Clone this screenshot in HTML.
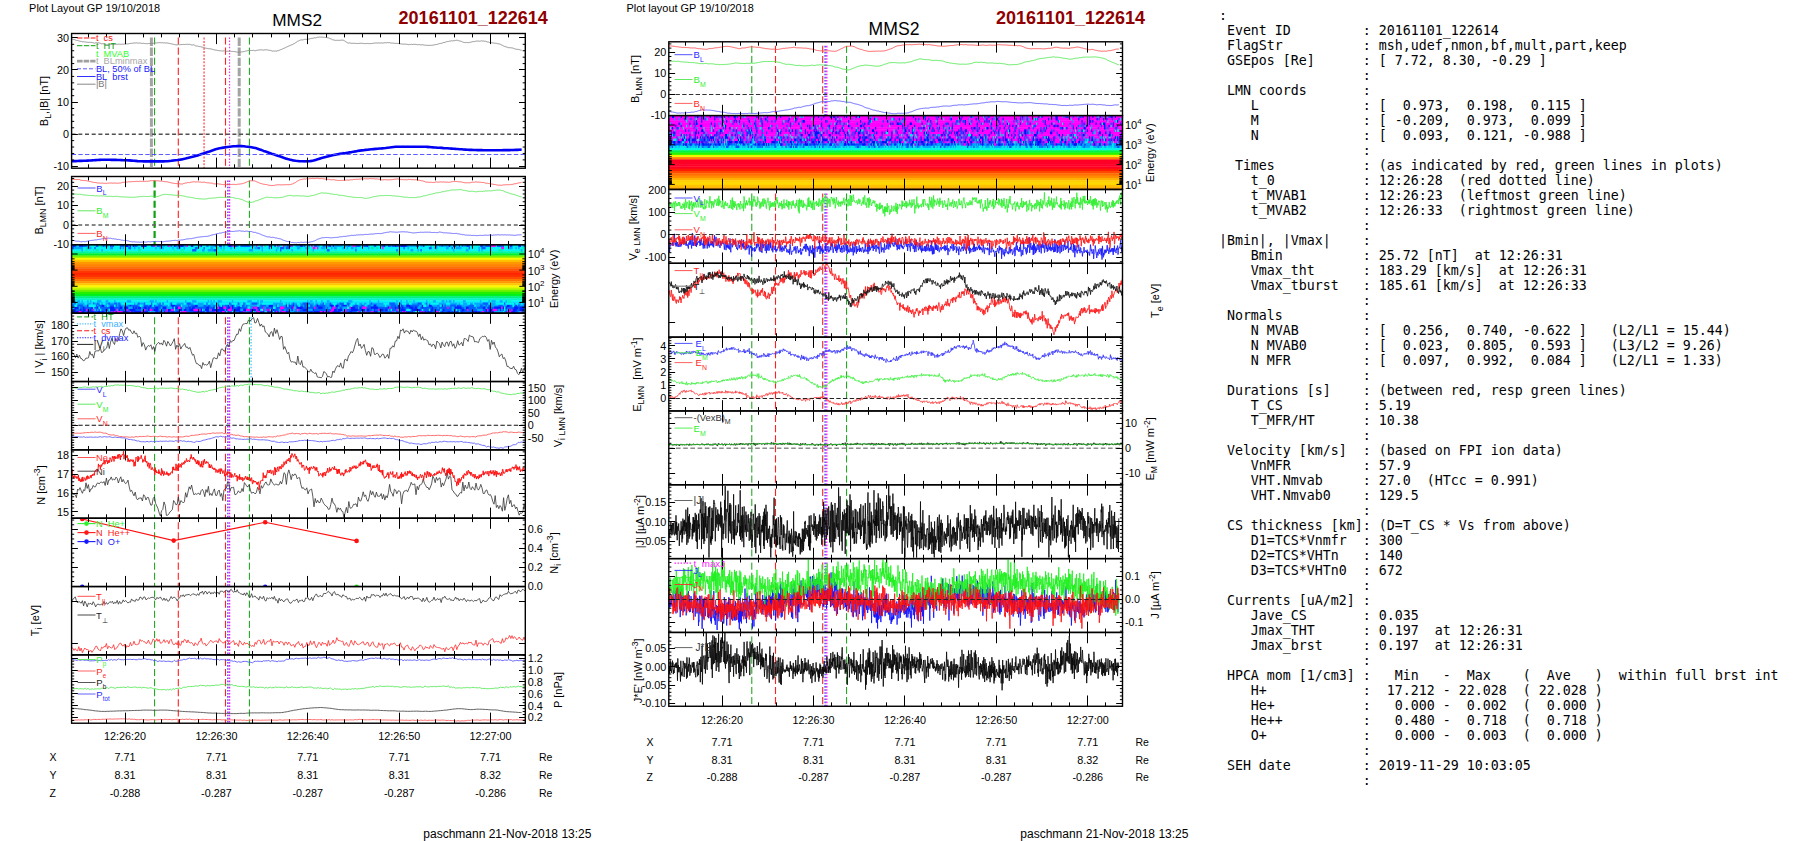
<!DOCTYPE html>
<html><head><meta charset="utf-8"><title>MMS2 20161101_122614</title>
<style>
html,body{margin:0;padding:0;background:#fff}
body{width:1804px;height:841px;position:relative;overflow:hidden}
svg{position:absolute;left:0;top:0;font-family:"Liberation Sans",Arial,sans-serif}
pre{position:absolute;left:1218.9px;top:7.9px;margin:0;font-family:"DejaVu Sans Mono","Liberation Mono",monospace;font-size:13.29px;line-height:15px;color:#000;white-space:pre}
</style></head><body>
<svg width="1804" height="841" viewBox="0 0 1804 841">
<g id="left">
<path d="M151.40 37.50V168.20" stroke="#a4a4a4" stroke-width="3.0" stroke-dasharray="8.4 1.7" fill="none"/>
<path d="M239.20 37.50V168.20" stroke="#a4a4a4" stroke-width="3.0" stroke-dasharray="8.4 1.7" fill="none"/>
<path d="M154.60 37.50V168.20" stroke="#10a010" stroke-width="1.0" stroke-dasharray="7.1 3.0" fill="none"/>
<path d="M249.40 37.50V168.20" stroke="#10a010" stroke-width="1.0" stroke-dasharray="7.1 3.0" fill="none"/>
<path d="M178.30 37.50V168.20" stroke="#ff2020" stroke-width="1.1" stroke-dasharray="7.1 3.0" fill="none"/>
<path d="M225.50 37.50V168.20" stroke="#ff2020" stroke-width="1.1" stroke-dasharray="7.1 3.0" fill="none"/>
<path d="M204.10 37.50V168.20" stroke="#ff7878" stroke-width="1.7" stroke-dasharray="2 1.4" fill="none"/>
<path d="M229.60 37.50V168.20" stroke="#ff20ff" stroke-width="1.1" stroke-dasharray="1.5 1.6" fill="none"/>
<clipPath id="lc1"><rect x="71.60" y="33.50" width="453.70" height="134.70"/></clipPath>
<g clip-path="url(#lc1)">
<path d="M71.6 38.9l1 .4 1 .3 1 0 1 .5 1 .3 1 .1 1 .3 1 .3 1 .2 1 .2 1 .3 1 0 1 .1 1 .1 1 .2 1 .1 1 .1 1-.1 1 .1 1 .1 1 .1 1 .3 1 .3 1-.4 1-.1 1 .1 1 .1 1 .2 1 .2 1 .5 1-.1 1 .1 1 .5 1 .2 1 .2 1 0 1-.2 1 .1 1 .1 1-.2 1-.1 1 0 1-.1 1 0 1 0 1 0 1-.1 1 0 1 .1 1 0 1-.2 1 .1 1-.2 1 .1 1-.2 1 0 1-.1 1-.3 1-.1 1-.1 1 0 1-.2 1-.2 1 .1 1-.1 1 .1 1 .2 1-.2 1 .1 1 .3 1 0 1-.1 1 .2 1 .1 1 .1 1 0 1-.2 1 0 1-.1 1 .1 1 0 1-.3 1-.3 1 0 1 .1 1-.2 1-.1 1 0 1 0 1 .1 1 0 1 0 1 0 1 .3 1-.2 1 .2 1 .2 1 .1 1 .3 1 .1 1 .3 1 .2 1 .2 1 .3 1 .1 1-.1 1-.3 1 .2 1 0 1-.2 1 0 1-.1 1 .1 1-.1 1 0 1-.1 1 .1 1-.1 1 .3 1 .4 1 0 1-.2 1 .4 1 .7 1 .1 1 .1 1 .3 1 .2 1 .1 1 .3 1 .3 1 .3 1 .3 1 .2 1 .2 1 .2 1 .1 1 .2 1 .1 1 .1 1 .4 1 .3 1 .2 1 .2 1 .1 1 .2 1 .2 1 .2 1-.1 1 .3 1 0 1-.1 1 0 1 0 1 .4 1-.1 1 .1 1-.2 1 .1 1 .2 1 .1 1 0 1 .1 1 .2 1 .1 1 .3 1 .1 1-.2 1 0 1-.2 1-.1 1-.2 1-.1 1-.5 1-.1 1-.2 1-.3 1 0 1 .1 1 0 1 0 1-.2 1 .3 1 .1 1-.3 1-.2 1-.1 1-.2 1 0 1-.1 1 .2 1 .2 1-.4 1 .1 1-.2 1 .3 1 .2 1 .2 1 0 1 .4 1 .3 1-.1 1 .1 1-.1 1 .1 1-.4 1 0 1-.6 1-.4 1-.3 1-.5 1-.4 1-.5 1-.4 1-.6 1-.4 1-.5 1-.4 1-.4 1-.5 1-.3 1-.6 1-.5 1-.7 1-.6 1-.8 1-.3 1-.6 1-.4 1-.1 1 0 1-.2 1-.4 1 .1 1-.1 1-.3 1 .1 1-.2 1-.3 1-.2 1-.1 1-.2 1-.4 1 .2 1-.3 1-.4 1 0 1-.1 1 0 1 0 1 .1 1 .1 1 0 1 .2 1 .1 1 .1 1 .2 1 .5 1 .4 1 .3 1 .7 1 .1 1 .3 1 .2 1-.1 1 0 1 0 1 .1 1-.2 1-.1 1 .1 1-.1 1 1 1 .5 1 .6 1 .6 1 .3 1-.2 1 .2 1 .2 1 0 1 0 1 .1 1-.1 1 .2 1 0 1 0 1-.2 1 0 1-.1 1 .2 1 .1 1 .1 1 0 1 0 1-.2 1 .1 1 .2 1-.1 1-.1 1-.1 1-.2 1-.1 1-.1 1-.1 1 .2 1-.1 1 0 1 0 1-.1 1 .2 1-.2 1-.1 1-.1 1 .1 1-.2 1 .1 1-.1 1 .4 1 .1 1 0 1 .1 1 .1 1 .1 1 0 1 0 1 .1 1 0 1 .3 1 .2 1 .1 1 .1 1-.1 1 .1 1 .1 1 .1 1 .3 1-.3 1 .1 1-.2 1 .2 1-.2 1 0 1 .1 1 .2 1 .1 1-.1 1 0 1 .3 1 0 1-.2 1 .3 1 .1 1 .2 1 0 1 .1 1-.1 1 .1 1-.1 1 0 1 0 1-.3 1-.2 1-.2 1-.1 1-.2 1-.5 1-.2 1-.2 1 0 1-.5 1-.4 1 0 1-.4 1-.4 1-.2 1 0 1-.4 1-.1 1-.2 1 .1 1-.2 1 0 1-.3 1-.1 1 0 1 .4 1 .3 1 .1 1 .4 1 .5 1 .3 1 .2 1 .2 1-.2 1 .1 1 0 1-.2 1-.1 1-.3 1-.3 1-.2 1 .1 1-.4 1-.1 1 0 1 0 1 .1 1-.1 1-.3 1 .3 1-.1 1 .2 1 .1 1 .4 1 .3 1 .1 1 .4 1 .1 1 .1 1 .2 1 .1 1 .2 1 .1 1 .1 1 .3 1 .1 1 .3 1 .3 1 .6 1 .3 1 .7 1 .4 1 .3 1 .3 1 .4 1 .3 1 0 1 0 1 .2 1 .1 1 .4 1 .4 1 .3 1 .2 1 0 1 .2 1 .2 1 .4 1 .1" fill="none" stroke="#8a8a8a" stroke-width="0.9"/>
<path d="M71.6 161.2l1-.1 1-.1 1-.5 1 .4 1 .2 1-.1 1 .1 1 0 1-.2 1 .2 1-.1 1-.2 1-.2 1 .1 1-.1 1 .1 1-.2 1 0 1-.2 1 .1 1-.1 1 0 1 0 1-.2 1 .1 1 .3 1-.4 1-.4 1-.3 1 .1 1 .1 1 .2 1 .1 1 .1 1 0 1 0 1 .1 1-.2 1-.1 1 .1 1 .3 1-.1 1-.2 1-.1 1 .2 1 0 1 .3 1-.4 1 .3 1 .2 1-.3 1 .1 1 .2 1 .1 1 .2 1 .5 1 0 1-.1 1-.1 1 .1 1 0 1 0 1 .1 1 .1 1-.1 1-.3 1-.4 1 .4 1 .1 1 .4 1 0 1-.1 1 .1 1 0 1-.2 1-.2 1 .4 1 .1 1 .1 1-.1 1-.1 1 .1 1 0 1-.1 1-.1 1-.1 1 0 1 .3 1-.2 1 .3 1-.1 1 0 1-.2 1-.1 1-.1 1-.1 1-.2 1-.2 1-.2 1-.4 1-.1 1 0 1 .1 1 0 1 .4 1-.1 1-.3 1 .2 1-.4 1 0 1-.4 1-.2 1-.6 1 0 1-.3 1-.4 1 .1 1-.1 1-.3 1-.4 1-.3 1-.3 1-.1 1-.2 1-.4 1-.4 1-.5 1-.5 1-.5 1-.3 1-.2 1-.1 1-.5 1-.2 1-.4 1 .1 1-.4 1-.3 1-.5 1-.5 1-.3 1-.5 1-.2 1-.6 1-.2 1-.4 1 .1 1-.3 1 0 1-.4 1-.1 1-.3 1-.3 1-.1 1-.2 1-.1 1 .1 1 0 1-.2 1-.4 1-.2 1-.1 1-.5 1 .2 1-.1 1 0 1 .2 1 .1 1 .1 1-.1 1 .1 1 .2 1-.1 1 .3 1 .3 1-.3 1 .2 1-.1 1 .5 1 .3 1 0 1 0 1 .2 1 .3 1 .6 1 .4 1 .3 1 .4 1 0 1 .5 1 .5 1 .4 1 .2 1 .5 1 .7 1 .4 1 .1 1 .6 1-.1 1 .4 1 .2 1 .6 1 .1 1 .6 1 .4 1 0 1-.1 1 .3 1 .7 1 .3 1 .4 1 .4 1 .5 1 .4 1 .4 1 .1 1 .5 1 .5 1-.1 1 .7 1 .3 1 0 1-.3 1 .3 1 .3 1 0 1-.3 1 .3 1-.1 1-.1 1 .6 1 .4 1 .1 1-.2 1 .1 1-.5 1 0 1-.2 1-.4 1-.5 1 0 1-.2 1-.2 1-.1 1-.5 1-.5 1-.7 1-.3 1 0 1-.3 1 0 1-.5 1-.3 1-.4 1-.4 1 .2 1-.1 1-.4 1-.3 1-.3 1-.4 1-.1 1-.4 1-.2 1-.3 1-.2 1-.3 1-.4 1-.2 1-.2 1-.1 1 0 1 .3 1 0 1-.1 1 0 1-.3 1 .1 1 0 1-.5 1 0 1 0 1-.7 1-.3 1-.2 1-.5 1-.2 1-.3 1 .1 1 0 1 .4 1-.1 1 .1 1-.1 1-.1 1-.3 1-.5 1-.2 1 .1 1 .2 1 .1 1 0 1-.3 1 .2 1 .1 1-.2 1-.1 1-.4 1 .2 1 0 1-.2 1 0 1-.1 1-.2 1-.4 1-.4 1-.4 1 0 1 .3 1-.4 1-.1 1 0 1-.3 1 0 1-.3 1 .3 1-.2 1 .1 1 .1 1 0 1-.4 1 0 1 .2 1 0 1 0 1-.1 1 0 1 .2 1 0 1 .4 1 0 1-.3 1-.3 1 .3 1 0 1 .2 1 .1 1 .3 1 .2 1-.2 1 0 1 .2 1-.3 1 .3 1 .2 1 .2 1 0 1 0 1-.2 1 0 1 0 1 0 1 0 1 .1 1 .3 1-.2 1 .2 1-.3 1-.4 1 .1 1 .1 1 .2 1-.2 1 .1 1 .2 1 .3 1 .1 1 .2 1-.1 1 0 1 .1 1 .2 1-.1 1-.1 1 .2 1 .5 1 .1 1 .1 1 0 1 .3 1 .2 1 .3 1 .1 1-.2 1-.1 1-.1 1-.2 1 .3 1 .2 1-.2 1 .4 1 0 1-.2 1 .1 1 0 1-.1 1-.4 1 .1 1 .1 1-.5 1 .2 1 .2 1-.1 1 .1 1 0 1-.1 1 0 1 .3 1-.3 1 .1 1 .1 1-.1 1-.1 1-.2 1-.1 1 .1 1 .1 1-.1 1 .6 1-.1 1 .1 1-.1 1-.1 1 .3 1-.1 1 .2 1 .2 1-.2 1 .1 1-.2 1 .5 1-.1 1-.3 1-.4 1-.3 1-.1 1-.2 1-.2 1-.1 1 0" fill="none" stroke="#5a5aff" stroke-width="0.8"/>
<path d="M71.6 161.2l2 0 2-.1 2-.1 2-.1 2 0 2-.1 2-.1 2-.1 2-.1 2-.1 2-.2 2-.1 2-.1 2-.1 2-.1 2 0 2 0 2 0 2 0 2 .1 2 0 2 0 2 .1 2 0 2 .1 2 .1 2 0 2 .1 2 .1 2 .2 2 .2 2 .1 2 .2 2 .1 2 .1 2 .1 2 0 2 0 2 0 2 0 2 0 2 0 2 0 2 0 2 0 2 0 2-.1 2-.1 2-.2 2-.2 2-.3 2-.3 2-.2 2-.3 2-.3 2-.4 2-.4 2-.5 2-.5 2-.5 2-.5 2-.6 2-.6 2-.6 2-.7 2-.7 2-.7 2-.7 2-.6 2-.7 2-.7 2-.7 2-.5 2-.5 2-.4 2-.3 2-.3 2-.3 2-.3 2-.2 2-.2 2-.1 2-.1 2-.1 2 .1 2 .1 2 .3 2 .2 2 .3 2 .3 2 .4 2 .4 2 .6 2 .7 2 .7 2 .8 2 .7 2 .7 2 .7 2 .7 2 .6 2 .7 2 .7 2 .6 2 .7 2 .7 2 .7 2 .7 2 .5 2 .4 2 .4 2 .4 2 .2 2 .2 2 0 2 0 2 0 2 0 2 0 2-.3 2-.4 2-.6 2-.6 2-.6 2-.6 2-.5 2-.5 2-.5 2-.6 2-.5 2-.4 2-.4 2-.4 2-.3 2-.3 2-.3 2-.3 2-.4 2-.3 2-.3 2-.4 2-.3 2-.4 2-.3 2-.3 2-.2 2-.3 2-.2 2-.2 2-.2 2-.2 2-.2 2-.2 2-.2 2-.1 2-.2 2-.2 2-.3 2-.2 2-.3 2-.2 2-.2 2-.1 2 0 2 0 2 0 2 0 2 0 2 0 2 0 2 0 2 0 2 0 2 0 2 0 2 0 2 .1 2 .1 2 .1 2 .2 2 .2 2 .1 2 .2 2 .1 2 .1 2 .2 2 .1 2 .1 2 .2 2 .1 2 .1 2 .2 2 .1 2 .2 2 .1 2 .2 2 .1 2 .1 2 .2 2 0 2 .1 2 0 2 .1 2 0 2 0 2 .1 2 0 2 0 2 0 2 0 2 0 2 0 2 0 2 0 2 0 2-.1 2 0 2 0 2 0 2-.1 2 0 2-.1 2 0 2-.1 2 0" fill="none" stroke="#0000f4" stroke-width="2.6" stroke-linejoin="round"/>
</g>
<path d="M71.60 134.20H525.30" stroke="#505050" stroke-width="1.4" stroke-dasharray="4.0 2.7" fill="none"/>
<path d="M71.60 154.50H525.30" stroke="#4848ff" stroke-width="0.9" stroke-dasharray="4.4 2.3" fill="none"/>
<path d="M88.50 168.20v-3.90M88.50 33.50v3.90M106.50 168.20v-3.90M106.50 33.50v3.90M125.50 168.20v-10.60M125.50 33.50v10.60M143.50 168.20v-3.90M143.50 33.50v3.90M161.50 168.20v-3.90M161.50 33.50v3.90M179.50 168.20v-3.90M179.50 33.50v3.90M198.50 168.20v-3.90M198.50 33.50v3.90M216.50 168.20v-10.60M216.50 33.50v10.60M234.50 168.20v-3.90M234.50 33.50v3.90M252.50 168.20v-3.90M252.50 33.50v3.90M271.50 168.20v-3.90M271.50 33.50v3.90M289.50 168.20v-3.90M289.50 33.50v3.90M307.50 168.20v-10.60M307.50 33.50v10.60M326.50 168.20v-3.90M326.50 33.50v3.90M344.50 168.20v-3.90M344.50 33.50v3.90M362.50 168.20v-3.90M362.50 33.50v3.90M380.50 168.20v-3.90M380.50 33.50v3.90M399.50 168.20v-10.60M399.50 33.50v10.60M417.50 168.20v-3.90M417.50 33.50v3.90M435.50 168.20v-3.90M435.50 33.50v3.90M454.50 168.20v-3.90M454.50 33.50v3.90M472.50 168.20v-3.90M472.50 33.50v3.90M490.50 168.20v-10.60M490.50 33.50v10.60M508.50 168.20v-3.90M508.50 33.50v3.90" stroke="#000" stroke-width="1.0" fill="none"/>
<path d="M71.60 37.50h6.30M525.30 37.50h-6.30M71.60 69.50h6.30M525.30 69.50h-6.30M71.60 102.50h6.30M525.30 102.50h-6.30M71.60 134.50h6.30M525.30 134.50h-6.30M71.60 166.50h6.30M525.30 166.50h-6.30M71.60 159.88h2.60M525.30 159.88h-2.60M71.60 153.46h2.60M525.30 153.46h-2.60M71.60 147.04h2.60M525.30 147.04h-2.60M71.60 140.62h2.60M525.30 140.62h-2.60M71.60 127.78h2.60M525.30 127.78h-2.60M71.60 121.36h2.60M525.30 121.36h-2.60M71.60 114.94h2.60M525.30 114.94h-2.60M71.60 108.52h2.60M525.30 108.52h-2.60M71.60 95.68h2.60M525.30 95.68h-2.60M71.60 89.26h2.60M525.30 89.26h-2.60M71.60 82.84h2.60M525.30 82.84h-2.60M71.60 76.42h2.60M525.30 76.42h-2.60M71.60 63.58h2.60M525.30 63.58h-2.60M71.60 57.16h2.60M525.30 57.16h-2.60M71.60 50.74h2.60M525.30 50.74h-2.60M71.60 44.32h2.60M525.30 44.32h-2.60" stroke="#000" stroke-width="1.0" fill="none"/>
<rect x="71.60" y="33.50" width="453.70" height="134.70" fill="none" stroke="#000" stroke-width="1.4"/>
<text x="69.10" y="41.79" font-size="10.8" text-anchor="end">30</text>
<text x="69.10" y="73.89" font-size="10.8" text-anchor="end">20</text>
<text x="69.10" y="105.99" font-size="10.8" text-anchor="end">10</text>
<text x="69.10" y="138.09" font-size="10.8" text-anchor="end">0</text>
<text x="69.10" y="169.59" font-size="10.8" text-anchor="end">-10</text>
<text transform="translate(47.80 101.00) rotate(-90)" font-size="11" text-anchor="middle">B<tspan font-size="8.8" dy="3.2">L</tspan><tspan dy="-3.2">&#8203;</tspan>,|B| [nT]</text>
<path d="M77.00 38.00h18.50" stroke="#ff1010" stroke-width="1.1" stroke-dasharray="5.4 1.5" fill="none"/>
<text x="95.90" y="41.20" font-size="9.25" fill="#ff1010">t&#160;&#160;cs</text>
<path d="M77.00 45.70h18.50" stroke="#10a010" stroke-width="1.0" stroke-dasharray="5.4 1.5" fill="none"/>
<text x="95.90" y="48.90" font-size="9.25" fill="#10a010">t&#160;&#160;HT</text>
<text x="95.90" y="56.60" font-size="9.25" fill="#30ff30">t&#160;&#160;MVAB</text>
<path d="M77.00 61.10h18.50" stroke="#a0a0a0" stroke-width="2.6" stroke-dasharray="5.6 1.0" fill="none"/>
<text x="95.90" y="64.30" font-size="9.25" fill="#a8a8a8">t&#160;&#160;BLminmax</text>
<path d="M77.00 68.80h18.50" stroke="#4848ff" stroke-width="0.9" stroke-dasharray="4 2" fill="none"/>
<text x="95.90" y="72.00" font-size="9.25" fill="#2020ff">BL, 50% of BL</text>
<path d="M77.00 76.50h18.50" stroke="#3030ff" stroke-width="1.0" fill="none"/>
<text x="95.90" y="79.70" font-size="9.25" fill="#2020ff">BL&#160;&#160;brst</text>
<path d="M77.00 84.20h18.50" stroke="#888" stroke-width="1.0" fill="none"/>
<text x="95.90" y="87.40" font-size="9.25" fill="#777">|B|</text>
<path d="M154.60 180.50V244.84" stroke="#10a010" stroke-width="2.2" stroke-dasharray="7.1 3.0" fill="none"/>
<path d="M249.40 180.50V244.84" stroke="#10a010" stroke-width="1.0" stroke-dasharray="7.1 3.0" fill="none"/>
<path d="M178.30 180.50V244.84" stroke="#ff2020" stroke-width="1.1" stroke-dasharray="7.1 3.0" fill="none"/>
<path d="M225.50 180.50V244.84" stroke="#ff2020" stroke-width="1.1" stroke-dasharray="7.1 3.0" fill="none"/>
<path d="M227.90 180.50V244.84" stroke="#3030ff" stroke-width="1.3" stroke-dasharray="1.6 1.5" fill="none"/>
<path d="M229.60 180.50V244.84" stroke="#ff10ff" stroke-width="1.3" stroke-dasharray="1.6 1.5" fill="none"/>
<clipPath id="lc2"><rect x="71.60" y="176.50" width="453.70" height="68.34"/></clipPath>
<g clip-path="url(#lc2)">
<path d="M71.6 179.6l1-.3 1 .1 1 .1 1 0 1 .1 1-.1 1 .1 1 0 1 .6 1 .2 1 0 1 .1 1 .1 1 0 1 .1 1 .3 1 .2 1 .3 1 .1 1 .2 1 .4 1 .2 1 .1 1 .1 1 .1 1 .3 1 0 1 0 1 .2 1-.1 1 0 1 .1 1 .1 1 0 1 .1 1-.3 1 .1 1-.1 1-.1 1 0 1 .2 1-.1 1-.1 1 .1 1 0 1 .1 1 0 1-.2 1 0 1-.3 1-.3 1-.1 1 0 1-.1 1-.2 1 0 1-.3 1 .1 1 0 1-.2 1 0 1-.1 1 .1 1-.2 1-.1 1 .1 1 .2 1-.3 1 0 1 .1 1-.1 1 .2 1-.1 1 0 1-.2 1 .1 1-.1 1-.2 1-.4 1 .1 1 0 1 0 1 .1 1 .1 1-.1 1 0 1 0 1 .3 1 0 1 0 1 .2 1 .2 1 .2 1 0 1 0 1 .2 1 .3 1 .3 1 .2 1 .2 1 .2 1 .1 1 .3 1 0 1 .1 1 .1 1 .1 1-.1 1 .3 1 0 1 0 1-.5 1-.2 1-.3 1 0 1-.5 1 .1 1 0 1-.3 1-.2 1-.2 1-.1 1 0 1 .2 1-.1 1 0 1 0 1 .2 1 0 1 .2 1-.1 1 0 1 0 1 .3 1 .2 1 .1 1 0 1 .2 1 .1 1 0 1 .2 1 .5 1 .1 1 0 1-.1 1-.1 1 .2 1 .2 1 .1 1 .2 1 .1 1 .1 1-.1 1 0 1 .1 1-.1 1 0 1-.1 1 0 1 .1 1-.1 1 0 1 0 1 .1 1 .1 1-.4 1 0 1-.1 1-.2 1-.1 1-.2 1-.3 1-.5 1-.2 1-.5 1-.5 1-.3 1-.5 1 0 1-.1 1 .1 1 0 1 .1 1 .4 1 .5 1 .3 1 .5 1 .4 1 .5 1 .1 1 .4 1 .2 1 .2 1 .1 1 .1 1 .3 1 .3 1 .1 1 .1 1 .2 1-.1 1 0 1-.2 1-.3 1 0 1-.3 1 .1 1 0 1 .1 1 0 1-.1 1 0 1-.1 1 0 1 0 1 0 1 0 1-.1 1 0 1-.4 1-.3 1-.6 1-.4 1-.4 1-.9 1-.6 1-.5 1-.6 1-.2 1-.2 1-.3 1-.1 1-.1 1 0 1-.2 1 0 1 .1 1-.2 1-.1 1-.1 1-.1 1 .2 1 0 1-.1 1-.2 1 0 1 .3 1 0 1 0 1 0 1 0 1 .3 1 0 1 .2 1 .1 1 .1 1 0 1 .3 1 .1 1 .1 1-.1 1 0 1 .2 1 .2 1 .1 1 .2 1 .1 1-.1 1 0 1 0 1-.1 1 0 1 0 1-.1 1-.1 1-.1 1 .2 1-.2 1-.2 1-.1 1 .1 1-.4 1 0 1 0 1-.2 1 .1 1 0 1-.2 1 0 1-.3 1-.1 1 .2 1-.2 1 .2 1-.1 1 .1 1 0 1-.3 1 0 1 .1 1 0 1 0 1 .2 1 0 1 0 1 .1 1 .2 1 .1 1 .3 1 .3 1 0 1-.1 1-.1 1 0 1 .1 1 0 1 .1 1-.1 1 0 1-.1 1-.1 1-.2 1-.2 1 0 1-.2 1-.1 1 .2 1 0 1 .4 1 .2 1-.1 1 .1 1 0 1 0 1 .1 1-.1 1-.4 1 .2 1 0 1 .2 1 0 1-.1 1 .2 1-.1 1 .1 1 .3 1 .1 1 .1 1 .2 1 .3 1 .1 1 .3 1 .3 1 .5 1 .1 1 0 1 .2 1 0 1 0 1 0 1 .2 1-.1 1 0 1-.4 1-.1 1 .3 1-.1 1-.1 1-.1 1 .1 1 .1 1-.2 1 .2 1 0 1 .1 1-.1 1 .2 1-.1 1-.2 1-.2 1-.2 1 0 1-.2 1 .1 1 0 1 .2 1 .1 1 .1 1-.1 1 .2 1 .3 1 .2 1 .2 1 .1 1 0 1-.1 1 .1 1 0 1-.2 1-.3 1-.1 1 0 1 0 1-.3 1 .1 1 .1 1 0 1 .1 1 .1 1 .1 1 .1 1 0 1 .3 1 .2 1 .4 1-.2 1 .3 1 .2 1 .1 1 .2 1 .2 1 .2 1 .1 1 .1 1 .3 1 .2 1 .1 1 0 1 0 1 .1 1-.2 1-.2 1 0 1-.1 1-.1 1 0 1 .1 1-.2 1 .1 1-.3 1 0 1-.4 1-.2 1-.1 1-.2 1-.3 1-.3 1-.1 1-.2 1-.2" fill="none" stroke="#ff5050" stroke-width="0.85"/>
<path d="M71.6 193.7l1 .1 1 .3 1 .1 1-.1 1 .1 1 0 1 .1 1-.1 1 .1 1 .2 1 .3 1 .1 1 .1 1-.1 1 .4 1-.1 1 .2 1 .1 1-.1 1 .1 1 0 1 .1 1 .1 1 .3 1-.2 1 .1 1 0 1 .2 1-.3 1 .1 1 .1 1-.2 1 .2 1 .1 1 .2 1 .1 1-.1 1 0 1 0 1 .1 1 .2 1-.1 1-.1 1 0 1-.1 1 .1 1 0 1 .4 1 0 1 0 1 .2 1-.1 1 0 1 .1 1 .2 1-.2 1 .2 1 0 1 0 1 .1 1 0 1 0 1 0 1-.2 1 0 1-.3 1 .1 1-.3 1-.2 1 .2 1-.1 1-.2 1 .2 1-.1 1 .1 1 0 1 0 1-.1 1-.2 1 0 1 .1 1 .2 1 .4 1-.2 1 0 1-.2 1-.3 1-.4 1-.4 1-.3 1-.4 1-.2 1-.2 1 .1 1 .1 1 0 1 .2 1 .1 1 0 1 0 1 .1 1 .2 1 .1 1 .1 1 .1 1-.1 1 .1 1-.1 1 .3 1 .1 1 .2 1 .2 1 .2 1 .1 1 .4 1 .2 1 0 1 .3 1-.1 1 .4 1 .1 1 .1 1 .4 1 .3 1 0 1 .1 1 .1 1 .2 1 0 1-.1 1 .2 1 0 1 0 1 0 1-.2 1-.1 1-.4 1-.1 1 .1 1-.2 1 0 1 0 1-.1 1-.2 1-.1 1-.2 1-.2 1 0 1 0 1 .1 1-.1 1 .1 1-.1 1 0 1 0 1 0 1 0 1 0 1 0 1 0 1 .2 1 .3 1 .1 1 .5 1 .2 1-.2 1 .2 1 .4 1 .3 1 .2 1 .3 1 .5 1 .5 1 .4 1 .4 1 .4 1 .3 1 0 1 .1 1-.1 1-.2 1-.2 1-.3 1-.8 1-.1 1-.3 1-.4 1-.4 1-.3 1-.5 1-.2 1-.4 1-.4 1-.4 1-.2 1 0 1 .2 1 0 1 0 1 0 1 .1 1 .3 1-.1 1 .2 1-.3 1 .1 1 .1 1-.2 1-.2 1 0 1-.1 1-.4 1-.2 1-.5 1-.1 1-.3 1-.3 1-.1 1 0 1 .2 1 .3 1 0 1 0 1-.1 1-.1 1 .1 1 0 1 .1 1 0 1 .2 1-.2 1 0 1 .2 1 .2 1-.1 1 .2 1-.1 1-.1 1-.4 1-.1 1-.2 1-.2 1-.2 1-.4 1-.4 1-.2 1-.4 1-.3 1-.3 1-.2 1 0 1 .2 1-.1 1 .2 1-.1 1 .2 1 .1 1 .3 1 .2 1 0 1 .2 1 .2 1 .1 1 .1 1-.1 1 .5 1 .2 1 .2 1 0 1 0 1 .2 1 .1 1 .3 1 0 1 .3 1 .3 1 0 1 .3 1 0 1 .1 1 .2 1 .2 1 0 1 .1 1 .2 1-.1 1 0 1 0 1-.1 1 .2 1 .1 1 .4 1 .2 1 .1 1-.1 1-.1 1-.1 1-.4 1 0 1-.3 1-.4 1-.3 1-.2 1 0 1-.3 1-.2 1-.1 1-.2 1 0 1 0 1-.2 1 .2 1-.2 1 .1 1-.1 1 0 1-.1 1 .2 1-.1 1 .1 1 .3 1 0 1 0 1 .2 1 0 1 .1 1 0 1 .3 1 .1 1 0 1 .3 1 .2 1 .1 1 0 1 0 1 .1 1 .2 1 .2 1-.2 1 0 1 .1 1 0 1-.1 1 .1 1-.2 1-.2 1-.2 1 0 1-.2 1-.3 1-.2 1-.5 1 0 1-.2 1-.2 1-.3 1-.5 1-.1 1-.2 1-.2 1-.2 1-.3 1-.2 1-.3 1-.4 1 .2 1-.2 1-.3 1 0 1-.6 1-.1 1-.1 1-.3 1 0 1-.4 1-.1 1 0 1-.4 1-.3 1-.1 1 0 1-.1 1 0 1 0 1-.1 1 0 1-.1 1-.1 1-.2 1 .4 1 .2 1 .4 1 0 1 .2 1 .2 1 .2 1 .2 1 .2 1 0 1-.2 1 0 1 .3 1 .1 1 .2 1-.1 1-.1 1-.2 1 0 1-.1 1 0 1 .2 1-.3 1 0 1-.3 1 .1 1-.1 1-.1 1 0 1 .1 1-.1 1-.1 1-.3 1 0 1-.1 1-.2 1 0 1 .1 1-.1 1 .1 1 .3 1 0 1 .5 1 .6 1 .3 1 .5 1 .2 1 .4 1 .3 1 .4 1 .2 1 .2 1 .3 1 .3 1 .3 1 .4 1 .3 1 .4 1 .4 1 .2 1 .3" fill="none" stroke="#50e850" stroke-width="0.85"/>
<path d="M71.6 240.3l1 0 1 .2 1 .2 1 .3 1 .2 1 0 1 0 1 .2 1 .3 1 .1 1-.2 1-.1 1 .2 1-.1 1-.3 1-.1 1-.3 1-.2 1-.1 1-.2 1-.1 1-.1 1-.2 1-.1 1 0 1-.3 1-.1 1-.2 1-.1 1-.3 1-.1 1-.1 1-.1 1-.1 1-.1 1-.1 1-.2 1 .2 1-.1 1 .4 1 .2 1-.1 1 .3 1 0 1 .3 1 .2 1-.1 1 .2 1 .2 1 .4 1 0 1 .2 1 0 1 .1 1 0 1 .3 1 .2 1 .4 1 .2 1 .1 1 .2 1-.1 1 0 1 .2 1 0 1 .1 1 0 1 .1 1-.1 1 0 1 0 1 .1 1-.2 1 .1 1-.1 1-.2 1-.1 1 .1 1 0 1-.1 1-.1 1 .1 1-.2 1-.1 1 .2 1-.2 1 .1 1 0 1 0 1 0 1 .3 1-.1 1-.2 1-.2 1-.1 1 0 1-.1 1-.1 1-.1 1-.2 1-.1 1-.1 1-.1 1-.1 1 .2 1-.1 1-.3 1 .1 1-.1 1-.2 1 0 1-.2 1-.2 1-.2 1-.3 1-.1 1 0 1-.2 1-.1 1 .1 1-.4 1-.1 1-.2 1-.3 1-.3 1-.1 1-.1 1-.2 1-.1 1-.1 1-.1 1-.1 1-.1 1-.1 1 0 1-.1 1-.3 1-.1 1-.5 1-.3 1-.2 1-.3 1-.1 1-.3 1-.6 1 0 1-.1 1-.4 1 0 1-.1 1-.5 1-.1 1-.2 1 .1 1-.3 1-.1 1-.2 1-.1 1-.2 1 0 1 0 1 .1 1-.2 1-.2 1 0 1-.1 1-.1 1-.2 1 .3 1 .2 1-.1 1 .1 1 .3 1-.3 1 0 1 0 1 .2 1 .1 1 0 1 .1 1 .4 1 .3 1 .1 1 0 1 .6 1 .2 1 .2 1 .4 1 .5 1 .5 1 .4 1 .3 1 .4 1 .3 1 .5 1 .2 1 0 1 0 1 .4 1 .1 1-.1 1 .1 1 .2 1 .4 1 0 1 .3 1 .3 1 .1 1 .2 1 .5 1 .5 1 .4 1 .3 1 .4 1 .3 1 .2 1 .1 1 .2 1 .2 1 .5 1 0 1 .1 1 .2 1-.1 1 .2 1-.4 1 0 1 .2 1-.4 1-.1 1 .2 1 0 1-.2 1 0 1 0 1 .1 1 .1 1-.2 1-.2 1-.3 1-.1 1-.4 1-.3 1-.5 1-.6 1-.6 1-.2 1-.4 1-.3 1-.4 1-.1 1-.1 1-.1 1-.1 1 0 1 0 1 .1 1 .1 1 .1 1 0 1-.1 1-.1 1 0 1-.2 1 0 1 0 1-.2 1-.4 1 0 1-.1 1 0 1-.4 1 .1 1 0 1-.2 1-.2 1-.1 1-.2 1-.1 1-.3 1 .1 1 0 1-.1 1 0 1-.4 1 .1 1-.1 1-.1 1 0 1-.1 1 .1 1-.1 1-.2 1-.1 1 0 1 .1 1-.1 1-.3 1 .1 1-.2 1 .1 1-.1 1-.2 1-.2 1 0 1 0 1-.1 1 0 1 .2 1-.2 1-.3 1-.2 1-.3 1-.1 1-.2 1-.2 1 0 1-.3 1-.2 1 .2 1 .1 1 0 1 .1 1 .1 1 0 1 0 1-.2 1 0 1-.1 1-.1 1 0 1 0 1 0 1 .2 1-.1 1 .1 1 .3 1 0 1 .2 1 .2 1 .2 1 .1 1-.2 1 0 1-.1 1-.2 1 0 1-.1 1-.2 1 .1 1 0 1 0 1-.1 1 0 1 0 1 0 1 0 1 0 1 .1 1 .2 1 0 1 0 1-.1 1 .2 1 0 1 0 1-.3 1-.3 1 .2 1 .1 1 .3 1 .2 1 0 1 .1 1-.1 1 .2 1 0 1 .1 1 .1 1 .1 1 .2 1 0 1 0 1-.1 1 0 1 .4 1 0 1 .2 1 .3 1 .1 1 .3 1-.1 1 .2 1 .3 1 0 1 .1 1 0 1 .1 1-.1 1 .3 1 0 1-.2 1 .2 1 .1 1 0 1 0 1-.1 1-.1 1 0 1 0 1 0 1 0 1-.2 1-.1 1 .1 1 .1 1-.1 1-.2 1 .2 1 0 1 .1 1-.3 1 0 1-.1 1 0 1-.2 1 .2 1 0 1 .1 1-.2 1 0 1 .2 1-.2 1 .1 1 .1 1-.1 1 .1 1-.1 1 .2 1 0 1 0 1 .2 1 0 1 0 1-.2 1-.2 1 0 1 0 1-.1 1 0" fill="none" stroke="#5858ff" stroke-width="0.85"/>
</g>
<path d="M71.60 225.00H525.30" stroke="#606060" stroke-width="1.5" stroke-dasharray="3.9 2.8" fill="none"/>
<path d="M88.50 244.84v-3.90M88.50 176.50v3.90M106.50 244.84v-3.90M106.50 176.50v3.90M125.50 244.84v-10.60M125.50 176.50v10.60M143.50 244.84v-3.90M143.50 176.50v3.90M161.50 244.84v-3.90M161.50 176.50v3.90M179.50 244.84v-3.90M179.50 176.50v3.90M198.50 244.84v-3.90M198.50 176.50v3.90M216.50 244.84v-10.60M216.50 176.50v10.60M234.50 244.84v-3.90M234.50 176.50v3.90M252.50 244.84v-3.90M252.50 176.50v3.90M271.50 244.84v-3.90M271.50 176.50v3.90M289.50 244.84v-3.90M289.50 176.50v3.90M307.50 244.84v-10.60M307.50 176.50v10.60M326.50 244.84v-3.90M326.50 176.50v3.90M344.50 244.84v-3.90M344.50 176.50v3.90M362.50 244.84v-3.90M362.50 176.50v3.90M380.50 244.84v-3.90M380.50 176.50v3.90M399.50 244.84v-10.60M399.50 176.50v10.60M417.50 244.84v-3.90M417.50 176.50v3.90M435.50 244.84v-3.90M435.50 176.50v3.90M454.50 244.84v-3.90M454.50 176.50v3.90M472.50 244.84v-3.90M472.50 176.50v3.90M490.50 244.84v-10.60M490.50 176.50v10.60M508.50 244.84v-3.90M508.50 176.50v3.90" stroke="#000" stroke-width="1.0" fill="none"/>
<path d="M71.60 186.50h6.30M525.30 186.50h-6.30M71.60 205.50h6.30M525.30 205.50h-6.30M71.60 225.50h6.30M525.30 225.50h-6.30M71.60 240.52h2.60M525.30 240.52h-2.60M71.60 236.64h2.60M525.30 236.64h-2.60M71.60 232.76h2.60M525.30 232.76h-2.60M71.60 228.88h2.60M525.30 228.88h-2.60M71.60 221.12h2.60M525.30 221.12h-2.60M71.60 217.24h2.60M525.30 217.24h-2.60M71.60 213.36h2.60M525.30 213.36h-2.60M71.60 209.48h2.60M525.30 209.48h-2.60M71.60 201.72h2.60M525.30 201.72h-2.60M71.60 197.84h2.60M525.30 197.84h-2.60M71.60 193.96h2.60M525.30 193.96h-2.60M71.60 190.08h2.60M525.30 190.08h-2.60M71.60 182.32h2.60M525.30 182.32h-2.60M71.60 178.44h2.60M525.30 178.44h-2.60" stroke="#000" stroke-width="1.0" fill="none"/>
<rect x="71.60" y="176.50" width="453.70" height="68.34" fill="none" stroke="#000" stroke-width="1.4"/>
<text x="69.10" y="190.09" font-size="10.8" text-anchor="end">20</text>
<text x="69.10" y="209.49" font-size="10.8" text-anchor="end">10</text>
<text x="69.10" y="228.89" font-size="10.8" text-anchor="end">0</text>
<text x="69.10" y="247.99" font-size="10.8" text-anchor="end">-10</text>
<text transform="translate(42.60 210.50) rotate(-90)" font-size="11" text-anchor="middle">B<tspan font-size="8.8" dy="3.2">LMN</tspan><tspan dy="-3.2">&#8203;</tspan> [nT]</text>
<path d="M77.50 188.00h18.00" stroke="#4040ff" stroke-width="0.9" fill="none"/>
<text x="96.30" y="191.60" font-size="9.5" fill="#2828ff">B<tspan font-size="6.9" dy="3.8">L</tspan><tspan dy="-3.8">&#8203;</tspan></text>
<path d="M77.50 210.80h18.00" stroke="#50e850" stroke-width="0.9" fill="none"/>
<text x="96.30" y="214.40" font-size="9.5" fill="#30f030">B<tspan font-size="6.9" dy="3.8">M</tspan><tspan dy="-3.8">&#8203;</tspan></text>
<path d="M77.50 233.40h18.00" stroke="#ff5050" stroke-width="0.9" fill="none"/>
<text x="96.30" y="237.00" font-size="9.5" fill="#ff2828">B<tspan font-size="6.9" dy="3.8">N</tspan><tspan dy="-3.8">&#8203;</tspan></text>
<g><rect x="71.60" y="244.84" width="453.70" height="2.49" fill="#00a8ff"/><rect x="71.60" y="246.98" width="453.70" height="2.49" fill="#00f4f4"/><rect x="71.60" y="249.11" width="453.70" height="2.49" fill="#00f4f4"/><rect x="71.60" y="251.25" width="453.70" height="2.49" fill="#00f4a0"/><rect x="71.60" y="253.38" width="453.70" height="2.49" fill="#00f030"/><rect x="71.60" y="255.52" width="453.70" height="2.49" fill="#78f000"/><rect x="71.60" y="257.65" width="453.70" height="2.49" fill="#f8fc00"/><rect x="71.60" y="259.79" width="453.70" height="2.49" fill="#ffc000"/><rect x="71.60" y="261.93" width="453.70" height="2.49" fill="#ff9800"/><rect x="71.60" y="264.06" width="453.70" height="2.49" fill="#ff8400"/><rect x="71.60" y="266.20" width="453.70" height="2.49" fill="#ff7000"/><rect x="71.60" y="268.33" width="453.70" height="2.49" fill="#ff5400"/><rect x="71.60" y="270.47" width="453.70" height="2.49" fill="#ff3800"/><rect x="71.60" y="272.60" width="453.70" height="2.49" fill="#ff2400"/><rect x="71.60" y="274.74" width="453.70" height="2.49" fill="#ff3000"/><rect x="71.60" y="276.87" width="453.70" height="2.49" fill="#ff4c00"/><rect x="71.60" y="279.01" width="453.70" height="2.49" fill="#ff7400"/><rect x="71.60" y="281.15" width="453.70" height="2.49" fill="#ff9800"/><rect x="71.60" y="283.28" width="453.70" height="2.49" fill="#ffc800"/><rect x="71.60" y="285.42" width="453.70" height="2.49" fill="#f8f800"/><rect x="71.60" y="287.55" width="453.70" height="2.49" fill="#c0f400"/><rect x="71.60" y="289.69" width="453.70" height="2.49" fill="#70f000"/><rect x="71.60" y="291.82" width="453.70" height="2.49" fill="#24f000"/><rect x="71.60" y="293.96" width="453.70" height="2.49" fill="#00f020"/><rect x="71.60" y="296.10" width="453.70" height="2.49" fill="#00f080"/><rect x="71.60" y="298.23" width="453.70" height="2.49" fill="#00f4c8"/><rect x="71.60" y="300.37" width="453.70" height="2.49" fill="#00f4f4"/><rect x="71.60" y="302.50" width="453.70" height="2.49" fill="#00a8ff"/><rect x="71.60" y="304.64" width="453.70" height="2.49" fill="#00a8ff"/><rect x="71.60" y="306.77" width="453.70" height="2.49" fill="#0060ff"/><rect x="71.60" y="308.91" width="453.70" height="2.49" fill="#0060ff"/><rect x="71.60" y="311.04" width="453.70" height="2.49" fill="#0020ff"/><path d="M71.6 245.9h1.4M82.9 245.9h4.3M95.7 245.9h2.8M102.8 245.9h1.4M111.3 245.9h2.8M119.8 245.9h4.3M134.0 245.9h2.8M151.0 245.9h2.8M156.7 245.9h4.3M170.8 245.9h1.4M175.1 245.9h1.4M206.3 245.9h1.4M214.8 245.9h1.4M223.3 245.9h1.4M227.6 245.9h1.4M234.6 245.9h2.8M240.3 245.9h9.9M270.1 245.9h1.4M287.1 245.9h4.3M304.1 245.9h1.4M308.4 245.9h1.4M314.0 245.9h2.8M322.6 245.9h2.8M328.2 245.9h1.4M348.1 245.9h1.4M355.2 245.9h5.7M363.7 245.9h2.8M373.6 245.9h2.8M382.1 245.9h1.4M387.8 245.9h2.8M392.0 245.9h2.8M396.3 245.9h4.3M406.2 245.9h1.4M416.1 245.9h2.8M436.0 245.9h1.4M441.6 245.9h1.4M454.4 245.9h1.4M461.5 245.9h1.4M465.8 245.9h1.4M468.6 245.9h1.4M479.9 245.9h1.4M485.6 245.9h5.7M496.9 245.9h7.1M523.9 245.9h1.4M71.6 248.0h2.8M94.3 248.0h1.4M111.3 248.0h1.4M119.8 248.0h1.4M128.3 248.0h2.8M194.9 248.0h2.8M203.5 248.0h1.4M257.3 248.0h2.8M268.7 248.0h1.4M280.0 248.0h4.3M285.7 248.0h4.3M307.0 248.0h1.4M403.4 248.0h1.4M428.9 248.0h2.8M451.6 248.0h1.4M468.6 248.0h1.4M481.3 248.0h4.3M192.1 250.2h4.3M213.4 250.2h2.8M280.0 250.2h1.4M326.8 250.2h2.8M355.2 250.2h1.4M396.3 250.2h1.4M420.4 250.2h1.4M74.4 303.6h1.4M92.9 303.6h1.4M97.1 303.6h1.4M108.5 303.6h1.4M114.1 303.6h2.8M118.4 303.6h1.4M138.2 303.6h1.4M143.9 303.6h1.4M151.0 303.6h1.4M159.5 303.6h1.4M162.3 303.6h1.4M170.8 303.6h1.4M186.4 303.6h4.3M206.3 303.6h1.4M229.0 303.6h1.4M237.5 303.6h1.4M243.2 303.6h1.4M251.7 303.6h5.7M292.8 303.6h1.4M302.7 303.6h4.3M308.4 303.6h1.4M322.6 303.6h1.4M329.6 303.6h1.4M339.6 303.6h4.3M346.7 303.6h2.8M370.8 303.6h1.4M389.2 303.6h5.7M399.1 303.6h1.4M417.5 303.6h4.3M426.1 303.6h1.4M482.8 303.6h5.7M504.0 303.6h1.4M71.6 305.7h2.8M77.3 305.7h5.7M95.7 305.7h1.4M98.5 305.7h2.8M109.9 305.7h4.3M115.6 305.7h1.4M118.4 305.7h2.8M128.3 305.7h1.4M131.1 305.7h7.1M143.9 305.7h4.3M151.0 305.7h1.4M153.8 305.7h1.4M158.1 305.7h4.3M175.1 305.7h5.7M187.9 305.7h1.4M190.7 305.7h4.3M203.5 305.7h2.8M207.7 305.7h2.8M213.4 305.7h1.4M217.6 305.7h1.4M221.9 305.7h1.4M224.7 305.7h2.8M230.4 305.7h1.4M233.2 305.7h1.4M241.7 305.7h2.8M246.0 305.7h1.4M260.2 305.7h5.7M275.8 305.7h1.4M289.9 305.7h2.8M295.6 305.7h1.4M301.3 305.7h1.4M304.1 305.7h2.8M309.8 305.7h2.8M315.5 305.7h1.4M318.3 305.7h7.1M338.1 305.7h1.4M341.0 305.7h1.4M348.1 305.7h1.4M353.7 305.7h4.3M360.8 305.7h2.8M367.9 305.7h2.8M390.6 305.7h5.7M402.0 305.7h1.4M410.5 305.7h8.5M437.4 305.7h1.4M444.5 305.7h1.4M450.2 305.7h5.7M458.7 305.7h2.8M468.6 305.7h5.7M479.9 305.7h2.8M485.6 305.7h1.4M488.4 305.7h2.8M498.4 305.7h4.3M509.7 305.7h2.8M518.2 305.7h1.4M84.4 312.1h2.8M95.7 312.1h1.4M104.2 312.1h1.4M108.5 312.1h2.8M112.7 312.1h1.4M128.3 312.1h1.4M132.6 312.1h1.4M158.1 312.1h1.4M166.6 312.1h1.4M169.4 312.1h1.4M175.1 312.1h1.4M186.4 312.1h7.1M209.1 312.1h5.7M219.1 312.1h1.4M229.0 312.1h2.8M234.6 312.1h4.3M244.6 312.1h1.4M247.4 312.1h2.8M255.9 312.1h1.4M280.0 312.1h1.4M294.2 312.1h2.8M298.4 312.1h8.5M312.6 312.1h1.4M325.4 312.1h2.8M339.6 312.1h1.4M346.7 312.1h2.8M352.3 312.1h4.3M359.4 312.1h1.4M362.3 312.1h2.8M366.5 312.1h4.3M380.7 312.1h11.3M397.7 312.1h1.4M400.5 312.1h1.4M403.4 312.1h1.4M410.5 312.1h1.4M419.0 312.1h1.4M426.1 312.1h1.4M431.7 312.1h4.3M440.2 312.1h1.4M443.1 312.1h4.3M450.2 312.1h1.4M453.0 312.1h2.8M460.1 312.1h1.4M462.9 312.1h9.9M479.9 312.1h1.4M484.2 312.1h1.4M487.0 312.1h1.4M489.9 312.1h1.4M505.5 312.1h1.4M515.4 312.1h2.8" stroke="#0060ff" stroke-width="2.44" fill="none"/><path d="M73.0 245.9h2.8M78.7 245.9h4.3M109.9 245.9h1.4M125.5 245.9h2.8M129.7 245.9h1.4M132.6 245.9h1.4M141.1 245.9h5.7M173.7 245.9h1.4M177.9 245.9h5.7M190.7 245.9h2.8M200.6 245.9h1.4M219.1 245.9h2.8M229.0 245.9h2.8M268.7 245.9h1.4M274.3 245.9h1.4M299.9 245.9h2.8M329.6 245.9h1.4M332.5 245.9h1.4M366.5 245.9h1.4M383.5 245.9h1.4M394.9 245.9h1.4M400.5 245.9h5.7M423.2 245.9h1.4M448.7 245.9h1.4M453.0 245.9h1.4M458.7 245.9h1.4M467.2 245.9h1.4M481.3 245.9h1.4M509.7 245.9h2.8M518.2 245.9h2.8M87.2 305.7h1.4M101.4 305.7h2.8M129.7 305.7h1.4M149.6 305.7h1.4M170.8 305.7h4.3M194.9 305.7h2.8M227.6 305.7h1.4M231.8 305.7h1.4M268.7 305.7h4.3M285.7 305.7h1.4M288.5 305.7h1.4M292.8 305.7h1.4M307.0 305.7h1.4M316.9 305.7h1.4M329.6 305.7h4.3M335.3 305.7h2.8M342.4 305.7h4.3M373.6 305.7h2.8M397.7 305.7h1.4M400.5 305.7h1.4M406.2 305.7h4.3M421.8 305.7h1.4M428.9 305.7h2.8M441.6 305.7h1.4M457.2 305.7h1.4M506.9 305.7h2.8M515.4 305.7h1.4M523.9 305.7h1.4M74.4 307.8h4.3M82.9 307.8h1.4M91.4 307.8h1.4M97.1 307.8h1.4M109.9 307.8h4.3M119.8 307.8h2.8M124.1 307.8h4.3M132.6 307.8h1.4M135.4 307.8h1.4M138.2 307.8h2.8M143.9 307.8h2.8M148.2 307.8h1.4M155.3 307.8h2.8M162.3 307.8h4.3M172.3 307.8h1.4M175.1 307.8h2.8M189.3 307.8h1.4M192.1 307.8h2.8M206.3 307.8h2.8M213.4 307.8h1.4M219.1 307.8h4.3M227.6 307.8h2.8M231.8 307.8h1.4M237.5 307.8h2.8M257.3 307.8h1.4M271.5 307.8h1.4M291.4 307.8h1.4M297.0 307.8h5.7M318.3 307.8h4.3M350.9 307.8h4.3M359.4 307.8h1.4M370.8 307.8h7.1M387.8 307.8h1.4M394.9 307.8h1.4M397.7 307.8h2.8M402.0 307.8h1.4M409.0 307.8h4.3M414.7 307.8h2.8M421.8 307.8h1.4M431.7 307.8h1.4M454.4 307.8h7.1M465.8 307.8h2.8M482.8 307.8h2.8M488.4 307.8h1.4M494.1 307.8h7.1M502.6 307.8h1.4M505.5 307.8h1.4M514.0 307.8h4.3M519.6 307.8h4.3M74.4 310.0h1.4M80.1 310.0h1.4M82.9 310.0h2.8M90.0 310.0h1.4M105.6 310.0h1.4M109.9 310.0h5.7M118.4 310.0h1.4M129.7 310.0h5.7M148.2 310.0h1.4M153.8 310.0h4.3M168.0 310.0h2.8M179.4 310.0h2.8M183.6 310.0h2.8M189.3 310.0h4.3M200.6 310.0h1.4M204.9 310.0h4.3M212.0 310.0h12.8M226.1 310.0h1.4M234.6 310.0h5.7M243.2 310.0h2.8M250.2 310.0h1.4M253.1 310.0h2.8M258.8 310.0h1.4M272.9 310.0h1.4M291.4 310.0h1.4M302.7 310.0h4.3M312.6 310.0h1.4M333.9 310.0h2.8M338.1 310.0h4.3M350.9 310.0h7.1M360.8 310.0h4.3M366.5 310.0h2.8M373.6 310.0h1.4M380.7 310.0h2.8M384.9 310.0h2.8M400.5 310.0h4.3M411.9 310.0h8.5M430.3 310.0h2.8M443.1 310.0h1.4M461.5 310.0h2.8M485.6 310.0h1.4M488.4 310.0h4.3M499.8 310.0h1.4M512.5 310.0h4.3M519.6 310.0h4.3" stroke="#0020ff" stroke-width="2.44" fill="none"/><path d="M77.3 245.9h1.4M90.0 245.9h5.7M108.5 245.9h1.4M114.1 245.9h5.7M131.1 245.9h1.4M138.2 245.9h2.8M146.7 245.9h4.3M155.3 245.9h1.4M165.2 245.9h1.4M172.3 245.9h1.4M187.9 245.9h2.8M193.5 245.9h4.3M202.0 245.9h4.3M209.1 245.9h1.4M216.2 245.9h2.8M221.9 245.9h1.4M224.7 245.9h2.8M238.9 245.9h1.4M251.7 245.9h1.4M254.5 245.9h1.4M257.3 245.9h2.8M263.0 245.9h1.4M265.8 245.9h2.8M271.5 245.9h2.8M275.8 245.9h1.4M280.0 245.9h2.8M292.8 245.9h2.8M305.5 245.9h2.8M309.8 245.9h1.4M312.6 245.9h1.4M319.7 245.9h2.8M331.1 245.9h1.4M342.4 245.9h1.4M360.8 245.9h1.4M369.3 245.9h4.3M376.4 245.9h4.3M386.4 245.9h1.4M419.0 245.9h1.4M424.6 245.9h5.7M431.7 245.9h4.3M437.4 245.9h1.4M451.6 245.9h1.4M457.2 245.9h1.4M460.1 245.9h1.4M470.0 245.9h1.4M472.8 245.9h7.1M495.5 245.9h1.4M504.0 245.9h5.7M512.5 245.9h5.7M521.0 245.9h1.4M75.9 303.6h1.4M84.4 303.6h2.8M91.4 303.6h1.4M100.0 303.6h1.4M102.8 303.6h2.8M121.2 303.6h12.8M135.4 303.6h1.4M145.3 303.6h5.7M152.4 303.6h4.3M160.9 303.6h1.4M163.8 303.6h5.7M172.3 303.6h4.3M183.6 303.6h2.8M193.5 303.6h4.3M203.5 303.6h2.8M207.7 303.6h2.8M213.4 303.6h2.8M219.1 303.6h9.9M231.8 303.6h5.7M240.3 303.6h2.8M246.0 303.6h4.3M258.8 303.6h1.4M261.6 303.6h11.3M282.9 303.6h2.8M287.1 303.6h1.4M289.9 303.6h1.4M297.0 303.6h2.8M314.0 303.6h1.4M318.3 303.6h1.4M324.0 303.6h1.4M332.5 303.6h4.3M343.8 303.6h2.8M350.9 303.6h4.3M356.6 303.6h2.8M362.3 303.6h1.4M366.5 303.6h2.8M383.5 303.6h5.7M397.7 303.6h1.4M402.0 303.6h4.3M409.0 303.6h2.8M421.8 303.6h2.8M427.5 303.6h1.4M430.3 303.6h8.5M445.9 303.6h4.3M457.2 303.6h1.4M460.1 303.6h2.8M467.2 303.6h2.8M472.8 303.6h1.4M488.4 303.6h1.4M495.5 303.6h8.5M505.5 303.6h8.5M515.4 303.6h2.8M521.0 303.6h1.4M74.4 305.7h2.8M88.6 305.7h7.1M107.0 305.7h1.4M114.1 305.7h1.4M139.7 305.7h2.8M152.4 305.7h1.4M168.0 305.7h1.4M180.8 305.7h1.4M216.2 305.7h1.4M220.5 305.7h1.4M234.6 305.7h1.4M240.3 305.7h1.4M257.3 305.7h1.4M277.2 305.7h1.4M287.1 305.7h1.4M298.4 305.7h1.4M308.4 305.7h1.4M333.9 305.7h1.4M349.5 305.7h2.8M365.1 305.7h1.4M384.9 305.7h1.4M399.1 305.7h1.4M423.2 305.7h2.8M440.2 305.7h1.4M474.3 305.7h1.4M512.5 305.7h1.4M92.9 307.8h1.4M98.5 307.8h1.4M173.7 307.8h1.4M214.8 307.8h1.4M247.4 307.8h2.8M272.9 307.8h2.8M294.2 307.8h1.4M346.7 307.8h2.8M504.0 307.8h1.4M94.3 310.0h1.4M100.0 310.0h1.4M108.5 310.0h1.4M173.7 310.0h1.4M202.0 310.0h1.4M260.2 310.0h2.8M270.1 310.0h1.4M390.6 310.0h1.4M406.2 310.0h4.3M421.8 310.0h1.4M428.9 310.0h1.4M440.2 310.0h1.4M455.8 310.0h1.4M504.0 310.0h1.4M149.6 312.1h1.4M179.4 312.1h1.4M226.1 312.1h1.4M231.8 312.1h1.4M253.1 312.1h1.4M264.4 312.1h2.8M272.9 312.1h1.4M360.8 312.1h1.4M414.7 312.1h4.3M438.8 312.1h1.4M458.7 312.1h1.4M502.6 312.1h1.4" stroke="#00f4f4" stroke-width="2.44" fill="none"/><path d="M98.5 245.9h2.8M264.4 245.9h1.4M85.8 248.0h1.4M216.2 248.0h2.8M275.8 248.0h1.4M299.9 248.0h1.4M308.4 248.0h1.4M370.8 248.0h2.8M376.4 248.0h1.4M465.8 248.0h1.4M522.5 248.0h1.4" stroke="#00f0a0" stroke-width="2.44" fill="none"/><path d="M153.8 245.9h1.4M168.0 245.9h1.4M186.4 245.9h1.4M231.8 245.9h1.4M255.9 245.9h1.4M261.6 245.9h1.4M277.2 245.9h1.4M282.9 245.9h1.4M291.4 245.9h1.4M311.2 245.9h1.4M352.3 245.9h2.8M491.3 245.9h4.3M312.6 248.0h2.8M316.9 248.0h1.4M382.1 248.0h1.4M501.2 248.0h2.8M177.9 307.8h2.8M217.6 307.8h1.4M223.3 307.8h2.8M230.4 307.8h1.4M251.7 307.8h1.4M254.5 307.8h2.8M263.0 307.8h1.4M280.0 307.8h4.3M292.8 307.8h1.4M314.0 307.8h1.4M332.5 307.8h2.8M349.5 307.8h1.4M362.3 307.8h4.3M389.2 307.8h1.4M447.3 307.8h1.4M501.2 307.8h1.4M85.8 310.0h1.4M92.9 310.0h1.4M115.6 310.0h1.4M126.9 310.0h1.4M143.9 310.0h1.4M149.6 310.0h2.8M166.6 310.0h1.4M170.8 310.0h2.8M193.5 310.0h4.3M199.2 310.0h1.4M210.5 310.0h1.4M227.6 310.0h4.3M246.0 310.0h4.3M255.9 310.0h1.4M263.0 310.0h1.4M265.8 310.0h1.4M268.7 310.0h1.4M280.0 310.0h1.4M295.6 310.0h1.4M298.4 310.0h1.4M331.1 310.0h2.8M345.2 310.0h1.4M377.8 310.0h1.4M396.3 310.0h1.4M467.2 310.0h1.4M487.0 310.0h1.4M492.7 310.0h4.3M508.3 310.0h1.4M511.1 310.0h1.4M78.7 312.1h2.8M111.3 312.1h1.4M114.1 312.1h1.4M117.0 312.1h5.7M129.7 312.1h1.4M141.1 312.1h1.4M165.2 312.1h1.4M180.8 312.1h5.7M214.8 312.1h1.4M221.9 312.1h2.8M243.2 312.1h1.4M257.3 312.1h2.8M275.8 312.1h1.4M281.4 312.1h4.3M307.0 312.1h1.4M319.7 312.1h2.8M324.0 312.1h1.4M329.6 312.1h2.8M342.4 312.1h1.4M345.2 312.1h1.4M358.0 312.1h1.4M365.1 312.1h1.4M370.8 312.1h2.8M392.0 312.1h1.4M402.0 312.1h1.4M404.8 312.1h1.4M420.4 312.1h1.4M423.2 312.1h1.4M436.0 312.1h2.8M481.3 312.1h2.8M506.9 312.1h4.3M521.0 312.1h1.4" stroke="#ff00ff" stroke-width="2.44" fill="none"/><path d="M74.4 248.0h8.5M87.2 248.0h4.3M109.9 248.0h1.4M122.6 248.0h1.4M134.0 248.0h1.4M138.2 248.0h1.4M155.3 248.0h1.4M159.5 248.0h1.4M162.3 248.0h1.4M172.3 248.0h1.4M176.5 248.0h4.3M183.6 248.0h1.4M210.5 248.0h2.8M220.5 248.0h1.4M223.3 248.0h1.4M230.4 248.0h1.4M254.5 248.0h2.8M261.6 248.0h1.4M277.2 248.0h1.4M297.0 248.0h2.8M305.5 248.0h1.4M321.1 248.0h4.3M331.1 248.0h1.4M333.9 248.0h2.8M342.4 248.0h1.4M346.7 248.0h1.4M350.9 248.0h2.8M355.2 248.0h1.4M367.9 248.0h1.4M407.6 248.0h1.4M434.6 248.0h2.8M445.9 248.0h2.8M455.8 248.0h5.7M478.5 248.0h1.4M508.3 248.0h4.3M515.4 248.0h1.4M518.2 248.0h1.4M81.5 250.2h1.4M101.4 250.2h1.4M202.0 250.2h2.8M207.7 250.2h5.7M248.8 250.2h4.3M261.6 250.2h1.4M275.8 250.2h1.4M291.4 250.2h1.4M312.6 250.2h1.4M410.5 250.2h2.8M417.5 250.2h1.4M453.0 250.2h1.4M465.8 250.2h2.8M478.5 250.2h1.4M481.3 250.2h1.4M489.9 250.2h1.4M521.0 250.2h1.4M71.6 301.4h1.4M74.4 301.4h1.4M77.3 301.4h2.8M81.5 301.4h1.4M87.2 301.4h1.4M90.0 301.4h1.4M97.1 301.4h4.3M105.6 301.4h2.8M114.1 301.4h1.4M126.9 301.4h4.3M149.6 301.4h4.3M155.3 301.4h1.4M166.6 301.4h1.4M185.0 301.4h1.4M192.1 301.4h4.3M207.7 301.4h1.4M210.5 301.4h1.4M213.4 301.4h1.4M217.6 301.4h4.3M231.8 301.4h1.4M247.4 301.4h4.3M257.3 301.4h1.4M260.2 301.4h2.8M280.0 301.4h1.4M307.0 301.4h1.4M309.8 301.4h2.8M315.5 301.4h1.4M321.1 301.4h1.4M326.8 301.4h2.8M348.1 301.4h4.3M369.3 301.4h1.4M377.8 301.4h1.4M396.3 301.4h1.4M400.5 301.4h1.4M406.2 301.4h1.4M413.3 301.4h1.4M426.1 301.4h1.4M433.1 301.4h2.8M441.6 301.4h2.8M445.9 301.4h1.4M448.7 301.4h2.8M453.0 301.4h1.4M462.9 301.4h2.8M479.9 301.4h1.4M488.4 301.4h1.4M491.3 301.4h4.3M499.8 301.4h2.8M505.5 301.4h1.4M71.6 307.8h2.8M78.7 307.8h1.4M122.6 307.8h1.4M128.3 307.8h4.3M141.1 307.8h1.4M160.9 307.8h1.4M166.6 307.8h5.7M182.2 307.8h2.8M250.2 307.8h1.4M264.4 307.8h1.4M325.4 307.8h1.4M328.2 307.8h2.8M338.1 307.8h1.4M342.4 307.8h4.3M358.0 307.8h1.4M417.5 307.8h2.8M437.4 307.8h1.4M451.6 307.8h2.8M464.3 307.8h1.4M475.7 307.8h1.4M485.6 307.8h1.4M489.9 307.8h1.4M97.1 310.0h1.4M117.0 310.0h1.4M141.1 310.0h1.4M159.5 310.0h2.8M182.2 310.0h1.4M203.5 310.0h1.4M209.1 310.0h1.4M224.7 310.0h1.4M240.3 310.0h2.8M264.4 310.0h1.4M278.6 310.0h1.4M284.3 310.0h1.4M289.9 310.0h1.4M292.8 310.0h2.8M297.0 310.0h1.4M307.0 310.0h5.7M342.4 310.0h2.8M365.1 310.0h1.4M372.2 310.0h1.4M387.8 310.0h1.4M397.7 310.0h1.4M451.6 310.0h2.8M458.7 310.0h1.4M477.1 310.0h5.7M498.4 310.0h1.4M501.2 310.0h1.4M506.9 310.0h1.4M523.9 310.0h1.4M105.6 312.1h2.8M148.2 312.1h1.4M151.0 312.1h4.3M162.3 312.1h1.4M204.9 312.1h1.4M246.0 312.1h1.4M254.5 312.1h1.4M278.6 312.1h1.4M289.9 312.1h4.3M297.0 312.1h1.4M341.0 312.1h1.4M356.6 312.1h1.4M377.8 312.1h2.8M393.4 312.1h2.8M399.1 312.1h1.4M413.3 312.1h1.4M494.1 312.1h8.5M504.0 312.1h1.4M518.2 312.1h2.8M522.5 312.1h2.8" stroke="#00a8ff" stroke-width="2.44" fill="none"/><path d="M85.8 250.2h1.4M92.9 250.2h1.4M95.7 250.2h2.8M138.2 250.2h2.8M173.7 250.2h1.4M180.8 250.2h2.8M221.9 250.2h2.8M287.1 250.2h1.4M311.2 250.2h1.4M324.0 250.2h1.4M335.3 250.2h1.4M436.0 250.2h1.4M498.4 250.2h4.3M519.6 250.2h1.4" stroke="#00f0b0" stroke-width="2.44" fill="none"/><path d="M148.2 301.4h1.4M159.5 301.4h1.4M341.0 301.4h1.4M409.0 301.4h2.8M428.9 301.4h1.4M431.7 301.4h1.4M489.9 301.4h1.4M506.9 301.4h4.3M522.5 301.4h1.4" stroke="#00f4c8" stroke-width="2.44" fill="none"/></g>
<path d="M71.60 254.00h6M525.30 254.00h-6M71.60 270.10h6M525.30 270.10h-6M71.60 286.30h6M525.30 286.30h-6M71.60 302.40h6M525.30 302.40h-6M71.60 258.85h3M525.30 258.85h-3M71.60 261.68h3M525.30 261.68h-3M71.60 263.69h3M525.30 263.69h-3M71.60 265.25h3M525.30 265.25h-3M71.60 266.53h3M525.30 266.53h-3M71.60 267.61h3M525.30 267.61h-3M71.60 268.54h3M525.30 268.54h-3M71.60 269.36h3M525.30 269.36h-3M71.60 274.95h3M525.30 274.95h-3M71.60 277.78h3M525.30 277.78h-3M71.60 279.79h3M525.30 279.79h-3M71.60 281.35h3M525.30 281.35h-3M71.60 282.63h3M525.30 282.63h-3M71.60 283.71h3M525.30 283.71h-3M71.60 284.64h3M525.30 284.64h-3M71.60 285.46h3M525.30 285.46h-3M71.60 291.15h3M525.30 291.15h-3M71.60 293.98h3M525.30 293.98h-3M71.60 295.99h3M525.30 295.99h-3M71.60 297.55h3M525.30 297.55h-3M71.60 298.83h3M525.30 298.83h-3M71.60 299.91h3M525.30 299.91h-3M71.60 300.84h3M525.30 300.84h-3M71.60 301.66h3M525.30 301.66h-3M71.60 307.25h3M525.30 307.25h-3M71.60 310.08h3M525.30 310.08h-3M71.60 312.09h3M525.30 312.09h-3M71.60 291.15h3M525.30 291.15h-3M71.60 293.98h3M525.30 293.98h-3M71.60 295.99h3M525.30 295.99h-3M71.60 297.55h3M525.30 297.55h-3M71.60 298.83h3M525.30 298.83h-3M71.60 299.91h3M525.30 299.91h-3M71.60 300.84h3M525.30 300.84h-3M71.60 301.66h3M525.30 301.66h-3" stroke="#000" stroke-width="1" fill="none"/>
<path d="M88.50 313.18v-3.90M88.50 244.84v3.90M106.50 313.18v-3.90M106.50 244.84v3.90M125.50 313.18v-10.60M125.50 244.84v10.60M143.50 313.18v-3.90M143.50 244.84v3.90M161.50 313.18v-3.90M161.50 244.84v3.90M179.50 313.18v-3.90M179.50 244.84v3.90M198.50 313.18v-3.90M198.50 244.84v3.90M216.50 313.18v-10.60M216.50 244.84v10.60M234.50 313.18v-3.90M234.50 244.84v3.90M252.50 313.18v-3.90M252.50 244.84v3.90M271.50 313.18v-3.90M271.50 244.84v3.90M289.50 313.18v-3.90M289.50 244.84v3.90M307.50 313.18v-10.60M307.50 244.84v10.60M326.50 313.18v-3.90M326.50 244.84v3.90M344.50 313.18v-3.90M344.50 244.84v3.90M362.50 313.18v-3.90M362.50 244.84v3.90M380.50 313.18v-3.90M380.50 244.84v3.90M399.50 313.18v-10.60M399.50 244.84v10.60M417.50 313.18v-3.90M417.50 244.84v3.90M435.50 313.18v-3.90M435.50 244.84v3.90M454.50 313.18v-3.90M454.50 244.84v3.90M472.50 313.18v-3.90M472.50 244.84v3.90M490.50 313.18v-10.60M490.50 244.84v10.60M508.50 313.18v-3.90M508.50 244.84v3.90" stroke="#000" stroke-width="1.0" fill="none"/>
<rect x="71.60" y="244.84" width="453.70" height="68.34" fill="none" stroke="#000" stroke-width="1.5"/>
<text x="527.80" y="258.40" font-size="11" fill="#000">10<tspan font-size="8" dy="-5">4</tspan><tspan dy="5">&#8203;</tspan></text>
<text x="527.80" y="274.50" font-size="11" fill="#000">10<tspan font-size="8" dy="-5">3</tspan><tspan dy="5">&#8203;</tspan></text>
<text x="527.80" y="290.70" font-size="11" fill="#000">10<tspan font-size="8" dy="-5">2</tspan><tspan dy="5">&#8203;</tspan></text>
<text x="527.80" y="306.80" font-size="11" fill="#000">10<tspan font-size="8" dy="-5">1</tspan><tspan dy="5">&#8203;</tspan></text>
<text transform="translate(557.70 279.00) rotate(-90)" font-size="11" text-anchor="middle">Energy (eV)</text>
<path d="M154.60 317.18V381.52" stroke="#10a010" stroke-width="1.0" stroke-dasharray="7.1 3.0" fill="none"/>
<path d="M249.40 317.18V381.52" stroke="#10a010" stroke-width="1.0" stroke-dasharray="7.1 3.0" fill="none"/>
<path d="M178.30 317.18V381.52" stroke="#ff2020" stroke-width="1.1" stroke-dasharray="7.1 3.0" fill="none"/>
<path d="M225.50 317.18V381.52" stroke="#ff2020" stroke-width="1.1" stroke-dasharray="7.1 3.0" fill="none"/>
<path d="M227.90 317.18V381.52" stroke="#3030ff" stroke-width="1.3" stroke-dasharray="1.6 1.5" fill="none"/>
<path d="M229.60 317.18V381.52" stroke="#ff10ff" stroke-width="1.3" stroke-dasharray="1.6 1.5" fill="none"/>
<path d="M251.10 317.18V381.52" stroke="#40c0ff" stroke-width="1.2" stroke-dasharray="1.5 1.6" fill="none"/>
<clipPath id="lc4"><rect x="71.60" y="313.18" width="453.70" height="68.34"/></clipPath>
<g clip-path="url(#lc4)">
<path d="M71.6 352l1.3 1.7 1.3 .8 1.3 3.2 1.3-3.6 1.3 4 1.3-2.9 1.3 3.2 1.3 .4 1.3 2 1.3-.5 1.3-2.2 1.3 .1 1.3-.4 1.3-6.3 1.3 3.6 1.3-.9 1.3 3.9 1.3-6.8 1.3-.4 1.3-.1 1.3 .1 1.3-3.7 1.3 5.3 1.3-.4 1.3-1.7 1.3-1.5 1.3-.9 1.3-6.4 1.3 6.9 1.3-6.4 1.3-3.9 1.3 4.2 1.3 2.1 1.3-6.1 1.3 3.2 1.3-1.6 1.3-6.5 1.3-4.6 1.3 2 1.3 4.7 1.3-5.5 1.3-2.1 1.3-.2 1.3 2.5 1.3-.6 1.3 2.6 1.3 1.6 1.3-3.1 1.3 3 1.3-.7 1.3 4.3 1.3-1.3 1.3 1.4 1.3 9 1.3-3.9 1.3 2.2 1.3 5.3 1.3-3.2 1.3-1.4 1.3 .8 1.3-1.5 1.3 4.6 1.3-2.8 1.3 4.8 1.3-6.3 1.3-1.6 1.3-1.2 1.3 2 1.3-1.4 1.3 2.2 1.3-4.8 1.3 1.9 1.3 4 1.3-4.8 1.3 2 1.3 2.6 1.3-2 1.3-2.4 1.3-2.9 1.3 10.6 1.3-4.2 1.3 2.3 1.3-3.8 1.3 5.5 1.3-2.8 1.3-.9 1.3-2 1.3 4 1.3-.5 1.3 2.2 1.3-1.7 1.3 4.1 1.3 3.7 1.3-.8 1.3 5.4 1.3 3.8 1.3 .1 1.3 1.7 1.3-.1 1.3 3.3 1.3-6.1 1.3 2.6 1.3-.6 1.3 .7 1.3-1.1 1.3-3 1.3 6.6 1.3-5 1.3-4.7 1.3-.2 1.3 .9 1.3-.1 1.3-5.8 1.3 3 1.3-6.5 1.3-.4 1.3 2.1 1.3 .2 1.3-5.4 1.3-1.5 1.3 2.6 1.3-6.4 1.3 1.8 1.3-1.8 1.3 0 1.3-3.3 1.3-3.1 1.3 .3 1.3-5.7 1.3 2.7 1.3-5.1 1.3-2.3 1.3-.2 1.3-.3 1.3 .2 1.3-3.5 1.3 .8 1.3-.7 1.3-1.7 1.3-1 1.3 5.4 1.3-.4 1.3-4.2 1.3 3.9 1.3 3.9 1.3-2.2 1.3 2.9 1.3-1.1 1.3 6.2 1.3 .9 1.3 1.2 1.3 2.9 1.3-4.7 1.3-.6 1.3 4.7 1.3-8.3 1.3 5.4 1.3-3.8 1.3 4.6 1.3 5.2 1.3-3.2 1.3 .4 1.3 12.6 1.3-2.7 1.3 3.4 1.3 3.8 1.3-1.5 1.3 7.2 1.3 2.6 1.3-.4 1.3 .5 1.3-.1 1.3 2.8 1.3-8.9 1.3 7.4 1.3 1.3 1.3-4.2 1.3 6.6 1.3-.3 1.3 1.3 1.3 1.4 1.3 2.1 1.3 .5 1.3-2.9 1.3 2.7 1.3 .5 1.3 1.1 1.3-.8 1.3 4.2 1.3 .4 1.3 .1 1.3 .4 1.3-1.4 1.3-4.8 1.3 .7 1.3 1.6 1.3 3.2 1.3-.8 1.3 1.1 1.3-.1 1.3-6.3 1.3 1.7 1.3-3.8 1.3-2.6 1.3-.7 1.3 1.5 1.3-4.2 1.3 4.8 1.3 .5 1.3-8.5 1.3-.5 1.3 1.9 1.3-5.1 1.3-1.9 1.3-2.6 1.3 1.4 1.3-3 1.3-4.8 1.3-4.6 1.3-2.1 1.3 7.5 1.3-1.8 1.3 4.3 1.3-1.8 1.3-2.2 1.3 6.2 1.3 4.7 1.3-3.8 1.3 .3 1.3 4.5 1.3-8.7 1.3 .9 1.3 5.9 1.3-.1 1.3-1.3 1.3 1.1 1.3 3.3 1.3-.9 1.3-2.4 1.3 .3 1.3 3.8 1.3-1.4 1.3-2.4 1.3 4 1.3-10.1 1.3-.1 1.3-2.5 1.3 1.5 1.3-6.2 1.3-.1 1.3-4.6 1.3 2.4 1.3-8.7 1.3 .8 1.3-2 1.3 4.3 1.3-2.4 1.3 .4 1.3 .4 1.3 2.6 1.3-3.9 1.3 1.8 1.3-2 1.3 1.1 1.3 0 1.3 1.7 1.3 3.8 1.3-2.7 1.3 5.8 1.3-3.1 1.3 3.7 1.3-1.4 1.3 1.3 1.3 .6 1.3 4.2 1.3-1.1 1.3 2.7 1.3-2.5 1.3 .8 1.3 3.9 1.3-7.8 1.3 1.4 1.3 1.3 1.3 4.3 1.3-5.9 1.3 3 1.3 1.6 1.3-4.4 1.3-.1 1.3 4.1 1.3-4.5 1.3-.5 1.3 5 1.3-2.5 1.3 4.6 1.3-2.1 1.3-5.6 1.3 4.4 1.3-.9 1.3-1.9 1.3 3.7 1.3-7.5 1.3 .2 1.3 .8 1.3 2 1.3-6.4 1.3 1.1 1.3 .4 1.3 .4 1.3 4.9 1.3-.4 1.3 .5 1.3 .6 1.3-3.9 1.3-1 1.3-1.4 1.3 .4 1.3-.8 1.3 1.6 1.3 3.8 1.3-1.8 1.3 9.9 1.3-9.1 1.3 4.1 1.3-2.4 1.3 5.1 1.3 1.5 1.3 3.2 1.3 5 1.3-1.9 1.3-.9 1.3 4.6 1.3-1 1.3 3.4 1.3 5.5 1.3-.1 1.3 1.8 1.3 .2 1.3 .2 1.3-2.4 1.3 3.1 1.3 .5 1.3 3.5 1.3 1.4 1.3-2 1.3-4.5 1.3 4.5 1.3-2.5 1.3-4.3" fill="none" stroke="#333" stroke-width="0.8"/>
</g>
<path d="M88.50 381.52v-3.90M88.50 313.18v3.90M106.50 381.52v-3.90M106.50 313.18v3.90M125.50 381.52v-10.60M125.50 313.18v10.60M143.50 381.52v-3.90M143.50 313.18v3.90M161.50 381.52v-3.90M161.50 313.18v3.90M179.50 381.52v-3.90M179.50 313.18v3.90M198.50 381.52v-3.90M198.50 313.18v3.90M216.50 381.52v-10.60M216.50 313.18v10.60M234.50 381.52v-3.90M234.50 313.18v3.90M252.50 381.52v-3.90M252.50 313.18v3.90M271.50 381.52v-3.90M271.50 313.18v3.90M289.50 381.52v-3.90M289.50 313.18v3.90M307.50 381.52v-10.60M307.50 313.18v10.60M326.50 381.52v-3.90M326.50 313.18v3.90M344.50 381.52v-3.90M344.50 313.18v3.90M362.50 381.52v-3.90M362.50 313.18v3.90M380.50 381.52v-3.90M380.50 313.18v3.90M399.50 381.52v-10.60M399.50 313.18v10.60M417.50 381.52v-3.90M417.50 313.18v3.90M435.50 381.52v-3.90M435.50 313.18v3.90M454.50 381.52v-3.90M454.50 313.18v3.90M472.50 381.52v-3.90M472.50 313.18v3.90M490.50 381.52v-10.60M490.50 313.18v10.60M508.50 381.52v-3.90M508.50 313.18v3.90" stroke="#000" stroke-width="1.0" fill="none"/>
<path d="M71.60 325.50h6.30M525.30 325.50h-6.30M71.60 341.50h6.30M525.30 341.50h-6.30M71.60 356.50h6.30M525.30 356.50h-6.30M71.60 372.50h6.30M525.30 372.50h-6.30M71.60 378.44h2.60M525.30 378.44h-2.60M71.60 375.32h2.60M525.30 375.32h-2.60M71.60 369.08h2.60M525.30 369.08h-2.60M71.60 365.96h2.60M525.30 365.96h-2.60M71.60 362.84h2.60M525.30 362.84h-2.60M71.60 359.72h2.60M525.30 359.72h-2.60M71.60 353.48h2.60M525.30 353.48h-2.60M71.60 350.36h2.60M525.30 350.36h-2.60M71.60 347.24h2.60M525.30 347.24h-2.60M71.60 344.12h2.60M525.30 344.12h-2.60M71.60 337.88h2.60M525.30 337.88h-2.60M71.60 334.76h2.60M525.30 334.76h-2.60M71.60 331.64h2.60M525.30 331.64h-2.60M71.60 328.52h2.60M525.30 328.52h-2.60M71.60 322.28h2.60M525.30 322.28h-2.60M71.60 319.16h2.60M525.30 319.16h-2.60M71.60 316.04h2.60M525.30 316.04h-2.60" stroke="#000" stroke-width="1.0" fill="none"/>
<rect x="71.60" y="313.18" width="453.70" height="68.34" fill="none" stroke="#000" stroke-width="1.4"/>
<text x="69.10" y="329.29" font-size="10.8" text-anchor="end">180</text>
<text x="69.10" y="344.89" font-size="10.8" text-anchor="end">170</text>
<text x="69.10" y="360.49" font-size="10.8" text-anchor="end">160</text>
<text x="69.10" y="376.09" font-size="10.8" text-anchor="end">150</text>
<text transform="translate(43.30 347.00) rotate(-90)" font-size="11" text-anchor="middle">| V<tspan font-size="8.8" dy="3.2">i</tspan><tspan dy="-3.2">&#8203;</tspan> | [km/s]</text>
<path d="M77.00 316.90h16.30" stroke="#10a010" stroke-width="1.0" stroke-dasharray="5 2.2" fill="none"/>
<text x="93.60" y="320.10" font-size="9.2" fill="#10a010">t&#160;&#160;HT</text>
<path d="M77.00 323.83h16.30" stroke="#50c0ff" stroke-width="1.1" stroke-dasharray="1.3 1.3" fill="none"/>
<text x="93.60" y="327.03" font-size="9.2" fill="#40b0ff">t&#160;&#160;vmax</text>
<path d="M77.00 330.76h16.30" stroke="#ff1010" stroke-width="1.1" stroke-dasharray="5 2.2" fill="none"/>
<text x="93.60" y="333.96" font-size="9.2" fill="#ff1010">t&#160;&#160;cs</text>
<path d="M77.00 337.69h16.30" stroke="#2020ff" stroke-width="1.1" stroke-dasharray="1.3 1.3" fill="none"/>
<text x="93.60" y="340.89" font-size="9.2" fill="#2020ff">t&#160;&#160;dvmax</text>
<path d="M77.00 344.40h16.30" stroke="#222" stroke-width="1.0" fill="none"/>
<text x="93.80" y="348.00" font-size="10" fill="#222">|V<tspan font-size="6.5" dy="2.5">i</tspan><tspan dy="-2.5">&#8203;</tspan></text>
<path d="M154.60 385.52V449.86" stroke="#10a010" stroke-width="1.0" stroke-dasharray="7.1 3.0" fill="none"/>
<path d="M249.40 385.52V449.86" stroke="#10a010" stroke-width="1.0" stroke-dasharray="7.1 3.0" fill="none"/>
<path d="M178.30 385.52V449.86" stroke="#ff2020" stroke-width="1.1" stroke-dasharray="7.1 3.0" fill="none"/>
<path d="M225.50 385.52V449.86" stroke="#ff2020" stroke-width="1.1" stroke-dasharray="7.1 3.0" fill="none"/>
<path d="M227.90 385.52V449.86" stroke="#3030ff" stroke-width="1.3" stroke-dasharray="1.6 1.5" fill="none"/>
<path d="M229.60 385.52V449.86" stroke="#ff10ff" stroke-width="1.3" stroke-dasharray="1.6 1.5" fill="none"/>
<clipPath id="lc5"><rect x="71.60" y="381.52" width="453.70" height="68.34"/></clipPath>
<g clip-path="url(#lc5)">
<path d="M71.6 388l1.4 .2 1.3-.6 1.4 .5 1.4 0 1.4-.5 1.3 .1 1.4-.1 1.4-.3 1.3-.2 1.4-.3 1.4 .8 1.3-.5 1.4 .6 1.4-.5 1.4-.1 1.3-.3 1.4 .4 1.4-.5 1.3 .5 1.4-.5 1.4 .1 1.3-.5 1.4 .9 1.4-.7 1.4-.2 1.3 .2 1.4-.6 1.4 .3 1.3-.7 1.4 .3 1.4-.5 1.3-.4 1.4 .2 1.4-.3 1.4 .5 1.3-.2 1.4 .1 1.4 0 1.3-.1 1.4 .2 1.4 .4 1.3-.2 1.4 0 1.4 .1 1.4 .3 1.3 0 1.4 .8 1.4-.6 1.3 .3 1.4 .5 1.4 .6 1.3 .1 1.4 .1 1.4 .3 1.4 .3 1.3 .5 1.4-.4 1.4 .2 1.3-.1 1.4 .2 1.4-.1 1.3-.5 1.4 .9 1.4-.6 1.4-.2 1.3-.1 1.4 .1 1.4 0 1.3 .2 1.4-.2 1.4 .2 1.3-.5 1.4 .3 1.4 0 1.4 .4 1.3 .1 1.4-.3 1.4 .4 1.3 .3 1.4 .2 1.4-.4 1.3 .6 1.4 .1 1.4 .1 1.4 .9 1.3-.5 1.4 .6 1.4 .4 1.3 .3 1.4 .1 1.4 .6 1.3 .2 1.4-.1 1.4 0 1.4-.4 1.3-.4 1.4 .6 1.4-1 1.3 .5 1.4-.9 1.4-.2 1.3-.4 1.4 0 1.4-.7 1.4 .2 1.3-.7 1.4-.5 1.4-.6 1.3-.2 1.4-.4 1.4 .2 1.3-.5 1.4-.7 1.4 .6 1.4-1 1.3 .9 1.4-.9 1.4 .4 1.3 .1 1.4-.3 1.4-.3 1.3 .5 1.4-.9 1.4-.1 1.4 .5 1.3-.9 1.4 0 1.4-.1 1.3-.4 1.4 0 1.4-.1 1.3 0 1.4 .4 1.4 0 1.4 0 1.3 .3 1.4-.2 1.4 .1 1.3 .1 1.4 .6 1.4 .4 1.3-.2 1.4-.3 1.4 .6 1.4 .4 1.3 .2 1.4 .1 1.4 .5 1.3 .2 1.4-.3 1.4 .6 1.3 0 1.4 .5 1.4 .5 1.4 .5 1.3 0 1.4 0 1.4 .3 1.3 .5 1.4-.1 1.4 .4 1.3 .4 1.4 .2 1.4-.1 1.4 .3 1.3 .4 1.4-.1 1.4-.4 1.3 .6 1.4 .1 1.4 0 1.3 .2 1.4-.2 1.4 .9 1.4-.1 1.3 0 1.4 .4 1.4 .2 1.3-.1 1.4-.3 1.4 0 1.3 1.3 1.4-.8 1.4 .2 1.4 .1 1.3-.4 1.4 .2 1.4-.7 1.3 .2 1.4-.9 1.4 .5 1.3-.2 1.4-.3 1.4-.3 1.4-.3 1.3-.1 1.4-.3 1.4-.7 1.3 .2 1.4-.7 1.4 0 1.3-.4 1.4 0 1.4-.4 1.4-.1 1.3-.5 1.4-.3 1.4 .3 1.3-.3 1.4-.1 1.4 0 1.3-.4 1.4 .6 1.4-.3 1.4 .6 1.3 .1 1.4 .4 1.4 .3 1.3 0 1.4-.1 1.4 .5 1.3 0 1.4-.1 1.4 .1 1.4-.8 1.3 .4 1.4 0 1.4-.6 1.3 .5 1.4-.1 1.4-.4 1.3 0 1.4 .1 1.4-.2 1.4-.2 1.3-.8 1.4-.2 1.4-.1 1.3 .1 1.4-.2 1.4 .1 1.3 .3 1.4 0 1.4-.1 1.4-.3 1.3 .2 1.4 .3 1.4 .2 1.3 .1 1.4-.5 1.4 .2 1.3-.1 1.4-.4 1.4 .6 1.4 0 1.3 .9 1.4-.1 1.4-.2 1.3 .3 1.4 .2 1.4 .4 1.3-.3 1.4 .3 1.4-.3 1.4 .3 1.3 0 1.4-.1 1.4-.2 1.3 .3 1.4-.4 1.4 .5 1.3-.4 1.4-.1 1.4 .6 1.4-.6 1.3 .1 1.4-.4 1.4 0 1.3 0 1.4-.3 1.4 .5 1.3-.6 1.4-.1 1.4 .6 1.4-.1 1.3-.8 1.4 .5 1.4 .4 1.3-.5 1.4 .2 1.4 0 1.3-.5 1.4 .3 1.4 .5 1.4 .2 1.3-.3 1.4 0 1.4 .3 1.3 0 1.4 .2 1.4-.3 1.3 .4 1.4 .4 1.4 .4 1.4-.2 1.3 1 1.4 .3 1.4 .4 1.3-.1 1.4 .8 1.4-.2 1.3 .1 1.4 1 1.4 .2 1.4 .3 1.3 .3 1.4 .2 1.4 .4 1.3 0 1.4 .2 1.4 .2 1.3-.5 1.4-.1 1.4 .2 1.4-.8 1.3 0 1.4-.1 1.4-.6 1.3 .3 1.4-.1 1.4-.9" fill="none" stroke="#50e850" stroke-width="0.85"/>
<path d="M71.6 433.1l1.4 0 1.3 0 1.4 .2 1.4-.2 1.4 .1 1.3 .1 1.4-.1 1.4-.1 1.3-.3 1.4-.1 1.4-.1 1.3 0 1.4 0 1.4-.3 1.4-.1 1.3 .3 1.4-.6 1.4 .4 1.3 .1 1.4-.3 1.4 .1 1.3 .3 1.4 .6 1.4 .1 1.4-.1 1.3 .7 1.4 .7 1.4 .3 1.3 .2 1.4 0 1.4-.2 1.3 .8 1.4 .1 1.4 .3 1.4 .6 1.3-.1 1.4 .2 1.4 .2 1.3 0 1.4 0 1.4 0 1.3 .4 1.4-.1 1.4-.3 1.4 .4 1.3-.3 1.4-.5 1.4 .4 1.3-.2 1.4-.4 1.4 .4 1.3-.3 1.4 0 1.4 .2 1.4-.7 1.3 .3 1.4 .2 1.4 .2 1.3-.2 1.4-.1 1.4 0 1.3 .3 1.4 .2 1.4-.5 1.4-.2 1.3 .5 1.4 0 1.4-.1 1.3 .4 1.4 .1 1.4-.3 1.3 .1 1.4 .3 1.4-.2 1.4-.2 1.3 .4 1.4-.2 1.4 .3 1.3-.3 1.4 0 1.4 .1 1.3-.3 1.4-.4 1.4-.2 1.4 .4 1.3-.3 1.4-.8 1.4-.1 1.3 .2 1.4-.4 1.4-.1 1.3 0 1.4-.4 1.4-.2 1.4-.3 1.3-.1 1.4 0 1.4 .2 1.3-.3 1.4-.4 1.4 .2 1.3-.3 1.4-.5 1.4 .2 1.4 .2 1.3-.4 1.4 .3 1.4-.3 1.3 .1 1.4-.3 1.4 1 1.3-.2 1.4 .4 1.4-.2 1.4 0 1.3 .8 1.4-.2 1.4 .8 1.3-.2 1.4 .6 1.4-.3 1.3-.1 1.4 .9 1.4 0 1.4 .3 1.3 .5 1.4-.2 1.4 .1 1.3 .2 1.4 0 1.4 0 1.3 .1 1.4 .1 1.4 .1 1.4-.2 1.3 .2 1.4 .2 1.4-.2 1.3 .1 1.4-.4 1.4 .3 1.3 0 1.4-.3 1.4-.3 1.4 .3 1.3-.1 1.4 .3 1.4-.6 1.3 .4 1.4-1.1 1.4 .3 1.3-.2 1.4-.2 1.4-.4 1.4-.3 1.3 0 1.4-.9 1.4 0 1.3-.5 1.4 0 1.4-.6 1.3 .6 1.4 .2 1.4-.4 1.4 .2 1.3 0 1.4 .8 1.4-.8 1.3 .1 1.4-.4 1.4 .2 1.3 .5 1.4-.4 1.4-.4 1.4 .5 1.3 .1 1.4 0 1.4-.1 1.3-.2 1.4 .8 1.4-.9 1.3 .2 1.4-.4 1.4 .2 1.4-.2 1.3 .4 1.4-.1 1.4-.2 1.3-.2 1.4 .7 1.4 .1 1.3 0 1.4-.2 1.4 .3 1.4 .1 1.3 0 1.4 .3 1.4 0 1.3 .6 1.4 0 1.4 1.3 1.3-.5 1.4 .3 1.4 .1 1.4-.4 1.3 .2 1.4 .2 1.4-.2 1.3 0 1.4 0 1.4-.1 1.3 .1 1.4 .1 1.4 0 1.4 .1 1.3-.4 1.4-.2 1.4 .2 1.3-.3 1.4 0 1.4-.3 1.3 0 1.4-.1 1.4 .1 1.4-.4 1.3 .3 1.4 .1 1.4 .5 1.3-.3 1.4 .2 1.4 0 1.3-.3 1.4 .9 1.4 0 1.4 .3 1.3-.5 1.4 .7 1.4 .1 1.3-.2 1.4 .7 1.4-.2 1.3 .3 1.4-.6 1.4 .2 1.4-.1 1.3-.4 1.4 .3 1.4 .1 1.3-.5 1.4 .1 1.4 0 1.3-.3 1.4-.3 1.4-.4 1.4 .4 1.3-.2 1.4-.1 1.4 .2 1.3-.1 1.4-.5 1.4 .4 1.3-.2 1.4 .2 1.4-.2 1.4 .3 1.3-.4 1.4 0 1.4 0 1.3 .1 1.4 .1 1.4 .3 1.3-.5 1.4 .3 1.4-.2 1.4 0 1.3 .3 1.4-.2 1.4 .6 1.3-.1 1.4 .1 1.4 .4 1.3 .3 1.4-.5 1.4-.3 1.4 .4 1.3 .2 1.4 .3 1.4-.3 1.3-.2 1.4 .5 1.4 0 1.3-.3 1.4 .1 1.4-.1 1.4 .5 1.3-1 1.4-.2 1.4-.1 1.3 0 1.4-.5 1.4-.1 1.3-.1 1.4 0 1.4-.8 1.4-.2 1.3-.3 1.4-.7 1.4-.1 1.3 0 1.4-.3 1.4 .3 1.3-.5 1.4-.3 1.4 .1 1.4-.6 1.3 .1 1.4 0 1.4 .2 1.3 .7 1.4-.6 1.4 0 1.3 .2 1.4 .3 1.4-.1 1.4 .1 1.3-.5 1.4 .1 1.4 .2 1.3 .1 1.4 .4 1.4-.7" fill="none" stroke="#ff5050" stroke-width="0.85"/>
<path d="M71.6 436.5l1.4 .4 1.3 0 1.4-.3 1.4 .1 1.4 0 1.3 .4 1.4-.1 1.4 .2 1.3-.6 1.4 .9 1.4-.4 1.3 .2 1.4-.2 1.4-.1 1.4 .2 1.3 .1 1.4-.2 1.4 0 1.3 .2 1.4-.4 1.4-.2 1.3 .5 1.4-.3 1.4-.3 1.4 .3 1.3 .1 1.4-.2 1.4 0 1.3 .4 1.4 .3 1.4-.3 1.3-.1 1.4 .4 1.4 .1 1.4-.2 1.3 .3 1.4 .2 1.4 0 1.3 .1 1.4 .7 1.4 .3 1.3 .6 1.4-.2 1.4 .4 1.4 .2 1.3 0 1.4 .7 1.4 .3 1.3-.1 1.4 .7 1.4 .1 1.3 0 1.4 .1 1.4 .1 1.4-.6 1.3 .5 1.4 0 1.4-.6 1.3 .5 1.4-.2 1.4 .2 1.3-.4 1.4 .1 1.4 0 1.4-.3 1.3 .3 1.4-.2 1.4 .1 1.3-.3 1.4 .4 1.4-.2 1.3-.2 1.4 .1 1.4 .2 1.4 .1 1.3-.9 1.4 .6 1.4-.1 1.3-.2 1.4-.1 1.4 .6 1.3-.5 1.4 .6 1.4 .3 1.4-.5 1.3 .4 1.4-.1 1.4 .4 1.3 .4 1.4 .1 1.4-1.1 1.3 .1 1.4 .1 1.4-.1 1.4-.6 1.3-.6 1.4-.1 1.4-.4 1.3-.4 1.4-.4 1.4-.1 1.3-.4 1.4-.5 1.4-.4 1.4-.6 1.3-.1 1.4 .2 1.4-.5 1.3-.4 1.4 .8 1.4-.2 1.3 .5 1.4-.3 1.4 0 1.4-.1 1.3 .9 1.4 .6 1.4-.4 1.3 .4 1.4 .6 1.4-.1 1.3 .3 1.4 0 1.4 .1 1.4 .3 1.3-.3 1.4 .2 1.4-.3 1.3 .2 1.4-.6 1.4 .1 1.3 .6 1.4-.3 1.4 .3 1.4 .1 1.3 .3 1.4 0 1.4 .1 1.3-.1 1.4 0 1.4 .1 1.3 .2 1.4 0 1.4 .3 1.4 .4 1.3 .4 1.4 .1 1.4-.1 1.3 .7 1.4 .3 1.4 .3 1.3 0 1.4-.4 1.4 0 1.4 .6 1.3-.4 1.4 .2 1.4 0 1.3-.8 1.4 .2 1.4-.1 1.3-.1 1.4-.1 1.4-.2 1.4-.2 1.3-.6 1.4 .1 1.4-.3 1.3 .1 1.4-.3 1.4 .2 1.3 0 1.4 0 1.4 .1 1.4 .1 1.3 0 1.4 .3 1.4 .1 1.3 .4 1.4 .1 1.4 .3 1.3-.5 1.4 .6 1.4-.5 1.4 0 1.3 0 1.4-.2 1.4 0 1.3-.4 1.4-.3 1.4-.2 1.3 .4 1.4-.6 1.4-.5 1.4 .1 1.3-.6 1.4 .6 1.4-1.2 1.3 .3 1.4-.3 1.4-.6 1.3 .3 1.4 .2 1.4-.1 1.4-.1 1.3 .2 1.4-.2 1.4 0 1.3-.1 1.4 .2 1.4-.4 1.3 .4 1.4-.3 1.4-.1 1.4 .4 1.3 .4 1.4-.1 1.4-.3 1.3 .4 1.4-.2 1.4 .2 1.3 .1 1.4-.6 1.4 .6 1.4-.3 1.3-.1 1.4-.3 1.4-.1 1.3 0 1.4 .4 1.4 .2 1.3-.4 1.4 .4 1.4-.1 1.4-.2 1.3 .9 1.4 .4 1.4 .1 1.3 .5 1.4 .4 1.4 0 1.3 .3 1.4 .7 1.4 .4 1.4 .3 1.3 .6 1.4 .4 1.4-.3 1.3 .4 1.4 .3 1.4 .1 1.3 .2 1.4-.2 1.4 .3 1.4 .4 1.3-.3 1.4-.5 1.4 .1 1.3 0 1.4-.5 1.4-.5 1.3 .3 1.4-.9 1.4 .3 1.4-.2 1.3-.4 1.4 .5 1.4-.3 1.3-.5 1.4 .4 1.4-.4 1.3-.4 1.4 .3 1.4 .3 1.4 0 1.3-.1 1.4 0 1.4 .1 1.3-.2 1.4 .4 1.4-.3 1.3 .1 1.4 0 1.4-.3 1.4 .1 1.3 .7 1.4-.1 1.4 0 1.3 .3 1.4 0 1.4 .4 1.3 0 1.4 .4 1.4-.2 1.4 1 1.3-.2 1.4 0 1.4 .7 1.3 .3 1.4 .5 1.4 0 1.3 .6 1.4 1.1 1.4-.9 1.4 .6 1.3 .1 1.4 .4 1.4-.3 1.3 .4 1.4 .5 1.4 0 1.3 .4 1.4-.6 1.4 .1 1.4 .5 1.3-1.2 1.4-.3 1.4 0 1.3-.3 1.4-.1 1.4-.6 1.3-.8 1.4-.3 1.4 0 1.4-.9 1.3-1.5 1.4 .3 1.4-.5 1.3 .1 1.4-.4 1.4 .4" fill="none" stroke="#5858ff" stroke-width="0.85"/>
</g>
<path d="M71.60 425.20H525.30" stroke="#111" stroke-width="1.1" stroke-dasharray="4.4 2.3" fill="none"/>
<path d="M88.50 449.86v-3.90M88.50 381.52v3.90M106.50 449.86v-3.90M106.50 381.52v3.90M125.50 449.86v-10.60M125.50 381.52v10.60M143.50 449.86v-3.90M143.50 381.52v3.90M161.50 449.86v-3.90M161.50 381.52v3.90M179.50 449.86v-3.90M179.50 381.52v3.90M198.50 449.86v-3.90M198.50 381.52v3.90M216.50 449.86v-10.60M216.50 381.52v10.60M234.50 449.86v-3.90M234.50 381.52v3.90M252.50 449.86v-3.90M252.50 381.52v3.90M271.50 449.86v-3.90M271.50 381.52v3.90M289.50 449.86v-3.90M289.50 381.52v3.90M307.50 449.86v-10.60M307.50 381.52v10.60M326.50 449.86v-3.90M326.50 381.52v3.90M344.50 449.86v-3.90M344.50 381.52v3.90M362.50 449.86v-3.90M362.50 381.52v3.90M380.50 449.86v-3.90M380.50 381.52v3.90M399.50 449.86v-10.60M399.50 381.52v10.60M417.50 449.86v-3.90M417.50 381.52v3.90M435.50 449.86v-3.90M435.50 381.52v3.90M454.50 449.86v-3.90M454.50 381.52v3.90M472.50 449.86v-3.90M472.50 381.52v3.90M490.50 449.86v-10.60M490.50 381.52v10.60M508.50 449.86v-3.90M508.50 381.52v3.90" stroke="#000" stroke-width="1.0" fill="none"/>
<path d="M71.60 387.50h6.30M525.30 387.50h-6.30M71.60 400.50h6.30M525.30 400.50h-6.30M71.60 412.50h6.30M525.30 412.50h-6.30M71.60 425.50h6.30M525.30 425.50h-6.30M71.60 437.50h6.30M525.30 437.50h-6.30M71.60 447.56h2.60M525.30 447.56h-2.60M71.60 445.08h2.60M525.30 445.08h-2.60M71.60 442.59h2.60M525.30 442.59h-2.60M71.60 440.11h2.60M525.30 440.11h-2.60M71.60 435.14h2.60M525.30 435.14h-2.60M71.60 432.65h2.60M525.30 432.65h-2.60M71.60 430.17h2.60M525.30 430.17h-2.60M71.60 427.69h2.60M525.30 427.69h-2.60M71.60 422.71h2.60M525.30 422.71h-2.60M71.60 420.23h2.60M525.30 420.23h-2.60M71.60 417.75h2.60M525.30 417.75h-2.60M71.60 415.26h2.60M525.30 415.26h-2.60M71.60 410.29h2.60M525.30 410.29h-2.60M71.60 407.81h2.60M525.30 407.81h-2.60M71.60 405.32h2.60M525.30 405.32h-2.60M71.60 402.83h2.60M525.30 402.83h-2.60M71.60 397.87h2.60M525.30 397.87h-2.60M71.60 395.38h2.60M525.30 395.38h-2.60M71.60 392.89h2.60M525.30 392.89h-2.60M71.60 390.41h2.60M525.30 390.41h-2.60M71.60 385.44h2.60M525.30 385.44h-2.60M71.60 382.95h2.60M525.30 382.95h-2.60" stroke="#000" stroke-width="1.0" fill="none"/>
<rect x="71.60" y="381.52" width="453.70" height="68.34" fill="none" stroke="#000" stroke-width="1.4"/>
<text x="527.80" y="391.81" font-size="10.8">150</text>
<text x="527.80" y="404.24" font-size="10.8">100</text>
<text x="527.80" y="416.66" font-size="10.8">50</text>
<text x="527.80" y="429.09" font-size="10.8">0</text>
<text x="527.80" y="441.51" font-size="10.8">-50</text>
<text transform="translate(561.90 416.00) rotate(-90)" font-size="11" text-anchor="middle">V<tspan font-size="8.8" dy="3.2">i LMN</tspan><tspan dy="-3.2">&#8203;</tspan> [km/s]</text>
<path d="M77.50 389.20h18.00" stroke="#4040ff" stroke-width="0.9" fill="none"/>
<text x="96.30" y="392.80" font-size="9.5" fill="#2828ff">V<tspan font-size="6.9" dy="3.8">L</tspan><tspan dy="-3.8">&#8203;</tspan></text>
<path d="M77.50 404.20h18.00" stroke="#50e850" stroke-width="0.9" fill="none"/>
<text x="96.30" y="407.80" font-size="9.5" fill="#30f030">V<tspan font-size="6.9" dy="3.8">M</tspan><tspan dy="-3.8">&#8203;</tspan></text>
<path d="M77.50 418.80h18.00" stroke="#ff5050" stroke-width="0.9" fill="none"/>
<text x="96.30" y="422.40" font-size="9.5" fill="#ff2828">V<tspan font-size="6.9" dy="3.8">N</tspan><tspan dy="-3.8">&#8203;</tspan></text>
<path d="M154.60 453.86V518.20" stroke="#10a010" stroke-width="1.0" stroke-dasharray="7.1 3.0" fill="none"/>
<path d="M249.40 453.86V518.20" stroke="#10a010" stroke-width="1.0" stroke-dasharray="7.1 3.0" fill="none"/>
<path d="M178.30 453.86V518.20" stroke="#ff2020" stroke-width="1.1" stroke-dasharray="7.1 3.0" fill="none"/>
<path d="M225.50 453.86V518.20" stroke="#ff2020" stroke-width="1.1" stroke-dasharray="7.1 3.0" fill="none"/>
<path d="M227.90 453.86V518.20" stroke="#3030ff" stroke-width="1.3" stroke-dasharray="1.6 1.5" fill="none"/>
<path d="M229.60 453.86V518.20" stroke="#ff10ff" stroke-width="1.3" stroke-dasharray="1.6 1.5" fill="none"/>
<clipPath id="lc6"><rect x="71.60" y="449.86" width="453.70" height="68.34"/></clipPath>
<g clip-path="url(#lc6)">
<path d="M71.6 491l1.2 3.5 1.2-.4 1.2 .4 1.2 3.2 1.2-8.6 1.2 1.2 1.2-2.7 1.2 3 1.2 2.7 1.2-3.6 1.2 .9 1.2-7.8 1.2 5.6 1.2-3.8 1.2 7.5 1.2-3.1 1.2-.2 1.2-3.4 1.2 1.6 1.2-.3 1.2-3.1 1.2-.7 1.2 1 1.2-1.6 1.2-.1 1.2 .8 1.2-1.5 1.2 4 1.2-7.5 1.2 6.8 1.2-4.8 1.2-.2 1.2-2.9 1.2 3.2 1.2-.9 1.2 .7 1.2-2.8 1.2 1.3 1.2 4.6 1.2-3.8 1.2-2.4 1.2 5.2 1.2-2.6 1.2 2.7 1.2 1.6 1.2-1 1.2-2.6 1.2 6.7 1.2 4.7 1.2-1.3 1.2 3.2 1.2 2.5 1.2-3.8 1.2 6.1 1.2 1.7 1.2-1.8 1.2 .1 1.2-.4 1.2 3.2 1.2-6.3 1.2 1.5 1.2 3.8 1.2-2.6 1.2 .1 1.2 4 1.2 3.7 1.2-.2 1.2-6.6 1.2-1.6 1.2 6.6 1.2 2.6 1.2 2.6 1.2 4.4 1.2 3.1 1.2-5.4 1.2-1.3 1.2-7.5 1.2 3.3 1.2 10.2 1.2-.1 1.2-1.4 1.2-2 1.2-1 1.2-1.5 1.2-8.9 1.2 1.9 1.2 2.5 1.2-.7 1.2-7.3 1.2 8.3 1.2-4.6 1.2 .9 1.2 1.5 1.2-1.2 1.2-9.1 1.2 4.6 1.2-5.3 1.2-5.2 1.2 2.5 1.2-4.3 1.2 6 1.2 3.9 1.2-1.3 1.2 .7 1.2-.6 1.2-.6 1.2 1.7 1.2-4.3 1.2-1.2 1.2 2.5 1.2 4.9 1.2-7.1 1.2 2.8 1.2-6.1 1.2 9 1.2-1.9 1.2 2.2 1.2-3.9 1.2-2.8 1.2 6.4 1.2 .2 1.2-4.2 1.2-1.3 1.2 6.4 1.2-2.9 1.2 7.1 1.2-10.9 1.2-1 1.2-.5 1.2-6.5 1.2 .4 1.2 9.1 1.2-3.7 1.2 .1 1.2-.4 1.2 7.2 1.2 .3 1.2-1.6 1.2-2.3 1.2 1.7 1.2-.2 1.2-3.8 1.2 3.1 1.2-9 1.2 1.7 1.2 2.1 1.2 .4 1.2-2.1 1.2 5.5 1.2 3.1 1.2-.8 1.2 .1 1.2 1.4 1.2-1.6 1.2-5.1 1.2 2.4 1.2 4.1 1.2-8.2 1.2 2.6 1.2-2.4 1.2-2.5 1.2-1.4 1.2 2.8 1.2 .3 1.2-.4 1.2-5.7 1.2 3.1 1.2 1.6 1.2 1.6 1.2-1 1.2 .2 1.2 .6 1.2-.3 1.2-3.3 1.2 2.6 1.2-4.3 1.2-7 1.2 1.1 1.2 10.6 1.2-10.4 1.2-4.1 1.2 4.2 1.2 5.6 1.2-5.5 1.2 1.5 1.2-1.8 1.2 .8 1.2 4.2 1.2-1.2 1.2 0 1.2 6.6 1.2 4.1 1.2-1 1.2 2 1.2 .6 1.2-2.2 1.2 6.1 1.2-3.4 1.2-.8 1.2-.7 1.2 7.2 1.2 10.6 1.2-8.3 1.2 4.4 1.2-2.7 1.2 2.4 1.2-.1 1.2-4.4 1.2 2.4 1.2 2.8 1.2 1.6 1.2 1.2 1.2 .7 1.2 2.6 1.2-.3 1.2-4.7 1.2-6.3 1.2 5 1.2 .6 1.2 2.8 1.2 5.8 1.2-4.6 1.2 1.9 1.2-1.5 1.2 3 1.2 .4 1.2 6.3 1.2-5.8 1.2-4.6 1.2 5.6 1.2-11.5 1.2 6.5 1.2 .3 1.2-1.5 1.2-2.6 1.2 .3 1.2-.8 1.2 3.2 1.2-9.9 1.2 3.7 1.2 .4 1.2-3.9 1.2-5.4 1.2 4.7 1.2-1.6 1.2 4.7 1.2 1.8 1.2-4 1.2-6.8 1.2 4.2 1.2-3.3 1.2 3.8 1.2 2 1.2-5.2 1.2 4.1 1.2 .1 1.2-.3 1.2-2.5 1.2 5.4 1.2-4.5 1.2 5.7 1.2-4.4 1.2 2.1 1.2-5 1.2-8.4 1.2 7.2 1.2 1.7 1.2 3 1.2-7.1 1.2 .9 1.2 3.7 1.2-2.7 1.2-.4 1.2 1.4 1.2 11.7 1.2-9.2 1.2-3.3 1.2-.4 1.2-.8 1.2 1.8 1.2-3.2 1.2-2.5 1.2-3.9 1.2 2.4 1.2-.3 1.2-.5 1.2 10.8 1.2-8.4 1.2 3.5 1.2-4.8 1.2-.3 1.2-1.1 1.2-4.5 1.2 4.2 1.2 2.1 1.2 2.2 1.2-.2 1.2 2.4 1.2-2.8 1.2-3 1.2-7.8 1.2 2.3 1.2 4.2 1.2-5.4 1.2 3.1 1.2-2.1 1.2-.4 1.2 9.2 1.2-4.2 1.2 2.8 1.2-3.5 1.2-3.1 1.2-6.4 1.2 6.4 1.2-2.8 1.2 .6 1.2 13 1.2 1 1.2 2.3 1.2 .7 1.2 2.3 1.2 .1 1.2-2.2 1.2-1.6 1.2 .6 1.2-11 1.2 8.8 1.2-5.8 1.2 3.3 1.2-.3 1.2-6.1 1.2 6.3 1.2 1.4 1.2-3 1.2 1.8 1.2 1.7 1.2-7.1 1.2 5.2 1.2 1.8 1.2-2.1 1.2-3.6 1.2 3.5 1.2 5.6 1.2 0 1.2-2.9 1.2-.7 1.2 3.8 1.2 1.5 1.2-.7 1.2 2.6 1.2 4.5 1.2 2.6 1.2-8.6 1.2 11.9 1.2-2.2 1.2 3.4 1.2-3.2 1.2 1.7 1.2 4 1.2-13.5 1.2 12.7 1.2-5.1 1.2-7 1.2-3.5 1.2 8.9 1.2-3.4 1.2 6.7 1.2-1.8 1.2-.4 1.2 4 1.2-1.8 1.2 4.3 1.2 3.9 1.2-2.3 1.2 .4 1.2-1 1.2-7.4 1.2 2.9" fill="none" stroke="#333" stroke-width="0.8"/>
<path d="M71.6 477.4l.4-8.2 .4 7.1 .4-1.2 .4 2.3 .4-1.3 .4 2.7 .4-2.8 .4-.7 .4 2.1 .4 0 .4-1.1 .4 .4 .4 1.9 .4 .1 .4-1.9 .4 .4 .4-2.3 .4 6 .4-3.1 .4 2.8 .4-1.4 .4 2.7 .4-.6 .4-1.9 .4 2.1 .4-4 .4 3.9 .4-4.5 .4 3.2 .4 1.1 .4-1.6 .4-1.1 .4-.9 .4 .7 .4 2.2 .4-.4 .4-2.1 .4-1.8 .4 3.1 .4-3.7 .4 1.4 .4-.4 .4 2.3 .4-1 .4 .2 .4-.7 .4-2 .4 1.6 .4 1.1 .4-2.9 .4 .8 .4-1.7 .4 1.6 .4-1.1 .4 0 .4-1.3 .4 1.8 .4-3.8 .4-.4 .4-.8 .4 1.6 .4-2.5 .4-.4 .4 1.9 .4 .4 .4-1.4 .4-6 .4 2.6 .4-.6 .4-.6 .4 .9 .4 3.4 .4-4 .4-1.1 .4 2 .4-1.5 .4-.3 .4-1.8 .4 .8 .4 .3 .4-4.3 .4 .3 .4 4.3 .4-.6 .4-2.5 .4-1 .4 1.2 .4-1.9 .4 1.2 .4 3.2 .4-2.8 .4 1.6 .4-2.6 .4 .8 .4 1.6 .4-4.9 .4 1.5 .4 .1 .4 .6 .4 1.9 .4-1.6 .4-3.9 .4 1.9 .4-1.2 .4-.2 .4 4.8 .4-5.4 .4 2 .4-1.7 .4 2.5 .4-1 .4-.6 .4-.5 .4 1.9 .4-3.7 .4 .2 .4-.8 .4 4 .4-2.8 .4-1.4 .4 .9 .4 4.9 .4-4.5 .4 1.5 .4-.8 .4-.9 .4-1.3 .4 .5 .4-.1 .4-3.3 .4 8.1 .4-3 .4-1.4 .4-.1 .4-.5 .4 3.4 .4-1.4 .4 1.6 .4-2.6 .4 3.5 .4 3.2 .4-3.4 .4 2.4 .4-1 .4 1.9 .4 .1 .4-1.6 .4-.9 .4 1.6 .4-.3 .4-1 .4 2 .4 .1 .4-2.1 .4 1.4 .4 5.3 .4-3.4 .4-1.1 .4 4.2 .4-5.3 .4-3.8 .4 .7 .4 .4 .4 2.7 .4 .9 .4-5.7 .4 5.3 .4-4.3 .4 2.2 .4 .1 .4-.4 .4-1 .4 0 .4-2.6 .4 2.3 .4 1.5 .4 .1 .4 3.2 .4-2.4 .4-.3 .4 1.8 .4-2.1 .4-2.4 .4-1.3 .4 6.2 .4-.5 .4 1.2 .4-1.4 .4 1.9 .4 3.3 .4-1.9 .4-1.8 .4 1.9 .4 3.8 .4-3.5 .4-2 .4 .8 .4 2 .4 4.1 .4-.9 .4-1 .4-.5 .4 2.3 .4 .3 .4-.3 .4 1 .4-.5 .4 4.5 .4-7.1 .4 4.3 .4-1.9 .4 3 .4-1.6 .4 1.1 .4 .3 .4-.6 .4 1.4 .4-4 .4 4 .4-1.9 .4 1 .4 2 .4-.7 .4 1.5 .4-7.1 .4 2.2 .4 3.3 .4-3.3 .4 1.7 .4 3.4 .4-1.2 .4-3 .4 2.6 .4 .5 .4-.8 .4-.1 .4 .6 .4-2.6 .4 2.9 .4-1.7 .4 2.5 .4 .2 .4-2.4 .4 2.2 .4-.9 .4-1 .4 .9 .4-2.1 .4-.3 .4 .2 .4-.6 .4 1.7 .4-6.4 .4 3.2 .4-3.3 .4 2.1 .4 1 .4-.8 .4 1.4 .4-1.3 .4-5.4 .4 2.5 .4 4.4 .4-.2 .4-2.7 .4-3 .4 6.1 .4-7.5 .4 3.9 .4-.8 .4 .3 .4-2.6 .4 1.1 .4 2.2 .4-3 .4-1.8 .4 2 .4-.2 .4-.7 .4-1.5 .4 2 .4-1.5 .4-2.1 .4 2 .4-.7 .4-.1 .4-3.4 .4 1.2 .4 1.8 .4 .5 .4-1.3 .4-.6 .4 .7 .4 .1 .4 1 .4-2.5 .4-2 .4 1.5 .4-4.5 .4 3.5 .4-.5 .4 1 .4 1.2 .4-.4 .4-2.2 .4 2.2 .4-.4 .4 1.7 .4 .9 .4-1.9 .4 3.2 .4 1.3 .4-2.3 .4 2 .4-3.4 .4 1.9 .4 2.9 .4-4.4 .4 2.5 .4-.4 .4 3.8 .4 .3 .4-2.7 .4 1.6 .4-4.4 .4 5.8 .4-1.2 .4 1.3 .4-6.8 .4 4.3 .4-1.6 .4-4.2 .4 2.8 .4 .7 .4 1.1 .4-1.4 .4-.9 .4 2 .4-.6 .4-.6 .4-.3 .4 2.3 .4 .4 .4 3.2 .4-3.6 .4 3.8 .4-1.8 .4 1.8 .4-3.2 .4 .3 .4 1.3 .4 2.4 .4-1 .4 1.3 .4-.5 .4 1.5 .4-1.2 .4-.9 .4 2 .4-.4 .4 3 .4-2.9 .4 .7 .4-.4 .4 2.7 .4-.2 .4-.1 .4-3.2 .4-.4 .4 3.1 .4 .9 .4 1.3 .4-5.5 .4 2.8 .4-2.5 .4 1.3 .4 1.3 .4 2.1 .4-2.5 .4-.3 .4 .8 .4 2.7 .4 2 .4-6.6 .4 2.2 .4-.1 .4 2.9 .4-1.1 .4 2 .4-4.2 .4 1.9 .4-.6 .4-1 .4 1.8 .4-1.6 .4 5.9 .4-2.9 .4-2.3 .4 .9 .4 4.2 .4-3.6 .4 2.2 .4 .1 .4 1 .4-.6 .4-1.2 .4-.4 .4-1.9 .4 3.2 .4 .5 .4-.6 .4 .5 .4-1.6 .4 6 .4-4.4 .4-.7 .4 .9 .4 1 .4 1.7 .4-5.4 .4 5 .4-2 .4 .7 .4 2 .4-.5 .4-2.5 .4 .9 .4 3.3 .4-.9 .4-.9 .4-1.5 .4 1.6 .4-1 .4-1.7 .4-.8 .4 2.5 .4-.2 .4 1.3 .4-2.9 .4 3.2 .4-2.8 .4 3 .4-.9 .4-1.6 .4-.4 .4 1.7 .4 0 .4 2.3 .4-2.5 .4-1.1 .4 2.8 .4 3.5 .4-.2 .4-3.6 .4 .9 .4 1.3 .4-1.4 .4 1 .4 .3 .4-1 .4 1 .4 .5 .4 1.6 .4-2.2 .4 2.5 .4-1.6 .4-.2 .4-1.1 .4 8.2 .4-5.2 .4-.4 .4-1.4 .4-2.3 .4-.1 .4-.1 .4-.3 .4-.3 .4 1.1 .4-8.2 .4 3.6 .4 1.6 .4-2.2 .4 0 .4 2.4 .4-2.5 .4 2.4 .4-3.5 .4 .2 .4-2.6 .4-1.9 .4 2.3 .4 .5 .4-1 .4-2 .4 3 .4-1.3 .4-.4 .4-1.5 .4 4.1 .4-.4 .4-2.1 .4-.8 .4 .5 .4 2.4 .4 1.8 .4-4.8 .4-.9 .4-2.4 .4 7.7 .4-6.7 .4 3.3 .4-.7 .4 1.3 .4-3.8 .4-1.4 .4 2.9 .4 .4 .4 1.1 .4-4.9 .4 2 .4 .3 .4-2.3 .4 1.5 .4 1.2 .4-1.9 .4-2.9 .4 2.6 .4 .4 .4-1 .4 0 .4-4.6 .4 3.1 .4-.2 .4-2.2 .4 .1 .4-1.7 .4 3 .4-3 .4-1.4 .4 1.5 .4-.5 .4 .6 .4-2.9 .4-.1 .4 1.4 .4 2.8 .4-3.4 .4-3.5 .4 2.3 .4-2 .4-2.2 .4 1.6 .4-.2 .4 1.3 .4 1.2 .4-.7 .4-.9 .4-1.9 .4 1.7 .4 .4 .4 3.1 .4-2.8 .4 .9 .4 4.2 .4-.9 .4-1.1 .4 1.8 .4 .7 .4 .7 .4 1.7 .4 0 .4-.2 .4 .1 .4-1.9 .4 2.5 .4 2.9 .4-1.4 .4-1.3 .4 1 .4-.9 .4 2.2 .4 3.1 .4-.1 .4-.8 .4-.5 .4-1.5 .4-1.5 .4 2.3 .4-.5 .4 2.4 .4-1 .4-1 .4 1.7 .4 4 .4-6.7 .4 3.3 .4-1.1 .4-1.3 .4-1.3 .4 1.1 .4 .2 .4 .8 .4-.3 .4-.8 .4-1.5 .4 2.1 .4-.9 .4-.6 .4 3.7 .4-2.2 .4-.6 .4 2.6 .4-3 .4 3.6 .4 1.2 .4-1 .4 1.5 .4 3.6 .4-.8 .4-.4 .4-.2 .4-1.5 .4 1 .4 .2 .4 .9 .4-.1 .4-1.9 .4 3.9 .4-4.8 .4 2.1 .4 .9 .4-2.1 .4-1.4 .4 .9 .4 3 .4-2.5 .4-1.9 .4 1.2 .4-1.6 .4-3.1 .4 3.3 .4 1.1 .4-.1 .4-2.4 .4-2.5 .4 4.1 .4-2.5 .4 1.2 .4 .4 .4-1.7 .4-.9 .4-.8 .4 .6 .4 1 .4-.6 .4 1.7 .4-3.7 .4 1.8 .4 1.9 .4-.9 .4 .5 .4-.7 .4 3.3 .4 1.9 .4-4.3 .4 3.9 .4-4.2 .4 3 .4-3.4 .4 4.4 .4-.5 .4 .4 .4 2.1 .4-.8 .4-.8 .4-1.2 .4 1.8 .4-1.5 .4 .2 .4 3 .4-1.3 .4-1.3 .4 .4 .4-3.8 .4 2.4 .4-3.3 .4 1.4 .4 1.6 .4-.3 .4 .3 .4-1.2 .4-.4 .4-.3 .4 2.1 .4-.4 .4-5 .4 2.5 .4 1.7 .4-2.7 .4 .7 .4-1.6 .4-1.1 .4 2.1 .4-1 .4 .3 .4-2.3 .4 .4 .4 1.6 .4-.7 .4 1.6 .4-2.9 .4 2.9 .4-.3 .4-1 .4 .8 .4-1.3 .4-.6 .4-.1 .4-2.5 .4 1.6 .4 1.1 .4-4.5 .4 3.5 .4-2.7 .4 .1 .4 .3 .4-.1 .4 1.5 .4-3 .4 2.8 .4-3.2 .4 .6 .4 .6 .4-1.9 .4-.4 .4 2.4 .4 1.4 .4 .6 .4-1.7 .4 3.9 .4-2.8 .4-.6 .4 3.5 .4 .5 .4-3.4 .4 3.4 .4-3.2 .4 2.6 .4 4.1 .4-1.3 .4-1 .4-.1 .4-2.5 .4 2 .4 .2 .4-2.5 .4 2.1 .4 .6 .4-.6 .4 .4 .4-1.1 .4-1.5 .4 2 .4-3.4 .4 2.1 .4 3.4 .4 1.7 .4-1.8 .4-4.3 .4 6.9 .4-.8 .4-.7 .4 2.1 .4 .2 .4-2.4 .4 .4 .4 4.5 .4-5.2 .4 5.5 .4 0 .4 1.7 .4 1.3 .4-.8 .4 .4 .4-1.3 .4-.6 .4 .9 .4-1.9 .4-1.6 .4 1.4 .4-2.6 .4 1.7 .4 4.4 .4-2.7 .4-1.2 .4-.8 .4-2 .4 2 .4-.4 .4 1.2 .4 .1 .4-.3 .4-2.9 .4 5.9 .4-1.6 .4-.5 .4-.4 .4 1.4 .4 1.6 .4-.9 .4-2.9 .4 .1 .4-1.8 .4 4.4 .4 1.2 .4 1 .4-1.6 .4 1.3 .4-2.8 .4 2.5 .4-1.4 .4-1.1 .4-1.9 .4 4.5 .4-6 .4 4.7 .4-2.6 .4 2.1 .4-2.2 .4 2.1 .4-1.9 .4-1.6 .4 .6 .4-2 .4 2.9 .4 1.1 .4-1.2 .4-.8 .4 1.8 .4-4.4 .4 2.7 .4-1.1 .4-1.1 .4 1.8 .4-2.6 .4 1.9 .4 1.1 .4-2.4 .4 1.9 .4 1.5 .4 1 .4-3 .4 3.4 .4-1.8 .4 .9 .4-.9 .4 2.5 .4-2.3 .4 1.9 .4 .5 .4 .8 .4-2.8 .4 3.3 .4-1 .4 2.7 .4-2.8 .4-.2 .4 1.1 .4-.2 .4 .3 .4-2.2 .4-1.6 .4 .7 .4 1.3 .4 1.4 .4-1.5 .4-1.4 .4 1.1 .4 .1 .4 4.4 .4-2.8 .4-2.1 .4-3.1 .4 1.9 .4-.5 .4 1.5 .4 2.7 .4-3.7 .4-3.1 .4 3.2 .4-2.6 .4 4.3 .4 .5 .4-1.3 .4-3 .4 2.3 .4 2.4 .4-3.7 .4 .7 .4 1.5 .4 .5 .4-.7 .4 .5 .4-.2 .4-1.3 .4 .9 .4 .4 .4-2.5 .4 2 .4-.4 .4 .4 .4-.4 .4-2.5 .4-.6 .4 2.4 .4-.9 .4 .2 .4-1.3 .4-1.4 .4 2.4 .4-.9 .4 1.1 .4 .6 .4-.2 .4-.4 .4-3.5 .4-2.1 .4 2.6 .4-1.1 .4-.1 .4 3.3 .4-3.8 .4 4.2 .4 .4 .4 2.6 .4-2.7 .4 1.8 .4-4.7 .4-.1 .4 2.9 .4-3.9 .4 4.1 .4-2.4 .4-2.8 .4 6.4 .4-5 .4 6.1 .4-6.3 .4 1.9 .4 2.6 .4 .4 .4-1.9 .4 3.7 .4 .9 .4 1.3 .4-2.7 .4 2.5 .4 1.6 .4 2.4 .4-.3 .4-.1 .4 .7 .4 4 .4-4.2 .4 1.4 .4-4.6 .4 6.2 .4-2.6 .4-4.2 .4 3.6 .4 .9 .4-1.4 .4-1.8 .4 .9 .4-3.1 .4 .4 .4-.6 .4 .3 .4-2.4 .4 3.7 .4-3 .4-2.1 .4 1.1 .4 .5 .4-1 .4 1.4 .4-2.9 .4-1.2 .4 1.7 .4 1.5 .4-3.6 .4-.9 .4 1.8 .4 1.2 .4-1.4 .4 2.2 .4-1.6 .4 3.2 .4-3.3 .4 .7 .4 1.8 .4 1.3 .4 .6 .4-2.6 .4 1.4 .4 1.1 .4 1.7 .4-3.7 .4-.4 .4 3.1 .4-1 .4 2.9 .4-2.1 .4 .8 .4-1.7 .4 1.6 .4 1.4 .4-2.7 .4-1.8 .4 3.3 .4-2.2 .4 .4 .4-1.5 .4 2.6 .4-3 .4 .2 .4 .6 .4-.5 .4-3.7 .4 4.4 .4-2.9 .4 2.2 .4-1.3 .4 .2 .4-1.2 .4-.8 .4 1.9 .4-.1 .4 1.1 .4-1 .4-2.3 .4 3.3 .4 1.8 .4-2.4 .4-1.5 .4-1.2 .4 1.8 .4-2.5 .4 3.9 .4-1.9 .4-.3 .4 1.5 .4-2.5 .4-.7 .4 2.3 .4 2.9 .4-3.5 .4 3 .4-4.5 .4 3.1 .4 1.1 .4 2.2 .4-5.9 .4 2.9 .4-1.3 .4 2.1 .4-1.4 .4 1 .4-1.6 .4 .2 .4 1.4 .4 1.7 .4-2.3 .4-.3 .4-1.2 .4 3.3 .4-6.1 .4-.3 .4 1.9 .4 2 .4 .7 .4-.8 .4 .1 .4-1.2 .4-1.2 .4-1.1 .4 2.3 .4-2.5 .4 2.2 .4 .4 .4-2.5 .4 .1 .4-.3 .4 1.9 .4-1.1 .4-1.6 .4 1.4 .4 1.9 .4-2.3 .4-.5 .4-1 .4-1.1 .4 1.3 .4-.1 .4-.8 .4 2.3 .4-2.6 .4 0 .4 .5 .4 .8 .4-3.6 .4 3.7 .4 2 .4-3.8 .4 2.8 .4-1.2 .4-.6 .4 2.4 .4-.3 .4-3.1 .4 2.8 .4 2.6 .4-2.1 .4 0 .4 .5 .4-.6 .4 1.6 .4-3 .4-1 .4 2.3 .4 .6 .4-.9 .4 .2 .4-2.5" fill="none" stroke="#ff1010" stroke-width="0.95"/>
</g>
<path d="M88.50 518.20v-3.90M88.50 449.86v3.90M106.50 518.20v-3.90M106.50 449.86v3.90M125.50 518.20v-10.60M125.50 449.86v10.60M143.50 518.20v-3.90M143.50 449.86v3.90M161.50 518.20v-3.90M161.50 449.86v3.90M179.50 518.20v-3.90M179.50 449.86v3.90M198.50 518.20v-3.90M198.50 449.86v3.90M216.50 518.20v-10.60M216.50 449.86v10.60M234.50 518.20v-3.90M234.50 449.86v3.90M252.50 518.20v-3.90M252.50 449.86v3.90M271.50 518.20v-3.90M271.50 449.86v3.90M289.50 518.20v-3.90M289.50 449.86v3.90M307.50 518.20v-10.60M307.50 449.86v10.60M326.50 518.20v-3.90M326.50 449.86v3.90M344.50 518.20v-3.90M344.50 449.86v3.90M362.50 518.20v-3.90M362.50 449.86v3.90M380.50 518.20v-3.90M380.50 449.86v3.90M399.50 518.20v-10.60M399.50 449.86v10.60M417.50 518.20v-3.90M417.50 449.86v3.90M435.50 518.20v-3.90M435.50 449.86v3.90M454.50 518.20v-3.90M454.50 449.86v3.90M472.50 518.20v-3.90M472.50 449.86v3.90M490.50 518.20v-10.60M490.50 449.86v10.60M508.50 518.20v-3.90M508.50 449.86v3.90" stroke="#000" stroke-width="1.0" fill="none"/>
<path d="M71.60 455.50h6.30M525.30 455.50h-6.30M71.60 474.50h6.30M525.30 474.50h-6.30M71.60 493.50h6.30M525.30 493.50h-6.30M71.60 511.50h6.30M525.30 511.50h-6.30M71.60 515.50h2.60M525.30 515.50h-2.60M71.60 508.02h2.60M525.30 508.02h-2.60M71.60 504.27h2.60M525.30 504.27h-2.60M71.60 500.53h2.60M525.30 500.53h-2.60M71.60 496.78h2.60M525.30 496.78h-2.60M71.60 489.30h2.60M525.30 489.30h-2.60M71.60 485.55h2.60M525.30 485.55h-2.60M71.60 481.81h2.60M525.30 481.81h-2.60M71.60 478.06h2.60M525.30 478.06h-2.60M71.60 470.58h2.60M525.30 470.58h-2.60M71.60 466.83h2.60M525.30 466.83h-2.60M71.60 463.09h2.60M525.30 463.09h-2.60M71.60 459.34h2.60M525.30 459.34h-2.60M71.60 451.86h2.60M525.30 451.86h-2.60" stroke="#000" stroke-width="1.0" fill="none"/>
<rect x="71.60" y="449.86" width="453.70" height="68.34" fill="none" stroke="#000" stroke-width="1.4"/>
<text x="69.10" y="459.49" font-size="10.8" text-anchor="end">18</text>
<text x="69.10" y="478.21" font-size="10.8" text-anchor="end">17</text>
<text x="69.10" y="496.93" font-size="10.8" text-anchor="end">16</text>
<text x="69.10" y="515.65" font-size="10.8" text-anchor="end">15</text>
<text transform="translate(44.70 485.00) rotate(-90)" font-size="11" text-anchor="middle">N [cm<tspan font-size="8.6" dy="-4.6">-3</tspan><tspan dy="4.6">&#8203;</tspan>]</text>
<path d="M77.50 457.50h18.00" stroke="#ff4040" stroke-width="0.9" fill="none"/>
<text x="96.00" y="461.10" font-size="9.3" fill="#ff3030">Ne</text>
<path d="M77.50 471.20h18.00" stroke="#333" stroke-width="0.9" fill="none"/>
<text x="96.00" y="474.80" font-size="9.3" fill="#333">Ni</text>
<path d="M154.60 522.20V586.54" stroke="#10a010" stroke-width="1.0" stroke-dasharray="7.1 3.0" fill="none"/>
<path d="M249.40 522.20V586.54" stroke="#10a010" stroke-width="1.0" stroke-dasharray="7.1 3.0" fill="none"/>
<path d="M178.30 522.20V586.54" stroke="#ff2020" stroke-width="1.1" stroke-dasharray="7.1 3.0" fill="none"/>
<path d="M225.50 522.20V586.54" stroke="#ff2020" stroke-width="1.1" stroke-dasharray="7.1 3.0" fill="none"/>
<path d="M227.90 522.20V586.54" stroke="#3030ff" stroke-width="1.3" stroke-dasharray="1.6 1.5" fill="none"/>
<path d="M229.60 522.20V586.54" stroke="#ff10ff" stroke-width="1.3" stroke-dasharray="1.6 1.5" fill="none"/>
<clipPath id="lc7"><rect x="71.60" y="518.20" width="453.70" height="68.34"/></clipPath>
<g clip-path="url(#lc7)">
<path d="M82.2 519.0L173.7 540.6L265.2 522.3L356.6 540.9" stroke="#ff1010" stroke-width="1.1" fill="none"/>
<circle cx="82.2" cy="519.0" r="2.3" fill="#ff1010"/>
<circle cx="173.7" cy="540.6" r="2.3" fill="#ff1010"/>
<circle cx="265.2" cy="522.3" r="2.3" fill="#ff1010"/>
<circle cx="356.6" cy="540.9" r="2.3" fill="#ff1010"/>
<path d="M82.2 586.6H356.6" stroke="#2020ff" stroke-width="1" fill="none"/>
<circle cx="82.2" cy="586.9" r="2.3" fill="#1010ff"/>
<circle cx="265.2" cy="586.9" r="2.3" fill="#1010ff"/>
<circle cx="356.6" cy="586.9" r="2.3" fill="#20f020"/>
</g>
<path d="M88.50 586.54v-3.90M88.50 518.20v3.90M106.50 586.54v-3.90M106.50 518.20v3.90M125.50 586.54v-10.60M125.50 518.20v10.60M143.50 586.54v-3.90M143.50 518.20v3.90M161.50 586.54v-3.90M161.50 518.20v3.90M179.50 586.54v-3.90M179.50 518.20v3.90M198.50 586.54v-3.90M198.50 518.20v3.90M216.50 586.54v-10.60M216.50 518.20v10.60M234.50 586.54v-3.90M234.50 518.20v3.90M252.50 586.54v-3.90M252.50 518.20v3.90M271.50 586.54v-3.90M271.50 518.20v3.90M289.50 586.54v-3.90M289.50 518.20v3.90M307.50 586.54v-10.60M307.50 518.20v10.60M326.50 586.54v-3.90M326.50 518.20v3.90M344.50 586.54v-3.90M344.50 518.20v3.90M362.50 586.54v-3.90M362.50 518.20v3.90M380.50 586.54v-3.90M380.50 518.20v3.90M399.50 586.54v-10.60M399.50 518.20v10.60M417.50 586.54v-3.90M417.50 518.20v3.90M435.50 586.54v-3.90M435.50 518.20v3.90M454.50 586.54v-3.90M454.50 518.20v3.90M472.50 586.54v-3.90M472.50 518.20v3.90M490.50 586.54v-10.60M490.50 518.20v10.60M508.50 586.54v-3.90M508.50 518.20v3.90" stroke="#000" stroke-width="1.0" fill="none"/>
<path d="M71.60 529.50h6.30M525.30 529.50h-6.30M71.60 548.50h6.30M525.30 548.50h-6.30M71.60 567.50h6.30M525.30 567.50h-6.30M71.60 581.48h2.60M525.30 581.48h-2.60M71.60 576.75h2.60M525.30 576.75h-2.60M71.60 572.03h2.60M525.30 572.03h-2.60M71.60 562.58h2.60M525.30 562.58h-2.60M71.60 557.85h2.60M525.30 557.85h-2.60M71.60 553.12h2.60M525.30 553.12h-2.60M71.60 543.68h2.60M525.30 543.68h-2.60M71.60 538.95h2.60M525.30 538.95h-2.60M71.60 534.23h2.60M525.30 534.23h-2.60M71.60 524.78h2.60M525.30 524.78h-2.60M71.60 520.05h2.60M525.30 520.05h-2.60" stroke="#000" stroke-width="1.0" fill="none"/>
<rect x="71.60" y="518.20" width="453.70" height="68.34" fill="none" stroke="#000" stroke-width="1.4"/>
<text x="527.80" y="533.39" font-size="10.8">0.6</text>
<text x="527.80" y="552.29" font-size="10.8">0.4</text>
<text x="527.80" y="571.19" font-size="10.8">0.2</text>
<text x="527.80" y="589.79" font-size="10.8">0.0</text>
<text transform="translate(557.70 553.00) rotate(-90)" font-size="11" text-anchor="middle">N<tspan font-size="8.8" dy="3.2">i</tspan><tspan dy="-3.2">&#8203;</tspan> [cm<tspan font-size="8.6" dy="-4.6">-3</tspan><tspan dy="4.6">&#8203;</tspan>]</text>
<path d="M77.50 523.60h18.00" stroke="#30f030" stroke-width="1.1" fill="none"/>
<circle cx="86.5" cy="523.6" r="2.3" fill="#30f030"/>
<text x="96.00" y="527.00" font-size="9.2" fill="#30f030">N&#160;&#160;He+</text>
<path d="M77.50 532.60h18.00" stroke="#ff1818" stroke-width="1.1" fill="none"/>
<circle cx="86.5" cy="532.6" r="2.3" fill="#ff1818"/>
<text x="96.00" y="536.00" font-size="9.2" fill="#ff1818">N&#160;&#160;He++</text>
<path d="M77.50 541.60h18.00" stroke="#1818ff" stroke-width="1.1" fill="none"/>
<circle cx="86.5" cy="541.6" r="2.3" fill="#1818ff"/>
<text x="96.00" y="545.00" font-size="9.2" fill="#1818ff">N&#160;&#160;O+</text>
<path d="M154.60 590.54V654.88" stroke="#10a010" stroke-width="1.0" stroke-dasharray="7.1 3.0" fill="none"/>
<path d="M249.40 590.54V654.88" stroke="#10a010" stroke-width="1.0" stroke-dasharray="7.1 3.0" fill="none"/>
<path d="M178.30 590.54V654.88" stroke="#ff2020" stroke-width="1.1" stroke-dasharray="7.1 3.0" fill="none"/>
<path d="M225.50 590.54V654.88" stroke="#ff2020" stroke-width="1.1" stroke-dasharray="7.1 3.0" fill="none"/>
<path d="M227.90 590.54V654.88" stroke="#3030ff" stroke-width="1.3" stroke-dasharray="1.6 1.5" fill="none"/>
<path d="M229.60 590.54V654.88" stroke="#ff10ff" stroke-width="1.3" stroke-dasharray="1.6 1.5" fill="none"/>
<clipPath id="lc8"><rect x="71.60" y="586.54" width="453.70" height="68.34"/></clipPath>
<g clip-path="url(#lc8)">
<path d="M71.6 601.4l1.2-2.2 1.2-.7 1.2-1.7 1.2 3.8 1.2 2.4 1.2-1.6 1.2 .9 1.2 .9 1.2-2.5 1.2 5.2 1.2-4.7 1.2 2.1 1.2 3.6 1.2-3.7 1.2 .7 1.2-.6 1.2 1.5 1.2-3.1 1.2 2.1 1.2 3.1 1.2-2.2 1.2-.7 1.2 .7 1.2 0 1.2-.5 1.2 .4 1.2-3.2 1.2 3 1.2-1.9 1.2 1.8 1.2-1.3 1.2-1.5 1.2 1.2 1.2-1.5 1.2 2.7 1.2-1.7 1.2 1.1 1.2-2.9 1.2 3.8 1.2-2.8 1.2 2.2 1.2-.8 1.2-2.9 1.2 1.9 1.2-1.3 1.2 1.3 1.2 1.3 1.2-1.2 1.2 .4 1.2-3.4 1.2 1.8 1.2 0 1.2 .8 1.2-2.6 1.2 1.5 1.2-.4 1.2-3 1.2 .5 1.2 2 1.2-2.4 1.2-.2 1.2 2.9 1.2-.9 1.2-.9 1.2 .4 1.2-.8 1.2-.3 1.2 0 1.2 1.1 1.2 1.5 1.2-2.4 1.2 .8 1.2-.1 1.2-1.3 1.2 2.3 1.2 1.1 1.2-2.3 1.2 2.5 1.2-1.8 1.2 2.4 1.2 0 1.2-2.3 1.2-2.3 1.2 2.2 1.2-1.5 1.2 .1 1.2 1.4 1.2 2.2 1.2-2.2 1.2-.7 1.2-2.8 1.2 1.2 1.2-1.7 1.2 2.1 1.2-2 1.2 .1 1.2-.2 1.2-.4 1.2 1.4 1.2-.8 1.2-1.2 1.2 .5 1.2 .4 1.2 1 1.2-1.9 1.2 1.7 1.2-2.9 1.2 .4 1.2-1.8 1.2 3.2 1.2-2.7 1.2-.1 1.2 2.6 1.2-2 1.2-.3 1.2 2.3 1.2-1.7 1.2 1.4 1.2-2 1.2 1.5 1.2 .3 1.2-1.5 1.2 2.2 1.2-3.2 1.2 .1 1.2 .3 1.2 1.1 1.2-1.9 1.2-.4 1.2 .8 1.2 1.3 1.2-2.1 1.2-1 1.2 1.8 1.2 1.3 1.2-1.4 1.2 1.2 1.2-2.5 1.2 2.8 1.2 .4 1.2 1.1 1.2 0 1.2 1 1.2-2.1 1.2 2.7 1.2-2.9 1.2 1.8 1.2 2.8 1.2-.1 1.2-3.5 1.2 3.8 1.2-1.2 1.2-.2 1.2 1.7 1.2 .2 1.2 2.1 1.2-3.7 1.2 1.7 1.2 .6 1.2-2.5 1.2 4.1 1.2 .8 1.2-3.5 1.2 1.3 1.2-1 1.2 .7 1.2-1.4 1.2 2 1.2-2.9 1.2 4.1 1.2-.8 1.2 3.6 1.2-5 1.2 2.7 1.2-1.6 1.2 1.6 1.2 .9 1.2-1.9 1.2-.7 1.2-.3 1.2 2.7 1.2 1.6 1.2-.1 1.2-1.6 1.2-1.3 1.2 .9 1.2-1.6 1.2-.2 1.2 3.3 1.2-2.2 1.2 .5 1.2-1.2 1.2 1.9 1.2-.1 1.2-3.5 1.2 .3 1.2-.8 1.2 2.5 1.2-.3 1.2-2.4 1.2 3.4 1.2-3.4 1.2-2 1.2-1.4 1.2 2.5 1.2 .4 1.2-1.5 1.2 1.1 1.2 .2 1.2-3.1 1.2 0 1.2 .1 1.2-1.3 1.2-1.1 1.2 1.7 1.2 .5 1.2 2.6 1.2-3.3 1.2-1.2 1.2 2.9 1.2 .4 1.2-.7 1.2 1.7 1.2 0 1.2 1.6 1.2-2.5 1.2 .5 1.2 1.3 1.2-.3 1.2 2.8 1.2-.6 1.2-.5 1.2 2.4 1.2-1.4 1.2 .7 1.2-.2 1.2-1.2 1.2 0 1.2 .3 1.2-1.5 1.2 1.1 1.2 1.8 1.2-.7 1.2-2.3 1.2 4.2 1.2-5.3 1.2 1.9 1.2-.4 1.2 .3 1.2-3.4 1.2 .7 1.2-.6 1.2 1.9 1.2-1.1 1.2 .1 1.2 .1 1.2 2 1.2-1.8 1.2 .3 1.2-2.5 1.2 2.3 1.2-2.7 1.2 3 1.2-1 1.2-1.2 1.2-.2 1.2 1.7 1.2 .5 1.2-.7 1.2 .6 1.2 .2 1.2-.1 1.2 .7 1.2 .8 1.2 1.5 1.2-.9 1.2-1.6 1.2 3.1 1.2-.6 1.2-1.9 1.2 1.8 1.2-2.1 1.2-.2 1.2 .1 1.2 3.3 1.2-1.8 1.2 .4 1.2-.2 1.2-.4 1.2 1.4 1.2 .4 1.2 2 1.2-3.7 1.2 3.5 1.2-1 1.2-3.2 1.2 3.9 1.2 1.1 1.2-.7 1.2-1.2 1.2-.2 1.2-3.1 1.2 3.2 1.2-.3 1.2-1.6 1.2 1.5 1.2-1.3 1.2 4 1.2-4.9 1.2 .3 1.2-1.8 1.2 2.4 1.2 .7 1.2-.1 1.2-.9 1.2 2.2 1.2-.8 1.2 1.3 1.2-1.7 1.2-2.3 1.2 2.3 1.2-1.1 1.2 2.6 1.2-1.8 1.2 .6 1.2 .5 1.2-2 1.2 1.7 1.2 1.9 1.2-1.9 1.2 .7 1.2 .6 1.2-1 1.2 .5 1.2 .9 1.2-1.2 1.2 .5 1.2-.4 1.2-1.4 1.2-.4 1.2 4.5 1.2-.9 1.2-2.2 1.2 1.4 1.2 .1 1.2-.3 1.2-1.9 1.2-1.6 1.2 .1 1.2 1 1.2 1.8 1.2-.1 1.2-3 1.2-.6 1.2 1.7 1.2 .8 1.2-4.7 1.2 1.6 1.2-.8 1.2-1 1.2-.4 1.2-.4 1.2 .1 1.2-2.5 1.2 1.8 1.2 .7 1.2-.4 1.2-.3 1.2-1.1 1.2-.5 1.2 2 1.2-3.3 1.2 .1 1.2 1.7 1.2-1.4 1.2-1.5 1.2 1.3 1.2 .3" fill="none" stroke="#333" stroke-width="0.8"/>
<path d="M71.6 647.3l1.2 .8 1.2 2.3 1.2-1.8 1.2 1.8 1.2 .4 1.2-4.1 1.2 4.3 1.2-3 1.2 4.7 1.2-2.5 1.2-2.2 1.2 1.4 1.2 .1 1.2 .3 1.2 1.9 1.2-1.4 1.2 2.1 1.2-1.8 1.2-1.6 1.2-2.6 1.2-.2 1.2 2.9 1.2 .7 1.2 1.2 1.2-3.9 1.2 1.1 1.2-1.8 1.2 .6 1.2-3.5 1.2 5.3 1.2-2.7 1.2 1.1 1.2 .8 1.2-.3 1.2-3 1.2 5 1.2-1.5 1.2-.6 1.2-2.3 1.2-1.9 1.2-.3 1.2 2.4 1.2 .4 1.2-1.7 1.2 4.4 1.2-3 1.2 1.1 1.2-.4 1.2-3.9 1.2 3.4 1.2-1.2 1.2-3.4 1.2 3.2 1.2 .4 1.2-.5 1.2-.2 1.2-4.7 1.2 1.8 1.2-.6 1.2 1.1 1.2 .1 1.2 1.8 1.2-.7 1.2-2.8 1.2 3.1 1.2 1.3 1.2-2.4 1.2-3.2 1.2 1.5 1.2 .9 1.2-2.6 1.2 2.7 1.2-2 1.2 3.8 1.2-.1 1.2-1.4 1.2-2.1 1.2 2.9 1.2-1.7 1.2-.1 1.2 3.1 1.2-3.4 1.2-1.2 1.2 3.8 1.2 1.7 1.2-.4 1.2-1.6 1.2 2.3 1.2-4.5 1.2 4.7 1.2 0 1.2-4.3 1.2 1.5 1.2-3 1.2 .6 1.2 3 1.2-3.1 1.2 2.6 1.2 .5 1.2-.5 1.2 1.5 1.2 1.9 1.2-3.2 1.2 1.6 1.2 .9 1.2-3.4 1.2-.4 1.2-3.3 1.2 5.1 1.2 1 1.2-1.2 1.2 2.9 1.2-1.1 1.2-1.4 1.2-1.6 1.2-1.6 1.2 1.6 1.2 .7 1.2-1 1.2-.4 1.2-.2 1.2 2 1.2-4.3 1.2 2.5 1.2 .7 1.2 1.1 1.2 0 1.2-1.7 1.2-.5 1.2-.9 1.2 4.3 1.2-.9 1.2-.5 1.2-1.5 1.2-.6 1.2 4.3 1.2-2 1.2 1 1.2 2.5 1.2-5.8 1.2 1.5 1.2 2.3 1.2 .6 1.2-2.8 1.2 1.9 1.2-.8 1.2 .2 1.2 1.9 1.2-.4 1.2 1.5 1.2-1.2 1.2 1.4 1.2-4.4 1.2 2 1.2-3.5 1.2-.6 1.2 .3 1.2 3.6 1.2-1.1 1.2-3.6 1.2 5.1 1.2-.8 1.2-2.3 1.2-.3 1.2 .2 1.2-2.3 1.2 6.8 1.2-4.8 1.2 .8 1.2 .1 1.2-.3 1.2-.1 1.2 2.5 1.2-2.6 1.2 .5 1.2 .5 1.2 2.9 1.2-3.1 1.2 0 1.2 2.5 1.2-2.6 1.2 1.6 1.2 2.2 1.2-.7 1.2-.7 1.2 2.8 1.2-3.4 1.2-.3 1.2-2.1 1.2 3.2 1.2 1.1 1.2-2.3 1.2 4.6 1.2-1.6 1.2-.2 1.2-3.8 1.2 2.7 1.2 .1 1.2-4.5 1.2 3.6 1.2-.5 1.2-2.8 1.2 3.9 1.2 2.7 1.2-2.4 1.2-3 1.2 1 1.2 2.4 1.2-3.6 1.2 2.1 1.2-.7 1.2 .2 1.2 2.6 1.2-5.8 1.2 4.9 1.2-1.7 1.2-.7 1.2-2.9 1.2 3.5 1.2-1.4 1.2-4.6 1.2 2.7 1.2 .3 1.2 .3 1.2 .6 1.2-.4 1.2 4.3 1.2-.9 1.2-2 1.2 2.6 1.2 1.4 1.2-3 1.2-3.3 1.2 3.1 1.2 1.9 1.2-4.4 1.2 1.8 1.2 1.7 1.2 .4 1.2-.6 1.2-.8 1.2-.9 1.2-.8 1.2 3.1 1.2 .1 1.2-2.3 1.2-.1 1.2 3.8 1.2-.2 1.2-3 1.2-1.3 1.2 3.4 1.2 1.5 1.2 .6 1.2 0 1.2-4.5 1.2 2.7 1.2-1.1 1.2-.8 1.2 5.8 1.2-5 1.2 .2 1.2-1.2 1.2 1.6 1.2 1.1 1.2-2.4 1.2 .7 1.2-.5 1.2-.9 1.2 1.8 1.2 1.2 1.2-.4 1.2-.3 1.2-2.5 1.2 4.4 1.2 .1 1.2 2.9 1.2-3.5 1.2-.9 1.2-.6 1.2 2.8 1.2 1.4 1.2 1 1.2-3.6 1.2 1.6 1.2 2.6 1.2-2 1.2-1 1.2-.3 1.2-2.4 1.2 0 1.2 1.4 1.2 2.9 1.2-.4 1.2-2.6 1.2 1.4 1.2-.4 1.2 1.3 1.2-3.3 1.2 1.7 1.2 1.2 1.2-3.9 1.2 2.1 1.2 .6 1.2 .3 1.2 .2 1.2 .1 1.2 .8 1.2 .7 1.2-1.3 1.2 3.8 1.2-4.3 1.2 1 1.2 1.5 1.2-1.5 1.2-1 1.2-.5 1.2 3.7 1.2-4 1.2-2 1.2 5 1.2-3.5 1.2-1 1.2-2.9 1.2 1.8 1.2-1.4 1.2 1.4 1.2-.5 1.2-.4 1.2 .8 1.2-2 1.2 .9 1.2-.7 1.2 2.1 1.2 .6 1.2 .2 1.2-5 1.2 6.5 1.2-3.6 1.2 .1 1.2 .1 1.2-.1 1.2 2.2 1.2-2.1 1.2 .3 1.2 1 1.2 .6 1.2-4.2 1.2-.5 1.2-1.5 1.2-.2 1.2 3.7 1.2-.6 1.2-.5 1.2 .4 1.2-.3 1.2 1.4 1.2 .6 1.2-4.8 1.2 3.9 1.2-1.1 1.2-3.7 1.2 1.5 1.2-1.4 1.2-2.4 1.2 3.1 1.2-2.9 1.2 3 1.2-2 1.2 1.3 1.2 2 1.2-1.2 1.2-1.7 1.2 1.9 1.2 .8 1.2 .5 1.2-3.2 1.2 3.5" fill="none" stroke="#ff2828" stroke-width="0.8"/>
</g>
<path d="M88.50 654.88v-3.90M88.50 586.54v3.90M106.50 654.88v-3.90M106.50 586.54v3.90M125.50 654.88v-10.60M125.50 586.54v10.60M143.50 654.88v-3.90M143.50 586.54v3.90M161.50 654.88v-3.90M161.50 586.54v3.90M179.50 654.88v-3.90M179.50 586.54v3.90M198.50 654.88v-3.90M198.50 586.54v3.90M216.50 654.88v-10.60M216.50 586.54v10.60M234.50 654.88v-3.90M234.50 586.54v3.90M252.50 654.88v-3.90M252.50 586.54v3.90M271.50 654.88v-3.90M271.50 586.54v3.90M289.50 654.88v-3.90M289.50 586.54v3.90M307.50 654.88v-10.60M307.50 586.54v10.60M326.50 654.88v-3.90M326.50 586.54v3.90M344.50 654.88v-3.90M344.50 586.54v3.90M362.50 654.88v-3.90M362.50 586.54v3.90M380.50 654.88v-3.90M380.50 586.54v3.90M399.50 654.88v-10.60M399.50 586.54v10.60M417.50 654.88v-3.90M417.50 586.54v3.90M435.50 654.88v-3.90M435.50 586.54v3.90M454.50 654.88v-3.90M454.50 586.54v3.90M472.50 654.88v-3.90M472.50 586.54v3.90M490.50 654.88v-10.60M490.50 586.54v10.60M508.50 654.88v-3.90M508.50 586.54v3.90" stroke="#000" stroke-width="1.0" fill="none"/>
<path d="M71.60 601.50h6.30M525.30 601.50h-6.30M71.60 643.50h6.30M525.30 643.50h-6.30" stroke="#000" stroke-width="1.0" fill="none"/>
<rect x="71.60" y="586.54" width="453.70" height="68.34" fill="none" stroke="#000" stroke-width="1.4"/>
<text transform="translate(38.50 620.50) rotate(-90)" font-size="11" text-anchor="middle">T<tspan font-size="8.8" dy="3.2">i</tspan><tspan dy="-3.2">&#8203;</tspan> [eV]</text>
<path d="M77.50 596.30h18.00" stroke="#ff4040" stroke-width="0.9" fill="none"/>
<text x="96.00" y="600.30" font-size="9.5" fill="#ff2020">T<tspan font-size="6.9" dy="3.8">||</tspan><tspan dy="-3.8">&#8203;</tspan></text>
<path d="M77.50 615.00h18.00" stroke="#333" stroke-width="0.9" fill="none"/>
<text x="96.00" y="619.00" font-size="9.5" fill="#222">T<tspan font-size="6.9" dy="3.8">&#8869;</tspan><tspan dy="-3.8">&#8203;</tspan></text>
<path d="M154.60 658.88V723.22" stroke="#10a010" stroke-width="1.0" stroke-dasharray="7.1 3.0" fill="none"/>
<path d="M249.40 658.88V723.22" stroke="#10a010" stroke-width="1.0" stroke-dasharray="7.1 3.0" fill="none"/>
<path d="M178.30 658.88V723.22" stroke="#ff2020" stroke-width="1.1" stroke-dasharray="7.1 3.0" fill="none"/>
<path d="M225.50 658.88V723.22" stroke="#ff2020" stroke-width="1.1" stroke-dasharray="7.1 3.0" fill="none"/>
<path d="M227.90 658.88V723.22" stroke="#3030ff" stroke-width="1.3" stroke-dasharray="1.6 1.5" fill="none"/>
<path d="M229.60 658.88V723.22" stroke="#ff10ff" stroke-width="1.3" stroke-dasharray="1.6 1.5" fill="none"/>
<clipPath id="lc9"><rect x="71.60" y="654.88" width="453.70" height="68.34"/></clipPath>
<g clip-path="url(#lc9)">
<path d="M71.6 659l1.4 .6 1.3 .3 1.4 .2 1.4 .4 1.4-.7 1.3 .5 1.4-.2 1.4-.3 1.3 .3 1.4 .3 1.4-.3 1.3 .3 1.4 .5 1.4-.1 1.4 0 1.3 0 1.4-.2 1.4-.5 1.3 1 1.4-.9 1.4 .5 1.3-.1 1.4 0 1.4-.1 1.4-.3 1.3 .3 1.4-.8 1.4 .6 1.3-1 1.4 1 1.4-.7 1.3 .3 1.4 .3 1.4-1.4 1.4 .6 1.3 .3 1.4 0 1.4 .1 1.3-.3 1.4 0 1.4-.2 1.3 .1 1.4-.1 1.4 .3 1.4-.3 1.3 .2 1.4 .3 1.4-.1 1.3-.6 1.4 .1 1.4 .3 1.3-.5 1.4-.4 1.4 .3 1.4 .6 1.3-.2 1.4 .1 1.4 .6 1.3-.4 1.4 1.5 1.4-.6 1.3 .2 1.4 1 1.4-.9 1.4 .3 1.3 .2 1.4-.3 1.4 .2 1.3 .3 1.4-.2 1.4-.1 1.3 .3 1.4 .3 1.4-.2 1.4-1.4 1.3 1.2 1.4-.3 1.4-.3 1.3-.6 1.4-.1 1.4-.2 1.3-.8 1.4 .6 1.4-.5 1.4-.6 1.3-.6 1.4 .7 1.4-.3 1.3 .2 1.4-.4 1.4 1 1.3-.8 1.4 .9 1.4-1.3 1.4 .9 1.3 .1 1.4-.8 1.4 .7 1.3-.1 1.4 0 1.4 .3 1.3-.1 1.4 .5 1.4 .1 1.4 0 1.3-.3 1.4 .1 1.4 .8 1.3-.7 1.4 .2 1.4-.1 1.3 .4 1.4 .3 1.4 .1 1.4 .1 1.3 .4 1.4-.1 1.4 .6 1.3-.3 1.4 .6 1.4 .5 1.3-.6 1.4 .6 1.4-.1 1.4-.6 1.3-.1 1.4 0 1.4 .2 1.3 .5 1.4-.1 1.4 .4 1.3 .4 1.4-1 1.4-.6 1.4 .2 1.3-.3 1.4 .3 1.4-.1 1.3 .5 1.4-1.1 1.4 .3 1.3-.2 1.4 0 1.4-.3 1.4 1 1.3-.8 1.4 .1 1.4 .4 1.3 0 1.4 .6 1.4-.9 1.3 .4 1.4-.2 1.4-.1 1.4 .1 1.3-1 1.4-.9 1.4 .3 1.3-.7 1.4 .2 1.4-.3 1.3 .6 1.4-.6 1.4-.5 1.4 .4 1.3 .2 1.4-.4 1.4-.1 1.3-.1 1.4 0 1.4-.2 1.3 .7 1.4-.3 1.4-.7 1.4 .8 1.3-.4 1.4 0 1.4 0 1.3 .3 1.4-1.3 1.4 .8 1.3 .2 1.4-.3 1.4-.6 1.4 .2 1.3 .5 1.4 .5 1.4-1 1.3 .8 1.4 .6 1.4 .3 1.3 .5 1.4 .6 1.4 .2 1.4-.6 1.3 .7 1.4-.2 1.4 .4 1.3 .6 1.4-.2 1.4 .4 1.3-.3 1.4-.1 1.4 0 1.4-.6 1.3 .2 1.4 .2 1.4 .1 1.3-.1 1.4-.6 1.4-.3 1.3-.2 1.4 .8 1.4-1 1.4 0 1.3-.6 1.4-.3 1.4-.3 1.3-.2 1.4 .1 1.4 .2 1.3-.7 1.4 .5 1.4-.1 1.4 0 1.3 .5 1.4 .4 1.4-1 1.3 .6 1.4 .4 1.4 0 1.3-.7 1.4 .9 1.4-.2 1.4 .1 1.3 .6 1.4-.5 1.4 .6 1.3 .3 1.4-.5 1.4-.1 1.3 1.2 1.4-1.1 1.4 .8 1.4-.6 1.3 .3 1.4-.2 1.4 .2 1.3 .1 1.4-.5 1.4 .4 1.3 .4 1.4-.6 1.4-.5 1.4 .9 1.3-.4 1.4 .4 1.4-.2 1.3-.2 1.4 .2 1.4 .1 1.3-.2 1.4-.7 1.4-.2 1.4-.2 1.3 .7 1.4-.6 1.4-.6 1.3 .1 1.4 .4 1.4-1 1.3 .1 1.4 .4 1.4 0 1.4 0 1.3-.5 1.4 .4 1.4-.8 1.3 .9 1.4 0 1.4 .2 1.3 .7 1.4-.3 1.4 .1 1.4 .4 1.3 .5 1.4-.8 1.4 .6 1.3-.3 1.4-.5 1.4 .4 1.3 .3 1.4-.2 1.4 0 1.4 .2 1.3-.1 1.4 0 1.4-.3 1.3 .6 1.4-1 1.4 .9 1.3-.3 1.4 .5 1.4-.7 1.4-.4 1.3 1 1.4 .3 1.4-1 1.3 .8 1.4 0 1.4-.4 1.3 .6 1.4-.5 1.4 .7 1.4 .1 1.3-.6 1.4 .1 1.4 .2 1.3-.7 1.4 .5 1.4 .3 1.3 .8 1.4-.4 1.4-.2 1.4-.4 1.3 .5 1.4-.1 1.4-.5 1.3 .5 1.4-.4 1.4 .3" fill="none" stroke="#5050ff" stroke-width="0.85"/>
<path d="M71.6 689.2l1.4-.2 1.3-.3 1.4-.2 1.4-.2 1.4 .7 1.3-.3 1.4 0 1.4 .2 1.3 .1 1.4-.8 1.4 1.1 1.3-1 1.4 1.3 1.4-.4 1.4-.4 1.3 .5 1.4-.5 1.4 .2 1.3-.3 1.4 .3 1.4-.1 1.3-.7 1.4 0 1.4 .3 1.4-.3 1.3-.8 1.4 1.4 1.4-1.5 1.3-.1 1.4 .2 1.4 .6 1.3 .3 1.4-.8 1.4-.1 1.4 .1 1.3-.2 1.4 .1 1.4-.4 1.3 .5 1.4 0 1.4-1 1.3 .8 1.4 .1 1.4 .2 1.4-.5 1.3-.1 1.4 .1 1.4 .6 1.3-.5 1.4 .1 1.4 .7 1.3-.6 1.4 0 1.4 .3 1.4 .2 1.3 .4 1.4-.5 1.4-.1 1.3 .7 1.4 .5 1.4-.5 1.3 .6 1.4 .4 1.4 .2 1.4 .1 1.3 0 1.4-.2 1.4 0 1.3 .7 1.4-.9 1.4 .7 1.3-1 1.4 1.3 1.4-1.8 1.4 1 1.3-1.1 1.4 .1 1.4-.2 1.3-.4 1.4 .8 1.4-1 1.3-.7 1.4 .4 1.4-.2 1.4-.9 1.3 .4 1.4-.3 1.4 .1 1.3-.1 1.4-.3 1.4-.3 1.3 .4 1.4-.3 1.4-.7 1.4 .3 1.3 0 1.4 0 1.4 .8 1.3-1 1.4 .3 1.4 .3 1.3-.4 1.4-.1 1.4 .2 1.4-.5 1.3 0 1.4 .1 1.4-.2 1.3-.5 1.4-.2 1.4 .3 1.3 .5 1.4-.5 1.4 .5 1.4-.1 1.3 0 1.4-.6 1.4 1.2 1.3 0 1.4-.2 1.4 .9 1.3 0 1.4 .2 1.4-.3 1.4 .4 1.3-.1 1.4 .6 1.4-.2 1.3-.5 1.4 .6 1.4 .1 1.3-.1 1.4-.3 1.4 .9 1.4-.6 1.3 .8 1.4-.7 1.4 .2 1.3 0 1.4 .1 1.4 .9 1.3-1.1 1.4 .9 1.4-.5 1.4-.5 1.3 .7 1.4-.2 1.4 .1 1.3-.8 1.4 .6 1.4-.3 1.3 .1 1.4 0 1.4 .1 1.4 .5 1.3-.4 1.4-.8 1.4 1.1 1.3-.4 1.4 0 1.4-.7 1.3 .8 1.4-.3 1.4 .5 1.4-.2 1.3 .1 1.4-.4 1.4-.5 1.3 1 1.4-.2 1.4-.2 1.3-.1 1.4 0 1.4-.3 1.4 .2 1.3 .5 1.4 .6 1.4-.3 1.3 .4 1.4-.8 1.4 .8 1.3-.5 1.4 .7 1.4 0 1.4-.3 1.3 .1 1.4 .5 1.4-.5 1.3-.4 1.4 1.2 1.4 .6 1.3-1.3 1.4 .8 1.4-.4 1.4 .4 1.3-.2 1.4 .7 1.4-.5 1.3 .1 1.4-.3 1.4 .6 1.3-.4 1.4 0 1.4 0 1.4-.5 1.3 .4 1.4-.6 1.4 .5 1.3-.1 1.4-.2 1.4-.1 1.3-.3 1.4 .2 1.4-.4 1.4-.4 1.3-.1 1.4-.4 1.4 0 1.3-.2 1.4-.7 1.4 1.2 1.3-.9 1.4-.1 1.4 .2 1.4-.9 1.3 .5 1.4 .2 1.4-.2 1.3 .1 1.4-.2 1.4 0 1.3 .1 1.4 .1 1.4-.3 1.4 .6 1.3 .1 1.4-.2 1.4 .1 1.3 .3 1.4 .3 1.4 0 1.3-.7 1.4 .1 1.4 0 1.4 .4 1.3-.2 1.4 .1 1.4 .4 1.3-.4 1.4 .1 1.4-.1 1.3-.3 1.4 .2 1.4-.1 1.4-.1 1.3 .7 1.4-.3 1.4-1.1 1.3 .6 1.4 .3 1.4 0 1.3-.4 1.4 .2 1.4-.1 1.4-.1 1.3 .3 1.4-.3 1.4-.2 1.3 0 1.4 .1 1.4-.4 1.3 .1 1.4 .4 1.4 .2 1.4-1.1 1.3 1.9 1.4-.7 1.4 .8 1.3-.5 1.4 1 1.4-.1 1.3-.1 1.4 0 1.4 0 1.4 .3 1.3-.6 1.4 .2 1.4-.1 1.3-.5 1.4 .6 1.4 0 1.3-.2 1.4-.3 1.4 .3 1.4 .1 1.3 .1 1.4 .1 1.4-.4 1.3 .9 1.4 0 1.4 .1 1.3-.1 1.4 .4 1.4-.2 1.4 .2 1.3-.3 1.4-.1 1.4 .2 1.3-.6 1.4 .1 1.4 .1 1.3-.4 1.4-.7 1.4 .5 1.4-.2 1.3 .5 1.4-1.1 1.4 .4 1.3 .7 1.4-1.4 1.4 .6 1.3-.2 1.4-.4 1.4 .6 1.4-.4 1.3-.7 1.4 .7 1.4-.3 1.3 .8 1.4-.5 1.4-.4" fill="none" stroke="#50e850" stroke-width="0.85"/>
<path d="M71.6 708.1l1.5 .1 1.5 .2 1.5 .1 1.5 .2 1.5 .2 1.5 .1 1.5 .2 1.5 .2 1.5 .3 1.5 0 1.5 .2 1.5 .2 1.5 .1 1.5 .3 1.5 .2 1.5 .2 1.5 .1 1.5 .2 1.5 .1 1.5 .1 1.5 0 1.5 0 1.5 0 1.5-.1 1.5 0 1.5-.1 1.5 0 1.5-.1 1.5 0 1.5-.1 1.5-.1 1.5 0 1.5 0 1.5-.1 1.5 0 1.5-.1 1.5 .1 1.5-.1 1.5-.1 1.5 0 1.5-.1 1.5 0 1.5-.1 1.5 0 1.5 0 1.5-.1 1.5-.1 1.5-.1 1.5 0 1.5 0 1.5 0 1.5 .1 1.5-.1 1.5 .2 1.5 0 1.5 0 1.5-.1 1.5 0 1.5-.1 1.5 0 1.5 0 1.5 0 1.5 0 1.5 .1 1.5 .1 1.5 .1 1.5 .2 1.5 .1 1.5 .1 1.5 .1 1.5 .2 1.5 .1 1.5 .1 1.5 .1 1.5 .1 1.5 .1 1.5 .1 1.5 0 1.5 .1 1.5 .1 1.5 0 1.5 .1 1.5 .1 1.5 .1 1.5 .1 1.5 .1 1.5 0 1.5 .2 1.5 .1 1.5 .1 1.5 .2 1.5 0 1.5 0 1.5 .2 1.5-.1 1.5 0 1.5 .2 1.5 0 1.5 0 1.5 .1 1.5 0 1.5 0 1.5 0 1.5 .1 1.5 0 1.5 .1 1.5 0 1.5 0 1.5 0 1.5 0 1.5-.1 1.5-.1 1.5-.1 1.5 .1 1.5 0 1.5-.1 1.5-.2 1.5-.1 1.5 0 1.5-.1 1.5 0 1.5 0 1.5 0 1.5 0 1.5 0 1.5-.1 1.5 0 1.5 0 1.5 .1 1.5 0 1.5 0 1.5 0 1.5 0 1.5-.1 1.5 0 1.5-.1 1.5 0 1.5 0 1.5 0 1.5-.1 1.5-.2 1.5-.3 1.5-.2 1.5-.3 1.5-.3 1.5-.4 1.5-.2 1.5-.4 1.5-.2 1.5-.2 1.5-.3 1.5-.2 1.5-.3 1.5-.2 1.5-.2 1.5-.1 1.5-.2 1.5-.1 1.5-.2 1.5-.1 1.5-.1 1.5-.1 1.5-.1 1.5 0 1.5-.1 1.5-.1 1.5 .1 1.5 .1 1.5 .1 1.5 .1 1.5 .2 1.5 .1 1.5 .2 1.5 .2 1.5 .3 1.5 .2 1.5 .2 1.5 .2 1.5 .2 1.5 0 1.5 0 1.5 .2 1.5-.1 1.5 .1 1.5 0 1.5 0 1.5 .1 1.5 0 1.5 0 1.5 0 1.5-.1 1.5 .1 1.5 0 1.5 0 1.5 0 1.5 0 1.5 .1 1.5 0 1.5 .1 1.5 .1 1.5-.1 1.5 0 1.5 0 1.5 0 1.5 .1 1.5 .2 1.5 0 1.5 .1 1.5 0 1.5 .1 1.5 .1 1.5 0 1.5 0 1.5 0 1.5 0 1.5 .1 1.5 .2 1.5 0 1.5 .1 1.5 0 1.5-.1 1.5 .1 1.5 .1 1.5 0 1.5 0 1.5 0 1.5-.1 1.5 0 1.5 0 1.5-.1 1.5 .1 1.5 .1 1.5 0 1.5 .1 1.5-.1 1.5-.1 1.5 .1 1.5 .1 1.5 0 1.5 0 1.5-.2 1.5-.1 1.5-.1 1.5-.1 1.5-.2 1.5-.1 1.5-.1 1.5-.2 1.5-.2 1.5 0 1.5-.3 1.5-.2 1.5-.2 1.5-.2 1.5-.2 1.5-.1 1.5-.2 1.5 0 1.5 0 1.5 0 1.5 .2 1.5 .1 1.5 .2 1.5 .2 1.5 .1 1.5 .1 1.5 0 1.5-.1 1.5-.1 1.5-.2 1.5 0 1.5 0 1.5 0 1.5 .1 1.5 .1 1.5 .1 1.5 0 1.5 .2 1.5 .1 1.5 .1 1.5 0 1.5 0 1.5 .1 1.5 .1 1.5 .3 1.5 .3 1.5 .2 1.5 .3 1.5 .2 1.5 .2 1.5 .1 1.5 .1 1.5 .1 1.5 .1 1.5 .1 1.5 .1 1.5 .1 1.5 .2 1.5 0 1.5 .1" fill="none" stroke="#444" stroke-width="0.85"/>
<path d="M71.6 720.2l1.4 .1 1.3-.1 1.4-.2 1.4 .1 1.4-.3 1.3 .3 1.4-.3 1.4 .2 1.3-.1 1.4-.2 1.4 .1 1.3 0 1.4-.2 1.4 .4 1.4-.3 1.3-.3 1.4 0 1.4 .2 1.3-.1 1.4-.2 1.4 .3 1.3-.2 1.4-.2 1.4 .1 1.4-.1 1.3-.2 1.4 .1 1.4-.2 1.3 .2 1.4 .1 1.4-.3 1.3 .2 1.4-.2 1.4 .1 1.4-.1 1.3-.1 1.4 .1 1.4-.1 1.3 .2 1.4 0 1.4 .2 1.3-.4 1.4 .5 1.4-.1 1.4 .1 1.3 0 1.4 .4 1.4 0 1.3 0 1.4 0 1.4-.3 1.3 .4 1.4 0 1.4 0 1.4 .1 1.3 .1 1.4-.2 1.4-.1 1.3-.1 1.4 .2 1.4 .1 1.3-.1 1.4-.1 1.4-.1 1.4-.2 1.3 .3 1.4 0 1.4-.4 1.3 .1 1.4 .2 1.4 0 1.3-.2 1.4 .4 1.4-.2 1.4-.1 1.3-.1 1.4-.2 1.4 .3 1.3 .1 1.4-.1 1.4-.3 1.3 .4 1.4-.3 1.4-.2 1.4 .4 1.3-.5 1.4 .4 1.4 .2 1.3 0 1.4 .3 1.4-.3 1.3-.3 1.4 .3 1.4 0 1.4-.2 1.3-.1 1.4 .2 1.4 0 1.3 0 1.4 .1 1.4 .1 1.3 0 1.4 .2 1.4-.3 1.4 .2 1.3-.3 1.4 .2 1.4-.2 1.3 .2 1.4 .3 1.4-.3 1.3 .4 1.4 .1 1.4-.2 1.4-.1 1.3-.1 1.4 .1 1.4 .1 1.3-.1 1.4 .2 1.4-.1 1.3 .2 1.4-.3 1.4 .3 1.4 .1 1.3-.3 1.4 .4 1.4 0 1.3-.1 1.4-.3 1.4 .3 1.3-.3 1.4 .1 1.4-.1 1.4 .2 1.3-.1 1.4 .1 1.4 .1 1.3-.2 1.4 .1 1.4-.1 1.3 0 1.4 0 1.4-.1 1.4 0 1.3 .2 1.4 0 1.4-.1 1.3 .1 1.4 0 1.4-.1 1.3-.4 1.4 .3 1.4 .2 1.4-.2 1.3-.1 1.4 0 1.4 0 1.3-.1 1.4 .2 1.4-.2 1.3 0 1.4 0 1.4 .1 1.4-.2 1.3 0 1.4-.1 1.4-.1 1.3 .1 1.4 .1 1.4 0 1.3-.1 1.4 0 1.4-.2 1.4 .2 1.3 .2 1.4-.2 1.4 0 1.3 .3 1.4-.2 1.4 0 1.3-.2 1.4 .4 1.4 .1 1.4-.2 1.3 .2 1.4 0 1.4-.5 1.3 .6 1.4-.4 1.4 .3 1.3 0 1.4-.1 1.4 0 1.4 0 1.3 0 1.4 0 1.4 0 1.3 .1 1.4 0 1.4-.1 1.3 .1 1.4-.2 1.4 .1 1.4 0 1.3 .1 1.4-.5 1.4 .3 1.3-.1 1.4-.4 1.4 .2 1.3-.1 1.4 .3 1.4 .1 1.4 0 1.3-.1 1.4 .1 1.4-.1 1.3 0 1.4-.2 1.4 .1 1.3 .1 1.4 0 1.4 0 1.4 .1 1.3 .2 1.4 0 1.4 0 1.3 0 1.4 0 1.4 .1 1.3-.1 1.4 .2 1.4-.1 1.4 0 1.3 .1 1.4 0 1.4 0 1.3-.1 1.4 0 1.4 0 1.3 0 1.4 .3 1.4-.3 1.4 .2 1.3 0 1.4 .1 1.4-.2 1.3-.1 1.4 .1 1.4 .3 1.3-.3 1.4 .1 1.4 .1 1.4-.4 1.3 .4 1.4-.1 1.4-.3 1.3 .4 1.4 0 1.4-.2 1.3 .1 1.4 0 1.4 0 1.4-.2 1.3-.1 1.4 .1 1.4 0 1.3 .2 1.4-.3 1.4 .1 1.3 0 1.4 .3 1.4 .1 1.4-.2 1.3 .2 1.4 .1 1.4-.1 1.3 .1 1.4 .3 1.4 .1 1.3-.3 1.4 .2 1.4 .1 1.4-.3 1.3 .2 1.4-.1 1.4-.1 1.3-.4 1.4 0 1.4 .1 1.3-.3 1.4 .1 1.4-.1 1.4 0 1.3-.2 1.4 .2 1.4 .2 1.3-.1 1.4-.3 1.4 .1 1.3-.2 1.4 .3 1.4-.1 1.4 .1 1.3-.2 1.4-.1 1.4 .2 1.3-.3 1.4 .2 1.4 .2 1.3-.3 1.4-.3 1.4 .2 1.4 .4 1.3-.3 1.4-.1 1.4 .1 1.3 .2 1.4-.3 1.4-.1 1.3 .5 1.4-.3 1.4 .1 1.4-.3 1.3 .4 1.4-.2 1.4 .2 1.3 0 1.4-.2 1.4 0" fill="none" stroke="#ff5050" stroke-width="0.85"/>
</g>
<path d="M88.50 723.22v-3.90M88.50 654.88v3.90M106.50 723.22v-3.90M106.50 654.88v3.90M125.50 723.22v-10.60M125.50 654.88v10.60M143.50 723.22v-3.90M143.50 654.88v3.90M161.50 723.22v-3.90M161.50 654.88v3.90M179.50 723.22v-3.90M179.50 654.88v3.90M198.50 723.22v-3.90M198.50 654.88v3.90M216.50 723.22v-10.60M216.50 654.88v10.60M234.50 723.22v-3.90M234.50 654.88v3.90M252.50 723.22v-3.90M252.50 654.88v3.90M271.50 723.22v-3.90M271.50 654.88v3.90M289.50 723.22v-3.90M289.50 654.88v3.90M307.50 723.22v-10.60M307.50 654.88v10.60M326.50 723.22v-3.90M326.50 654.88v3.90M344.50 723.22v-3.90M344.50 654.88v3.90M362.50 723.22v-3.90M362.50 654.88v3.90M380.50 723.22v-3.90M380.50 654.88v3.90M399.50 723.22v-10.60M399.50 654.88v10.60M417.50 723.22v-3.90M417.50 654.88v3.90M435.50 723.22v-3.90M435.50 654.88v3.90M454.50 723.22v-3.90M454.50 654.88v3.90M472.50 723.22v-3.90M472.50 654.88v3.90M490.50 723.22v-10.60M490.50 654.88v10.60M508.50 723.22v-3.90M508.50 654.88v3.90" stroke="#000" stroke-width="1.0" fill="none"/>
<path d="M71.60 658.50h6.30M525.30 658.50h-6.30M71.60 670.50h6.30M525.30 670.50h-6.30M71.60 681.50h6.30M525.30 681.50h-6.30M71.60 693.50h6.30M525.30 693.50h-6.30M71.60 705.50h6.30M525.30 705.50h-6.30M71.60 717.50h6.30M525.30 717.50h-6.30M71.60 720.47h2.60M525.30 720.47h-2.60M71.60 714.53h2.60M525.30 714.53h-2.60M71.60 711.57h2.60M525.30 711.57h-2.60M71.60 708.61h2.60M525.30 708.61h-2.60M71.60 702.67h2.60M525.30 702.67h-2.60M71.60 699.71h2.60M525.30 699.71h-2.60M71.60 696.75h2.60M525.30 696.75h-2.60M71.60 690.82h2.60M525.30 690.82h-2.60M71.60 687.85h2.60M525.30 687.85h-2.60M71.60 684.88h2.60M525.30 684.88h-2.60M71.60 678.96h2.60M525.30 678.96h-2.60M71.60 675.99h2.60M525.30 675.99h-2.60M71.60 673.02h2.60M525.30 673.02h-2.60M71.60 667.10h2.60M525.30 667.10h-2.60M71.60 664.13h2.60M525.30 664.13h-2.60M71.60 661.16h2.60M525.30 661.16h-2.60M71.60 655.24h2.60M525.30 655.24h-2.60" stroke="#000" stroke-width="1.0" fill="none"/>
<rect x="71.60" y="654.88" width="453.70" height="68.34" fill="none" stroke="#000" stroke-width="1.4"/>
<text x="527.80" y="662.09" font-size="10.8">1.2</text>
<text x="527.80" y="673.95" font-size="10.8">1.0</text>
<text x="527.80" y="685.81" font-size="10.8">0.8</text>
<text x="527.80" y="697.67" font-size="10.8">0.6</text>
<text x="527.80" y="709.53" font-size="10.8">0.4</text>
<text x="527.80" y="721.39" font-size="10.8">0.2</text>
<text transform="translate(561.90 690.00) rotate(-90)" font-size="11" text-anchor="middle">P [nPa]</text>
<path d="M77.50 659.50h18.00" stroke="#50e850" stroke-width="0.9" fill="none"/>
<text x="96.30" y="663.10" font-size="9.5" fill="#40f040">P<tspan font-size="6.3" dy="3.2">p</tspan><tspan dy="-3.2">&#8203;</tspan></text>
<path d="M77.50 671.00h18.00" stroke="#ff5050" stroke-width="0.9" fill="none"/>
<text x="96.30" y="674.60" font-size="9.5" fill="#ff2828">P<tspan font-size="6.3" dy="3.2">e</tspan><tspan dy="-3.2">&#8203;</tspan></text>
<path d="M77.50 682.50h18.00" stroke="#444" stroke-width="0.9" fill="none"/>
<text x="96.30" y="686.10" font-size="9.5" fill="#222">P<tspan font-size="6.3" dy="3.2">b</tspan><tspan dy="-3.2">&#8203;</tspan></text>
<path d="M77.50 694.00h18.00" stroke="#5050ff" stroke-width="0.9" fill="none"/>
<text x="96.30" y="697.60" font-size="9.5" fill="#2828ff">P<tspan font-size="6.3" dy="3.2">tot</tspan><tspan dy="-3.2">&#8203;</tspan></text>
<text x="125.00" y="740.00" font-size="10.8" fill="#000" text-anchor="middle">12:26:20</text>
<text x="125.00" y="760.80" font-size="10.8" fill="#000" text-anchor="middle">7.71</text>
<text x="125.00" y="778.70" font-size="10.8" fill="#000" text-anchor="middle">8.31</text>
<text x="125.00" y="796.80" font-size="10.8" fill="#000" text-anchor="middle">-0.288</text>
<text x="216.40" y="740.00" font-size="10.8" fill="#000" text-anchor="middle">12:26:30</text>
<text x="216.40" y="760.80" font-size="10.8" fill="#000" text-anchor="middle">7.71</text>
<text x="216.40" y="778.70" font-size="10.8" fill="#000" text-anchor="middle">8.31</text>
<text x="216.40" y="796.80" font-size="10.8" fill="#000" text-anchor="middle">-0.287</text>
<text x="307.80" y="740.00" font-size="10.8" fill="#000" text-anchor="middle">12:26:40</text>
<text x="307.80" y="760.80" font-size="10.8" fill="#000" text-anchor="middle">7.71</text>
<text x="307.80" y="778.70" font-size="10.8" fill="#000" text-anchor="middle">8.31</text>
<text x="307.80" y="796.80" font-size="10.8" fill="#000" text-anchor="middle">-0.287</text>
<text x="399.20" y="740.00" font-size="10.8" fill="#000" text-anchor="middle">12:26:50</text>
<text x="399.20" y="760.80" font-size="10.8" fill="#000" text-anchor="middle">7.71</text>
<text x="399.20" y="778.70" font-size="10.8" fill="#000" text-anchor="middle">8.31</text>
<text x="399.20" y="796.80" font-size="10.8" fill="#000" text-anchor="middle">-0.287</text>
<text x="490.60" y="740.00" font-size="10.8" fill="#000" text-anchor="middle">12:27:00</text>
<text x="490.60" y="760.80" font-size="10.8" fill="#000" text-anchor="middle">7.71</text>
<text x="490.60" y="778.70" font-size="10.8" fill="#000" text-anchor="middle">8.32</text>
<text x="490.60" y="796.80" font-size="10.8" fill="#000" text-anchor="middle">-0.286</text>
<text x="49.50" y="760.80" font-size="10.5" fill="#000">X</text>
<text x="539.00" y="760.80" font-size="10.5" fill="#000">Re</text>
<text x="49.50" y="778.70" font-size="10.5" fill="#000">Y</text>
<text x="539.00" y="778.70" font-size="10.5" fill="#000">Re</text>
<text x="49.50" y="796.80" font-size="10.5" fill="#000">Z</text>
<text x="539.00" y="796.80" font-size="10.5" fill="#000">Re</text>
<text x="423.30" y="838.00" font-size="12" fill="#000">paschmann 21-Nov-2018 13:25</text>
<text x="29.10" y="11.80" font-size="10.93" fill="#000">Plot Layout GP 19/10/2018</text>
<text x="272.30" y="25.50" font-size="17.2" fill="#000">MMS2</text>
<text x="398.60" y="24.40" font-size="18.0" fill="#900000" font-weight="bold">20161101_122614</text>
</g>
<g id="mid">
<path d="M751.80 45.80V115.63" stroke="#10a010" stroke-width="1.0" stroke-dasharray="7.1 3.0" fill="none"/>
<path d="M846.60 45.80V115.63" stroke="#10a010" stroke-width="1.0" stroke-dasharray="7.1 3.0" fill="none"/>
<path d="M775.50 45.80V115.63" stroke="#ff2020" stroke-width="1.1" stroke-dasharray="7.1 3.0" fill="none"/>
<path d="M822.70 45.80V115.63" stroke="#ff2020" stroke-width="1.1" stroke-dasharray="7.1 3.0" fill="none"/>
<path d="M825.10 45.80V115.63" stroke="#3030ff" stroke-width="1.3" stroke-dasharray="1.6 1.5" fill="none"/>
<path d="M826.80 45.80V115.63" stroke="#ff10ff" stroke-width="1.3" stroke-dasharray="1.6 1.5" fill="none"/>
<clipPath id="mc1"><rect x="668.80" y="41.80" width="453.70" height="73.83"/></clipPath>
<g clip-path="url(#mc1)">
<path d="M668.8 45.8l1 .1 1 .1 1 0 1 .2 1 .1 1 .1 1 .2 1 .2 1-.1 1 .3 1 .2 1 0 1 .2 1 .1 1-.2 1 .2 1 0 1 .1 1 0 1 .1 1 .1 1 .2 1-.1 1 .1 1-.1 1 0 1 .2 1 .3 1 .2 1 .1 1 0 1 .1 1 .1 1 .2 1 0 1 .1 1 0 1 .2 1-.4 1-.4 1 0 1 0 1-.2 1 0 1-.2 1-.3 1-.2 1 .1 1-.1 1-.2 1-.2 1-.2 1-.1 1-.3 1-.1 1-.1 1-.1 1 0 1 0 1 .1 1 .1 1 .2 1 .2 1 .3 1 .1 1 .3 1 .3 1 .1 1 .3 1 .3 1 0 1-.3 1-.3 1-.2 1 .1 1-.1 1-.1 1-.3 1-.2 1-.1 1-.3 1-.1 1 .1 1 0 1 .1 1 0 1 .2 1 .2 1-.1 1 0 1 .1 1 .3 1 .2 1 .2 1 .1 1 .2 1 .3 1 0 1 0 1 .2 1 .1 1 .2 1 0 1 0 1-.1 1 .2 1 .2 1 0 1-.1 1-.1 1-.2 1-.2 1-.2 1-.3 1-.1 1 .2 1-.4 1 0 1 0 1-.3 1 0 1-.1 1-.1 1-.1 1-.3 1 .2 1 .3 1 .2 1-.1 1 0 1 .1 1 0 1 0 1 .2 1 .1 1-.1 1 0 1 .2 1 .1 1 .1 1 .4 1 .1 1 .1 1 .1 1 .5 1 0 1 .4 1 .3 1 .1 1 .1 1 .2 1 .1 1-.1 1 .3 1-.1 1 0 1 0 1-.1 1 0 1-.1 1 0 1 .2 1 .1 1 .1 1 .1 1 0 1-.2 1-.1 1-.6 1-.5 1-.3 1-.7 1-.3 1-.5 1-.6 1-.5 1-.3 1-.2 1-.2 1 0 1-.1 1-.1 1-.1 1 .3 1 .3 1 .2 1 .7 1 .5 1 .4 1 .3 1 .5 1 .1 1 .2 1 .4 1 .5 1 .2 1 .2 1 .1 1 .4 1 .1 1 0 1 0 1-.1 1 0 1-.2 1 .2 1-.1 1-.1 1 .1 1-.2 1 .1 1 .1 1-.2 1 0 1-.1 1-.1 1-.2 1-.4 1-.3 1-.4 1-.4 1-.2 1-.4 1-.4 1-.8 1-.4 1-.5 1-.3 1-.4 1 0 1-.1 1-.2 1-.1 1-.3 1 0 1-.1 1-.2 1 0 1 0 1 0 1-.1 1 .1 1 .1 1-.1 1-.1 1-.1 1-.1 1 .1 1-.1 1-.2 1 0 1 .2 1-.1 1 .2 1 .1 1-.1 1 .1 1 0 1 .2 1-.3 1 .2 1 .3 1-.1 1 .3 1 .1 1 .1 1 .2 1 .2 1 .1 1 .1 1 .1 1-.1 1 .2 1 .1 1-.1 1 0 1 0 1-.3 1 0 1-.2 1-.1 1 0 1-.1 1 .1 1-.2 1-.2 1-.2 1-.2 1 0 1 0 1-.2 1 0 1-.1 1 .3 1-.1 1 .1 1-.2 1 .1 1 .3 1-.1 1 .2 1-.2 1 .1 1 0 1 .1 1 0 1 .2 1 0 1 .1 1-.1 1 0 1-.1 1-.1 1-.1 1 .1 1 .2 1 0 1 .2 1-.3 1-.1 1 0 1 0 1 .1 1 .1 1-.1 1 .1 1 0 1-.5 1-.1 1 0 1 0 1 .1 1 0 1 .2 1-.1 1 0 1 .2 1-.1 1 .2 1 .1 1 0 1 .1 1 0 1 0 1 .2 1 .1 1-.1 1-.1 1 .3 1-.2 1 .1 1 .2 1 .3 1 .4 1 .3 1 .7 1 .3 1 .3 1 .2 1 .1 1 .2 1 .1 1 0 1-.1 1-.1 1 .1 1-.1 1 0 1 .1 1 0 1-.1 1 .1 1 0 1 .2 1 0 1-.1 1-.2 1 .1 1-.3 1-.1 1 .1 1-.2 1-.2 1 0 1-.5 1-.1 1-.1 1-.1 1 .2 1 .2 1 .3 1 .1 1 .1 1 0 1 .1 1-.1 1 0 1 .1 1 .1 1 .1 1-.2 1-.2 1-.2 1 0 1-.2 1-.1 1-.3 1-.1 1-.1 1 .1 1 .5 1 .1 1 .2 1 .2 1 .4 1 .2 1 .2 1 .2 1 .4 1 .2 1 .1 1-.2 1-.3 1 .2 1 .2 1 .4 1 .2 1 .1 1 .3 1 .3 1-.1 1 .2 1 .2 1-.2 1 .1 1-.1 1 .1 1 0 1-.4 1-.2 1 .1 1-.1 1-.3 1-.2 1-.3 1-.2 1-.4 1-.1 1-.1 1 .2" fill="none" stroke="#ff5050" stroke-width="0.85"/>
<path d="M668.8 61l1 .1 1 .1 1 .1 1 0 1-.2 1 .3 1 .1 1-.2 1 0 1 0 1 .2 1 .2 1 .2 1 0 1 .1 1 .1 1 .1 1 0 1 0 1 .3 1 0 1 .1 1 0 1 0 1 0 1 .2 1 .2 1 .1 1 0 1 .4 1 .1 1 .1 1-.1 1 0 1 .1 1-.3 1 0 1 .1 1 .3 1 .1 1-.1 1-.1 1 .2 1 0 1 0 1 .4 1 .1 1 0 1-.1 1 .3 1 .2 1-.1 1-.2 1 0 1 .1 1 0 1-.3 1 0 1 0 1-.2 1-.1 1-.1 1-.2 1-.2 1-.2 1-.2 1-.2 1 .1 1 .2 1 0 1 .1 1 .1 1 0 1 0 1 .1 1 0 1-.2 1 0 1 .1 1 0 1 0 1-.2 1 0 1 .2 1-.2 1 0 1-.3 1 0 1-.3 1-.2 1-.1 1-.2 1-.3 1-.1 1-.2 1 0 1 0 1 0 1 .1 1-.1 1 0 1 0 1 0 1 0 1 .1 1-.1 1 .3 1 .1 1 .3 1 0 1 .2 1 .3 1 .4 1 .3 1 .4 1 .1 1 .4 1 .1 1-.1 1-.1 1 .2 1 .1 1 .2 1 .1 1 .2 1 .3 1 .1 1 .1 1 0 1-.2 1 0 1 .3 1-.1 1 .3 1 0 1 0 1 .1 1-.1 1-.1 1 .1 1-.3 1-.1 1-.2 1-.1 1 .4 1 0 1-.2 1-.3 1 0 1 0 1-.2 1 .1 1 0 1 .1 1 .1 1 .1 1 0 1 0 1 .3 1 .1 1-.1 1 .3 1 .1 1 .2 1 .6 1 .3 1 .1 1 .1 1 .2 1 .2 1 .4 1 .4 1 .4 1 .3 1 .1 1 .2 1 .2 1 .2 1 .2 1-.1 1-.2 1-.4 1-.4 1-.4 1-.5 1-.2 1-.7 1-.2 1-.3 1-.4 1-.2 1-.3 1-.1 1 0 1-.3 1-.2 1 0 1 .1 1 0 1 .2 1 .2 1-.1 1 .2 1 .1 1 .1 1 .2 1 .1 1 0 1 0 1-.1 1-.3 1-.2 1-.2 1-.4 1-.4 1-.4 1-.2 1-.4 1-.2 1-.5 1-.2 1 0 1-.1 1-.1 1 .2 1-.1 1 .1 1 .2 1-.2 1 .2 1 .1 1-.1 1 0 1-.1 1 0 1 .2 1-.2 1-.4 1-.2 1 0 1-.3 1 0 1-.4 1-.5 1-.4 1-.4 1-.2 1-.2 1-.4 1-.3 1-.2 1 0 1 .2 1 .2 1 .1 1 .2 1 0 1 .1 1-.1 1 .1 1 .2 1 .3 1 .1 1 .1 1 .1 1-.2 1 .1 1-.1 1 .2 1 .1 1 .1 1 0 1 .2 1 .1 1 .3 1 .4 1 .4 1 .3 1 .1 1 .1 1 .5 1 0 1 0 1 .3 1 .2 1 0 1 .2 1 0 1 .2 1 .1 1 .1 1 .1 1-.2 1 0 1 .1 1 .1 1-.1 1-.1 1 0 1-.1 1-.3 1-.1 1-.2 1-.4 1-.4 1-.1 1-.3 1 0 1 .2 1 0 1-.1 1-.1 1 .1 1 .2 1 0 1 0 1 .3 1 .2 1 0 1 0 1 .1 1-.2 1 .1 1 0 1 .2 1 .1 1-.2 1 .3 1 .1 1-.2 1-.1 1 .3 1 0 1 .3 1 0 1 0 1 .4 1 .3 1 0 1 .3 1 0 1 0 1-.2 1 0 1 0 1 0 1 0 1 0 1-.2 1-.4 1-.1 1-.2 1-.4 1-.4 1-.4 1-.4 1-.3 1-.1 1-.1 1-.2 1-.2 1-.3 1-.2 1-.1 1-.2 1-.4 1-.2 1-.5 1-.2 1-.2 1-.2 1-.2 1 0 1-.3 1 0 1-.1 1-.2 1-.3 1 0 1-.2 1 0 1-.2 1 0 1-.3 1 0 1 .1 1 .4 1-.2 1 0 1 .1 1 .2 1 .1 1 .3 1 .2 1 .2 1 0 1 .2 1 .1 1 .3 1 .1 1 .2 1 0 1-.2 1 0 1-.4 1-.3 1-.1 1 0 1 0 1-.4 1-.1 1 0 1-.2 1-.3 1-.1 1 .2 1-.2 1-.1 1 .2 1 0 1-.2 1 0 1 .1 1-.1 1-.1 1 .1 1 0 1 .1 1 .1 1 .1 1 .3 1 .2 1 .2 1 .1 1 .4 1 .3 1 .3 1 .6 1 .6 1 .4 1 .5 1 .4 1 .5 1 .4 1 .3 1 .4 1 .4 1 .6 1 .5 1 0" fill="none" stroke="#50e850" stroke-width="0.85"/>
<path d="M668.8 111.3l1 .2 1 .3 1 .2 1 0 1 .3 1 .1 1 .3 1 .3 1 .1 1-.1 1 0 1 .1 1-.2 1 0 1 .1 1-.2 1 0 1 0 1-.2 1-.1 1 0 1-.2 1-.2 1 .1 1-.1 1-.3 1-.3 1 0 1-.6 1-.2 1-.3 1-.3 1-.2 1-.2 1 .1 1 .3 1-.1 1 0 1 .1 1 0 1 .1 1 0 1 .2 1 .1 1 .2 1 .2 1 .3 1 0 1 .2 1 .2 1 .1 1 .3 1 .1 1 0 1 .2 1 .1 1 .3 1 .2 1 .3 1 0 1 0 1 .2 1 0 1 .2 1-.1 1 0 1 .2 1-.1 1-.1 1-.1 1 .1 1 0 1 .1 1 0 1 0 1 0 1-.2 1 .1 1 0 1-.3 1 0 1 .2 1 .2 1-.2 1 0 1 .1 1 0 1-.2 1 0 1-.1 1-.1 1-.1 1-.1 1-.1 1-.1 1-.1 1 .1 1 .1 1-.1 1-.2 1-.2 1-.2 1-.3 1-.1 1-.1 1 0 1-.2 1 0 1 0 1-.2 1-.2 1-.2 1-.2 1 0 1-.3 1-.1 1-.3 1 .1 1-.2 1-.2 1-.3 1-.1 1-.2 1-.3 1-.4 1-.3 1-.1 1-.1 1-.3 1-.2 1-.1 1 .2 1-.4 1-.4 1-.3 1-.2 1-.1 1-.3 1 0 1 0 1-.4 1-.2 1-.3 1-.4 1-.4 1-.3 1-.5 1-.2 1-.2 1-.3 1-.3 1-.3 1-.1 1-.1 1 .1 1-.1 1-.3 1 0 1 0 1 .1 1 0 1-.4 1-.3 1 .1 1-.1 1-.2 1 0 1 .2 1 .2 1-.1 1 .1 1 .2 1 .1 1 .3 1-.1 1 .4 1 .2 1 .1 1 0 1 .1 1-.1 1 .3 1 .3 1 .4 1 .3 1 .3 1 .2 1 .2 1 .2 1 .4 1 .2 1 .5 1 .2 1 .5 1 .6 1 .5 1 .4 1 .3 1 .2 1 .2 1 .4 1 .5 1 .1 1 .6 1 .1 1 .1 1 .3 1 .4 1 .1 1 .1 1 .5 1 0 1 .4 1 .2 1 .2 1 .2 1 0 1 .2 1 .2 1 .1 1 0 1 .2 1 .3 1 .1 1 .1 1-.1 1 0 1-.1 1-.4 1 0 1 .1 1 .1 1-.2 1 .2 1-.1 1-.1 1-.1 1 0 1-.2 1-.2 1-.5 1-.3 1-.2 1-.5 1-.4 1-.5 1-.3 1-.5 1-.2 1-.2 1-.3 1-.1 1-.2 1-.1 1-.2 1 0 1-.2 1 .2 1-.1 1 0 1-.3 1-.4 1-.1 1 .1 1-.2 1 0 1 .1 1-.3 1-.1 1 0 1-.2 1-.2 1-.2 1-.1 1-.2 1 .1 1-.1 1 .1 1-.1 1 .2 1-.1 1-.1 1-.2 1-.3 1-.2 1 0 1-.1 1 .1 1-.3 1-.2 1 0 1 .1 1-.2 1 .1 1 .2 1-.1 1-.2 1 0 1-.1 1-.2 1-.1 1-.2 1 .1 1-.3 1 0 1-.1 1 .1 1-.1 1-.1 1-.2 1-.2 1-.2 1 0 1-.3 1 .1 1-.2 1-.3 1-.2 1 .1 1-.2 1 0 1-.3 1 0 1 0 1 0 1 .1 1-.2 1-.3 1-.1 1 .2 1 .1 1 .1 1 0 1 .1 1-.1 1 .1 1-.1 1 .1 1 .1 1 .2 1 .1 1 0 1 .2 1 .2 1-.1 1 .1 1 0 1 .2 1 0 1 .1 1 0 1-.1 1 .2 1 0 1-.3 1 0 1 .1 1-.1 1-.1 1 0 1 .1 1-.1 1 .2 1 .2 1 .1 1 .2 1 0 1 .2 1 0 1 .1 1-.1 1 .2 1 0 1 0 1 .2 1 0 1 0 1 0 1 .2 1 .2 1 .1 1 0 1 0 1 .1 1 .1 1 0 1 0 1 .2 1 .2 1 .1 1 0 1 .3 1 .1 1 .1 1-.2 1 0 1 .1 1 .1 1-.1 1-.1 1-.2 1 .1 1 0 1 .1 1-.3 1-.1 1 0 1 0 1 0 1 0 1-.3 1 0 1-.1 1 0 1-.2 1-.1 1 0 1-.1 1-.1 1 .1 1 .2 1-.1 1 0 1-.1 1 .1 1 .2 1 .1 1 .3 1-.2 1-.1 1 0 1 0 1 .1 1 .3 1-.1 1 .1 1 .2 1 .3 1-.1 1 .1 1 .1 1-.1 1 0 1-.2 1-.2 1-.2 1 0 1 .1 1-.1 1-.2" fill="none" stroke="#5858ff" stroke-width="0.85"/>
</g>
<path d="M668.80 94.50H1122.50" stroke="#333" stroke-width="1.0" stroke-dasharray="4.4 2.3" fill="none"/>
<path d="M685.50 115.63v-3.90M685.50 41.80v3.90M703.50 115.63v-3.90M703.50 41.80v3.90M722.50 115.63v-10.80M722.50 41.80v10.80M740.50 115.63v-3.90M740.50 41.80v3.90M758.50 115.63v-3.90M758.50 41.80v3.90M776.50 115.63v-3.90M776.50 41.80v3.90M795.50 115.63v-3.90M795.50 41.80v3.90M813.50 115.63v-10.80M813.50 41.80v10.80M831.50 115.63v-3.90M831.50 41.80v3.90M850.50 115.63v-3.90M850.50 41.80v3.90M868.50 115.63v-3.90M868.50 41.80v3.90M886.50 115.63v-3.90M886.50 41.80v3.90M904.50 115.63v-10.80M904.50 41.80v10.80M923.50 115.63v-3.90M923.50 41.80v3.90M941.50 115.63v-3.90M941.50 41.80v3.90M959.50 115.63v-3.90M959.50 41.80v3.90M978.50 115.63v-3.90M978.50 41.80v3.90M996.50 115.63v-10.80M996.50 41.80v10.80M1014.50 115.63v-3.90M1014.50 41.80v3.90M1032.50 115.63v-3.90M1032.50 41.80v3.90M1051.50 115.63v-3.90M1051.50 41.80v3.90M1069.50 115.63v-3.90M1069.50 41.80v3.90M1087.50 115.63v-10.80M1087.50 41.80v10.80M1105.50 115.63v-3.90M1105.50 41.80v3.90" stroke="#000" stroke-width="1.0" fill="none"/>
<path d="M668.80 52.50h6.30M1122.50 52.50h-6.30M668.80 73.50h6.30M1122.50 73.50h-6.30M668.80 94.50h6.30M1122.50 94.50h-6.30M668.80 110.96h2.60M1122.50 110.96h-2.60M668.80 106.77h2.60M1122.50 106.77h-2.60M668.80 102.58h2.60M1122.50 102.58h-2.60M668.80 98.39h2.60M1122.50 98.39h-2.60M668.80 90.01h2.60M1122.50 90.01h-2.60M668.80 85.82h2.60M1122.50 85.82h-2.60M668.80 81.63h2.60M1122.50 81.63h-2.60M668.80 77.44h2.60M1122.50 77.44h-2.60M668.80 69.06h2.60M1122.50 69.06h-2.60M668.80 64.87h2.60M1122.50 64.87h-2.60M668.80 60.68h2.60M1122.50 60.68h-2.60M668.80 56.49h2.60M1122.50 56.49h-2.60M668.80 48.11h2.60M1122.50 48.11h-2.60M668.80 43.92h2.60M1122.50 43.92h-2.60" stroke="#000" stroke-width="1.0" fill="none"/>
<rect x="668.80" y="41.80" width="453.70" height="73.83" fill="none" stroke="#000" stroke-width="1.4"/>
<text x="666.30" y="56.19" font-size="10.8" text-anchor="end">20</text>
<text x="666.30" y="77.14" font-size="10.8" text-anchor="end">10</text>
<text x="666.30" y="98.09" font-size="10.8" text-anchor="end">0</text>
<text x="666.30" y="118.74" font-size="10.8" text-anchor="end">-10</text>
<text transform="translate(639.10 79.00) rotate(-90)" font-size="11" text-anchor="middle">B<tspan font-size="8.8" dy="3.2">LMN</tspan><tspan dy="-3.2">&#8203;</tspan> [nT]</text>
<path d="M674.50 54.70h18.00" stroke="#4040ff" stroke-width="0.9" fill="none"/>
<text x="693.60" y="58.30" font-size="9.5" fill="#2828ff">B<tspan font-size="6.9" dy="3.8">L</tspan><tspan dy="-3.8">&#8203;</tspan></text>
<path d="M674.50 79.50h18.00" stroke="#50e850" stroke-width="0.9" fill="none"/>
<text x="693.60" y="83.10" font-size="9.5" fill="#30f030">B<tspan font-size="6.9" dy="3.8">M</tspan><tspan dy="-3.8">&#8203;</tspan></text>
<path d="M674.50 103.40h18.00" stroke="#ff5050" stroke-width="0.9" fill="none"/>
<text x="693.60" y="107.00" font-size="9.5" fill="#ff2828">B<tspan font-size="6.9" dy="3.8">N</tspan><tspan dy="-3.8">&#8203;</tspan></text>
<g><rect x="668.80" y="115.63" width="453.70" height="2.66" fill="#ff00ff"/><rect x="668.80" y="117.94" width="453.70" height="2.66" fill="#ff00ff"/><rect x="668.80" y="120.24" width="453.70" height="2.66" fill="#ff00ff"/><rect x="668.80" y="122.55" width="453.70" height="2.66" fill="#ff00ff"/><rect x="668.80" y="124.86" width="453.70" height="2.66" fill="#ff00ff"/><rect x="668.80" y="127.17" width="453.70" height="2.66" fill="#ff00ff"/><rect x="668.80" y="129.47" width="453.70" height="2.66" fill="#ff00ff"/><rect x="668.80" y="131.78" width="453.70" height="2.66" fill="#ff00ff"/><rect x="668.80" y="134.09" width="453.70" height="2.66" fill="#ff00ff"/><rect x="668.80" y="136.39" width="453.70" height="2.66" fill="#ff00ff"/><rect x="668.80" y="138.70" width="453.70" height="2.66" fill="#ff00ff"/><rect x="668.80" y="141.01" width="453.70" height="2.66" fill="#ff00ff"/><rect x="668.80" y="143.32" width="453.70" height="2.66" fill="#0050ff"/><rect x="668.80" y="145.62" width="453.70" height="2.66" fill="#00a8ff"/><rect x="668.80" y="147.93" width="453.70" height="2.66" fill="#00f4e8"/><rect x="668.80" y="150.24" width="453.70" height="2.66" fill="#00f448"/><rect x="668.80" y="152.54" width="453.70" height="2.66" fill="#28f400"/><rect x="668.80" y="154.85" width="453.70" height="2.66" fill="#f0f400"/><rect x="668.80" y="157.16" width="453.70" height="2.66" fill="#ff8000"/><rect x="668.80" y="159.47" width="453.70" height="2.66" fill="#ff0024"/><rect x="668.80" y="161.77" width="453.70" height="2.66" fill="#ff0028"/><rect x="668.80" y="164.08" width="453.70" height="2.66" fill="#ff0028"/><rect x="668.80" y="166.39" width="453.70" height="2.66" fill="#ff0024"/><rect x="668.80" y="168.70" width="453.70" height="2.66" fill="#ff1c00"/><rect x="668.80" y="171.00" width="453.70" height="2.66" fill="#ff4800"/><rect x="668.80" y="173.31" width="453.70" height="2.66" fill="#ff7000"/><rect x="668.80" y="175.62" width="453.70" height="2.66" fill="#ff8c00"/><rect x="668.80" y="177.92" width="453.70" height="2.66" fill="#ffb000"/><rect x="668.80" y="180.23" width="453.70" height="2.66" fill="#ffd000"/><rect x="668.80" y="182.54" width="453.70" height="2.66" fill="#ffd800"/><rect x="668.80" y="184.85" width="453.70" height="2.66" fill="#ffc000"/><rect x="668.80" y="187.15" width="453.70" height="2.66" fill="#ffa800"/><path d="M668.8 116.8h1.1M685.0 116.8h1.1M744.4 116.8h1.1M761.7 116.8h1.1M789.8 116.8h1.1M799.5 116.8h1.1M802.7 116.8h1.1M857.8 116.8h1.1M950.7 116.8h1.1M983.1 116.8h1.1M1040.4 116.8h1.1M1097.7 116.8h1.1M1107.4 116.8h1.1M695.8 119.1h1.1M706.6 119.1h1.1M719.6 119.1h1.1M723.9 119.1h1.1M794.1 119.1h1.1M811.4 119.1h1.1M837.3 119.1h1.1M840.6 119.1h1.1M876.2 119.1h1.1M891.3 119.1h2.2M943.2 119.1h1.1M958.3 119.1h1.1M1033.9 119.1h1.1M1036.1 119.1h1.1M1070.6 119.1h1.1M1120.3 119.1h1.1M686.1 121.4h1.1M730.4 121.4h1.1M783.3 121.4h1.1M870.8 121.4h1.1M919.4 121.4h1.1M935.6 121.4h1.1M989.6 121.4h1.1M1002.6 121.4h1.1M1022.0 121.4h1.1M1058.8 121.4h1.1M1107.4 121.4h1.1M1116.0 121.4h1.1M722.8 123.7h1.1M759.5 123.7h1.1M799.5 123.7h1.1M834.1 123.7h1.1M847.0 123.7h1.1M928.1 123.7h1.1M958.3 123.7h1.1M970.2 123.7h1.1M982.1 123.7h1.1M989.6 123.7h1.1M1008.0 123.7h1.1M1015.6 123.7h1.1M1026.4 123.7h1.1M1036.1 123.7h1.1M1053.4 123.7h1.1M1062.0 123.7h1.1M1102.0 123.7h1.1M686.1 126.0h1.1M690.4 126.0h1.1M719.6 126.0h1.1M723.9 126.0h1.1M742.3 126.0h1.1M770.3 126.0h1.1M819.0 126.0h1.1M889.2 126.0h1.1M921.6 126.0h1.1M924.8 126.0h1.1M1017.7 126.0h1.1M1031.8 126.0h1.1M1110.6 126.0h1.1M669.9 128.3h1.1M678.5 128.3h1.1M682.8 128.3h1.1M703.4 128.3h1.1M710.9 128.3h1.1M713.1 128.3h1.1M731.5 128.3h1.1M735.8 128.3h1.1M759.5 128.3h2.2M788.7 128.3h1.1M812.5 128.3h1.1M816.8 128.3h1.1M827.6 128.3h1.1M842.7 128.3h1.1M855.7 128.3h1.1M867.6 128.3h1.1M928.1 128.3h1.1M944.3 128.3h1.1M949.7 128.3h1.1M985.3 128.3h1.1M1064.2 128.3h1.1M1090.1 128.3h1.1M674.2 130.6h1.1M703.4 130.6h1.1M710.9 130.6h1.1M722.8 130.6h1.1M746.6 130.6h1.1M749.8 130.6h1.1M779.0 130.6h1.1M799.5 130.6h2.2M830.8 130.6h1.1M848.1 130.6h1.1M861.1 130.6h2.2M893.5 130.6h1.1M912.9 130.6h1.1M920.5 130.6h1.1M925.9 130.6h1.1M946.4 130.6h1.1M1008.0 130.6h1.1M1075.0 130.6h1.1M1082.5 130.6h2.2M1097.7 130.6h1.1M1114.9 130.6h1.1M1117.1 130.6h2.2M668.8 132.9h1.1M691.5 132.9h1.1M776.8 132.9h1.1M821.1 132.9h1.1M849.2 132.9h1.1M867.6 132.9h1.1M885.9 132.9h2.2M893.5 132.9h1.1M908.6 132.9h1.1M924.8 132.9h1.1M947.5 132.9h1.1M969.1 132.9h1.1M999.4 132.9h1.1M1008.0 132.9h1.1M1028.5 132.9h1.1M1094.4 132.9h1.1M672.0 135.2h1.1M681.8 135.2h1.1M704.4 135.2h1.1M710.9 135.2h1.1M729.3 135.2h1.1M740.1 135.2h1.1M747.7 135.2h1.1M784.4 135.2h1.1M786.5 135.2h1.1M789.8 135.2h1.1M813.6 135.2h1.1M865.4 135.2h1.1M901.1 135.2h1.1M909.7 135.2h3.2M915.1 135.2h1.1M925.9 135.2h1.1M935.6 135.2h1.1M946.4 135.2h1.1M961.5 135.2h1.1M968.0 135.2h3.2M996.1 135.2h1.1M1000.4 135.2h1.1M1002.6 135.2h1.1M1019.9 135.2h1.1M1067.4 135.2h1.1M1073.9 135.2h2.2M1110.6 135.2h1.1M678.5 137.5h1.1M680.7 137.5h1.1M685.0 137.5h1.1M691.5 137.5h1.1M701.2 137.5h1.1M705.5 137.5h1.1M714.2 137.5h1.1M733.6 137.5h1.1M747.7 137.5h1.1M762.8 137.5h1.1M774.7 137.5h1.1M777.9 137.5h1.1M790.9 137.5h2.2M795.2 137.5h1.1M808.2 137.5h1.1M821.1 137.5h1.1M825.4 137.5h1.1M835.2 137.5h1.1M885.9 137.5h1.1M916.2 137.5h1.1M942.1 137.5h1.1M946.4 137.5h1.1M956.1 137.5h1.1M973.4 137.5h1.1M984.2 137.5h1.1M986.4 137.5h1.1M992.9 137.5h1.1M995.0 137.5h1.1M1014.5 137.5h1.1M1029.6 137.5h1.1M1033.9 137.5h1.1M1043.6 137.5h1.1M1046.9 137.5h1.1M1063.1 137.5h1.1M1066.3 137.5h1.1M1069.6 137.5h2.2M1076.0 137.5h1.1M1103.1 137.5h1.1M1105.2 137.5h1.1M1108.5 137.5h2.2M673.1 139.9h3.2M683.9 139.9h1.1M696.9 139.9h2.2M705.5 139.9h1.1M714.2 139.9h1.1M719.6 139.9h1.1M726.1 139.9h1.1M732.5 139.9h1.1M739.0 139.9h1.1M753.1 139.9h1.1M801.7 139.9h1.1M804.9 139.9h1.1M821.1 139.9h1.1M827.6 139.9h1.1M844.9 139.9h1.1M878.4 139.9h1.1M880.5 139.9h1.1M903.2 139.9h1.1M907.5 139.9h1.1M961.5 139.9h1.1M974.5 139.9h1.1M976.7 139.9h2.2M984.2 139.9h1.1M986.4 139.9h1.1M997.2 139.9h1.1M1008.0 139.9h1.1M1026.4 139.9h1.1M1059.8 139.9h1.1M1066.3 139.9h1.1M1086.9 139.9h1.1M1093.3 139.9h1.1M1104.1 139.9h1.1M681.8 142.2h2.2M688.2 142.2h1.1M708.8 142.2h1.1M723.9 142.2h1.1M726.1 142.2h1.1M753.1 142.2h2.2M777.9 142.2h1.1M780.1 142.2h1.1M796.3 142.2h1.1M809.2 142.2h1.1M828.7 142.2h1.1M837.3 142.2h1.1M841.6 142.2h1.1M848.1 142.2h1.1M854.6 142.2h1.1M875.1 142.2h1.1M887.0 142.2h1.1M904.3 142.2h2.2M914.0 142.2h1.1M917.3 142.2h1.1M925.9 142.2h1.1M959.4 142.2h1.1M996.1 142.2h1.1M1001.5 142.2h1.1M1013.4 142.2h2.2M1016.6 142.2h1.1M1022.0 142.2h1.1M1024.2 142.2h1.1M1026.4 142.2h1.1M1032.8 142.2h2.2M1049.0 142.2h1.1M1084.7 142.2h3.2M1091.2 142.2h2.2M1112.8 142.2h1.1M687.2 144.5h1.1M692.6 144.5h1.1M720.7 144.5h1.1M723.9 144.5h1.1M736.9 144.5h1.1M739.0 144.5h1.1M741.2 144.5h1.1M745.5 144.5h1.1M749.8 144.5h2.2M767.1 144.5h1.1M769.3 144.5h1.1M775.7 144.5h1.1M779.0 144.5h1.1M801.7 144.5h1.1M827.6 144.5h1.1M831.9 144.5h1.1M839.5 144.5h1.1M875.1 144.5h2.2M879.4 144.5h1.1M884.8 144.5h1.1M892.4 144.5h1.1M897.8 144.5h1.1M901.1 144.5h1.1M908.6 144.5h1.1M912.9 144.5h1.1M956.1 144.5h1.1M959.4 144.5h1.1M974.5 144.5h1.1M976.7 144.5h1.1M989.6 144.5h1.1M991.8 144.5h1.1M1002.6 144.5h1.1M1014.5 144.5h1.1M1017.7 144.5h1.1M1027.4 144.5h1.1M1033.9 144.5h1.1M1046.9 144.5h1.1M1069.6 144.5h1.1M1077.1 144.5h1.1M1082.5 144.5h1.1M1097.7 144.5h1.1M1111.7 144.5h2.2M673.1 146.8h2.2M676.4 146.8h2.2M679.6 146.8h6.5M688.2 146.8h1.1M691.5 146.8h1.1M693.6 146.8h1.1M696.9 146.8h1.1M700.1 146.8h1.1M710.9 146.8h2.2M714.2 146.8h1.1M718.5 146.8h2.2M721.7 146.8h1.1M725.0 146.8h1.1M729.3 146.8h2.2M732.5 146.8h2.2M740.1 146.8h2.2M743.3 146.8h1.1M745.5 146.8h2.2M748.7 146.8h1.1M753.1 146.8h1.1M755.2 146.8h1.1M762.8 146.8h2.2M770.3 146.8h1.1M772.5 146.8h1.1M776.8 146.8h4.3M783.3 146.8h2.2M786.5 146.8h1.1M791.9 146.8h1.1M794.1 146.8h1.1M797.3 146.8h2.2M801.7 146.8h1.1M804.9 146.8h3.2M809.2 146.8h1.1M812.5 146.8h1.1M815.7 146.8h1.1M817.9 146.8h1.1M820.0 146.8h2.2M824.4 146.8h1.1M826.5 146.8h1.1M830.8 146.8h1.1M836.2 146.8h1.1M840.6 146.8h2.2M844.9 146.8h1.1M847.0 146.8h2.2M850.3 146.8h4.3M861.1 146.8h4.3M866.5 146.8h1.1M869.7 146.8h1.1M876.2 146.8h2.2M883.8 146.8h1.1M885.9 146.8h2.2M889.2 146.8h1.1M892.4 146.8h1.1M894.6 146.8h2.2M897.8 146.8h1.1M900.0 146.8h1.1M903.2 146.8h2.2M908.6 146.8h1.1M912.9 146.8h2.2M920.5 146.8h2.2M931.3 146.8h2.2M934.5 146.8h2.2M937.8 146.8h2.2M942.1 146.8h1.1M945.3 146.8h1.1M948.6 146.8h1.1M951.8 146.8h1.1M954.0 146.8h1.1M956.1 146.8h10.8M969.1 146.8h1.1M972.3 146.8h1.1M974.5 146.8h1.1M978.8 146.8h3.2M983.1 146.8h2.2M989.6 146.8h2.2M992.9 146.8h1.1M1001.5 146.8h2.2M1004.8 146.8h2.2M1008.0 146.8h1.1M1012.3 146.8h3.2M1016.6 146.8h2.2M1021.0 146.8h4.3M1027.4 146.8h2.2M1032.8 146.8h4.3M1038.2 146.8h1.1M1045.8 146.8h1.1M1050.1 146.8h2.2M1054.4 146.8h2.2M1057.7 146.8h2.2M1060.9 146.8h2.2M1065.2 146.8h1.1M1071.7 146.8h1.1M1076.0 146.8h1.1M1078.2 146.8h3.2M1090.1 146.8h3.2M1102.0 146.8h2.2M1106.3 146.8h2.2M1109.5 146.8h1.1M1111.7 146.8h2.2" stroke="#00e8e8" stroke-width="2.61" fill="none"/><path d="M672.0 116.8h2.2M680.7 116.8h1.1M696.9 116.8h1.1M701.2 116.8h1.1M709.8 116.8h1.1M714.2 116.8h1.1M716.3 116.8h1.1M720.7 116.8h1.1M723.9 116.8h1.1M733.6 116.8h2.2M756.3 116.8h1.1M767.1 116.8h1.1M775.7 116.8h1.1M780.1 116.8h1.1M813.6 116.8h1.1M817.9 116.8h1.1M823.3 116.8h1.1M829.8 116.8h1.1M833.0 116.8h2.2M837.3 116.8h1.1M843.8 116.8h1.1M846.0 116.8h1.1M855.7 116.8h1.1M858.9 116.8h1.1M912.9 116.8h1.1M937.8 116.8h1.1M961.5 116.8h1.1M971.3 116.8h1.1M1022.0 116.8h1.1M1038.2 116.8h1.1M1041.5 116.8h1.1M1055.5 116.8h2.2M1067.4 116.8h1.1M1082.5 116.8h1.1M1089.0 116.8h1.1M1092.3 116.8h1.1M1099.8 116.8h1.1M1110.6 116.8h2.2M1114.9 116.8h1.1M701.2 119.1h1.1M714.2 119.1h1.1M734.7 119.1h1.1M760.6 119.1h1.1M764.9 119.1h1.1M775.7 119.1h1.1M788.7 119.1h1.1M796.3 119.1h1.1M835.2 119.1h1.1M869.7 119.1h1.1M874.0 119.1h1.1M898.9 119.1h1.1M904.3 119.1h1.1M915.1 119.1h1.1M924.8 119.1h1.1M950.7 119.1h1.1M960.5 119.1h1.1M975.6 119.1h1.1M986.4 119.1h1.1M996.1 119.1h2.2M1002.6 119.1h1.1M1015.6 119.1h1.1M1019.9 119.1h1.1M1026.4 119.1h1.1M1048.0 119.1h1.1M1055.5 119.1h2.2M1078.2 119.1h1.1M1086.9 119.1h1.1M1089.0 119.1h1.1M1096.6 119.1h1.1M1103.1 119.1h1.1M1106.3 119.1h1.1M695.8 121.4h1.1M701.2 121.4h1.1M726.1 121.4h1.1M733.6 121.4h1.1M735.8 121.4h1.1M739.0 121.4h1.1M748.7 121.4h1.1M787.6 121.4h1.1M795.2 121.4h1.1M802.7 121.4h2.2M825.4 121.4h1.1M837.3 121.4h1.1M839.5 121.4h1.1M848.1 121.4h1.1M860.0 121.4h1.1M868.6 121.4h1.1M887.0 121.4h1.1M927.0 121.4h1.1M930.2 121.4h1.1M959.4 121.4h1.1M964.8 121.4h1.1M984.2 121.4h1.1M986.4 121.4h1.1M988.6 121.4h1.1M998.3 121.4h1.1M1044.7 121.4h1.1M1081.5 121.4h1.1M1089.0 121.4h2.2M1092.3 121.4h1.1M1117.1 121.4h1.1M678.5 123.7h1.1M689.3 123.7h1.1M693.6 123.7h1.1M695.8 123.7h1.1M710.9 123.7h1.1M754.1 123.7h1.1M761.7 123.7h1.1M789.8 123.7h1.1M798.4 123.7h1.1M821.1 123.7h1.1M836.2 123.7h1.1M864.3 123.7h1.1M867.6 123.7h1.1M890.2 123.7h1.1M892.4 123.7h1.1M896.7 123.7h2.2M909.7 123.7h2.2M921.6 123.7h1.1M936.7 123.7h1.1M947.5 123.7h1.1M964.8 123.7h1.1M969.1 123.7h1.1M976.7 123.7h1.1M990.7 123.7h1.1M999.4 123.7h1.1M1006.9 123.7h1.1M1019.9 123.7h1.1M1029.6 123.7h1.1M1044.7 123.7h1.1M1051.2 123.7h1.1M1083.6 123.7h1.1M1089.0 123.7h1.1M1095.5 123.7h1.1M1099.8 123.7h1.1M1103.1 123.7h2.2M1112.8 123.7h1.1M1120.3 123.7h1.1M675.3 126.0h1.1M680.7 126.0h1.1M700.1 126.0h2.2M714.2 126.0h1.1M725.0 126.0h1.1M743.3 126.0h1.1M755.2 126.0h1.1M761.7 126.0h1.1M789.8 126.0h1.1M807.1 126.0h1.1M809.2 126.0h1.1M814.6 126.0h1.1M821.1 126.0h1.1M828.7 126.0h1.1M848.1 126.0h1.1M860.0 126.0h2.2M863.2 126.0h1.1M902.1 126.0h1.1M914.0 126.0h1.1M943.2 126.0h1.1M951.8 126.0h1.1M1009.1 126.0h1.1M1012.3 126.0h1.1M1015.6 126.0h1.1M1053.4 126.0h2.2M1056.6 126.0h2.2M1085.8 126.0h1.1M1104.1 126.0h1.1M1108.5 126.0h1.1M1112.8 126.0h1.1M1117.1 126.0h1.1M672.0 128.3h1.1M677.4 128.3h1.1M725.0 128.3h1.1M729.3 128.3h1.1M747.7 128.3h1.1M768.2 128.3h1.1M800.6 128.3h1.1M809.2 128.3h1.1M814.6 128.3h1.1M833.0 128.3h1.1M835.2 128.3h1.1M841.6 128.3h1.1M851.4 128.3h1.1M864.3 128.3h1.1M875.1 128.3h1.1M897.8 128.3h1.1M904.3 128.3h1.1M911.9 128.3h1.1M918.3 128.3h1.1M920.5 128.3h1.1M922.7 128.3h2.2M929.1 128.3h1.1M932.4 128.3h1.1M938.9 128.3h1.1M948.6 128.3h1.1M951.8 128.3h1.1M960.5 128.3h1.1M971.3 128.3h1.1M973.4 128.3h2.2M978.8 128.3h1.1M986.4 128.3h2.2M990.7 128.3h1.1M996.1 128.3h1.1M999.4 128.3h1.1M1003.7 128.3h1.1M1028.5 128.3h1.1M1043.6 128.3h1.1M1045.8 128.3h1.1M1062.0 128.3h1.1M1066.3 128.3h1.1M1072.8 128.3h1.1M1076.0 128.3h1.1M1083.6 128.3h2.2M1104.1 128.3h1.1M685.0 130.6h1.1M695.8 130.6h1.1M701.2 130.6h2.2M713.1 130.6h1.1M719.6 130.6h2.2M732.5 130.6h1.1M735.8 130.6h1.1M741.2 130.6h1.1M748.7 130.6h1.1M750.9 130.6h1.1M756.3 130.6h1.1M771.4 130.6h1.1M776.8 130.6h1.1M785.5 130.6h1.1M788.7 130.6h1.1M791.9 130.6h1.1M795.2 130.6h1.1M804.9 130.6h1.1M813.6 130.6h1.1M815.7 130.6h1.1M833.0 130.6h1.1M839.5 130.6h1.1M842.7 130.6h1.1M855.7 130.6h1.1M860.0 130.6h1.1M871.9 130.6h2.2M887.0 130.6h1.1M904.3 130.6h2.2M908.6 130.6h1.1M933.5 130.6h1.1M945.3 130.6h1.1M958.3 130.6h1.1M960.5 130.6h1.1M964.8 130.6h2.2M976.7 130.6h1.1M982.1 130.6h1.1M998.3 130.6h1.1M1009.1 130.6h1.1M1014.5 130.6h1.1M1024.2 130.6h2.2M1037.2 130.6h1.1M1040.4 130.6h1.1M1044.7 130.6h1.1M1081.5 130.6h1.1M1086.9 130.6h1.1M1091.2 130.6h1.1M671.0 132.9h1.1M673.1 132.9h2.2M694.7 132.9h2.2M698.0 132.9h1.1M703.4 132.9h1.1M716.3 132.9h1.1M719.6 132.9h1.1M746.6 132.9h1.1M749.8 132.9h1.1M777.9 132.9h1.1M780.1 132.9h1.1M789.8 132.9h1.1M795.2 132.9h1.1M804.9 132.9h1.1M807.1 132.9h1.1M810.3 132.9h1.1M814.6 132.9h4.3M823.3 132.9h1.1M831.9 132.9h1.1M835.2 132.9h2.2M838.4 132.9h1.1M843.8 132.9h1.1M847.0 132.9h1.1M854.6 132.9h1.1M857.8 132.9h2.2M866.5 132.9h1.1M876.2 132.9h1.1M881.6 132.9h1.1M891.3 132.9h1.1M896.7 132.9h1.1M904.3 132.9h1.1M911.9 132.9h1.1M916.2 132.9h1.1M923.7 132.9h1.1M925.9 132.9h1.1M943.2 132.9h1.1M948.6 132.9h1.1M950.7 132.9h1.1M954.0 132.9h1.1M956.1 132.9h2.2M962.6 132.9h1.1M990.7 132.9h1.1M994.0 132.9h1.1M998.3 132.9h1.1M1004.8 132.9h1.1M1024.2 132.9h2.2M1037.2 132.9h1.1M1050.1 132.9h2.2M1098.7 132.9h2.2M1105.2 132.9h1.1M1109.5 132.9h1.1M1121.4 132.9h1.1M671.0 135.2h1.1M680.7 135.2h1.1M689.3 135.2h1.1M694.7 135.2h1.1M705.5 135.2h1.1M714.2 135.2h1.1M716.3 135.2h1.1M725.0 135.2h2.2M731.5 135.2h1.1M734.7 135.2h1.1M742.3 135.2h1.1M746.6 135.2h1.1M749.8 135.2h1.1M755.2 135.2h1.1M777.9 135.2h1.1M800.6 135.2h2.2M808.2 135.2h2.2M814.6 135.2h2.2M821.1 135.2h1.1M828.7 135.2h2.2M844.9 135.2h1.1M857.8 135.2h1.1M863.2 135.2h1.1M868.6 135.2h1.1M891.3 135.2h1.1M906.5 135.2h1.1M928.1 135.2h1.1M932.4 135.2h1.1M941.0 135.2h2.2M944.3 135.2h1.1M947.5 135.2h1.1M957.2 135.2h1.1M959.4 135.2h1.1M971.3 135.2h1.1M978.8 135.2h1.1M988.6 135.2h1.1M1004.8 135.2h1.1M1008.0 135.2h1.1M1011.2 135.2h1.1M1014.5 135.2h1.1M1022.0 135.2h1.1M1025.3 135.2h1.1M1033.9 135.2h3.2M1058.8 135.2h1.1M1062.0 135.2h1.1M1070.6 135.2h1.1M1082.5 135.2h2.2M1102.0 135.2h1.1M1108.5 135.2h2.2M1120.3 135.2h1.1M669.9 137.5h1.1M683.9 137.5h1.1M689.3 137.5h1.1M694.7 137.5h1.1M696.9 137.5h1.1M700.1 137.5h1.1M702.3 137.5h1.1M704.4 137.5h1.1M706.6 137.5h2.2M709.8 137.5h4.3M718.5 137.5h1.1M721.7 137.5h1.1M725.0 137.5h3.2M736.9 137.5h1.1M740.1 137.5h1.1M743.3 137.5h1.1M752.0 137.5h1.1M754.1 137.5h1.1M771.4 137.5h1.1M783.3 137.5h1.1M786.5 137.5h1.1M798.4 137.5h1.1M815.7 137.5h2.2M822.2 137.5h1.1M831.9 137.5h1.1M836.2 137.5h1.1M844.9 137.5h1.1M853.5 137.5h1.1M858.9 137.5h2.2M862.2 137.5h1.1M864.3 137.5h3.2M874.0 137.5h1.1M880.5 137.5h1.1M891.3 137.5h1.1M896.7 137.5h1.1M907.5 137.5h2.2M912.9 137.5h1.1M920.5 137.5h1.1M927.0 137.5h1.1M936.7 137.5h1.1M948.6 137.5h2.2M960.5 137.5h1.1M970.2 137.5h2.2M979.9 137.5h3.2M985.3 137.5h1.1M1002.6 137.5h1.1M1004.8 137.5h1.1M1013.4 137.5h1.1M1018.8 137.5h1.1M1032.8 137.5h1.1M1045.8 137.5h1.1M1048.0 137.5h1.1M1053.4 137.5h1.1M1072.8 137.5h1.1M1089.0 137.5h1.1M1092.3 137.5h1.1M1114.9 137.5h1.1M1117.1 137.5h1.1M1119.3 137.5h1.1M669.9 139.9h1.1M677.4 139.9h1.1M681.8 139.9h2.2M686.1 139.9h1.1M688.2 139.9h2.2M691.5 139.9h4.3M703.4 139.9h2.2M708.8 139.9h1.1M710.9 139.9h1.1M713.1 139.9h1.1M717.4 139.9h1.1M720.7 139.9h1.1M722.8 139.9h1.1M729.3 139.9h1.1M737.9 139.9h1.1M740.1 139.9h1.1M764.9 139.9h1.1M774.7 139.9h1.1M781.1 139.9h1.1M794.1 139.9h2.2M799.5 139.9h2.2M807.1 139.9h1.1M809.2 139.9h1.1M811.4 139.9h1.1M814.6 139.9h1.1M817.9 139.9h1.1M822.2 139.9h5.4M830.8 139.9h1.1M834.1 139.9h1.1M839.5 139.9h1.1M847.0 139.9h1.1M857.8 139.9h2.2M863.2 139.9h2.2M869.7 139.9h1.1M885.9 139.9h1.1M889.2 139.9h2.2M894.6 139.9h1.1M898.9 139.9h1.1M905.4 139.9h1.1M912.9 139.9h1.1M916.2 139.9h1.1M920.5 139.9h1.1M923.7 139.9h2.2M927.0 139.9h2.2M933.5 139.9h1.1M937.8 139.9h3.2M942.1 139.9h1.1M944.3 139.9h1.1M946.4 139.9h2.2M950.7 139.9h3.2M957.2 139.9h1.1M964.8 139.9h1.1M969.1 139.9h1.1M973.4 139.9h1.1M978.8 139.9h1.1M982.1 139.9h1.1M987.5 139.9h1.1M990.7 139.9h1.1M995.0 139.9h1.1M998.3 139.9h2.2M1002.6 139.9h1.1M1004.8 139.9h2.2M1011.2 139.9h1.1M1017.7 139.9h1.1M1019.9 139.9h1.1M1032.8 139.9h1.1M1036.1 139.9h2.2M1039.3 139.9h2.2M1046.9 139.9h3.2M1053.4 139.9h1.1M1060.9 139.9h2.2M1065.2 139.9h1.1M1079.3 139.9h1.1M1091.2 139.9h2.2M1099.8 139.9h1.1M1105.2 139.9h1.1M1108.5 139.9h1.1M1110.6 139.9h1.1M1113.9 139.9h1.1M1117.1 139.9h1.1M671.0 142.2h1.1M673.1 142.2h2.2M677.4 142.2h3.2M689.3 142.2h1.1M691.5 142.2h1.1M693.6 142.2h1.1M695.8 142.2h1.1M699.0 142.2h1.1M701.2 142.2h2.2M705.5 142.2h1.1M714.2 142.2h1.1M717.4 142.2h2.2M720.7 142.2h1.1M728.2 142.2h4.3M734.7 142.2h3.2M739.0 142.2h4.3M745.5 142.2h1.1M749.8 142.2h1.1M757.4 142.2h1.1M759.5 142.2h1.1M762.8 142.2h1.1M764.9 142.2h1.1M771.4 142.2h4.3M779.0 142.2h1.1M786.5 142.2h1.1M789.8 142.2h2.2M800.6 142.2h1.1M804.9 142.2h1.1M811.4 142.2h3.2M815.7 142.2h1.1M817.9 142.2h2.2M822.2 142.2h1.1M827.6 142.2h1.1M835.2 142.2h1.1M844.9 142.2h1.1M847.0 142.2h1.1M850.3 142.2h2.2M858.9 142.2h3.2M864.3 142.2h1.1M866.5 142.2h1.1M868.6 142.2h1.1M871.9 142.2h3.2M881.6 142.2h5.4M891.3 142.2h1.1M896.7 142.2h1.1M898.9 142.2h2.2M911.9 142.2h2.2M916.2 142.2h1.1M918.3 142.2h1.1M920.5 142.2h3.2M930.2 142.2h3.2M934.5 142.2h1.1M950.7 142.2h2.2M954.0 142.2h1.1M960.5 142.2h1.1M963.7 142.2h2.2M966.9 142.2h1.1M970.2 142.2h2.2M979.9 142.2h1.1M982.1 142.2h1.1M988.6 142.2h2.2M995.0 142.2h1.1M998.3 142.2h1.1M1006.9 142.2h1.1M1010.2 142.2h1.1M1017.7 142.2h1.1M1023.1 142.2h1.1M1025.3 142.2h1.1M1029.6 142.2h1.1M1031.8 142.2h1.1M1037.2 142.2h4.3M1042.6 142.2h1.1M1048.0 142.2h1.1M1050.1 142.2h1.1M1052.3 142.2h1.1M1064.2 142.2h2.2M1071.7 142.2h2.2M1075.0 142.2h1.1M1078.2 142.2h2.2M1081.5 142.2h1.1M1093.3 142.2h1.1M1109.5 142.2h1.1M669.9 144.5h1.1M674.2 144.5h1.1M682.8 144.5h1.1M685.0 144.5h2.2M690.4 144.5h1.1M699.0 144.5h1.1M702.3 144.5h2.2M705.5 144.5h1.1M707.7 144.5h1.1M709.8 144.5h1.1M715.3 144.5h1.1M718.5 144.5h2.2M728.2 144.5h1.1M743.3 144.5h1.1M755.2 144.5h1.1M757.4 144.5h2.2M762.8 144.5h2.2M766.0 144.5h1.1M768.2 144.5h1.1M780.1 144.5h2.2M790.9 144.5h1.1M797.3 144.5h1.1M804.9 144.5h3.2M809.2 144.5h1.1M813.6 144.5h1.1M829.8 144.5h2.2M843.8 144.5h2.2M848.1 144.5h1.1M851.4 144.5h1.1M853.5 144.5h1.1M862.2 144.5h3.2M870.8 144.5h1.1M873.0 144.5h1.1M877.3 144.5h1.1M880.5 144.5h1.1M887.0 144.5h1.1M894.6 144.5h1.1M902.1 144.5h1.1M907.5 144.5h1.1M910.8 144.5h2.2M918.3 144.5h1.1M922.7 144.5h2.2M927.0 144.5h1.1M931.3 144.5h1.1M942.1 144.5h1.1M945.3 144.5h1.1M947.5 144.5h2.2M968.0 144.5h1.1M982.1 144.5h1.1M990.7 144.5h1.1M998.3 144.5h2.2M1001.5 144.5h1.1M1008.0 144.5h1.1M1012.3 144.5h1.1M1019.9 144.5h1.1M1025.3 144.5h1.1M1029.6 144.5h2.2M1035.0 144.5h1.1M1037.2 144.5h2.2M1045.8 144.5h1.1M1055.5 144.5h1.1M1060.9 144.5h1.1M1068.5 144.5h1.1M1073.9 144.5h3.2M1080.4 144.5h1.1M1093.3 144.5h2.2M1098.7 144.5h2.2M1104.1 144.5h1.1M1116.0 144.5h1.1" stroke="#0010ff" stroke-width="2.61" fill="none"/><path d="M686.1 116.8h1.1M694.7 116.8h1.1M698.0 116.8h1.1M718.5 116.8h1.1M728.2 116.8h1.1M736.9 116.8h1.1M867.6 116.8h1.1M923.7 116.8h2.2M935.6 116.8h1.1M970.2 116.8h1.1M984.2 116.8h1.1M987.5 116.8h2.2M998.3 116.8h1.1M1019.9 116.8h1.1M1026.4 116.8h1.1M1065.2 116.8h2.2M1072.8 116.8h1.1M1079.3 116.8h2.2M1108.5 116.8h1.1M683.9 119.1h1.1M690.4 119.1h1.1M704.4 119.1h1.1M747.7 119.1h1.1M766.0 119.1h1.1M821.1 119.1h1.1M893.5 119.1h1.1M902.1 119.1h1.1M918.3 119.1h1.1M928.1 119.1h1.1M936.7 119.1h1.1M949.7 119.1h1.1M977.7 119.1h1.1M991.8 119.1h1.1M1022.0 119.1h1.1M1035.0 119.1h1.1M1037.2 119.1h1.1M1051.2 119.1h1.1M1098.7 119.1h1.1M1111.7 119.1h1.1M1118.2 119.1h1.1M693.6 121.4h1.1M722.8 121.4h1.1M755.2 121.4h1.1M760.6 121.4h2.2M767.1 121.4h1.1M771.4 121.4h1.1M774.7 121.4h1.1M785.5 121.4h1.1M801.7 121.4h1.1M826.5 121.4h1.1M869.7 121.4h1.1M882.7 121.4h1.1M895.6 121.4h1.1M956.1 121.4h2.2M962.6 121.4h2.2M971.3 121.4h1.1M978.8 121.4h1.1M1013.4 121.4h1.1M1016.6 121.4h1.1M1027.4 121.4h1.1M1042.6 121.4h1.1M1057.7 121.4h1.1M696.9 123.7h1.1M714.2 123.7h1.1M721.7 123.7h1.1M732.5 123.7h1.1M743.3 123.7h1.1M755.2 123.7h1.1M782.2 123.7h1.1M839.5 123.7h1.1M843.8 123.7h1.1M856.8 123.7h1.1M862.2 123.7h1.1M868.6 123.7h1.1M898.9 123.7h3.2M931.3 123.7h1.1M945.3 123.7h2.2M951.8 123.7h1.1M955.1 123.7h1.1M981.0 123.7h1.1M1002.6 123.7h1.1M1027.4 123.7h1.1M1069.6 123.7h1.1M1081.5 123.7h1.1M1110.6 123.7h1.1M694.7 126.0h1.1M746.6 126.0h1.1M771.4 126.0h1.1M786.5 126.0h1.1M827.6 126.0h1.1M835.2 126.0h1.1M842.7 126.0h1.1M849.2 126.0h1.1M881.6 126.0h1.1M907.5 126.0h1.1M929.1 126.0h2.2M976.7 126.0h1.1M990.7 126.0h1.1M997.2 126.0h1.1M1004.8 126.0h1.1M1033.9 126.0h2.2M1045.8 126.0h1.1M1049.0 126.0h1.1M1072.8 126.0h1.1M1078.2 126.0h1.1M1080.4 126.0h1.1M1082.5 126.0h1.1M1100.9 126.0h1.1M1105.2 126.0h1.1M676.4 128.3h1.1M693.6 128.3h1.1M722.8 128.3h1.1M750.9 128.3h1.1M755.2 128.3h2.2M769.3 128.3h1.1M775.7 128.3h1.1M783.3 128.3h1.1M810.3 128.3h1.1M822.2 128.3h1.1M828.7 128.3h1.1M857.8 128.3h1.1M868.6 128.3h1.1M902.1 128.3h1.1M906.5 128.3h1.1M936.7 128.3h1.1M943.2 128.3h1.1M976.7 128.3h1.1M1008.0 128.3h1.1M1014.5 128.3h2.2M1032.8 128.3h1.1M1040.4 128.3h1.1M1059.8 128.3h2.2M1097.7 128.3h1.1M1105.2 128.3h1.1M1107.4 128.3h1.1M1114.9 128.3h2.2M688.2 130.6h1.1M733.6 130.6h1.1M745.5 130.6h1.1M761.7 130.6h1.1M781.1 130.6h1.1M796.3 130.6h1.1M826.5 130.6h1.1M865.4 130.6h1.1M895.6 130.6h1.1M911.9 130.6h1.1M931.3 130.6h2.2M937.8 130.6h1.1M951.8 130.6h1.1M961.5 130.6h1.1M972.3 130.6h1.1M977.7 130.6h1.1M992.9 130.6h1.1M995.0 130.6h1.1M1005.8 130.6h1.1M1018.8 130.6h1.1M1027.4 130.6h1.1M1042.6 130.6h1.1M1051.2 130.6h1.1M1053.4 130.6h1.1M717.4 132.9h1.1M721.7 132.9h1.1M735.8 132.9h1.1M742.3 132.9h1.1M747.7 132.9h2.2M756.3 132.9h1.1M761.7 132.9h1.1M766.0 132.9h1.1M796.3 132.9h1.1M799.5 132.9h1.1M819.0 132.9h1.1M826.5 132.9h1.1M852.4 132.9h1.1M860.0 132.9h1.1M862.2 132.9h2.2M874.0 132.9h1.1M883.8 132.9h1.1M903.2 132.9h1.1M912.9 132.9h1.1M928.1 132.9h1.1M945.3 132.9h1.1M960.5 132.9h2.2M964.8 132.9h1.1M996.1 132.9h1.1M1013.4 132.9h1.1M1018.8 132.9h1.1M1021.0 132.9h1.1M1026.4 132.9h2.2M1036.1 132.9h1.1M1041.5 132.9h1.1M1056.6 132.9h1.1M1071.7 132.9h1.1M1077.1 132.9h1.1M1081.5 132.9h1.1M1084.7 132.9h1.1M1092.3 132.9h1.1M668.8 135.2h1.1M673.1 135.2h2.2M683.9 135.2h1.1M686.1 135.2h1.1M701.2 135.2h1.1M707.7 135.2h1.1M715.3 135.2h1.1M718.5 135.2h1.1M736.9 135.2h1.1M743.3 135.2h1.1M752.0 135.2h1.1M761.7 135.2h1.1M795.2 135.2h1.1M811.4 135.2h1.1M816.8 135.2h1.1M820.0 135.2h1.1M839.5 135.2h1.1M847.0 135.2h2.2M851.4 135.2h1.1M853.5 135.2h1.1M869.7 135.2h1.1M873.0 135.2h1.1M881.6 135.2h1.1M897.8 135.2h1.1M917.3 135.2h1.1M923.7 135.2h1.1M927.0 135.2h1.1M934.5 135.2h1.1M955.1 135.2h1.1M963.7 135.2h1.1M966.9 135.2h1.1M984.2 135.2h2.2M998.3 135.2h1.1M1017.7 135.2h1.1M1057.7 135.2h1.1M1069.6 135.2h1.1M1072.8 135.2h1.1M1079.3 135.2h1.1M1081.5 135.2h1.1M1097.7 135.2h1.1M1111.7 135.2h1.1M676.4 137.5h1.1M690.4 137.5h1.1M719.6 137.5h1.1M731.5 137.5h1.1M757.4 137.5h1.1M759.5 137.5h2.2M763.9 137.5h2.2M776.8 137.5h1.1M780.1 137.5h2.2M787.6 137.5h1.1M797.3 137.5h1.1M800.6 137.5h1.1M806.0 137.5h1.1M809.2 137.5h1.1M814.6 137.5h1.1M819.0 137.5h1.1M849.2 137.5h1.1M863.2 137.5h1.1M867.6 137.5h1.1M879.4 137.5h1.1M881.6 137.5h1.1M888.1 137.5h1.1M895.6 137.5h1.1M897.8 137.5h1.1M903.2 137.5h1.1M925.9 137.5h1.1M928.1 137.5h1.1M930.2 137.5h1.1M935.6 137.5h1.1M938.9 137.5h1.1M958.3 137.5h1.1M962.6 137.5h1.1M964.8 137.5h2.2M972.3 137.5h1.1M974.5 137.5h2.2M996.1 137.5h1.1M1024.2 137.5h1.1M1026.4 137.5h1.1M1037.2 137.5h1.1M1042.6 137.5h1.1M1054.4 137.5h1.1M1060.9 137.5h1.1M1077.1 137.5h1.1M1081.5 137.5h1.1M1091.2 137.5h1.1M700.1 139.9h3.2M706.6 139.9h2.2M715.3 139.9h1.1M730.4 139.9h1.1M741.2 139.9h2.2M746.6 139.9h1.1M750.9 139.9h1.1M754.1 139.9h1.1M756.3 139.9h1.1M763.9 139.9h1.1M773.6 139.9h1.1M779.0 139.9h1.1M784.4 139.9h1.1M787.6 139.9h1.1M790.9 139.9h1.1M796.3 139.9h2.2M803.8 139.9h1.1M812.5 139.9h2.2M831.9 139.9h1.1M842.7 139.9h1.1M849.2 139.9h1.1M862.2 139.9h1.1M868.6 139.9h1.1M870.8 139.9h2.2M875.1 139.9h1.1M887.0 139.9h2.2M900.0 139.9h2.2M906.5 139.9h1.1M908.6 139.9h3.2M919.4 139.9h1.1M925.9 139.9h1.1M932.4 139.9h1.1M949.7 139.9h1.1M959.4 139.9h1.1M971.3 139.9h2.2M975.6 139.9h1.1M983.1 139.9h1.1M985.3 139.9h1.1M1000.4 139.9h1.1M1006.9 139.9h1.1M1021.0 139.9h1.1M1024.2 139.9h1.1M1028.5 139.9h1.1M1031.8 139.9h1.1M1035.0 139.9h1.1M1051.2 139.9h1.1M1070.6 139.9h1.1M1073.9 139.9h2.2M1081.5 139.9h1.1M1083.6 139.9h1.1M1089.0 139.9h1.1M1094.4 139.9h1.1M1102.0 139.9h1.1M1109.5 139.9h1.1M1112.8 139.9h1.1M1118.2 139.9h4.3M672.0 142.2h1.1M675.3 142.2h1.1M680.7 142.2h1.1M685.0 142.2h1.1M704.4 142.2h1.1M706.6 142.2h1.1M722.8 142.2h1.1M727.1 142.2h1.1M733.6 142.2h1.1M747.7 142.2h1.1M750.9 142.2h1.1M758.5 142.2h1.1M760.6 142.2h1.1M775.7 142.2h2.2M783.3 142.2h2.2M787.6 142.2h1.1M793.0 142.2h1.1M797.3 142.2h2.2M801.7 142.2h1.1M806.0 142.2h1.1M823.3 142.2h1.1M830.8 142.2h2.2M840.6 142.2h1.1M863.2 142.2h1.1M865.4 142.2h1.1M876.2 142.2h2.2M879.4 142.2h2.2M893.5 142.2h2.2M908.6 142.2h2.2M919.4 142.2h1.1M923.7 142.2h1.1M928.1 142.2h1.1M938.9 142.2h3.2M943.2 142.2h1.1M958.3 142.2h1.1M962.6 142.2h1.1M976.7 142.2h1.1M978.8 142.2h1.1M983.1 142.2h1.1M990.7 142.2h3.2M999.4 142.2h1.1M1005.8 142.2h1.1M1008.0 142.2h1.1M1011.2 142.2h1.1M1019.9 142.2h1.1M1028.5 142.2h1.1M1030.7 142.2h1.1M1035.0 142.2h2.2M1043.6 142.2h1.1M1051.2 142.2h1.1M1053.4 142.2h1.1M1059.8 142.2h2.2M1068.5 142.2h1.1M1082.5 142.2h1.1M1095.5 142.2h1.1M1099.8 142.2h1.1M1118.2 142.2h1.1M1121.4 142.2h1.1M672.0 146.8h1.1M687.2 146.8h1.1M698.0 146.8h1.1M702.3 146.8h1.1M707.7 146.8h2.2M713.1 146.8h1.1M726.1 146.8h2.2M735.8 146.8h3.2M747.7 146.8h1.1M750.9 146.8h1.1M757.4 146.8h1.1M759.5 146.8h1.1M761.7 146.8h1.1M774.7 146.8h1.1M785.5 146.8h1.1M789.8 146.8h2.2M793.0 146.8h1.1M795.2 146.8h2.2M802.7 146.8h1.1M814.6 146.8h1.1M819.0 146.8h1.1M822.2 146.8h1.1M835.2 146.8h1.1M856.8 146.8h2.2M868.6 146.8h1.1M874.0 146.8h1.1M878.4 146.8h1.1M896.7 146.8h1.1M906.5 146.8h2.2M911.9 146.8h1.1M917.3 146.8h1.1M933.5 146.8h1.1M939.9 146.8h1.1M944.3 146.8h1.1M966.9 146.8h1.1M973.4 146.8h1.1M1009.1 146.8h2.2M1026.4 146.8h1.1M1030.7 146.8h1.1M1039.3 146.8h1.1M1041.5 146.8h1.1M1046.9 146.8h1.1M1052.3 146.8h1.1M1068.5 146.8h1.1M1083.6 146.8h1.1M1097.7 146.8h1.1M1117.1 146.8h2.2" stroke="#0050ff" stroke-width="2.61" fill="none"/><path d="M704.4 116.8h1.1M742.3 116.8h1.1M776.8 116.8h1.1M800.6 116.8h1.1M870.8 116.8h1.1M972.3 116.8h1.1M994.0 116.8h1.1M1025.3 116.8h1.1M1053.4 116.8h1.1M1062.0 116.8h1.1M1077.1 116.8h1.1M1096.6 116.8h1.1M1103.1 116.8h1.1M674.2 119.1h1.1M678.5 119.1h1.1M687.2 119.1h1.1M694.7 119.1h1.1M754.1 119.1h1.1M853.5 119.1h1.1M875.1 119.1h1.1M969.1 119.1h1.1M984.2 119.1h1.1M995.0 119.1h1.1M1025.3 119.1h1.1M1028.5 119.1h1.1M889.2 121.4h1.1M901.1 121.4h2.2M917.3 121.4h1.1M969.1 121.4h1.1M1006.9 121.4h1.1M1017.7 121.4h1.1M1032.8 121.4h1.1M1072.8 121.4h1.1M1114.9 121.4h1.1M669.9 123.7h1.1M680.7 123.7h1.1M718.5 123.7h1.1M737.9 123.7h1.1M750.9 123.7h1.1M791.9 123.7h1.1M830.8 123.7h1.1M841.6 123.7h1.1M927.0 123.7h1.1M957.2 123.7h1.1M710.9 126.0h1.1M754.1 126.0h1.1M776.8 126.0h1.1M800.6 126.0h1.1M812.5 126.0h1.1M815.7 126.0h1.1M937.8 126.0h1.1M947.5 126.0h1.1M1069.6 126.0h1.1M1079.3 126.0h1.1M1084.7 126.0h1.1M1091.2 126.0h1.1M696.9 128.3h1.1M743.3 128.3h1.1M914.0 128.3h1.1M947.5 128.3h1.1M992.9 128.3h1.1M1044.7 128.3h1.1M718.5 130.6h1.1M731.5 130.6h1.1M762.8 130.6h1.1M789.8 130.6h1.1M819.0 130.6h1.1M823.3 130.6h1.1M837.3 130.6h1.1M856.8 130.6h1.1M903.2 130.6h1.1M915.1 130.6h1.1M1028.5 130.6h1.1M1070.6 130.6h1.1M1078.2 130.6h2.2M1094.4 130.6h1.1M1107.4 130.6h1.1M679.6 132.9h1.1M705.5 132.9h1.1M729.3 132.9h1.1M733.6 132.9h1.1M737.9 132.9h2.2M741.2 132.9h1.1M750.9 132.9h1.1M753.1 132.9h1.1M812.5 132.9h1.1M975.6 132.9h1.1M1022.0 132.9h1.1M1029.6 132.9h1.1M1032.8 132.9h1.1M1038.2 132.9h1.1M1093.3 132.9h1.1M1107.4 132.9h1.1M703.4 135.2h1.1M727.1 135.2h1.1M757.4 135.2h1.1M762.8 135.2h1.1M775.7 135.2h1.1M798.4 135.2h1.1M871.9 135.2h1.1M903.2 135.2h1.1M931.3 135.2h1.1M937.8 135.2h2.2M981.0 135.2h1.1M1085.8 135.2h1.1M682.8 137.5h1.1M717.4 137.5h1.1M723.9 137.5h1.1M730.4 137.5h1.1M732.5 137.5h1.1M737.9 137.5h1.1M746.6 137.5h1.1M753.1 137.5h1.1M769.3 137.5h1.1M779.0 137.5h1.1M785.5 137.5h1.1M799.5 137.5h1.1M801.7 137.5h1.1M830.8 137.5h1.1M871.9 137.5h1.1M889.2 137.5h1.1M910.8 137.5h1.1M914.0 137.5h1.1M924.8 137.5h1.1M934.5 137.5h1.1M959.4 137.5h1.1M978.8 137.5h1.1M1044.7 137.5h1.1M1057.7 137.5h1.1M1064.2 137.5h1.1M1083.6 137.5h1.1M1093.3 137.5h1.1M1099.8 137.5h2.2M1116.0 137.5h1.1M676.4 139.9h1.1M685.0 139.9h1.1M690.4 139.9h1.1M721.7 139.9h1.1M723.9 139.9h1.1M747.7 139.9h1.1M752.0 139.9h1.1M758.5 139.9h1.1M762.8 139.9h1.1M780.1 139.9h1.1M802.7 139.9h1.1M850.3 139.9h1.1M856.8 139.9h1.1M879.4 139.9h1.1M883.8 139.9h1.1M929.1 139.9h1.1M931.3 139.9h1.1M992.9 139.9h1.1M1043.6 139.9h1.1M1064.2 139.9h1.1M1072.8 139.9h1.1M1084.7 139.9h2.2M1087.9 139.9h1.1M1096.6 139.9h2.2M668.8 142.2h1.1M690.4 142.2h1.1M709.8 142.2h1.1M713.1 142.2h1.1M715.3 142.2h1.1M719.6 142.2h1.1M737.9 142.2h1.1M744.4 142.2h1.1M752.0 142.2h1.1M785.5 142.2h1.1M791.9 142.2h1.1M808.2 142.2h1.1M816.8 142.2h1.1M820.0 142.2h1.1M839.5 142.2h1.1M842.7 142.2h1.1M849.2 142.2h1.1M852.4 142.2h1.1M869.7 142.2h1.1M890.2 142.2h1.1M897.8 142.2h1.1M915.1 142.2h1.1M947.5 142.2h1.1M955.1 142.2h1.1M974.5 142.2h1.1M984.2 142.2h1.1M986.4 142.2h1.1M997.2 142.2h1.1M1009.1 142.2h1.1M1069.6 142.2h1.1M1080.4 142.2h1.1M1083.6 142.2h1.1M1090.1 142.2h1.1M1107.4 142.2h2.2M1110.6 142.2h1.1M1117.1 142.2h1.1M672.0 144.5h1.1M680.7 144.5h2.2M693.6 144.5h1.1M700.1 144.5h1.1M712.0 144.5h1.1M721.7 144.5h1.1M726.1 144.5h1.1M732.5 144.5h1.1M734.7 144.5h1.1M737.9 144.5h1.1M748.7 144.5h1.1M752.0 144.5h1.1M756.3 144.5h1.1M764.9 144.5h1.1M772.5 144.5h1.1M776.8 144.5h2.2M786.5 144.5h1.1M789.8 144.5h1.1M793.0 144.5h1.1M798.4 144.5h1.1M808.2 144.5h1.1M819.0 144.5h1.1M821.1 144.5h1.1M826.5 144.5h1.1M833.0 144.5h1.1M835.2 144.5h1.1M838.4 144.5h1.1M840.6 144.5h3.2M868.6 144.5h1.1M871.9 144.5h1.1M896.7 144.5h1.1M898.9 144.5h1.1M903.2 144.5h2.2M916.2 144.5h1.1M924.8 144.5h1.1M933.5 144.5h1.1M936.7 144.5h4.3M943.2 144.5h1.1M949.7 144.5h1.1M952.9 144.5h1.1M972.3 144.5h2.2M978.8 144.5h1.1M984.2 144.5h2.2M1006.9 144.5h1.1M1016.6 144.5h1.1M1024.2 144.5h1.1M1048.0 144.5h2.2M1062.0 144.5h2.2M1070.6 144.5h1.1M1079.3 144.5h1.1M1085.8 144.5h4.3M1091.2 144.5h1.1M1096.6 144.5h1.1M1100.9 144.5h1.1M1107.4 144.5h1.1M1113.9 144.5h2.2M1118.2 144.5h1.1" stroke="#00a8ff" stroke-width="2.61" fill="none"/><path d="M783.3 144.5h2.2M837.3 144.5h1.1M866.5 144.5h1.1M883.8 144.5h1.1M888.1 144.5h1.1M914.0 144.5h1.1M919.4 144.5h1.1M961.5 144.5h1.1M963.7 144.5h2.2M969.1 144.5h1.1M994.0 144.5h2.2M1004.8 144.5h1.1M1023.1 144.5h1.1M1042.6 144.5h1.1M1054.4 144.5h1.1M1066.3 144.5h1.1M1092.3 144.5h1.1M1095.5 144.5h1.1M1102.0 144.5h1.1M1106.3 144.5h1.1" stroke="#ff00ff" stroke-width="2.61" fill="none"/></g>
<path d="M668.80 125.00h6M1122.50 125.00h-6M668.80 144.80h6M1122.50 144.80h-6M668.80 164.60h6M1122.50 164.60h-6M668.80 184.40h6M1122.50 184.40h-6M668.80 130.96h3M1122.50 130.96h-3M668.80 134.45h3M1122.50 134.45h-3M668.80 136.92h3M1122.50 136.92h-3M668.80 138.84h3M1122.50 138.84h-3M668.80 140.41h3M1122.50 140.41h-3M668.80 141.73h3M1122.50 141.73h-3M668.80 142.88h3M1122.50 142.88h-3M668.80 143.89h3M1122.50 143.89h-3M668.80 150.76h3M1122.50 150.76h-3M668.80 154.25h3M1122.50 154.25h-3M668.80 156.72h3M1122.50 156.72h-3M668.80 158.64h3M1122.50 158.64h-3M668.80 160.21h3M1122.50 160.21h-3M668.80 161.53h3M1122.50 161.53h-3M668.80 162.68h3M1122.50 162.68h-3M668.80 163.69h3M1122.50 163.69h-3M668.80 170.56h3M1122.50 170.56h-3M668.80 174.05h3M1122.50 174.05h-3M668.80 176.52h3M1122.50 176.52h-3M668.80 178.44h3M1122.50 178.44h-3M668.80 180.01h3M1122.50 180.01h-3M668.80 181.33h3M1122.50 181.33h-3M668.80 182.48h3M1122.50 182.48h-3M668.80 183.49h3M1122.50 183.49h-3M668.80 170.56h3M1122.50 170.56h-3M668.80 174.05h3M1122.50 174.05h-3M668.80 176.52h3M1122.50 176.52h-3M668.80 178.44h3M1122.50 178.44h-3M668.80 180.01h3M1122.50 180.01h-3M668.80 181.33h3M1122.50 181.33h-3M668.80 182.48h3M1122.50 182.48h-3M668.80 183.49h3M1122.50 183.49h-3" stroke="#000" stroke-width="1" fill="none"/>
<path d="M685.50 189.46v-3.90M685.50 115.63v3.90M703.50 189.46v-3.90M703.50 115.63v3.90M722.50 189.46v-10.80M722.50 115.63v10.80M740.50 189.46v-3.90M740.50 115.63v3.90M758.50 189.46v-3.90M758.50 115.63v3.90M776.50 189.46v-3.90M776.50 115.63v3.90M795.50 189.46v-3.90M795.50 115.63v3.90M813.50 189.46v-10.80M813.50 115.63v10.80M831.50 189.46v-3.90M831.50 115.63v3.90M850.50 189.46v-3.90M850.50 115.63v3.90M868.50 189.46v-3.90M868.50 115.63v3.90M886.50 189.46v-3.90M886.50 115.63v3.90M904.50 189.46v-10.80M904.50 115.63v10.80M923.50 189.46v-3.90M923.50 115.63v3.90M941.50 189.46v-3.90M941.50 115.63v3.90M959.50 189.46v-3.90M959.50 115.63v3.90M978.50 189.46v-3.90M978.50 115.63v3.90M996.50 189.46v-10.80M996.50 115.63v10.80M1014.50 189.46v-3.90M1014.50 115.63v3.90M1032.50 189.46v-3.90M1032.50 115.63v3.90M1051.50 189.46v-3.90M1051.50 115.63v3.90M1069.50 189.46v-3.90M1069.50 115.63v3.90M1087.50 189.46v-10.80M1087.50 115.63v10.80M1105.50 189.46v-3.90M1105.50 115.63v3.90" stroke="#000" stroke-width="1.0" fill="none"/>
<rect x="668.80" y="115.63" width="453.70" height="73.83" fill="none" stroke="#000" stroke-width="1.5"/>
<text x="1125.00" y="129.40" font-size="11" fill="#000">10<tspan font-size="8" dy="-5">4</tspan><tspan dy="5">&#8203;</tspan></text>
<text x="1125.00" y="149.20" font-size="11" fill="#000">10<tspan font-size="8" dy="-5">3</tspan><tspan dy="5">&#8203;</tspan></text>
<text x="1125.00" y="169.00" font-size="11" fill="#000">10<tspan font-size="8" dy="-5">2</tspan><tspan dy="5">&#8203;</tspan></text>
<text x="1125.00" y="188.80" font-size="11" fill="#000">10<tspan font-size="8" dy="-5">1</tspan><tspan dy="5">&#8203;</tspan></text>
<text transform="translate(1154.20 152.80) rotate(-90)" font-size="11" text-anchor="middle">Energy (eV)</text>
<path d="M751.80 193.46V263.29" stroke="#10a010" stroke-width="1.0" stroke-dasharray="7.1 3.0" fill="none"/>
<path d="M846.60 193.46V263.29" stroke="#10a010" stroke-width="1.0" stroke-dasharray="7.1 3.0" fill="none"/>
<path d="M775.50 193.46V263.29" stroke="#ff2020" stroke-width="1.1" stroke-dasharray="7.1 3.0" fill="none"/>
<path d="M822.70 193.46V263.29" stroke="#ff2020" stroke-width="1.1" stroke-dasharray="7.1 3.0" fill="none"/>
<path d="M825.10 193.46V263.29" stroke="#3030ff" stroke-width="1.3" stroke-dasharray="1.6 1.5" fill="none"/>
<path d="M826.80 193.46V263.29" stroke="#ff10ff" stroke-width="1.3" stroke-dasharray="1.6 1.5" fill="none"/>
<clipPath id="mc3"><rect x="668.80" y="189.46" width="453.70" height="73.83"/></clipPath>
<g clip-path="url(#mc3)">
<path d="M668.8 244.3l.4-3.7 .4 11.5 .4-6.4 .4 .5 .4-2.6 .4 .8 .4 .8 .4-.4 .4-2.5 .4 3.7 .4-.4 .4-1.9 .4-1.8 .4-8.1 .4 7.2 .4 3.8 .4-1.9 .4 3.6 .4-5.3 .4 4.9 .4-2.2 .4-1.8 .4 4.9 .4-2.8 .4 1.9 .4 .9 .4-1.8 .4-2.9 .4 2 .4 2.4 .4-4.9 .4 3.5 .4-2.3 .4-.8 .4-.3 .4-1.9 .4 2.8 .4 1.9 .4-7.1 .4 4.7 .4 1.8 .4-1.8 .4 3.4 .4-4.7 .4 4.5 .4 .3 .4-1.3 .4 2.4 .4 1.7 .4-6 .4 2.3 .4-4.5 .4 .8 .4 3.3 .4-5.3 .4 5.4 .4 3.9 .4-9.4 .4-6.1 .4 12.8 .4-3.6 .4 3.5 .4-1.9 .4-5.5 .4-2.8 .4 7 .4 3.5 .4-5.3 .4 6.2 .4-8.4 .4 6.6 .4-2.4 .4 .2 .4-.7 .4-1 .4 1.7 .4-3 .4 6.1 .4-6.3 .4 5.3 .4-4.9 .4-.8 .4 5.8 .4-.8 .4-.8 .4 5.1 .4-7.6 .4 5.1 .4-1.8 .4 4.1 .4-8.3 .4 2.1 .4-.5 .4-1 .4-1.9 .4 9.7 .4-6.1 .4-1.9 .4 5.5 .4-7.9 .4 9.4 .4-2.7 .4-.9 .4 1.5 .4-3.2 .4-.9 .4 4 .4-4.3 .4 .9 .4 4.5 .4-4.6 .4 5.6 .4-2.9 .4-9.3 .4 6.5 .4-.5 .4 .2 .4-4.6 .4 8.8 .4-.9 .4-.9 .4-.1 .4 2.6 .4-5.5 .4 3.8 .4 0 .4 1.3 .4 2.1 .4-2.9 .4-3.7 .4 4 .4-2.4 .4 1.1 .4-3.2 .4 2.2 .4 .7 .4-.6 .4 2.4 .4 4 .4-5.5 .4-2.5 .4 1.8 .4 6.7 .4-5.4 .4 2.8 .4-3.2 .4 3.3 .4-4.2 .4 5.2 .4-3.1 .4 1.1 .4 2.9 .4-11.1 .4 10.8 .4 3.1 .4-7.8 .4-1 .4 1.1 .4 2.7 .4-2.3 .4-3.3 .4 .6 .4-2 .4 2.9 .4-.7 .4-2.1 .4 6 .4-1.3 .4 1.9 .4 2 .4-.8 .4 1.9 .4-6 .4-2.9 .4 3.7 .4 3.5 .4-3.1 .4 1.5 .4-1.7 .4-4.5 .4 3.5 .4 1.4 .4-2.3 .4 3.4 .4-3 .4 5 .4-8.7 .4 7.4 .4-1.3 .4 2.8 .4 1.4 .4-2.2 .4-.9 .4-2.5 .4 5 .4-2.9 .4 1.1 .4-1.4 .4 .8 .4-2.4 .4 9.7 .4-7 .4-1.7 .4-.1 .4 2.4 .4-2.3 .4 10.8 .4-9.3 .4 .8 .4 2.5 .4-2.3 .4 .3 .4 .5 .4 2.5 .4-4.4 .4 4 .4-1.4 .4-.8 .4-5.1 .4 4.2 .4-4.6 .4 2.3 .4 1 .4-.6 .4-2.6 .4 6.8 .4-3.4 .4 4.7 .4-4 .4-5.4 .4 9.7 .4-1.4 .4 2.2 .4-6 .4-5.2 .4 6.6 .4-3.6 .4 .5 .4-.6 .4-.3 .4 6.7 .4-6.4 .4-3.5 .4 12.2 .4-7.8 .4-1 .4 6 .4-1.8 .4-5.7 .4 7.9 .4-.4 .4-1.3 .4-6.6 .4 5.4 .4-5.6 .4 6.3 .4 1.2 .4 .8 .4-5.2 .4 6.9 .4-4.7 .4-.4 .4-1.3 .4 3.7 .4 .4 .4-1.9 .4-2 .4 6.2 .4-3.1 .4 1.8 .4-.8 .4-1.3 .4-2.4 .4 .3 .4 .8 .4-6.5 .4 5.6 .4 4.7 .4-2.4 .4-4.5 .4 5.6 .4-2.4 .4 4.4 .4-3.8 .4-1.8 .4 3 .4-1.2 .4 2.8 .4-3.6 .4-2.1 .4 3.2 .4-2.9 .4 2 .4 .6 .4 4 .4-2.1 .4-.6 .4 2.8 .4-1.4 .4 1.8 .4-3.9 .4 5.6 .4-10.2 .4 1.9 .4 4.1 .4 2.4 .4 2 .4-3.6 .4-.4 .4 .9 .4-.4 .4-.7 .4-3.6 .4 1.2 .4 2.4 .4-4.3 .4 4.2 .4 3.1 .4-4 .4-2 .4-1.3 .4 2 .4 2.6 .4 2.3 .4-2.9 .4 1.6 .4 .2 .4-2.3 .4-1.5 .4 6.3 .4-2.3 .4 2.2 .4-5.6 .4 .4 .4 1.6 .4-1.9 .4-2.3 .4 1.3 .4-1.7 .4 2.9 .4-5.2 .4 7.4 .4 .5 .4-7.9 .4 4.4 .4 1.3 .4-3.7 .4 3.5 .4 1.3 .4-3 .4 8.4 .4-6.4 .4-4 .4 .9 .4 6.4 .4 .4 .4-3.4 .4 3.2 .4-7.9 .4 8.9 .4 .1 .4-6.1 .4 1.3 .4-3.6 .4 11.7 .4-8.6 .4-.9 .4-1.5 .4 .6 .4-.1 .4 4.7 .4-1.2 .4-4.2 .4 2.8 .4-2.9 .4 2.8 .4-8.8 .4 13.6 .4-4.3 .4-3.7 .4 5.5 .4-2.6 .4-1.2 .4 6.2 .4-4.3 .4 1.3 .4 1.7 .4-2.6 .4-1.4 .4-.4 .4-2.7 .4 5.5 .4-7.7 .4 7.6 .4 1 .4-1.2 .4-2 .4-2.5 .4 3.7 .4 2.6 .4-2 .4 .8 .4-4.7 .4 .3 .4 3.4 .4-7.7 .4 4 .4-2.5 .4-.5 .4 6.8 .4 2.6 .4-3.8 .4-1.5 .4-2.3 .4 3.2 .4-2.1 .4 4.7 .4-7 .4 2.7 .4 6 .4-7.5 .4 4.9 .4-2.9 .4-8.3 .4 9.8 .4-.2 .4-4.1 .4 4.9 .4 2.7 .4-4.1 .4 1.8 .4-3.9 .4 6.9 .4-4.5 .4 .6 .4-3.9 .4 2 .4 5.1 .4-2.3 .4-3.7 .4-2.8 .4-.7 .4 8 .4-4.8 .4 2.3 .4 5.8 .4-8.9 .4 1.7 .4 5.5 .4-2.8 .4 2.9 .4-.1 .4-5 .4 .6 .4 3.9 .4-2 .4-1.1 .4 3.5 .4-1.5 .4-7.3 .4 12.1 .4-2.1 .4-6.5 .4 5.5 .4-4.7 .4-5.5 .4 3.4 .4 6.5 .4 1.7 .4-7.5 .4 5.8 .4-3.1 .4 1.8 .4-1.6 .4 .7 .4-4.6 .4 6.8 .4-3.9 .4 2.8 .4-3.1 .4 3.7 .4 .4 .4-2.5 .4-2.5 .4 .9 .4 2.3 .4 2.6 .4-2.7 .4-.3 .4 2 .4-8.1 .4 4.6 .4 3.2 .4-1.2 .4-.2 .4 1.7 .4-7.1 .4 9.5 .4-4.6 .4-8.9 .4 10.8 .4-6 .4 3.1 .4 1.7 .4-2.8 .4 .4 .4 .2 .4-2.1 .4 1.6 .4-4.2 .4 7.6 .4-5.4 .4-.1 .4 3.6 .4-1.5 .4-2.9 .4 .7 .4 6.4 .4-4.1 .4-2.7 .4 1.9 .4 1.5 .4-1.6 .4 2.6 .4-2.7 .4 6.3 .4 .8 .4-6.7 .4-5.2 .4-.3 .4 2.8 .4 7.9 .4-4.9 .4 2.2 .4 .6 .4-2.3 .4 .6 .4 4.3 .4-9.1 .4 4.5 .4 1.4 .4 .2 .4-2.5 .4-2.5 .4 4.5 .4-.4 .4-9.8 .4-.6 .4 6.4 .4 4.7 .4-8.3 .4 5.1 .4-.5 .4 1.7 .4-5.5 .4-.8 .4-2.3 .4 4.8 .4 .8 .4-1.8 .4 3.4 .4-1.1 .4 1.7 .4-4.3 .4 1.3 .4 1.2 .4-3.3 .4-3.2 .4 8.1 .4-2.1 .4 5.8 .4-4.9 .4-3.8 .4 7.4 .4-1.4 .4-3.1 .4 5 .4-2.5 .4-.6 .4-2.3 .4-3.5 .4 6.8 .4-1.8 .4 2.7 .4-2.3 .4 3.2 .4-1.6 .4-.2 .4-.8 .4-.2 .4-3.6 .4-3.8 .4 5.4 .4-.5 .4 3.1 .4-2.8 .4 6.9 .4-3.6 .4-3.6 .4 1.2 .4-.9 .4 3.4 .4 1 .4 3 .4-11.7 .4 6.2 .4-.2 .4-3 .4 2.5 .4 1.5 .4 2.2 .4-4.3 .4 2.4 .4 5 .4-6.1 .4 2.5 .4-5.1 .4 8.4 .4-11.8 .4 3.5 .4 2.4 .4 .9 .4 .6 .4 2.9 .4-1.2 .4-6 .4 4.7 .4 1.1 .4-3.5 .4 4.9 .4-1.8 .4 4 .4-7.4 .4 5.8 .4-2.3 .4 2.2 .4-1.5 .4-1.6 .4-1.4 .4 4.8 .4-5 .4 5.5 .4-3.9 .4-3.3 .4 6.7 .4-2.8 .4-.8 .4 2.8 .4-6 .4 3.6 .4 3.4 .4-3.3 .4 3.2 .4-6.2 .4 1 .4 5 .4-10.3 .4 10.4 .4 3.2 .4-8.1 .4 8 .4-6.6 .4 6.2 .4-4.7 .4-.2 .4-6.8 .4 7.5 .4-6 .4 6.4 .4-4.9 .4 2 .4 3.9 .4-5.5 .4 1.7 .4 3.1 .4 1.9 .4-.9 .4-3.7 .4 .8 .4-1.3 .4 3.2 .4-2 .4-.7 .4-.6 .4 2 .4-2.3 .4-.1 .4 3 .4 .2 .4-4.8 .4 6.1 .4-5.1 .4 1 .4 3 .4-2.5 .4-2.7 .4 6.4 .4 3.9 .4-6.8 .4 1.9 .4 .7 .4 .6 .4-1.6 .4-3.7 .4 1.9 .4-.6 .4 1 .4-4.4 .4 3.7 .4 1.2 .4 2.1 .4-7.2 .4 6.1 .4-.3 .4-3.5 .4 .2 .4 .2 .4 .6 .4 5.5 .4-6.2 .4 1.8 .4 .6 .4 2 .4-2.1 .4 6.3 .4-8.6 .4 2.2 .4-.1 .4 .7 .4 2.3 .4-2.4 .4-1.4 .4-1.2 .4 1.9 .4-1.7 .4 4.3 .4-2.2 .4-5.5 .4 3.5 .4 2.4 .4 .3 .4 .6 .4-3.3 .4 6.9 .4-8.6 .4 .6 .4 1.2 .4 .1 .4 1.1 .4 2.5 .4-10.4 .4 13.1 .4-4 .4-1.5 .4 4.4 .4-3 .4-.1 .4 .8 .4-1.2 .4-1 .4 4.2 .4-8.8 .4 5.8 .4-5 .4 7.6 .4-4.5 .4 3.8 .4-1.2 .4-2.7 .4-.2 .4 3.3 .4-1.8 .4-.5 .4-1.9 .4 2.7 .4-4 .4 5.5 .4-3.5 .4 2.6 .4-2.2 .4 3.1 .4-1 .4-.8 .4 4 .4-.4 .4-7 .4 3.4 .4 2.9 .4 2.6 .4-6.3 .4 .3 .4 .2 .4 1.3 .4-1 .4 .3 .4 1.6 .4-2.6 .4 .5 .4 1.3 .4-.5 .4 6.2 .4-12.3 .4 8.5 .4 .9 .4-.6 .4 .9 .4-5.5 .4-.7 .4 2.6 .4-.3 .4 3.2 .4-1.7 .4 1.5 .4 1.8 .4 3.4 .4-5.4 .4-.3 .4 1 .4-.7 .4 .7 .4-2.6 .4-1.5 .4 2.5 .4 .7 .4 2.1 .4-7.6 .4 4.7 .4-2.1 .4-1 .4 2.2 .4-1.6 .4 10.9 .4-10.8 .4 4.1 .4 .5 .4 2.1 .4-2.5 .4-2.9 .4 7 .4-4.2 .4 1.1 .4-4.3 .4-1.4 .4 3.7 .4 0 .4 2.2 .4-.2 .4-1.7 .4 2.7 .4-1.8 .4-5.6 .4 .5 .4 6 .4-5.2 .4 3.4 .4-2.4 .4 1.3 .4-.9 .4 5.2 .4-.8 .4-1.8 .4-.1 .4-3.5 .4-1 .4 8.6 .4-1.3 .4-8 .4-.9 .4-3.8 .4 8 .4-4.5 .4 4.8 .4-1.1 .4 .2 .4 2.4 .4-2 .4-2.7 .4 4.4 .4-8.5 .4 6.8 .4 6.4 .4-1.8 .4-4.6 .4 2.4 .4 2.8 .4-4.6 .4-9.9 .4 8 .4-.5 .4 .3 .4-1.1 .4 3.9 .4 1 .4 2.1 .4-6.5 .4 4.8 .4-7.7 .4 2.7 .4-.7 .4-2.4 .4-7.3 .4 15.7 .4-3.9 .4-.7 .4-5.4 .4 7 .4-1.7 .4-1.6 .4 3.2 .4-4.6 .4 9.8 .4-12.4 .4 11.6 .4-10.4 .4 6.1 .4-3.6 .4 6.8 .4-4.8 .4 3 .4-4.9 .4-2 .4 2.1 .4 3.4 .4-4.2 .4-1 .4 7.4 .4-1.9 .4-6.2 .4 3.4 .4-1.4 .4 7.4 .4-9.1 .4 2.4 .4 1 .4-7.2 .4 4.4 .4 3.3 .4-3.1 .4 7.6 .4-1.5 .4-5.3 .4-2.8 .4 3.2 .4 2.5 .4-4.4 .4 7.4 .4-4 .4 3 .4-6.1 .4-1.3 .4 5.9 .4-2.4 .4 3.3 .4-5.7 .4 6.5 .4 .1 .4-3.8 .4 1.6 .4 .9 .4-6.6 .4 6.8 .4 2.2 .4-5.3 .4 5 .4-12.6 .4 4.1 .4 8.2 .4-4.4 .4-3.1 .4 1.7 .4 7.2 .4-8 .4 6.9 .4-5.1 .4 1.4 .4-3.1 .4 2 .4 6.3 .4-6.6 .4-.9 .4-2.6 .4 8.6 .4-5.3 .4-1.2 .4-.5 .4 5.9 .4-1.7 .4-4.5 .4 2.5 .4-6.5 .4 9.4 .4-.6 .4-3.7 .4 3.1 .4 0 .4-2.7 .4 1.9 .4-7 .4 11.6 .4-4 .4-.3 .4 .7 .4 1 .4-3.2 .4 2.8 .4-6.1 .4 1 .4 6.5 .4-.1 .4-.5 .4 2.2 .4-8.9 .4 6.7 .4-5.1 .4 11.9 .4-8.5 .4 1.9 .4-5.3 .4 6.5 .4-.1 .4 1.7 .4-3.2 .4 .9 .4-5.8 .4-.7 .4 6.3 .4-1.2 .4 3.5 .4-5.7 .4 .5 .4 4.2 .4-.3 .4-.7 .4 5.2 .4-3.9 .4 .3 .4-1 .4-4.7 .4 5.5 .4-1.1 .4-.8 .4-.2 .4 1.5 .4-1.2 .4 2.1 .4-3.2 .4 5.5 .4-2.3 .4-1 .4 0 .4 1 .4 2.7 .4-4.8 .4-6.2 .4 2.5 .4 4 .4-1.6 .4 4 .4-1 .4 .8 .4-4.1 .4 9.7 .4-4.8 .4-.9 .4-.7 .4-7 .4 3.1 .4 3.5 .4 3.2 .4 2.7 .4-6.1 .4 .7 .4 2.9 .4-6 .4 1.9 .4 .9 .4 1.6 .4-5.6 .4 1.7 .4 2.3 .4 3 .4-6.8 .4 11.1 .4-13.7 .4 4.4 .4 7.1 .4-4.5 .4 2.4 .4-2.4 .4-3.2 .4 3.6 .4-3.5 .4 2.3 .4 .3 .4-4.1 .4-3.2 .4 5.5 .4-1 .4 1.9 .4 2.4 .4-6.5 .4 1.7 .4 3.2 .4-2.3 .4 1.7 .4-3.4 .4 2.6 .4 .7 .4-3.5 .4 3.9 .4 3 .4-6.8 .4 3.8 .4-6.4 .4 4.7 .4-.6 .4 1.7 .4 1.7 .4-4.9 .4 2 .4-3.1 .4-1.5 .4 9 .4-4 .4-2.9 .4-.1 .4 .3 .4-2.3 .4-3 .4-2.5 .4 7.7 .4 3.9 .4-6 .4 5.3" fill="none" stroke="#1818ff" stroke-width="0.85"/>
<path d="M668.8 238.3l.4 4.9 .4 .9 .4-1.1 .4 1.8 .4-3.8 .4-3.8 .4 3.5 .4 1.3 .4-.2 .4-2.7 .4-3.8 .4 10.7 .4-5.5 .4 1.2 .4-3 .4-.5 .4 3.8 .4 .7 .4-4.9 .4 .9 .4-.4 .4-1.1 .4 .7 .4 1.8 .4-4.3 .4 10.1 .4-9.4 .4 2.7 .4 5.6 .4-5.7 .4 1.1 .4 1.5 .4 2.8 .4-6.8 .4 6.2 .4-6.8 .4 7.8 .4-2 .4-1.6 .4-2.2 .4 4.9 .4-1.8 .4 .9 .4-6.7 .4 3.4 .4 .8 .4 .7 .4-5.9 .4 .1 .4 5.6 .4-2.4 .4 1.6 .4-3.6 .4 3.3 .4-2.7 .4-.8 .4 .1 .4 3.9 .4-5.2 .4-.4 .4 2.4 .4 3 .4 .9 .4 .1 .4 4.8 .4-8 .4 .3 .4 5.3 .4-4.5 .4 1.2 .4-3.2 .4 3.6 .4-4.4 .4 2 .4 .6 .4 .1 .4 2.1 .4 .5 .4 .3 .4-2.2 .4-1.7 .4 1.4 .4-1 .4-1 .4 1.3 .4-2.2 .4 5 .4-3.1 .4-3.3 .4 10 .4-6.4 .4-1.9 .4 9 .4-6.8 .4 1.1 .4 3.9 .4-6.7 .4 .1 .4 4.4 .4-.7 .4-3.3 .4-1.7 .4 .3 .4 5.1 .4 2.1 .4-.1 .4-2 .4-.1 .4-6.9 .4 5.8 .4-1.2 .4 5 .4-4.2 .4 .9 .4 .2 .4 .7 .4 .4 .4 4.2 .4-1.7 .4-2.8 .4-3 .4 6.6 .4-2.3 .4-2 .4-1.7 .4-1.1 .4 5.4 .4 .1 .4-2.7 .4-.1 .4 4.8 .4-3.3 .4-1.8 .4-1.4 .4 4.4 .4-.3 .4-5 .4-3 .4 7.6 .4 .1 .4 1 .4-.9 .4-6.5 .4 7.6 .4-3.9 .4 5 .4-3.1 .4-1.7 .4-2.1 .4 1.6 .4 2.4 .4-1.4 .4 3.7 .4-3.3 .4 1 .4-2.7 .4 0 .4 .2 .4-1 .4 5.4 .4 1.2 .4-6.2 .4 1.2 .4 4.4 .4-1.8 .4 .5 .4-4.9 .4 8 .4-4.1 .4-.1 .4-1.6 .4 .4 .4 .1 .4-.5 .4 1.5 .4 1.5 .4-3.8 .4 1.1 .4 2.5 .4-.7 .4 7 .4-10.8 .4 4.3 .4-2.6 .4 .4 .4 .1 .4-.1 .4 2.3 .4-1.2 .4 1.8 .4 5 .4-5 .4-2.8 .4 3.7 .4-10.9 .4 11.1 .4 1.3 .4-4.7 .4 .8 .4-1.5 .4-2.1 .4 4.3 .4-.5 .4-2.4 .4 4.5 .4-6 .4 5.3 .4-.6 .4-.5 .4-.2 .4-.3 .4-4.4 .4-5.9 .4 9.3 .4 4 .4-3.5 .4 .7 .4-.1 .4 0 .4-.2 .4 .8 .4-6.9 .4 5.5 .4-4.1 .4 6.6 .4-6.8 .4 2 .4 3.7 .4-2.5 .4 2.1 .4-4 .4 12.1 .4-9.6 .4-2.9 .4 5.7 .4-4 .4 1.9 .4-.5 .4 1.1 .4-.8 .4 4.4 .4-1.5 .4-4.9 .4 4.2 .4-2.7 .4 .2 .4-.7 .4-2 .4 4.9 .4-3.5 .4 2.4 .4 2.8 .4-6.1 .4 2.3 .4 .9 .4-1.4 .4 .3 .4-1.3 .4-2.9 .4 10.3 .4 .2 .4-7.7 .4 3.4 .4-.6 .4-2.1 .4 .9 .4 3 .4-2.3 .4-.2 .4 2.4 .4-3.1 .4-1.8 .4 2.1 .4-.6 .4 1.1 .4 6.5 .4-8.5 .4 0 .4 4.3 .4 .7 .4-4.4 .4 .9 .4-1.8 .4 4.7 .4-2.6 .4 .9 .4-3.2 .4 3 .4-1.1 .4 1 .4 0 .4-5.9 .4 1.7 .4 8.4 .4-4.9 .4 1.9 .4-1.9 .4-.5 .4 2 .4-2.5 .4 .9 .4 1.2 .4-4.1 .4 5.1 .4-4.8 .4-3.1 .4 1.8 .4 2.8 .4 5.2 .4-6 .4 .6 .4-1.5 .4 3.7 .4 0 .4 .2 .4-1.2 .4-4.5 .4 3.5 .4-2.4 .4 2.2 .4-1.8 .4-.3 .4 2.5 .4-1.7 .4 2 .4 .3 .4-4.7 .4 4.7 .4 5 .4-4.4 .4-4.3 .4 4.6 .4 .3 .4-3.3 .4-2.2 .4-.5 .4 2 .4-1 .4-.1 .4 1.8 .4 2 .4-2.7 .4-2.2 .4 2.2 .4-3.9 .4-.5 .4 3.9 .4-.1 .4 .8 .4-4.1 .4 3.9 .4-4.7 .4 2.4 .4-2.7 .4 4.7 .4-.1 .4-1.9 .4 3.4 .4 .7 .4 .7 .4-1.5 .4 1.1 .4-5.6 .4 7.3 .4 6.2 .4-12.6 .4 2.8 .4-2.1 .4 3.5 .4-.2 .4-.4 .4-3.6 .4 2.6 .4 4.5 .4-1.2 .4-3.8 .4-2 .4 2.7 .4 3 .4-1.3 .4 2.3 .4-1.3 .4-4.5 .4 3.7 .4-4.4 .4 3.9 .4 1.3 .4 .6 .4-.1 .4 .2 .4-7.3 .4 7.1 .4-4.7 .4-.6 .4 4.1 .4 0 .4 4.1 .4-2.1 .4-2.8 .4 3.3 .4-5.7 .4 4.7 .4-5 .4 6.5 .4 2.2 .4-4.4 .4-1.8 .4-2.7 .4 6.2 .4-2.3 .4 .4 .4 1.7 .4-3.5 .4 3.5 .4 3.8 .4-6.5 .4 1.3 .4 1.9 .4-.4 .4-3.3 .4 .9 .4-1.8 .4 4.2 .4-7 .4 5.2 .4-2.9 .4 .9 .4-1.7 .4 4.3 .4 3 .4 .1 .4-6.8 .4 6 .4-.7 .4-.5 .4 1.1 .4-.5 .4-9.3 .4 10.5 .4-1.6 .4-3.1 .4-1.9 .4 2.4 .4 2.8 .4 .6 .4-3.2 .4 2.2 .4-1.3 .4 2.4 .4-4.8 .4 5.5 .4 1.2 .4 .9 .4-5 .4 3.8 .4-3.3 .4-1 .4 1.7 .4-.2 .4-.2 .4-.2 .4-1.2 .4 3.2 .4-2.6 .4 3.9 .4-3.7 .4-2.1 .4 3.9 .4 .4 .4-5.6 .4 2.4 .4-1.4 .4 3.8 .4 .9 .4-4.7 .4-.4 .4 .5 .4 2.4 .4 .4 .4-.1 .4-1.4 .4 1 .4 2 .4-5.6 .4 3.6 .4-5 .4 3.1 .4 3 .4-2.9 .4 .5 .4 2.7 .4-.8 .4-.1 .4 .3 .4 1.1 .4 2.6 .4-6.1 .4 6.2 .4-8 .4 2.7 .4 1.6 .4-.8 .4 1.3 .4-5 .4 4.4 .4-2.9 .4 5.6 .4-5.4 .4 2.7 .4-1.6 .4 3.9 .4-5.6 .4 .8 .4 4.3 .4-1.4 .4 .4 .4-5 .4 3.9 .4-3 .4-.9 .4 .8 .4 3 .4 2.3 .4-4 .4 5.6 .4-1.4 .4-3.1 .4-.5 .4 .8 .4-2.6 .4-1.8 .4 .6 .4 3.6 .4-1.2 .4-4.5 .4 .5 .4 5.7 .4-.6 .4-1.3 .4 1 .4-2.7 .4 1.2 .4 .1 .4 3.3 .4-3.8 .4 2.5 .4-1.5 .4-3.2 .4 6.1 .4-3.9 .4-1.7 .4 .9 .4 1.5 .4-2.2 .4 5.8 .4-7.5 .4 6.5 .4-9.5 .4 5 .4 3.2 .4-1.9 .4-3 .4 5.1 .4-1.5 .4 1.3 .4-5.5 .4 4.9 .4 .5 .4 2.7 .4-1.2 .4 1.2 .4-5.4 .4 3.8 .4 1.7 .4-6.3 .4 3.2 .4-3.7 .4 1.7 .4 4.1 .4-2.7 .4 1.4 .4 .9 .4-5.3 .4-.9 .4 1.4 .4 .3 .4 6.5 .4-1.5 .4-1.8 .4 1.6 .4-2.6 .4-4.4 .4 .4 .4 6.9 .4-4.5 .4-.6 .4 4.9 .4-2.4 .4 .5 .4-.1 .4-5.4 .4 7.5 .4-2.7 .4 1.8 .4-3.8 .4 1.3 .4-1.7 .4 .3 .4 1.3 .4-.6 .4 1.9 .4 .7 .4-1.2 .4 4.3 .4-7 .4 6.1 .4-2.5 .4-2.5 .4 5.1 .4 .3 .4-1.5 .4-1 .4 4.4 .4-3 .4-.4 .4-1.3 .4-2.5 .4-1.9 .4 7.8 .4-2.4 .4 .1 .4-1.5 .4 4 .4-2 .4-2.9 .4 3.7 .4-.7 .4 .4 .4-.4 .4-2.9 .4-2 .4 2.3 .4 2.3 .4-1.9 .4-.3 .4 .4 .4 4.7 .4-.1 .4-7 .4 4 .4-1.4 .4-1.6 .4 2.1 .4-1.8 .4 .2 .4 3.9 .4-.6 .4-.7 .4-1.3 .4-1.7 .4 1.8 .4-4 .4 3.9 .4-1.8 .4 4.4 .4-5.4 .4 2.1 .4 1.8 .4-2.7 .4 1.9 .4-5.6 .4 3.1 .4 4.7 .4-4 .4-2.3 .4 6.2 .4-1.8 .4-2.2 .4 1.2 .4 3.6 .4 1.7 .4-2.8 .4-3.1 .4 2.9 .4-1.7 .4-4.2 .4 3.3 .4-.8 .4 3.6 .4-.1 .4-2.8 .4 1.6 .4-2.2 .4-2.2 .4 1.4 .4 4.6 .4-4.5 .4-2.9 .4 3.6 .4 2.4 .4-5.8 .4 1.4 .4 4.9 .4-3.7 .4-2 .4 2.7 .4-1.4 .4 4.9 .4-2.6 .4-.6 .4 2.6 .4-1.8 .4 1.9 .4 .8 .4-1.7 .4 1.5 .4-4.5 .4 3.9 .4 2.1 .4-5.4 .4 .9 .4 3 .4-.5 .4-2 .4 2.4 .4-1.1 .4 1.6 .4-8.5 .4 8.5 .4 .1 .4-2.2 .4 3.7 .4-5.9 .4 3.1 .4-4.4 .4 1.7 .4-1.1 .4 4.2 .4-3.5 .4 2.5 .4-6.5 .4 4.1 .4 10.4 .4-5.3 .4-5.1 .4-2.8 .4 11 .4-13.7 .4 2.2 .4 9 .4-6.1 .4 5.6 .4-5.3 .4 .3 .4-2.6 .4 2.9 .4-1.1 .4 4.7 .4-1.4 .4-4.1 .4 4.5 .4 2.5 .4-4.5 .4-2 .4 1.4 .4-1.5 .4 1.3 .4-1.7 .4 1.4 .4 .6 .4 3.1 .4 1.5 .4-8.8 .4 4.4 .4 2.6 .4-.3 .4-2.3 .4-2 .4-.4 .4 4.1 .4 2.5 .4-5.8 .4 6.6 .4-4.4 .4-1.8 .4 4.8 .4-1.3 .4-3.9 .4 3.1 .4 .9 .4-1.9 .4-2.1 .4-1.4 .4 4.6 .4-.7 .4-1.7 .4 5.5 .4-3.1 .4 .8 .4-3.7 .4 2.5 .4-2.4 .4 .7 .4 1.4 .4-1 .4 7.8 .4-3.3 .4-4.8 .4 4.6 .4 1.2 .4-.6 .4-2.3 .4-2.6 .4 0 .4-.7 .4 .2 .4 7.4 .4-6 .4-2.8 .4 6.1 .4-2.8 .4-1.9 .4-.1 .4 2.2 .4 1.2 .4 .2 .4-2.8 .4-2.3 .4 3.5 .4-3 .4 1.9 .4 .3 .4-.7 .4 1.9 .4 .9 .4-3.7 .4 3.5 .4-.4 .4-1.1 .4-.3 .4-2.9 .4 3.6 .4 .3 .4 5.3 .4 .5 .4-10.7 .4 6.1 .4-1.5 .4-.5 .4 3.9 .4-3.3 .4-1.6 .4 3.4 .4 5.1 .4-3.7 .4-3.4 .4 1.1 .4-.7 .4 1.1 .4-2 .4 3.3 .4-8.8 .4 6.6 .4-5.3 .4 4.1 .4-3.8 .4 1.5 .4 2 .4-2.2 .4 1.5 .4-5.5 .4 8.1 .4-2.7 .4 .6 .4-2.2 .4 .2 .4-2 .4 4.4 .4-2 .4 4.8 .4-2.8 .4 1.9 .4-3.4 .4 4.1 .4-6.4 .4 2.8 .4 3.1 .4-1.4 .4-.5 .4 1.8 .4-2.1 .4-2.2 .4 4.5 .4-3.6 .4-4 .4 7.9 .4-5.7 .4 1.9 .4 2.6 .4-5.4 .4 6.8 .4-2.7 .4-.8 .4 1.7 .4-3.8 .4 .9 .4-1.8 .4 3.2 .4-2.5 .4-3.3 .4 6 .4 1.8 .4-3.9 .4-.3 .4-1 .4 4.6 .4-5.5 .4 7 .4-4.3 .4-1.9 .4 1.3 .4 3.1 .4-2.2 .4 2.3 .4 3 .4-4.1 .4-.2 .4 5.2 .4 .1 .4-3.5 .4-5 .4 .5 .4 .3 .4 4.8 .4-.7 .4 .3 .4-10.5 .4 1.4 .4 2.2 .4 8.6 .4-7.6 .4 3.7 .4 2.7 .4-1.3 .4 3.4 .4-4.7 .4 1.5 .4-2.7 .4-.5 .4 1.3 .4 4 .4-2.9 .4-1 .4 .9 .4 4.3 .4-3.1 .4 .1 .4-4.1 .4 5.3 .4-2.6 .4 .2 .4 .7 .4-1.3 .4 2.3 .4-.4 .4-2.8 .4 1.9 .4 1.9 .4 .3 .4-2.4 .4 1.3 .4-2.4 .4 4.7 .4-3.3 .4-1.9 .4 .9 .4 5.2 .4-6.6 .4 5 .4-5.7 .4 5.5 .4-2.2 .4-.9 .4-.6 .4-2.4 .4 3.7 .4-2.7 .4 1.4 .4 1.5 .4 2.5 .4-2.3 .4-3.2 .4 .1 .4 1.2 .4-3.7 .4 6 .4-1.5 .4-3 .4-.4 .4-2.2 .4 5.2 .4-1.2 .4 1.7 .4-.5 .4 3.7 .4-3.7 .4-4.7 .4 2 .4 6.1 .4-5.8 .4 5 .4-3.9 .4-.6 .4 4.1 .4-4.1 .4-1.3 .4 2.9 .4 2.7 .4-5.6 .4 6.7 .4-6.4 .4 9.4 .4-8.3 .4 1.5 .4-.7 .4 .5 .4-.7 .4-4.2 .4 4.5 .4-2.2 .4 8.4 .4-5.3 .4-2.3 .4 .9 .4-2 .4 2 .4 3.2 .4-3.4 .4 2.3 .4 2.2 .4-5.5 .4-2.4 .4 3.8 .4-1.8 .4 3.9 .4-1.7 .4 2.6 .4-.2 .4-3.7 .4 4.4 .4-2.3 .4-1.2 .4 1 .4-5.1 .4 2.9 .4 1.9 .4-.6 .4-3.4 .4 5.5 .4-2.2 .4 6 .4-7 .4 1.2 .4 3.5 .4-4.1 .4-.3 .4 1.8 .4-.8 .4-1.7 .4 .7 .4 .9 .4-.3 .4 1 .4-4.7 .4 8.1 .4-8.6 .4 4.2 .4 2.4 .4-4.8 .4 1.9 .4 3.1 .4-1.3 .4-4.6 .4 4.3 .4-.6 .4-.4 .4 1.2 .4 .2 .4-3.1 .4 .2 .4 2.1 .4 .7 .4-1.1 .4 3.1 .4-4.6 .4 2.9 .4-4.2 .4-1.5 .4-3.7 .4 12.2 .4-1.4 .4-4.7 .4 9.8 .4-5.4 .4-2.9 .4-2.4 .4-1.4 .4 3.2 .4 1.9 .4-3.1 .4-.3 .4 1.5 .4-6.9 .4 12.3 .4-1.7 .4-5.4 .4-2.8 .4 2.8 .4 1.5 .4-2.3 .4 1.4 .4-.2 .4-1.2 .4 1.3 .4 3 .4-3.6 .4 2 .4-3.7 .4 1.7 .4-2.2 .4-1.2 .4 4.7 .4-1.9 .4-1.9" fill="none" stroke="#ff1818" stroke-width="0.85"/>
<path d="M668.8 202.3l.4 2.6 .4 .1 .4 .1 .4-1.8 .4 2.9 .4 .7 .4-1.2 .4-2.9 .4 3.4 .4 1.8 .4-4.3 .4 .2 .4-2.2 .4 9.1 .4-7.8 .4 0 .4-1.7 .4 5.2 .4-.7 .4-2.8 .4 1.8 .4 1.2 .4-1.9 .4-2.1 .4 2.4 .4 1.6 .4-3.9 .4 1.3 .4 3.7 .4 1.4 .4-.9 .4-1.6 .4 2.8 .4-5.1 .4 1 .4-.4 .4 3.5 .4-5.2 .4 .9 .4 6.5 .4-6.6 .4-4.3 .4 8.1 .4 .7 .4-6 .4 0 .4 .9 .4 2.2 .4 3.5 .4-.7 .4-7.4 .4 8.9 .4-7.1 .4 3.3 .4-1.1 .4-1 .4-2.5 .4 10.3 .4-6.8 .4 4.5 .4-6.6 .4 4 .4-3.4 .4 2.8 .4 1.8 .4-5.7 .4 2.2 .4 1.6 .4 1.1 .4 .8 .4-4.9 .4-1.5 .4 2.4 .4 3.3 .4 .6 .4-7.4 .4-2 .4 4.2 .4 2.7 .4 2.8 .4-6.3 .4 1.8 .4 3.9 .4-5.6 .4 5 .4 2.2 .4-1.5 .4 2.2 .4-6.5 .4-3.7 .4 9.6 .4-2.6 .4 1.9 .4-3.7 .4-4.2 .4 2.1 .4 .4 .4-1.1 .4 2.6 .4 .5 .4 3.1 .4-9.7 .4-1.9 .4 7.1 .4-.2 .4-2.1 .4 7.4 .4-7.1 .4 4 .4-.2 .4-3.8 .4 6.2 .4-2.8 .4-.3 .4-5.1 .4 1.8 .4-1 .4 2.8 .4 .6 .4 2.4 .4-7.4 .4 5.7 .4-.1 .4 2 .4-10.3 .4 9.6 .4-5.9 .4 3.8 .4-1.4 .4-1 .4 6 .4-.7 .4 1.4 .4-2.8 .4-5 .4 6.8 .4-1.1 .4 3.5 .4-3.9 .4-2.7 .4 3.3 .4-4.3 .4 2.3 .4 .6 .4 1.7 .4-1.4 .4-1.7 .4 3.6 .4 1.7 .4-.6 .4 0 .4-2.3 .4 2.9 .4-4.6 .4-3.7 .4 4.2 .4 4.7 .4-8.9 .4-2.3 .4 12.2 .4-9.2 .4 6.3 .4-4.3 .4 5.2 .4-6.6 .4 .7 .4 3.9 .4-1.4 .4 2.6 .4 3.1 .4-6.4 .4 1 .4-.4 .4-1 .4 4 .4-3.6 .4 2.5 .4 3.2 .4-8.4 .4 2.9 .4 .6 .4-.5 .4 4.5 .4-1.7 .4-1 .4-2.3 .4 7.7 .4-14.9 .4 2.7 .4 5 .4 4.4 .4-5.5 .4 2.4 .4-5 .4 4 .4-1.6 .4 2.6 .4-2.8 .4-1.1 .4 1 .4-4.7 .4 5.7 .4 2.2 .4-4.3 .4 2.1 .4 1.5 .4-4.8 .4 5.8 .4-4.8 .4 5.6 .4-7.7 .4 2.2 .4-5.3 .4 5.6 .4-1.9 .4 .1 .4 6.2 .4-.1 .4 1 .4-4.8 .4 3.3 .4-8.6 .4 2 .4 3.7 .4-.6 .4-.7 .4 5.7 .4 2 .4-6.2 .4 5 .4-4.9 .4-1 .4 4.8 .4-2.1 .4-5.6 .4 5 .4 2.7 .4-8.1 .4 2.7 .4 3 .4-4.3 .4 .8 .4 6.4 .4 1.7 .4-6.3 .4-.7 .4 .6 .4-4.5 .4 5.9 .4 1.4 .4 1.2 .4 4 .4-9.2 .4 6.5 .4-3 .4-1.8 .4 3.9 .4-3.1 .4-1 .4 4 .4-4.2 .4 2.8 .4 1.5 .4-1.3 .4-4.4 .4 5.8 .4 .9 .4-6.2 .4-.2 .4-4.2 .4 6.3 .4-3.5 .4 4.8 .4 .8 .4 2.6 .4-4.9 .4-.7 .4 3.5 .4-2.8 .4 1.9 .4 1.3 .4-5.5 .4 8.4 .4-5.2 .4 4.2 .4-.2 .4-5.6 .4-3.1 .4 8.1 .4 .8 .4-5 .4 1 .4-1.1 .4 2.7 .4-6.2 .4 4.1 .4 3.5 .4-.6 .4-5.5 .4 8.4 .4-8 .4 3.6 .4-3.4 .4 3.2 .4-.6 .4 1.4 .4 2.8 .4-7.4 .4 1.7 .4 2.7 .4-5.1 .4 5 .4-.6 .4-.4 .4 2.3 .4 1.4 .4-3.4 .4-2 .4 3.1 .4-6 .4 6 .4 1 .4 .7 .4 3.7 .4-11.4 .4 13.5 .4-14.8 .4 4.2 .4-2.4 .4 6.2 .4 0 .4-6.8 .4 5.4 .4 .4 .4 2.3 .4-7.4 .4 6.7 .4-3.4 .4-.4 .4 2.9 .4-.5 .4-1 .4-.3 .4 4.8 .4 1.1 .4-4.8 .4 .8 .4-8.1 .4 8.5 .4-9.5 .4 7 .4 2.4 .4-5.8 .4 2.9 .4-3.2 .4 7.6 .4-4.9 .4 4.4 .4-5.3 .4 7.6 .4-9.8 .4-1.1 .4 9.6 .4 1.2 .4-7.3 .4-.5 .4 .3 .4 1.7 .4-3.2 .4 5.1 .4-2.2 .4 1.1 .4-2.5 .4 4.5 .4-6.5 .4-1.9 .4 3.9 .4 3.6 .4-1.8 .4-2.7 .4-1.5 .4 .8 .4 10.8 .4-14.4 .4 3.6 .4 1.6 .4-4.3 .4 5.8 .4-.1 .4-1.5 .4-7.7 .4-.3 .4 4.7 .4 2.2 .4 1 .4 5.4 .4-9.9 .4 .8 .4 1 .4 4.1 .4-2.2 .4-2.5 .4 8 .4-6 .4-.4 .4-3.6 .4 .9 .4-.4 .4 3.9 .4-2.2 .4 5.3 .4-2.2 .4-4.6 .4 5.2 .4-3.8 .4 9.4 .4-2.3 .4-4.2 .4-4.9 .4 5.8 .4 .6 .4 1.3 .4-3.8 .4-.2 .4 5.9 .4-3.2 .4-1.3 .4 1.9 .4-2.2 .4 4.7 .4-4.5 .4 1.1 .4-2.2 .4 3.6 .4-2.3 .4 .7 .4-4.3 .4-.9 .4 7.5 .4-.8 .4-3.5 .4-1.7 .4 1 .4 1.1 .4 1 .4-2.2 .4 .1 .4 6.1 .4-6.4 .4-1.1 .4 5.3 .4 1.3 .4-9.9 .4-.5 .4 10.9 .4-.6 .4-9.6 .4 5.9 .4-.1 .4 .3 .4-7.2 .4 1.5 .4 5 .4-.5 .4 1.5 .4-.1 .4 .2 .4 .9 .4-1.6 .4-1.2 .4 1.5 .4 2.6 .4-1.1 .4-4.1 .4-.5 .4 5.1 .4-2.9 .4-1.4 .4 2.3 .4 .6 .4 1.9 .4 1.4 .4-2.2 .4-1.8 .4 1.7 .4-6.1 .4 7.1 .4-.7 .4-7.4 .4-1 .4 9.5 .4 .5 .4-2.9 .4 .9 .4 4.5 .4-9.7 .4 3.4 .4-.4 .4-2.6 .4 9.2 .4-10.3 .4 7.8 .4-6 .4 0 .4 3.3 .4 1.7 .4 1.8 .4-2.1 .4-1.6 .4 .9 .4-2.9 .4 2.1 .4 1 .4-.4 .4-2.3 .4 5.3 .4 .9 .4-1.1 .4-2.1 .4 7.8 .4-7.3 .4 2.7 .4 1.8 .4-1.3 .4 1.1 .4-4.6 .4 6.1 .4-7.3 .4 6.1 .4-2.4 .4 1.9 .4-3.4 .4 1.9 .4-1.4 .4 6 .4 2.2 .4-4.2 .4 3.2 .4-5.7 .4 9.5 .4-10.1 .4 5.6 .4-4.3 .4-.3 .4 4.7 .4-8.8 .4 9 .4-4.4 .4-1 .4-1 .4 3 .4 5.7 .4-.9 .4-1.1 .4-3.1 .4 2.6 .4-6.5 .4 1.1 .4 2.2 .4 .5 .4 2 .4-1.4 .4-4.2 .4 2.8 .4-.1 .4 3 .4-4.3 .4-4.3 .4 9 .4-5.1 .4 7.2 .4-9.9 .4 5.1 .4-.7 .4-.9 .4-.8 .4-2.8 .4 .7 .4 1.3 .4-.6 .4 1.4 .4 2.7 .4-8.8 .4 6.4 .4-5.5 .4 4.5 .4-1.1 .4 .5 .4-2.3 .4 3.5 .4 .2 .4-6 .4 .5 .4 6.9 .4-6.5 .4 4.8 .4-.7 .4-2.6 .4 2.3 .4 .7 .4-.7 .4-5.8 .4 5.2 .4-2.2 .4 2.5 .4 2.6 .4-4.2 .4-4.1 .4 6.8 .4-3 .4 1 .4 .2 .4-5.2 .4 5.9 .4 8.2 .4-8.5 .4 .2 .4 3.4 .4-4.1 .4-7.8 .4 8.7 .4 1.3 .4-3.3 .4 5.1 .4-2.8 .4-.4 .4 1.9 .4-.3 .4-1.9 .4-.3 .4-.8 .4 3.5 .4-2.8 .4 .1 .4-4.4 .4-1 .4 7.5 .4-7 .4-.7 .4 .8 .4 2.5 .4 2.9 .4 0 .4 .3 .4-.1 .4-2.1 .4 2.1 .4 2.3 .4-3.3 .4 5.7 .4-7.3 .4-6 .4 6.8 .4 1.8 .4-4.7 .4 6.7 .4-10 .4 1.1 .4 4.2 .4 5.9 .4-7.3 .4-5.8 .4 10.9 .4-6.8 .4 2.5 .4-1.1 .4-.3 .4 2.4 .4 2.1 .4-3 .4-1.7 .4-1.9 .4 5.5 .4-1.6 .4-1.6 .4 5.9 .4-8.1 .4-.9 .4 3 .4 3.8 .4-2.5 .4-.2 .4-1.3 .4 .2 .4 7.2 .4-3 .4-1.3 .4 1 .4-4.3 .4 .8 .4 2.4 .4 3.2 .4-2 .4 .5 .4 1.4 .4-3.2 .4 6.4 .4-9.3 .4-2.6 .4 1.9 .4 3 .4 3.3 .4-1.2 .4-2.4 .4 1.3 .4 2.7 .4-4.5 .4 .4 .4 1.2 .4-4.2 .4 6.5 .4 1.9 .4-1.1 .4-5.8 .4 3 .4 .8 .4 2.1 .4-5 .4-.6 .4 3.3 .4 4 .4-2.2 .4-.9 .4-4 .4-2.6 .4 0 .4 6.1 .4-1.4 .4 1.5 .4-1.6 .4-2.8 .4 1.9 .4 3.8 .4 2 .4-4.7 .4-2.8 .4-2.7 .4-.7 .4 6.3 .4 .1 .4 .5 .4 3.7 .4-4.3 .4-1.4 .4 .3 .4 1 .4 1.7 .4-3.2 .4 .4 .4 2.8 .4-.6 .4-.1 .4-4.4 .4 4.4 .4-1.8 .4 .2 .4-1.6 .4 3.7 .4-7.4 .4-.5 .4 2.6 .4-1.5 .4-.1 .4 .7 .4-1.5 .4 4.4 .4-1.4 .4-3 .4 .3 .4 4.8 .4-.9 .4 1.4 .4 .6 .4-3.2 .4 1.6 .4 1.1 .4-3.4 .4 1 .4 7.5 .4-6.7 .4-2.4 .4 3.2 .4 1.4 .4 .3 .4 3.7 .4 3.9 .4-3.7 .4-.4 .4-.5 .4 1.6 .4-8.6 .4 6.7 .4 2.1 .4-2.4 .4 4.2 .4-1.8 .4-10.8 .4 3.3 .4 4.6 .4 2 .4-6.2 .4 2.7 .4-4.5 .4 .7 .4 3.6 .4 1.2 .4 .3 .4 .9 .4-5.5 .4 4.5 .4-6.8 .4 10.2 .4-3.2 .4 1.2 .4 .4 .4-7.3 .4 5 .4-3.5 .4 .8 .4 .5 .4-.9 .4 1.5 .4-2.3 .4-3 .4 7 .4-2.1 .4-3.8 .4 4 .4-.4 .4 2.8 .4 .5 .4-7.5 .4 8.9 .4-5.9 .4-1.6 .4 2.9 .4 3 .4-7.9 .4 7.4 .4-.9 .4 4.3 .4-2.9 .4 1.5 .4-7.4 .4-1.3 .4 13.5 .4-3.6 .4-4.6 .4 3.5 .4-7.9 .4-.8 .4 4.4 .4-7.4 .4 7.3 .4 1.2 .4-.7 .4 .3 .4 .8 .4 4.6 .4-2.5 .4-3.7 .4 1.3 .4-.6 .4-.2 .4-2.3 .4 6.2 .4 3.5 .4-4.1 .4-1.8 .4-2.6 .4 3.9 .4-4.8 .4 3.7 .4 .1 .4 3.4 .4 .4 .4-3.4 .4-.4 .4-2.7 .4 4 .4 .2 .4-9.1 .4 7.9 .4 2.2 .4-3 .4-4.2 .4 6 .4-4.7 .4 2.9 .4-.3 .4-2.8 .4 2.6 .4-3.3 .4-.3 .4 10.6 .4-5.8 .4 .7 .4-2.9 .4 6.6 .4-1.1 .4-2.4 .4-6.9 .4 4.5 .4 1.2 .4 .1 .4-2.6 .4 8.3 .4-2.8 .4-3.6 .4 2.7 .4-2 .4 .7 .4-.3 .4-1.8 .4 5.2 .4-6.3 .4 2.8 .4 .6 .4 2.1 .4-8.9 .4 6.5 .4-.3 .4-5.4 .4 4.7 .4-2.1 .4-1.1 .4 9.5 .4-9.6 .4 3.6 .4-6.6 .4 9.2 .4-3.8 .4 .4 .4 3.8 .4-8.1 .4 2.7 .4 1.4 .4-4.2 .4-7.9 .4 8.8 .4 3.5 .4 1.2 .4-.1 .4-3.3 .4 .6 .4 4.4 .4-2.2 .4-5.3 .4 4.2 .4-7.8 .4 3.5 .4 6.3 .4 0 .4-5.6 .4 1.5 .4 3.4 .4-7.7 .4 7.2 .4 4.9 .4-7.3 .4-.1 .4 5.1 .4-9.1 .4 9.2 .4-.6 .4-1.9 .4-3.3 .4-.4 .4-4.9 .4 7.5 .4-1.7 .4 1.9 .4 .6 .4 1.4 .4 .4 .4-1.3 .4 2.1 .4-3.6 .4 4.3 .4-10.2 .4 11.5 .4-8.5 .4 4.2 .4-1.2 .4 1 .4-.6 .4 2 .4-6.1 .4 1.8 .4 7.4 .4-7 .4 5.5 .4-4.1 .4-1.6 .4 1.4 .4-.4 .4 4.3 .4 1 .4-7 .4-1.4 .4 3.9 .4 5.5 .4-2.8 .4-3.7 .4 4 .4-5.7 .4 8 .4-11.6 .4 1.8 .4 7.3 .4-3.5 .4-3.2 .4-3.2 .4 6.8 .4 .5 .4 4.1 .4-9.1 .4 4.6 .4-3.6 .4-7.6 .4 10.6 .4-5.8 .4 3.4 .4 3.7 .4-2 .4 2 .4-2.2 .4 5.8 .4-10.7 .4 7.2 .4-1.1 .4-1.8 .4-3 .4 10.9 .4-9.2 .4-4.6 .4 5.3 .4-1.5 .4 3.4 .4-7.2 .4 7.7 .4-.4 .4-2.7 .4 2.3 .4-1.5 .4 2.1 .4 1.6 .4-3.9 .4 2.2 .4-3.7 .4 4.2 .4-3.8 .4 3 .4-7 .4 3.5 .4 5.7 .4-4.2 .4-.6 .4 5.8 .4-6.7 .4 9.9 .4-10.4 .4 5 .4-4.8 .4 6.4 .4-7.6 .4 7 .4-.4 .4-5.3 .4 8.4 .4-2.5 .4-2.6 .4 2.8 .4-3.3 .4-1.5 .4 .8 .4-.4 .4 3.3 .4 6.4 .4-5.1 .4-5.1 .4 1.3 .4 1.5 .4 3.6 .4-6.1 .4 4.2 .4 .8 .4-1.1 .4-1.6 .4-.9 .4 6 .4 1.3 .4-7.5 .4 6.4 .4-3.6 .4 7.6 .4-5.2 .4 1.8 .4-2.3 .4 .6 .4-5.2 .4 4.7 .4 .1 .4 .9 .4-1.8 .4 .7 .4-3.9 .4-1.1 .4 4.7 .4-6.4 .4 7.6 .4-6.6 .4 4.8 .4-2.7 .4 3.4 .4-1.4 .4-2.9 .4 .5 .4-1.9 .4 3 .4-3.3 .4-.5 .4 2.2 .4 1.9 .4-5.6 .4 1.9 .4-4.7 .4 4.8 .4 4.3 .4-7.9 .4-4 .4 4.7 .4-5.7 .4 7.5" fill="none" stroke="#30f030" stroke-width="0.85"/>
</g>
<path d="M668.80 234.50H1122.50" stroke="#333" stroke-width="1.0" stroke-dasharray="4.4 2.3" fill="none"/>
<path d="M685.50 263.29v-3.90M685.50 189.46v3.90M703.50 263.29v-3.90M703.50 189.46v3.90M722.50 263.29v-10.80M722.50 189.46v10.80M740.50 263.29v-3.90M740.50 189.46v3.90M758.50 263.29v-3.90M758.50 189.46v3.90M776.50 263.29v-3.90M776.50 189.46v3.90M795.50 263.29v-3.90M795.50 189.46v3.90M813.50 263.29v-10.80M813.50 189.46v10.80M831.50 263.29v-3.90M831.50 189.46v3.90M850.50 263.29v-3.90M850.50 189.46v3.90M868.50 263.29v-3.90M868.50 189.46v3.90M886.50 263.29v-3.90M886.50 189.46v3.90M904.50 263.29v-10.80M904.50 189.46v10.80M923.50 263.29v-3.90M923.50 189.46v3.90M941.50 263.29v-3.90M941.50 189.46v3.90M959.50 263.29v-3.90M959.50 189.46v3.90M978.50 263.29v-3.90M978.50 189.46v3.90M996.50 263.29v-10.80M996.50 189.46v10.80M1014.50 263.29v-3.90M1014.50 189.46v3.90M1032.50 263.29v-3.90M1032.50 189.46v3.90M1051.50 263.29v-3.90M1051.50 189.46v3.90M1069.50 263.29v-3.90M1069.50 189.46v3.90M1087.50 263.29v-10.80M1087.50 189.46v10.80M1105.50 263.29v-3.90M1105.50 189.46v3.90" stroke="#000" stroke-width="1.0" fill="none"/>
<path d="M668.80 212.50h6.30M1122.50 212.50h-6.30M668.80 234.50h6.30M1122.50 234.50h-6.30M668.80 257.50h6.30M1122.50 257.50h-6.30M668.80 261.72h2.60M1122.50 261.72h-2.60M668.80 252.68h2.60M1122.50 252.68h-2.60M668.80 248.16h2.60M1122.50 248.16h-2.60M668.80 243.64h2.60M1122.50 243.64h-2.60M668.80 239.12h2.60M1122.50 239.12h-2.60M668.80 230.08h2.60M1122.50 230.08h-2.60M668.80 225.56h2.60M1122.50 225.56h-2.60M668.80 221.04h2.60M1122.50 221.04h-2.60M668.80 216.52h2.60M1122.50 216.52h-2.60M668.80 207.48h2.60M1122.50 207.48h-2.60M668.80 202.96h2.60M1122.50 202.96h-2.60M668.80 198.44h2.60M1122.50 198.44h-2.60M668.80 193.92h2.60M1122.50 193.92h-2.60" stroke="#000" stroke-width="1.0" fill="none"/>
<rect x="668.80" y="189.46" width="453.70" height="73.83" fill="none" stroke="#000" stroke-width="1.4"/>
<text x="666.30" y="193.95" font-size="10.8" text-anchor="end">200</text>
<text x="666.30" y="215.89" font-size="10.8" text-anchor="end">100</text>
<text x="666.30" y="238.49" font-size="10.8" text-anchor="end">0</text>
<text x="666.30" y="261.09" font-size="10.8" text-anchor="end">-100</text>
<text transform="translate(637.00 227.70) rotate(-90)" font-size="11" text-anchor="middle">V<tspan font-size="8.8" dy="3.2">e LMN</tspan><tspan dy="-3.2">&#8203;</tspan> [km/s]</text>
<path d="M674.50 198.00h18.00" stroke="#4040ff" stroke-width="0.9" fill="none"/>
<text x="693.60" y="201.60" font-size="9.5" fill="#2828ff">V<tspan font-size="6.9" dy="3.8">L</tspan><tspan dy="-3.8">&#8203;</tspan></text>
<path d="M674.50 213.60h18.00" stroke="#50e850" stroke-width="0.9" fill="none"/>
<text x="693.60" y="217.20" font-size="9.5" fill="#30f030">V<tspan font-size="6.9" dy="3.8">M</tspan><tspan dy="-3.8">&#8203;</tspan></text>
<path d="M674.50 229.80h18.00" stroke="#ff5050" stroke-width="0.9" fill="none"/>
<text x="693.60" y="233.40" font-size="9.5" fill="#ff2828">V<tspan font-size="6.9" dy="3.8">N</tspan><tspan dy="-3.8">&#8203;</tspan></text>
<path d="M751.80 267.29V337.12" stroke="#10a010" stroke-width="1.0" stroke-dasharray="7.1 3.0" fill="none"/>
<path d="M846.60 267.29V337.12" stroke="#10a010" stroke-width="1.0" stroke-dasharray="7.1 3.0" fill="none"/>
<path d="M775.50 267.29V337.12" stroke="#ff2020" stroke-width="1.1" stroke-dasharray="7.1 3.0" fill="none"/>
<path d="M822.70 267.29V337.12" stroke="#ff2020" stroke-width="1.1" stroke-dasharray="7.1 3.0" fill="none"/>
<path d="M825.10 267.29V337.12" stroke="#3030ff" stroke-width="1.3" stroke-dasharray="1.6 1.5" fill="none"/>
<path d="M826.80 267.29V337.12" stroke="#ff10ff" stroke-width="1.3" stroke-dasharray="1.6 1.5" fill="none"/>
<clipPath id="mc4"><rect x="668.80" y="263.29" width="453.70" height="73.83"/></clipPath>
<g clip-path="url(#mc4)">
<path d="M668.8 294.6l.4-2.5 .4-1.4 .5 4.8 .4 1.2 .4-.5 .4-6.2 .4 2.7 .5 5.2 .4 2.5 .4-6.1 .4 5.9 .4 .8 .5-1.9 .4-2.5 .4 2.1 .4 1.1 .4 2.8 .5 .9 .4-4 .4 1.7 .4-.2 .4-.6 .5 2.2 .4-2.9 .4 .1 .4-3.4 .4 3.4 .5-2.7 .4 5.9 .4-4.1 .4-.2 .4-.5 .5-3 .4 1.2 .4 .8 .4 1.4 .4-2 .5-3.8 .4 2 .4-.2 .4-3.9 .4 4.5 .5 .1 .4-4.1 .4 6.4 .4-4.5 .4-2.5 .5 5.2 .4-6.1 .4 1 .4-4.8 .4 1 .5 5.7 .4-6.6 .4-.2 .4 .7 .4-1.8 .5-1.5 .4-.1 .4 1.3 .4 3.2 .4-2.2 .5 2.7 .4-7.1 .4 2.1 .4-.1 .4 .4 .5 .2 .4-5.6 .4 6.9 .4-3.5 .4-1.3 .5 1.5 .4-2.1 .4-1.7 .4 1.8 .4-3.7 .5 1.6 .4 3.9 .4-.7 .4-3.7 .4-2.6 .5 5.2 .4 .2 .4-1.1 .4-2.2 .4 2.2 .5-1.1 .4 1 .4 .7 .4-1.5 .4-.5 .5 1.5 .4-.8 .4-2.7 .4 1.6 .4 1.5 .5-.4 .4-2.1 .4 .1 .4-2.2 .4 2.6 .5 1.7 .4-1.7 .4-2.1 .4 2.2 .4-1.6 .5 1.2 .4-4.4 .4 1.7 .4 2.3 .4 .6 .5-4.4 .4 .4 .4 5 .4-3.5 .4-1.3 .5 1.4 .4-2.1 .4-2.1 .4 3.9 .4-.5 .5-.3 .4 1.6 .4-1.7 .4 1.1 .4-2.7 .5 6.9 .4 .8 .4-5.4 .4-.7 .4 4.6 .5 1.2 .4-2.5 .4-1.2 .4 6.8 .4-5.3 .5 2.5 .4-.1 .4 .2 .4 2.3 .4 .4 .5-6.2 .4 3.1 .4 2.9 .4-1.9 .4-1.7 .5 3.3 .4-2.7 .4 .8 .4 2.4 .4-.4 .5 2.6 .4-3.1 .4-1.9 .4 1.9 .4-2.8 .5-.2 .4-.3 .4-1.6 .4 1.1 .4-.7 .5-.4 .4-2.9 .4 3 .4-1.5 .4-1 .5 .5 .4-.6 .4 .5 .4 6.2 .4-3.2 .5 1.8 .4 .5 .4-2.6 .4 1.9 .4-.3 .5 2.9 .4 .2 .4-2.4 .4 4.8 .4 .4 .5-4.4 .4 4.4 .4 .3 .4-3.8 .4 1.8 .5 4.3 .4-3.3 .4-1.1 .4 5 .4-3.9 .5 4.5 .4 1.2 .4 .1 .4 2 .4-.9 .5 0 .4-1.6 .4 5.4 .4-4.8 .4 3.7 .5-.6 .4-.4 .4-1.6 .4-.5 .4 3.9 .5 2 .4-1 .4-2.3 .4 5 .4-7.8 .5 4.9 .4 1.6 .4-.3 .4-3.3 .4 2.4 .5 .5 .4-5 .4 2.4 .4-3 .4 2.3 .5-4.1 .4 5.2 .4 2.1 .4 .7 .4-1.4 .5-3.6 .4 5.9 .4-4.7 .4 6.3 .4 .3 .5 .4 .4-3.4 .4 2.2 .4-2.9 .4-2.4 .5 2.3 .4 3.9 .4-4.8 .4-.3 .4 1.9 .5-1.8 .4-.7 .4-6.2 .4 .8 .4 6.2 .5-4.7 .4-2.6 .4 4.3 .4-2.3 .4-5.4 .5 2.5 .4-1.4 .4-.4 .4 .7 .4-1.8 .5 1.5 .4 1 .4-1.5 .4-.5 .4 2.1 .5-3.2 .4 .4 .4-2.7 .4-1.2 .4 3.3 .5-3.8 .4 2 .4 1.2 .4-3.6 .4 5.4 .5-2.4 .4-4.5 .4 6.1 .4-3.8 .4 1 .5-3.7 .4 1.5 .4-1.6 .4 1 .4-2.5 .5 .1 .4-.8 .4-3.5 .4 2.7 .4 2.8 .5-3.1 .4 .8 .4 5.6 .4-6.6 .4 3.7 .5 1.9 .4 .6 .4-.2 .4 .1 .4-1.1 .5-2.5 .4-2.8 .4 8.3 .4-4.9 .4 .9 .5-2.8 .4 2.1 .4-3.5 .4 1.1 .4 1.9 .5 3.2 .4-3.1 .4 3.1 .4-4.1 .4-.2 .5 2.7 .4-3.3 .4-3.3 .4 4.3 .4-.3 .5-.6 .4 .6 .4-1.9 .4 .5 .4-2.7 .5 4.4 .4-3.2 .4 4.1 .4-2.4 .4-2 .5 3.6 .4-.7 .4 .4 .4-.7 .4-1.3 .5 4.7 .4-6.6 .4 1.3 .4 5.2 .4 1.1 .5-7.8 .4 8.2 .4-2.4 .4-5.8 .4 2.7 .5-1.3 .4 2.3 .4-1 .4 3 .4-2.5 .5 1.1 .4 .1 .4-4.9 .4 1.8 .4 1.1 .5-.7 .4-2.4 .4 2.3 .4-4 .4 .8 .5 2.2 .4-.1 .4-4.2 .4 2.5 .4 .4 .5 .5 .4-1 .4-1.5 .4-3 .4-1.6 .5 1.9 .4 .4 .4 .7 .4 1.6 .4 .7 .5 3.3 .4-8 .4 1.8 .4-1.6 .4 1.3 .5-.4 .4 1.7 .4 .6 .4-.2 .4 1.8 .5 3.7 .4 .5 .4-1.1 .4 2.6 .4-5.9 .5 3 .4 4.6 .4-2 .4-.2 .4 .9 .5 .3 .4 2.9 .4 2 .4-5.9 .4 .9 .5 1.5 .4 2.2 .4 1.4 .4-1.4 .4 1.4 .5-1.2 .4 1.9 .4-5.1 .4 6.5 .4-1.2 .5-2.4 .4 2.7 .4-2.4 .4 5.5 .4 .2 .5-1.8 .4-3.8 .4-.4 .4 5 .4-2.4 .5 7.3 .4-7.5 .4 .1 .4 5.8 .4 2.7 .5-7.9 .4 6.7 .4 .5 .4-.3 .4-.7 .5 2.9 .4 2.1 .4 3.7 .4 1.5 .4-.6 .5-2.2 .4 4.4 .4 1.2 .4-1.1 .4 3.6 .5 2.4 .4-1.1 .4-2.1 .4-2.5 .4 4.9 .5 1.7 .4-1.8 .4 .2 .4 .6 .4-.8 .5-2.7 .4 5.7 .4-2.2 .4-.2 .4-3.6 .5 .9 .4-6.7 .4 3.4 .4-.7 .4-2.2 .5-.8 .4-2.5 .4 4 .4-.9 .4 .2 .5-3 .4 2.8 .4 2.5 .4-6.4 .4 2 .5-7.7 .4 9.2 .4-1 .4-3.7 .4 1 .5-5.4 .4 5.3 .4-4.9 .4 1.2 .4-.7 .5 3.1 .4-1.8 .4-.1 .4 1.6 .4-5.3 .5 3.5 .4 .8 .4 2.4 .4-2.1 .4-5.2 .5 4.1 .4-5.7 .4 2.8 .4 .5 .4 2.6 .5-2.2 .4 1.1 .4 1.4 .4-.3 .4 1 .5-1.7 .4 1.8 .4 2.6 .4-.3 .4-.5 .5 .3 .4-4.2 .4 6.1 .4 .8 .4-1.1 .5-5.9 .4 1.2 .4-.3 .4 1.7 .4-1.9 .5 1.3 .4 .9 .4-1.6 .4 3.2 .4-1.3 .5-2.2 .4-2.2 .4 1.3 .4-1.6 .4-1.5 .5 3.3 .4 2.7 .4-3.5 .4-1 .4 2.7 .5-.7 .4 4.3 .4-1.6 .4 1.6 .4 .3 .5 1.6 .4-1.2 .4 3.1 .4-.9 .4 .8 .5 3.2 .4-3.5 .4 3 .4 2 .4 .6 .5 1.8 .4 1.7 .4-2.1 .4 .2 .4 0 .5 .6 .4 0 .4 6.9 .4-7.8 .4 3.9 .5 .3 .4-.4 .4-1.4 .4 1.6 .4 1.6 .5-4 .4 4.7 .4-1.7 .4 3 .4-2.7 .5 .3 .4 .3 .4 2.6 .4-3.2 .4 4.1 .5-2.3 .4-3.9 .4 3.2 .4 4 .4-3 .5-2.6 .4 4.3 .4-1.2 .4 2.1 .4-2.1 .5 3.8 .4-1.1 .4-.7 .4-2.9 .4 2 .5 4.4 .4 1.7 .4-3.7 .4-1.9 .4 1.9 .5-2.4 .4-2.4 .4 2.2 .4-3 .4 3.1 .5 .6 .4 1.4 .4 2.7 .4-5.3 .4 2.8 .5-2.6 .4 2.1 .4-1.7 .4-.3 .4-.5 .5-1.6 .4-.3 .4 6.5 .4-5.8 .4 .6 .5-1.3 .4-1.3 .4 3.9 .4-3.2 .4-1.4 .5 .4 .4 2.1 .4 2.1 .4-3.1 .4 6.5 .5-8.4 .4 4.9 .4-6.1 .4 3.3 .4 .6 .5-2.8 .4 2.3 .4 .1 .4-.9 .4 3.1 .5-3.1 .4 3.4 .4-5.2 .4 2.6 .4-.7 .5-1.2 .4 2 .4-2.3 .4 2.6 .4-3.8 .5 2.6 .4-1 .4 4.3 .4-3.4 .4-2.7 .5-2.2 .4 3.6 .4 .4 .4 4.5 .4 1.3 .5-5.2 .4-.8 .4 3.8 .4-5.7 .4 1.2 .5 4.1 .4-3.5 .4 0 .4-.1 .4-2.3 .5 .2 .4 1.1 .4-3.7 .4 2.5 .4 2.2 .5-2.1 .4-5.1 .4 5.4 .4 1.2 .4-2.5 .5 3.4 .4-2.6 .4-.6 .4-1.3 .4-2.8 .5 .9 .4 .8 .4-3 .4 5 .4-4.1 .5-1.6 .4 3.2 .4-2.2 .4-.5 .4 .3 .5 4.2 .4-5.4 .4 1.9 .4-.8 .4-1.2 .5-.6 .4-1.2 .4 2.6 .4-1.2 .4-4 .5 5.9 .4-1.1 .4-.1 .4 .4 .4-5.6 .5 1.8 .4 .5 .4-2.6 .4 2.1 .4-1.9 .5 4.2 .4-3.5 .4-3.6 .4 .5 .4 1.2 .5 .1 .4 4.2 .4-4.7 .4-1.5 .4 4.3 .5 .2 .4 1.3 .4-4.9 .4 2.4 .4 .3 .5 3 .4 2.8 .4-2.7 .4-1 .4 4.1 .5-2.3 .4-1.6 .4 7.1 .4 2 .4-5.2 .5 4.3 .4-1.7 .4 1.3 .4 2.3 .4-.4 .5-1 .4 7.2 .4-4 .4 3.2 .4-3.2 .5 4 .4-.1 .4-2.6 .4 0 .4 4.4 .5-.8 .4-2.5 .4 .9 .4-.8 .4 4.7 .5-.8 .4-3.1 .4 5.6 .4-4.9 .4 2 .5 1.6 .4-5.6 .4 .3 .4-1.1 .4 1.8 .5-3.9 .4 6.8 .4-1.8 .4-2.6 .4-1.5 .5 1.6 .4-4.5 .4-.2 .4 .7 .4 .8 .5-4.8 .4-2.4 .4 1.7 .4 3.5 .4 .9 .5 1.2 .4 .1 .4-7.5 .4 9.7 .4-6.9 .5 5.9 .4-2.7 .4-.9 .4 2.1 .4-2.6 .5-2.6 .4 3.9 .4-2.1 .4 3.3 .4-1.7 .5-.7 .4-1.8 .4-.9 .4 4.3 .4-2.9 .5 1.6 .4-.5 .4-3.4 .4 .7 .4 2.9 .5-4.9 .4 1.3 .4 2.4 .4 1.4 .4-3.9 .5-.7 .4 3 .4-1.5 .4 3.9 .4 .3 .5-4.9 .4 3.8 .4 0 .4 3 .4 3.8 .5-.3 .4 2.3 .4-.7 .4-4.7 .4 .7 .5 7.1 .4 3.5 .4-2.3 .4 1 .4-3.7 .5 5.3 .4-7.4 .4 2.5 .4-.5 .4 5.8 .5-5.4 .4 5.7 .4-3.1 .4-2.9 .4 1 .5 3.5 .4-3.2 .4 4.2 .4-4.2 .4 4.8 .5-5.3 .4 3.6 .4-2.3 .4-.5 .4 .7 .5 1.1 .4-1.7 .4-2.1 .4 1.2 .4 .3 .5-1.9 .4 3.1 .4-3.4 .4-.3 .4 3.6 .5-1.6 .4 5 .4 1.3 .4-6.3 .4 5 .5-.2 .4 2.9 .4-1.4 .4 2.9 .4-1.3 .5 2.3 .4-3.5 .4 5.1 .4-6.9 .4 .1 .5 3.7 .4 1.2 .4-1.7 .4-6.7 .4 2.6 .5 3.4 .4-.6 .4-.1 .4-1.1 .4-.1 .5 .6 .4 2.4 .4-1.4 .4-2.6 .4 2.3 .5-.8 .4-2.8 .4 4.1 .4-1.8 .4-1.1 .5 1.5 .4-7.4 .4 10 .4-4.3 .4-.4 .5-1.2 .4 3.2 .4 1.5 .4 1.4 .4-3.3 .5 6.3 .4-4.8 .4 1.6 .4 7.1 .4-4.3 .5-5.5 .4 5.3 .4 1.6 .4-1.7 .4 2.1 .5 2.9 .4-3.9 .4 .8 .4 3.2 .4-1.9 .5 .8 .4 2 .4 1.9 .4 .5 .4 2.8 .5-2.2 .4-.5 .4-5.2 .4 4.3 .4-2.6 .5-3.3 .4 2.5 .4-.2 .4-3.6 .4 1.7 .5-5.2 .4-.2 .4 2.8 .4-2.4 .4-1.3 .5-2.9 .4 2.1 .4-4.6 .4 2.3 .4 0 .5-1 .4 3.1 .4-.7 .4-2.3 .4-.6 .5 .2 .4 1.1 .4-1.4 .4-.5 .4 .1 .5 1.4 .4-.9 .4-1.9 .4 2.7 .4-3 .5 5.1 .4 2.8 .4-4.3 .4 2.2 .4 1 .5-3.7 .4 3.5 .4 1.4 .4-3.1 .4 2.9 .5-.4 .4-2.9 .4 4.3 .4 2.6 .4-3.2 .5 .4 .4-3.7 .4-.9 .4 .4 .4 1 .5-.5 .4-.7 .4 .4 .4-1.4 .4-2.3 .5 1.4 .4-4 .4 4.9 .4-6.4 .4 1 .5-2.5 .4 5.3 .4-1.9 .4-2.9 .4 0 .5 3.9 .4-5.1 .4 3.6 .4-2.6 .4 3 .5 1.7 .4-2.4 .4 1.1 .4-.3 .4-2.7 .5 1 .4-.7 .4-.9 .4-3.2 .4 9 .5-4.2 .4 2.1 .4 0 .4-2.4 .4 2.4 .5 .4 .4-2.1 .4-.6 .4 2.4 .4-.6 .5-1.5 .4 3.2 .4-4.9 .4 5.2 .4-2 .5-2.7 .4 3.4 .4-2.5 .4 1.7 .4-.4 .5-1.5 .4 4.3 .4-3.5 .4-.6 .4 2 .5-1.1 .4-1.5 .4 .3 .4-3.6 .4 5.4 .5-6.7 .4 6.4 .4-2.3 .4-2.5 .4-1 .5-2.7 .4 .2 .4 6.2 .4-1.8 .4-.3 .5-1.1 .4-5.4 .4 4.2 .4-4.1 .4-2.9 .5 1.9 .4-.4 .4 3.2 .4-6 .4-.5 .5 1.2 .4 2 .4-7.8 .4 4.1 .4 1.6 .5 1.2 .4-3.4 .4 .3 .4-2.8 .4-.4 .5 0 .4-2.5 .4 1.8 .4-.2 .4 1.1 .5 1.3 .4-3.7 .4-.2 .4-.6 .4-5.4 .5 4.3 .4-1.7 .4-2.7 .4 2.1 .4-4.3 .5 3.8 .4-3.8 .4-1.8" fill="none" stroke="#ff1818" stroke-width="0.85"/>
<path d="M668.8 283.9l.4-2 .4 .7 .5 1.6 .4-.4 .4 2.5 .4-4.7 .4 4.4 .5-1.1 .4 2.8 .4 .4 .4-.3 .4-2.3 .5 .5 .4 1.7 .4-1 .4-2.3 .4 1.1 .5 3.6 .4-2.3 .4 1.6 .4 .9 .4-2.4 .5 2.2 .4 3.5 .4 .4 .4-1.4 .4 .3 .5-1.1 .4 .5 .4 1.2 .4-4.6 .4 1.9 .5-.1 .4 2 .4-3.7 .4 5.4 .4-5.2 .5 5 .4-4.1 .4 .1 .4 2.7 .4-6.7 .5 4.4 .4 1.8 .4-5.2 .4 3 .4-2.8 .5 2.6 .4-2.7 .4 2.4 .4-3.3 .4-.5 .5 0 .4-1.6 .4 4.2 .4-1.8 .4 .7 .5-.7 .4 .2 .4-5 .4 2.3 .4-1.3 .5 0 .4-.4 .4-3.3 .4-.2 .4-1.9 .5 6 .4-2.4 .4-1.7 .4 1.6 .4-1.9 .5-.4 .4 .9 .4 0 .4-1.3 .4-.7 .5 2.2 .4 4.6 .4-5.4 .4 2.7 .4-.4 .5-3.1 .4-2.9 .4 2 .4 1.5 .4 1.4 .5-2 .4-1.3 .4 4.5 .4-3.2 .4-.5 .5 .9 .4-4.5 .4 5.2 .4-5.6 .4 2.5 .5-2.7 .4 1.8 .4 3.4 .4 1.4 .4-1.4 .5-.7 .4-4.8 .4 7.9 .4-4.6 .4 1.8 .5-.1 .4-.1 .4-4 .4 2.2 .4 1.3 .5-3.2 .4 2.3 .4-1.1 .4-2.8 .4 3.8 .5-.4 .4 3.3 .4-3.1 .4 2.4 .4-1.4 .5 1.7 .4-6 .4 4.2 .4-1.7 .4 2.6 .5-1.8 .4 .7 .4 0 .4 1.2 .4-2 .5 2.1 .4-.5 .4-.1 .4-1.1 .4 3.5 .5-1 .4-.1 .4 2 .4-3 .4 1.6 .5-1.3 .4 2.6 .4-.7 .4-1.6 .4 1 .5 .5 .4-2 .4 3.5 .4-1 .4-.5 .5 2.7 .4-5.3 .4 3.3 .4-1.1 .4-.3 .5 .2 .4-1.6 .4 3.4 .4-4.5 .4 .6 .5 1.1 .4 4.1 .4-1.7 .4 .2 .4-3.3 .5 2 .4 .9 .4-2.4 .4-.8 .4 4.7 .5-4.7 .4 .5 .4-.6 .4 1.7 .4-.6 .5 2.9 .4-6.3 .4 2.1 .4 1 .4 .1 .5 .7 .4 1.3 .4-.4 .4 .1 .4-3.7 .5 2.4 .4 1.3 .4-2.7 .4 3.4 .4-2 .5 1.9 .4 1.2 .4-1 .4-1.6 .4 1.3 .5 .3 .4 .8 .4-.8 .4 3.4 .4-2.7 .5-1.8 .4-.5 .4 6.4 .4-2.1 .4-2.7 .5-.8 .4 4.4 .4-1.1 .4-.8 .4-2.8 .5 4.5 .4-2.4 .4-4.7 .4 5.7 .4 .3 .5 .5 .4-1.7 .4-1.2 .4 2.1 .4-.8 .5 .7 .4 3.3 .4-3.6 .4-1.8 .4-1.2 .5 5.1 .4-2.2 .4 1.7 .4-1.8 .4-2.6 .5 .1 .4 1 .4 2.2 .4-2.8 .4 .9 .5 .8 .4-1.1 .4 1.4 .4-.1 .4-.8 .5-2.5 .4 3.3 .4-1.9 .4-.1 .4 1.5 .5-1.3 .4 1.8 .4-5.3 .4 5.8 .4-3.7 .5 1.8 .4 .8 .4-1.8 .4-1.9 .4 1.3 .5 1.5 .4-2.5 .4-.8 .4-.7 .4 2.4 .5-1.1 .4 .1 .4 2.4 .4-2.2 .4-2.2 .5 1.3 .4-1.3 .4 .4 .4-.9 .4 3.6 .5-1.4 .4 1 .4-6 .4 5.4 .4-1.1 .5 1.5 .4-2.4 .4 4.1 .4-.5 .4-.7 .5-1.8 .4-.3 .4 3.2 .4-5 .4 3.9 .5 2 .4-3.8 .4 4.2 .4-1 .4-2.6 .5 2.1 .4-.7 .4-2.4 .4 8.8 .4-4.8 .5 2.4 .4-.5 .4 .5 .4-4.5 .4 4.5 .5-.7 .4-1.5 .4 2.1 .4 3.4 .4-4.9 .5-1.6 .4 2.5 .4 1.8 .4 2 .4-1.9 .5 2.7 .4 3.2 .4-4.6 .4 3.1 .4-3.9 .5 1.6 .4-1.3 .4 2.8 .4-4.4 .4 5.4 .5-3.9 .4 3.3 .4-2 .4 .6 .4 1.1 .5-.3 .4-.5 .4-1.6 .4 5.7 .4-2.2 .5-.4 .4 .6 .4-1.4 .4 .8 .4 .4 .5-.5 .4 2.2 .4 0 .4 .3 .4-2.5 .5 1.5 .4 .1 .4-.7 .4 4.8 .4-2.6 .5 3.6 .4-1 .4-3.5 .4 .9 .4-.1 .5 2.8 .4-2.7 .4 1.3 .4-2 .4 2.8 .5 .7 .4 .9 .4-1.9 .4-.7 .4 1.5 .5 .8 .4 .2 .4 .6 .4-.9 .4 2.8 .5-2.5 .4-.7 .4 2 .4-.1 .4-1.6 .5-.2 .4 5.5 .4-4.2 .4 4.2 .4-1.6 .5-.4 .4 2.7 .4 1 .4-8.4 .4 7.1 .5-.5 .4-.8 .4-2.1 .4 2.3 .4-2.6 .5 2.2 .4 .3 .4-.7 .4 2.9 .4 .7 .5-3.7 .4 .2 .4 2.3 .4-.5 .4-1.9 .5 .7 .4 3.1 .4 .1 .4-4.1 .4 1.6 .5 .4 .4-2.4 .4 .8 .4-2.9 .4 2.8 .5-1.9 .4 4.7 .4-4.1 .4-.1 .4-.4 .5 .7 .4 2.1 .4-1.2 .4-2 .4 2.9 .5-1.5 .4 2.1 .4-5.7 .4 5.8 .4-1.7 .5-1.3 .4 .8 .4 2.5 .4 1.9 .4-1.5 .5 5 .4-3.7 .4 2.3 .4-.5 .4 3.7 .5-3.5 .4 4.1 .4-2.4 .4-3.6 .4-3.1 .5 5.2 .4-3.2 .4 2.4 .4-2.9 .4-1.1 .5 .4 .4-.1 .4 1.9 .4 .4 .4-.8 .5-1.8 .4-.2 .4-1.8 .4 5.9 .4-2.6 .5-1 .4-3.3 .4-1.3 .4 .6 .4-1.2 .5 2.7 .4-2.5 .4 4.6 .4-4.1 .4 2.1 .5-2.5 .4-4 .4 .7 .4 1.8 .4 1 .5-1.1 .4 1.4 .4-2.1 .4 3.8 .4-2.3 .5-3.4 .4 3.6 .4-1.7 .4-1.2 .4 .2 .5 1.7 .4-4.6 .4 .7 .4 1.8 .4-2.7 .5 2.1 .4 2.3 .4-1.5 .4-.8 .4-2.5 .5 4 .4-2.2 .4-2.4 .4 4.2 .4-4.3 .5-.1 .4 .5 .4 5.2 .4-5.8 .4 2.8 .5 1.4 .4-2.7 .4 2.1 .4-.4 .4-1.4 .5 .8 .4-.7 .4 .4 .4 .9 .4 .6 .5-4.8 .4-1.3 .4 1.7 .4 1 .4-.8 .5-.5 .4-.6 .4 .4 .4-4 .4 1.6 .5-.2 .4 1.4 .4 .2 .4-1.1 .4-2.1 .5 .4 .4 4.3 .4-2.6 .4-1.2 .4 2 .5 .8 .4-2.9 .4 6.9 .4-5.2 .4 .6 .5 2.9 .4-.8 .4 .7 .4-3.3 .4 5.9 .5-.7 .4 1.5 .4 2.1 .4-.1 .4-.8 .5-1.5 .4 .3 .4 3.7 .4-1.3 .4 1 .5-2.1 .4 4.4 .4-1.1 .4 .4 .4-.4 .5-.5 .4 2.3 .4-.8 .4-3 .4 1.8 .5 2.3 .4-1.8 .4-.6 .4 4.1 .4-3.7 .5-.6 .4 .1 .4-1.9 .4 5.6 .4-.8 .5-5.1 .4-.7 .4 4.6 .4-3.7 .4-1.4 .5 .6 .4 .7 .4-.2 .4 1.5 .4-3.7 .5 .4 .4 0 .4-.6 .4 .9 .4-.4 .5 .4 .4-2.1 .4 4.8 .4-1.8 .4-.2 .5 3.6 .4-2.3 .4-2.3 .4-1 .4 .2 .5 .7 .4 .6 .4-1.5 .4-.7 .4 3.6 .5-5.1 .4 0 .4-1.6 .4 .8 .4-.4 .5 .8 .4-3.5 .4 .4 .4-1.1 .4-2.4 .5 1.8 .4 .3 .4 1.1 .4-4.2 .4 .1 .5-.4 .4 4.4 .4-4.1 .4 3.9 .4-4.7 .5 2.2 .4-.2 .4 1.2 .4-.1 .4-2.9 .5 1.8 .4 1.2 .4-.1 .4-.8 .4 3.9 .5-1.8 .4-2.5 .4 .9 .4 1 .4 1.5 .5-.9 .4-.6 .4-.4 .4 3.4 .4 .5 .5-.5 .4 .5 .4-2.6 .4 .2 .4 1.5 .5 1 .4 .9 .4 .4 .4-1.7 .4 3.5 .5-4.6 .4 .5 .4-1.2 .4 1.3 .4 1.7 .5-.6 .4-.9 .4 1.1 .4-5.6 .4 .4 .5 3.5 .4-.1 .4-3.4 .4 2.4 .4-3.8 .5 .8 .4 4.1 .4-4.3 .4 2.4 .4-1.4 .5 .2 .4 1.1 .4-2.7 .4-3.4 .4 2.3 .5 2.2 .4-2.5 .4 1.8 .4-2.3 .4 .6 .5 .1 .4 4.3 .4-5.8 .4 4.1 .4-2.5 .5-.6 .4 .7 .4-1 .4 .7 .4-1.8 .5 .6 .4 .1 .4-1.9 .4 2.3 .4-5 .5 4 .4-1.8 .4 .9 .4 3.1 .4-3 .5 3.9 .4 .3 .4-2.7 .4-2 .4 1.3 .5 1.7 .4 4.6 .4-5.9 .4 7.8 .4 1 .5 1.9 .4-2.6 .4-.6 .4 4.1 .4 1.9 .5-3.3 .4 1.1 .4 1.4 .4-.7 .4 2.6 .5-2.7 .4-1.7 .4 1.6 .4 1.8 .4-1.4 .5 4.7 .4-3.1 .4 .8 .4 .9 .4-2.2 .5-.2 .4 4.6 .4-4 .4 3.3 .4-3.9 .5 1.1 .4 3.3 .4-2.8 .4 .6 .4-.3 .5 3.3 .4-2.4 .4 .3 .4-1.9 .4 4.4 .5-.3 .4-5 .4 1.6 .4-.8 .4 .8 .5 1.9 .4 .4 .4 .7 .4-.9 .4 2.1 .5-3.2 .4 1.2 .4 2.1 .4 2.6 .4-3.8 .5 .2 .4-.1 .4-3.6 .4 2.7 .4 1.1 .5-1.6 .4 4.9 .4-5.2 .4 1 .4-.6 .5 4.6 .4-1.4 .4 .8 .4-3.1 .4-1.8 .5 1.7 .4 3 .4 1 .4-2.6 .4-2.5 .5 4.2 .4-2.2 .4 .6 .4 1 .4 .5 .5-1.4 .4-1.7 .4 3.9 .4 2.3 .4-3.7 .5-2.4 .4 2.8 .4-.5 .4 0 .4-.1 .5-4.2 .4 3.1 .4 3.1 .4-2.4 .4-3.4 .5 1.9 .4 .4 .4 1.4 .4 .1 .4 .9 .5-1.7 .4 3.7 .4-6.6 .4 1.2 .4 .1 .5 2.6 .4-.8 .4 1 .4 1.3 .4-4 .5 5.7 .4-4.5 .4 1.7 .4 .7 .4 .9 .5 .2 .4-.5 .4 0 .4 2.2 .4-4.9 .5 3.5 .4 .4 .4-1.2 .4 1.1 .4-1.3 .5 .4 .4 .7 .4-1.4 .4 1.8 .4-1.9 .5 1.1 .4-2.7 .4 2.8 .4-5.8 .4 3.2 .5-1.3 .4 1 .4 .9 .4-2.6 .4 4.4 .5-6.8 .4 2 .4-3.8 .4 3.3 .4-.3 .5 2.2 .4-2.1 .4 .4 .4 .1 .4-1 .5-1.5 .4 1 .4 1.7 .4 .5 .4-2.6 .5-.8 .4-2 .4-.5 .4 3.7 .4-2 .5 .6 .4-1.8 .4 1.5 .4 1 .4 1.8 .5-2.3 .4 .6 .4 1.9 .4-2 .4-4.5 .5 2 .4-2 .4 3.3 .4-.4 .4 .1 .5 1.4 .4-2.4 .4 .1 .4-4.3 .4 5 .5 4.7 .4-3.4 .4-1.3 .4 3.2 .4-2.1 .5-3.1 .4 6.6 .4-3.4 .4-2.1 .4 6.4 .5-2.7 .4 3.8 .4-2.8 .4-5.8 .4 2.3 .5 .1 .4 2.2 .4 .6 .4-.3 .4-.7 .5-3.8 .4 6.3 .4-3.7 .4 3.7 .4-.1 .5 1.6 .4-.3 .4 .1 .4 2.5 .4 1.2 .5-.5 .4-2 .4 .1 .4 2.5 .4 2 .5-2.2 .4 1.4 .4 3.7 .4-3.5 .4 2.5 .5-4 .4 1.6 .4-5 .4 4.6 .4 .3 .5-2 .4-.7 .4-4.2 .4 6.5 .4-2.9 .5-3 .4 .5 .4 3.4 .4-1.3 .4-.2 .5-1.3 .4-1.2 .4-.1 .4 2.3 .4-2.2 .5 .6 .4-.6 .4-4.1 .4 4.7 .4-.5 .5-4 .4 1.1 .4 2.9 .4 .2 .4-3.5 .5 3.5 .4 2.3 .4-2.3 .4-1.3 .4 1.1 .5 1 .4-3.5 .4 2.6 .4 .8 .4-3.3 .5 1.1 .4-.3 .4 1.5 .4 1.2 .4-3.2 .5 2.4 .4 2.1 .4-3 .4 3.8 .4-2.4 .5-3.9 .4 2.3 .4-.6 .4 1.3 .4-.1 .5 1.9 .4-4 .4 3.1 .4 1.5 .4-6.3 .5-.2 .4 1.6 .4-.5 .4 1.3 .4 1.1 .5 .7 .4-1.6 .4-1.7 .4-.9 .4 1 .5 1 .4-1.8 .4 2.5 .4-.1 .4 2.6 .5-3.2 .4-6.1 .4 3.6 .4 .8 .4-3.3 .5 1.9 .4 4.7 .4-3.8 .4-.7 .4 1.1 .5 .5 .4-.2 .4-2.2 .4 .2 .4-3.7 .5 3.5 .4-2.8 .4-3.1 .4 4.8 .4-.6 .5 1.1 .4-4.5 .4 1.2 .4-.8 .4-.8 .5 3.3 .4 .3 .4-1.1 .4-1.6 .4-2.4 .5 2.5 .4-2.3 .4 2.8 .4-.8 .4-3.9 .5 1.8 .4-2.9 .4 .3 .4 2 .4-.6 .5 1.8 .4-1.7 .4 2 .4-1.6 .4-1.1 .5 2.8 .4 .6 .4 2.4 .4-2.8 .4-.1 .5 .5 .4 0 .4-1.5 .4 5.1 .4 .6 .5 .4 .4-4.3 .4 3.9 .4-1.8 .4 1 .5-2.2 .4 4.4 .4-2.3 .4 .9 .4-1.6 .5 2.2 .4 2.1 .4-1.5 .4 0 .4-3.4 .5 4.9 .4 .9 .4-.4 .4 2.2 .4-4.1 .5-2.8 .4 5.1 .4-1.4 .4 2 .4-1.3 .5 4.3 .4-3.6 .4-3" fill="none" stroke="#181818" stroke-width="0.85"/>
</g>
<path d="M685.50 337.12v-3.90M685.50 263.29v3.90M703.50 337.12v-3.90M703.50 263.29v3.90M722.50 337.12v-10.80M722.50 263.29v10.80M740.50 337.12v-3.90M740.50 263.29v3.90M758.50 337.12v-3.90M758.50 263.29v3.90M776.50 337.12v-3.90M776.50 263.29v3.90M795.50 337.12v-3.90M795.50 263.29v3.90M813.50 337.12v-10.80M813.50 263.29v10.80M831.50 337.12v-3.90M831.50 263.29v3.90M850.50 337.12v-3.90M850.50 263.29v3.90M868.50 337.12v-3.90M868.50 263.29v3.90M886.50 337.12v-3.90M886.50 263.29v3.90M904.50 337.12v-10.80M904.50 263.29v10.80M923.50 337.12v-3.90M923.50 263.29v3.90M941.50 337.12v-3.90M941.50 263.29v3.90M959.50 337.12v-3.90M959.50 263.29v3.90M978.50 337.12v-3.90M978.50 263.29v3.90M996.50 337.12v-10.80M996.50 263.29v10.80M1014.50 337.12v-3.90M1014.50 263.29v3.90M1032.50 337.12v-3.90M1032.50 263.29v3.90M1051.50 337.12v-3.90M1051.50 263.29v3.90M1069.50 337.12v-3.90M1069.50 263.29v3.90M1087.50 337.12v-10.80M1087.50 263.29v10.80M1105.50 337.12v-3.90M1105.50 263.29v3.90" stroke="#000" stroke-width="1.0" fill="none"/>
<path d="M668.80 322.50h6.30M1122.50 322.50h-6.30" stroke="#000" stroke-width="1.0" fill="none"/>
<rect x="668.80" y="263.29" width="453.70" height="73.83" fill="none" stroke="#000" stroke-width="1.4"/>
<text transform="translate(1159.40 300.80) rotate(-90)" font-size="11" text-anchor="middle">T<tspan font-size="8.8" dy="3.2">e</tspan><tspan dy="-3.2">&#8203;</tspan> [eV]</text>
<path d="M674.50 270.60h18.00" stroke="#ff4040" stroke-width="0.9" fill="none"/>
<text x="693.60" y="274.40" font-size="9.5" fill="#ff2020">T<tspan font-size="6.9" dy="3.8">||</tspan><tspan dy="-3.8">&#8203;</tspan></text>
<path d="M674.50 286.20h18.00" stroke="#888" stroke-width="1.2" fill="none"/>
<text x="693.60" y="290.00" font-size="9.5" fill="#222">T<tspan font-size="6.9" dy="3.8">&#8869;</tspan><tspan dy="-3.8">&#8203;</tspan></text>
<path d="M751.80 341.12V410.95" stroke="#10a010" stroke-width="1.0" stroke-dasharray="7.1 3.0" fill="none"/>
<path d="M846.60 341.12V410.95" stroke="#10a010" stroke-width="1.0" stroke-dasharray="7.1 3.0" fill="none"/>
<path d="M775.50 341.12V410.95" stroke="#ff2020" stroke-width="1.1" stroke-dasharray="7.1 3.0" fill="none"/>
<path d="M822.70 341.12V410.95" stroke="#ff2020" stroke-width="1.1" stroke-dasharray="7.1 3.0" fill="none"/>
<path d="M825.10 341.12V410.95" stroke="#3030ff" stroke-width="1.3" stroke-dasharray="1.6 1.5" fill="none"/>
<path d="M826.80 341.12V410.95" stroke="#ff10ff" stroke-width="1.3" stroke-dasharray="1.6 1.5" fill="none"/>
<clipPath id="mc5"><rect x="668.80" y="337.12" width="453.70" height="73.83"/></clipPath>
<g clip-path="url(#mc5)">
<path d="M668.8 351.8l.4 .3 .4-.1 .4-1 .4-.2 .4 1.5 .4 .2 .4 1.5 .4-2.5 .4 1.1 .4-.2 .4-.3 .4-1 .4-.2 .4 3.4 .4-2.3 .4 2.6 .4-1.3 .4-1.3 .4 1.1 .4-1.9 .4 1.1 .4 .6 .4 .3 .4-.8 .4-.4 .4 .9 .4 .3 .4-.4 .4 .2 .4 1.2 .4 .3 .4 0 .4-2.1 .4 .4 .4 .9 .4-.2 .4 1.1 .4-1.6 .4 1 .4-1.5 .4-.2 .4 .3 .4 1.5 .4-3.1 .4 1.2 .4-.6 .4 1 .4 1 .4-.3 .4-.1 .4-1.9 .4 1.7 .4 1.1 .4-1.2 .4 1 .4-2.5 .4 1.4 .4 .7 .4-1.1 .4-1.2 .4-.2 .4 1.8 .4-.4 .4-1 .4 .5 .4-.6 .4 1.8 .4-.6 .4-.1 .4 .3 .4 .6 .4 .6 .4-.8 .4-1.8 .4 2.4 .4-1.2 .4 1.2 .4 1.1 .4-.8 .4-.3 .4-1.3 .4 2.2 .4-1.8 .4 .4 .4 1.3 .4-1.7 .4 1 .4 1 .4-.6 .4 0 .4 1.1 .4-.4 .4-1 .4-.4 .4-.1 .4 .2 .4 1.8 .4-2.5 .4 1.4 .4-1.6 .4 2.1 .4-.3 .4 .9 .4-2.8 .4 1.3 .4 .3 .4-2 .4 .9 .4-.4 .4 1.9 .4-2.1 .4 .4 .4 .4 .4 .3 .4-1.1 .4-.4 .4 .6 .4 .9 .4 .1 .4 .4 .4-1.4 .4 1.9 .4-3.6 .4-.5 .4 1.8 .4-.3 .4 .4 .4 0 .4 .2 .4 .6 .4-2 .4 .8 .4-.4 .4-.4 .4-.2 .4 1.1 .4-2.6 .4 1 .4 .9 .4-1.7 .4 .1 .4-.4 .4-.2 .4-1.5 .4 2.7 .4-1.7 .4 1 .4-.2 .4-.7 .4 .1 .4-.4 .4 1.2 .4-1.7 .4 .6 .4 1 .4-2 .4 1.7 .4-2.1 .4 1.6 .4 .7 .4-1.7 .4-.6 .4 .4 .4 1.9 .4 .2 .4-.9 .4 0 .4 .2 .4 .7 .4 .4 .4 .1 .4-.6 .4-.5 .4-.4 .4 4 .4-1.7 .4 .1 .4-.9 .4 1.3 .4 .3 .4 0 .4-.1 .4 .3 .4-.2 .4-.9 .4 1 .4-1.6 .4-1.2 .4 4 .4-2.6 .4 .2 .4 2.3 .4-1.3 .4-.5 .4-.6 .4 1.1 .4-1.8 .4 1.6 .4 .1 .4-1.1 .4-2.2 .4 5.6 .4-2.6 .4 .4 .4 1 .4-.3 .4 2.1 .4-.8 .4-.8 .4 1 .4-.5 .4 1.4 .4-1.8 .4 1.7 .4-.2 .4 1.2 .4-.2 .4-.2 .4-1.8 .4 1.1 .4 3.4 .4-.7 .4-1.2 .4 1.4 .4-.9 .4 .8 .4-1.7 .4 1.5 .4-1.6 .4 .5 .4 1.2 .4-2.2 .4-.2 .4 1.2 .4 .2 .4 .3 .4-3.3 .4 .8 .4-.1 .4 2.1 .4 .8 .4-1.8 .4 .1 .4 1.7 .4-1.3 .4-.9 .4 1.6 .4-3.1 .4 .7 .4 3.1 .4-1.5 .4-1.9 .4 1.2 .4-.9 .4 .8 .4-.4 .4 .1 .4-.6 .4-.6 .4 .2 .4 .7 .4-.2 .4-.5 .4 0 .4 .4 .4 .7 .4 .4 .4-1.6 .4 .1 .4-2 .4 .7 .4 1.2 .4-.2 .4-.8 .4 .4 .4-1.9 .4 2.8 .4-3.8 .4 2.9 .4-1.5 .4-.9 .4 0 .4-.1 .4 1.3 .4-.1 .4-2.7 .4 1.4 .4-.9 .4 .9 .4 1 .4-1.2 .4 .1 .4 .6 .4 .6 .4 .8 .4-.6 .4-.4 .4 .3 .4 1.4 .4 1.4 .4-1.2 .4 .9 .4-2.3 .4 1.7 .4 2.3 .4-1.4 .4 .9 .4-.2 .4-.6 .4 .2 .4 .2 .4-.4 .4 1.4 .4 .8 .4-1.8 .4 .7 .4-.8 .4 1.3 .4 .7 .4 .1 .4-1 .4 1.8 .4-1.9 .4 .3 .4 1.9 .4-1.1 .4-.1 .4 1 .4 .4 .4 2.2 .4-2.1 .4-3.1 .4 3.2 .4-.6 .4 1.5 .4-3.1 .4 3.1 .4-2.6 .4 3.3 .4-1.9 .4 .7 .4-1 .4-.7 .4 1.3 .4 2.8 .4-2.4 .4-.3 .4-.1 .4 2.7 .4-.9 .4-1 .4-.1 .4-1.2 .4 1.3 .4-.4 .4-1.1 .4 0 .4 1.8 .4-.5 .4-1 .4 1.1 .4-1.1 .4-1.3 .4 .2 .4-.2 .4 1.5 .4-.2 .4 0 .4-1.5 .4 .8 .4 1.9 .4-4.1 .4 2.3 .4-1.8 .4 .5 .4 .8 .4-2.4 .4-1 .4 1 .4-.6 .4-.6 .4 2.5 .4-1 .4 .1 .4-1.1 .4 .5 .4-2.6 .4 5 .4-3 .4-1.3 .4-.1 .4-.7 .4-1.7 .4 1.5 .4 .6 .4-.1 .4-1.1 .4 .8 .4-1.1 .4 1.5 .4-2.5 .4 2.1 .4 .2 .4-.4 .4-.8 .4 2.2 .4-1.2 .4 .8 .4 .4 .4-1.6 .4 .8 .4-1 .4 .8 .4-1.4 .4 1.3 .4 2.1 .4-.7 .4-2.3 .4 0 .4 .9 .4 1.9 .4-2.4 .4-.9 .4 1.8 .4 .1 .4-1 .4 1.1 .4 .7 .4-2.6 .4 1.5 .4-1.1 .4-.4 .4-1.2 .4 1.6 .4-1.1 .4-.6 .4 1.9 .4-1.9 .4-1.4 .4 1.1 .4 .1 .4-.7 .4-.3 .4 .6 .4 1.8 .4-4.4 .4-.1 .4 3.3 .4-1.4 .4 1.2 .4-1 .4 .8 .4-2.2 .4 2.4 .4-1.3 .4 1.1 .4 2.7 .4-.4 .4-2.4 .4 .5 .4 .5 .4-.5 .4-.6 .4 2 .4 .2 .4 .3 .4-.7 .4-.7 .4 1.4 .4 0 .4 0 .4 1.6 .4-.2 .4 2.4 .4-3.1 .4 1.9 .4 .9 .4-.5 .4-3 .4 3.7 .4-1.2 .4 1.4 .4 0 .4-.8 .4 1.5 .4 .8 .4-.6 .4-1.3 .4 2.6 .4-.2 .4-2 .4 .8 .4-2.1 .4 1.9 .4-.3 .4 1.1 .4-1.5 .4 .7 .4 1.6 .4-1.6 .4-.2 .4 2.8 .4-1.7 .4 1.9 .4-1.8 .4 1.9 .4-2.5 .4-.6 .4 1.8 .4-.5 .4 .4 .4-.1 .4-.3 .4 2.5 .4-1.7 .4-2.4 .4 2.3 .4 .6 .4 1 .4-1.6 .4-.3 .4 .8 .4-.1 .4 .9 .4-.1 .4 2.1 .4-3.1 .4 1.6 .4-1.7 .4 .5 .4 1.3 .4-1.3 .4 2.3 .4-2.8 .4 1.1 .4 1.4 .4 1.2 .4-1.9 .4 .5 .4-.1 .4 1.3 .4 .7 .4 1.3 .4-4 .4 .9 .4 .1 .4 1.4 .4 0 .4 1.1 .4-.4 .4 .1 .4-.2 .4-.7 .4 1 .4-1.9 .4 1.8 .4-1.1 .4-.8 .4-.2 .4 .4 .4-.5 .4-1.9 .4 1.6 .4 .3 .4-.1 .4-.2 .4 1.7 .4-.9 .4-4 .4 1.8 .4 3 .4-.6 .4-2.3 .4-.8 .4 2.3 .4-3.6 .4 1 .4 .2 .4-1.6 .4 2.5 .4-1.4 .4-1.6 .4 1.2 .4-1.3 .4 .7 .4 .5 .4-.4 .4 .1 .4-.1 .4-1.1 .4 .1 .4 1 .4-1.8 .4 .2 .4-.3 .4 1.4 .4-1.2 .4 1.2 .4-.5 .4-1.2 .4 .7 .4-2.1 .4 2.8 .4 .1 .4 .7 .4-1 .4-.6 .4-2.5 .4 2.7 .4-1 .4 .4 .4 .4 .4-.7 .4-1.4 .4 .9 .4 0 .4 .7 .4-1.4 .4 2.2 .4-3.2 .4 2.8 .4-1.7 .4 .3 .4 .9 .4 .3 .4-.6 .4-.3 .4-.5 .4 .7 .4-.6 .4-1.7 .4 2.5 .4-.3 .4-1.3 .4-.3 .4-.7 .4 2.3 .4-1.9 .4 .2 .4 .9 .4-.4 .4 .3 .4-.9 .4-.1 .4 .6 .4 0 .4 .5 .4 3.6 .4-2.8 .4-1.6 .4 1.3 .4 .7 .4-.9 .4 1.5 .4 .7 .4 1.3 .4-3.6 .4 2.3 .4-2 .4 2.7 .4 .2 .4-1.9 .4 .8 .4 .1 .4 3.1 .4-1.4 .4-.3 .4-.9 .4-.1 .4 2.3 .4-.1 .4-3.3 .4 3.4 .4-1.6 .4 .3 .4-1 .4 1.3 .4-1.1 .4-.4 .4 0 .4-1 .4-.4 .4 1.6 .4 1 .4-3 .4 .6 .4 1.7 .4-2.4 .4 .9 .4 .4 .4-2.5 .4-.5 .4 1.1 .4 .4 .4-.3 .4-1 .4 1.1 .4-1.1 .4-1.6 .4 2.7 .4-.4 .4 .6 .4-1.4 .4 .1 .4-.1 .4-3.5 .4 2.7 .4-.2 .4-2.2 .4 1.7 .4-1.3 .4-.6 .4 .3 .4-2 .4 1.9 .4-.9 .4-.3 .4 1.8 .4-.8 .4-1.9 .4 .4 .4-.1 .4-1.1 .4 .6 .4 1.1 .4-.3 .4-1.3 .4 2.2 .4-.4 .4 .3 .4-.8 .4 0 .4-.4 .4 .4 .4 1.1 .4-2.2 .4 1.4 .4-.8 .4 2.7 .4-2 .4 1.2 .4-1.7 .4 1.2 .4-1.9 .4 1.7 .4 .5 .4-.1 .4-.1 .4 2.4 .4-2.7 .4 .4 .4-.5 .4 2 .4-1.1 .4 .6 .4-.6 .4-3.3 .4-.9 .4-.2 .4 .7 .4-4.3 .4 2.4 .4 1.2 .4 1.2 .4 3.6 .4 1.5 .4 1.3 .4-2 .4-.7 .4 4 .4-3.9 .4 1.6 .4 1.1 .4-1.1 .4 1.8 .4-1.2 .4 .5 .4 .1 .4 .6 .4-1.1 .4 .4 .4 .9 .4-.7 .4 .9 .4 1.4 .4-.2 .4-.6 .4-1.2 .4 .4 .4 2.2 .4-.9 .4 .1 .4-1.8 .4 .7 .4-2.3 .4 1.2 .4-1.9 .4 2.4 .4 .1 .4-1.5 .4 1.7 .4-1.1 .4-1.1 .4 1.3 .4 .1 .4-1.1 .4 .9 .4-2.7 .4 1.2 .4-.3 .4-1.9 .4 1.3 .4-.8 .4-.6 .4-.1 .4 1.2 .4-.5 .4-.1 .4-.7 .4 0 .4-.6 .4 .3 .4 .5 .4-1.2 .4 1.9 .4-1.7 .4 .8 .4-.3 .4-1.8 .4 0 .4 2.9 .4-3.1 .4 1.2 .4-1.7 .4-.8 .4 1.6 .4-1 .4-.9 .4 1.8 .4-3.4 .4 2.1 .4 .7 .4-.2 .4-1.4 .4 2.4 .4-1.2 .4-.2 .4 2.6 .4-.5 .4-.9 .4 1.4 .4-.3 .4-.8 .4 1.5 .4-.3 .4-.3 .4 .5 .4-1.3 .4 .7 .4-.3 .4 2.9 .4-2.7 .4 1.7 .4 1.4 .4 .3 .4-.6 .4 .2 .4-2.9 .4 2.5 .4-2.3 .4 4.2 .4-.7 .4-.2 .4-.9 .4 3.1 .4-1.9 .4 0 .4 1.9 .4-2.2 .4 .8 .4 1.4 .4-.4 .4 .1 .4-.2 .4 1.5 .4-1.9 .4 1.9 .4 .3 .4 .9 .4 0 .4-1.9 .4 1.4 .4-.5 .4-.7 .4 1.5 .4-2.2 .4 2.8 .4 .9 .4 .3 .4-.4 .4-.7 .4-1.6 .4 2.6 .4-.4 .4 .3 .4-.9 .4 1 .4 .4 .4 0 .4-2.2 .4 3.9 .4 .3 .4-.6 .4-.7 .4-.3 .4-.2 .4 1.7 .4 1.3 .4-1.7 .4 2.1 .4-1.7 .4 .2 .4 .9 .4 .2 .4-1.6 .4 2.1 .4-1.3 .4 .5 .4-.5 .4-.7 .4-.4 .4-.2 .4-.7 .4-1.2 .4 1.6 .4-2 .4 1.9 .4 .4 .4 .1 .4-3.9 .4 1.2 .4 1.6 .4 .1 .4-1.1 .4-.3 .4 0 .4-.6 .4-.9 .4 3 .4-2.4 .4-1.6 .4 2.4 .4 .2 .4-.5 .4-.3 .4-1.7 .4 .4 .4-1.9 .4 .3 .4 3.7 .4-2.3 .4-1.4 .4 1.1 .4-.7 .4 1.1 .4-2.6 .4 1.9 .4-2.3 .4 .1 .4 1.3 .4 .5 .4 .9 .4-3.1 .4 1.9 .4-.2 .4-.1 .4 .6 .4 1 .4-.8 .4 .1 .4-1.2 .4-.1 .4 1.7 .4 1.2 .4-2.2 .4 .9 .4 0 .4-.9 .4 2 .4-1 .4-.7 .4 .4 .4 1.2 .4-.2 .4-.8 .4 .3 .4 .5 .4 0 .4-.3 .4 .1 .4-2.6 .4 .7 .4 2.2 .4-.5 .4 .4 .4-1.8 .4 .7 .4-.2 .4 .1 .4-.8 .4 1.5 .4 0 .4-.7 .4 .8 .4-1 .4 .2 .4-1.3 .4 1.8 .4 .2 .4-.4 .4 1 .4 .1 .4-.5 .4-.8 .4 2.5 .4 .4 .4-1.4 .4 1.4 .4-.1 .4 .8 .4-2 .4 1.7 .4 .5 .4 .3 .4-.9 .4-.8 .4-.5 .4 .2 .4-.8 .4 1.2 .4-.8 .4-.1 .4 .6 .4-.7 .4 .7 .4-1.7 .4-1.1 .4 .2 .4 3 .4-3.1 .4 1.8 .4-1.6 .4-.3 .4-.9 .4 3.7 .4 .9 .4-2.4 .4-.8 .4 2.2 .4 .9 .4-.6 .4-.1 .4 1.2 .4-2.2 .4 1.8 .4-.1 .4 .6 .4-1.3 .4 .4 .4-.7 .4 1.5 .4-1.6 .4 2.7 .4 2.7 .4-2.2 .4-.4 .4 1.3 .4-1.8 .4 1.5 .4 .5 .4-.6 .4 1.9 .4-2.8 .4 1.2 .4-.6 .4-2.5 .4 2.3 .4-.7 .4 1.1 .4 .6 .4 .4 .4-.1 .4-1.9 .4 1.1 .4 0 .4 .2 .4 .6 .4-.6 .4 .5 .4-.1 .4 .7 .4 1 .4-2.1 .4-3.2 .4 3 .4-1 .4 3 .4-.6 .4-.4 .4 .6 .4-1.7 .4 .3 .4 1.1 .4-.8 .4 .2 .4-.7 .4 1.5 .4-1.2 .4 1.8 .4-1.7 .4 2.6 .4-3.2 .4 1.6 .4-.8 .4-.4 .4 1.2 .4-.6 .4 1.9 .4-1.8 .4 0 .4 1.9 .4-.5 .4 .5 .4-2.4" fill="none" stroke="#3030ff" stroke-width="0.75"/>
<path d="M668.8 378.4l.4 .2 .4 .4 .4 1.3 .4-1.2 .4 .2 .4 .6 .4 1.5 .4-1.5 .4 .3 .4 .8 .4 .1 .4 .3 .4-.6 .4-.1 .4-.2 .4 1.4 .4-.3 .4 .6 .4-.1 .4 1.1 .4-.5 .4-.2 .4 0 .4-.3 .4 .1 .4 .2 .4 1.4 .4-1.2 .4-.2 .4 .6 .4 .5 .4-1.4 .4-.8 .4 1.6 .4 1 .4-1.3 .4 1.1 .4-.2 .4 .3 .4-.9 .4 .2 .4 1.5 .4-.6 .4-2.4 .4 2.9 .4 .6 .4-1.7 .4 .9 .4-1.2 .4 .7 .4 0 .4-.5 .4 1.2 .4-.3 .4 .1 .4 .2 .4-2.3 .4 1.9 .4-1.4 .4 .9 .4 .3 .4-.8 .4 .9 .4-1.2 .4 .7 .4 .9 .4-1.4 .4 .8 .4-1.4 .4 1.3 .4-1.6 .4 .5 .4-.6 .4 1.4 .4-1 .4 .2 .4 .5 .4 .4 .4-.3 .4-.7 .4 1.2 .4-.6 .4-.8 .4 1.4 .4-2.2 .4 .5 .4 1 .4-.4 .4-.3 .4-.6 .4-.6 .4 .4 .4 .7 .4-.8 .4-.7 .4 .8 .4 1.8 .4-.9 .4 .9 .4-1.6 .4-.1 .4-.3 .4 1.7 .4-2 .4 .6 .4 .5 .4-1.5 .4 .6 .4-.2 .4 .4 .4 .5 .4-1 .4 .9 .4-.8 .4 .4 .4-.1 .4-.5 .4-.6 .4 .9 .4 0 .4 1.8 .4-.6 .4-.1 .4-1.3 .4 1.4 .4-.3 .4-.7 .4 .9 .4-.8 .4 0 .4-.5 .4-.6 .4 1.4 .4-1.9 .4 1.1 .4-1.3 .4 1 .4-.9 .4 1.3 .4-1.2 .4 0 .4-.3 .4 0 .4-.1 .4 1.4 .4-.9 .4-1 .4 1.7 .4-.9 .4 .4 .4 0 .4-1.6 .4 .3 .4 .5 .4 1.1 .4-.5 .4-2.1 .4 0 .4 2.2 .4-1 .4 .6 .4 .1 .4-2.3 .4 2 .4-.8 .4 0 .4 1.6 .4-1.6 .4-.5 .4-.7 .4 2.4 .4-.8 .4-1.5 .4 1 .4 .1 .4-1.7 .4 1.7 .4-1 .4 1.4 .4-1.4 .4 .3 .4-1.7 .4 .9 .4-.1 .4 2.1 .4-1.7 .4 .3 .4-.9 .4 0 .4 .4 .4 1.6 .4-2.5 .4 1.6 .4-.4 .4-1.2 .4 .2 .4 .1 .4-1.7 .4 .3 .4-.6 .4 .3 .4 .5 .4 1.1 .4-1.2 .4-.3 .4-2.1 .4 2.7 .4-1.5 .4 1.1 .4 0 .4 .6 .4-1.3 .4 .7 .4-.1 .4-.2 .4 1 .4-.8 .4 .2 .4 .8 .4 .5 .4-3.1 .4 2.5 .4 0 .4 2.4 .4-5 .4 3.2 .4 .2 .4-.3 .4 1.4 .4-.8 .4 0 .4-1.5 .4 2.2 .4 .2 .4 1 .4-.9 .4 1.5 .4 .4 .4-1.9 .4 1.6 .4-1.6 .4 0 .4 2 .4 0 .4-.4 .4-.4 .4-.1 .4 1.4 .4-.4 .4 1.3 .4 .2 .4-1.5 .4 .9 .4-.2 .4 .6 .4-.2 .4-.4 .4 .1 .4 .3 .4 .5 .4-1.4 .4 1.3 .4 1.3 .4-.5 .4-.9 .4-.8 .4 2.8 .4-.9 .4 .2 .4-.9 .4-.1 .4-1 .4-.3 .4 .9 .4 .3 .4-.5 .4-.7 .4-.3 .4 .8 .4 .1 .4-.8 .4-.8 .4 1.5 .4-.6 .4-1.7 .4 .4 .4 1.5 .4-1.2 .4-1.1 .4 .9 .4 .1 .4 0 .4-.8 .4-.2 .4 .1 .4 .3 .4-.4 .4 .7 .4-2.9 .4 .9 .4 .5 .4 0 .4 .8 .4-1.1 .4-.7 .4-1.5 .4 1.3 .4-.3 .4 .8 .4-1.1 .4-.1 .4-.7 .4 0 .4 .7 .4-.5 .4-.4 .4 .1 .4 .6 .4 0 .4 .7 .4-1.5 .4 1.4 .4 .7 .4-1.3 .4 .1 .4 1.4 .4-2.7 .4 2 .4-.4 .4 2.3 .4-.3 .4-.2 .4 0 .4 .1 .4 .5 .4-.4 .4 .3 .4-.8 .4-.5 .4 .2 .4 1.6 .4 .1 .4 .6 .4-1.5 .4 2.3 .4-1 .4-.4 .4 2.1 .4-.7 .4-.4 .4 1.6 .4 .2 .4-.4 .4 .9 .4 .8 .4-.8 .4 1.2 .4-.8 .4-.4 .4 1.2 .4 .7 .4-.1 .4-.2 .4 1.1 .4-1.5 .4 .8 .4 .6 .4 .1 .4 .3 .4 .3 .4 1.9 .4-3 .4 1.5 .4 1.8 .4-1.6 .4 .2 .4 .8 .4-.6 .4 .8 .4-.9 .4 .6 .4 .6 .4 0 .4-.3 .4-.5 .4 .4 .4-2.2 .4 1.4 .4 0 .4 0 .4 .9 .4-1.6 .4 0 .4 1.5 .4-1.6 .4-1.1 .4-.5 .4-.6 .4-.3 .4 .3 .4 .3 .4-1.9 .4 .3 .4 .8 .4-2.1 .4 .4 .4 .7 .4-1.5 .4-1.2 .4 1.8 .4-.9 .4 1.2 .4-1.5 .4 .5 .4-.8 .4 .8 .4-1.8 .4 1.1 .4-1.3 .4-.1 .4 1.2 .4-1.7 .4 1.3 .4-2 .4 1.6 .4 .2 .4 0 .4-1.7 .4 .4 .4-2.1 .4 2.7 .4-2.6 .4 1.7 .4-.4 .4-.4 .4 .6 .4-1.3 .4 1.9 .4 .5 .4-1.2 .4-.4 .4-.7 .4 .8 .4-.2 .4-1 .4 1.5 .4-1 .4 .4 .4-.6 .4 1.7 .4-1.4 .4 .2 .4 0 .4 2.2 .4-.9 .4 .1 .4 .6 .4-.8 .4 1.8 .4-.6 .4-1.7 .4 1.9 .4 0 .4-.5 .4 2.2 .4-1 .4 1.2 .4 .5 .4-.2 .4-.5 .4 .4 .4-.2 .4 .4 .4-.6 .4 1.4 .4-1.4 .4 .7 .4 1.2 .4-.1 .4-.3 .4 1 .4-.2 .4-1.5 .4 2.3 .4-1.1 .4 1.5 .4-1.7 .4 .3 .4-.9 .4 1.4 .4-.2 .4-1.8 .4 1.1 .4-1.1 .4 1.7 .4-.4 .4 .2 .4 .2 .4 .2 .4-.6 .4-.2 .4-1.1 .4-.2 .4 .7 .4 .2 .4-.9 .4 .9 .4 .4 .4-.8 .4 0 .4-.1 .4 0 .4-.7 .4-.5 .4-.1 .4-.6 .4-.6 .4 1.1 .4-.3 .4 .6 .4-1.9 .4 1.5 .4-.4 .4 2.1 .4-2.5 .4 1.6 .4-2.1 .4 1.1 .4-.8 .4 .4 .4-.8 .4 .1 .4 1 .4 .3 .4-.1 .4-.7 .4 .7 .4-.3 .4-1.3 .4 1.7 .4-1.3 .4 .4 .4 .2 .4-.1 .4 .3 .4-.7 .4-.4 .4 1.5 .4-1.1 .4 1.6 .4-.1 .4 .1 .4-1 .4-1.8 .4 1.9 .4 .2 .4-.7 .4 1.2 .4-.4 .4-1 .4 1.9 .4-2.2 .4 2.1 .4-2.6 .4 1.1 .4-.8 .4 .8 .4-1.2 .4 .7 .4 .1 .4 .1 .4 1.3 .4-2.6 .4 .6 .4-.2 .4 2.3 .4-1.8 .4-.8 .4 .1 .4 1 .4-.9 .4-.3 .4 .8 .4-1.4 .4 1.4 .4-.4 .4 .4 .4-.2 .4-.2 .4-.9 .4 .2 .4 .1 .4-.1 .4-.9 .4 1.3 .4 0 .4-1.9 .4 1.2 .4 .8 .4 0 .4-1.4 .4 1.1 .4-1.2 .4 .3 .4 1.3 .4-1.1 .4-1.5 .4 1.9 .4-.4 .4-1.1 .4 1.2 .4-.7 .4 2.2 .4-3 .4 .7 .4 .6 .4-.4 .4-1.1 .4 2.5 .4-1.9 .4 .6 .4-.8 .4 .3 .4-.3 .4 0 .4 0 .4 .7 .4-.7 .4-.5 .4 .4 .4 1.2 .4-3 .4 1.2 .4 .4 .4 1 .4-1.1 .4-.8 .4 .5 .4 1 .4 .4 .4-1.6 .4 .6 .4 .9 .4-.6 .4-.9 .4 .8 .4-.2 .4 .3 .4-.3 .4 .8 .4-1.6 .4 2.4 .4-.8 .4-.8 .4 .4 .4-.7 .4 1.4 .4-1.1 .4-.2 .4 .3 .4 .5 .4 .7 .4 .3 .4-1.9 .4 1.3 .4-.7 .4 .1 .4 1.4 .4-.9 .4 0 .4-.5 .4 .9 .4 .7 .4-1.6 .4 .8 .4-2.8 .4 2.2 .4 .2 .4 .8 .4 .6 .4 0 .4 .8 .4-1.2 .4 1.5 .4 0 .4-.1 .4 2.8 .4-1.1 .4-.3 .4 2.6 .4-2.2 .4 2.3 .4-2 .4 .9 .4-.6 .4-.9 .4 .2 .4 1 .4 .8 .4-1.6 .4 1 .4-2.2 .4 1.4 .4 .1 .4 .6 .4 .6 .4-.5 .4 0 .4-.6 .4-.5 .4 1.2 .4 .5 .4-1.5 .4 2.3 .4-.7 .4-1.2 .4 1.1 .4-.1 .4-.2 .4-1 .4 .4 .4 .6 .4-.6 .4 1.2 .4-1.7 .4 .7 .4 .5 .4-.6 .4-.2 .4 .1 .4 .6 .4-1.7 .4 1.2 .4-.1 .4-1.9 .4 .1 .4 .5 .4-1.8 .4 1.2 .4-.5 .4-.7 .4 .7 .4 .4 .4-1.1 .4-.1 .4 .7 .4-1 .4 .7 .4-.3 .4-.3 .4-.5 .4 1.3 .4-2.1 .4 .6 .4-2.2 .4 2.4 .4-1 .4-1 .4 .3 .4 .3 .4-.2 .4 .6 .4 .1 .4-1.4 .4 .9 .4-.6 .4 .2 .4 .2 .4 .5 .4-.7 .4 1.5 .4-2.3 .4 .5 .4-.1 .4 .4 .4 1.7 .4-1 .4-1.3 .4 .6 .4 .5 .4-.4 .4-.8 .4 1.2 .4-1.9 .4 .3 .4 2.1 .4-.3 .4 0 .4 .1 .4-2.4 .4 3.8 .4-.6 .4-.5 .4 .4 .4-.5 .4 1.4 .4-.1 .4-1.2 .4 .7 .4 .4 .4-.6 .4 0 .4 .5 .4 1.2 .4 .3 .4-.7 .4-.2 .4 .4 .4 1.3 .4-1.9 .4 2.4 .4-1 .4 .1 .4-.1 .4 .9 .4-.8 .4-.2 .4 1.5 .4-.1 .4-.3 .4-.2 .4 .7 .4-.5 .4-1.8 .4 1.3 .4-.6 .4 0 .4 1.2 .4-1.2 .4-.8 .4 .5 .4 .2 .4 1.4 .4-2.6 .4 0 .4-.3 .4-.2 .4 1.3 .4-.5 .4-1.2 .4 .5 .4-1.1 .4 .7 .4-.5 .4 .8 .4-1.7 .4-.2 .4 .3 .4-1.1 .4 .4 .4 1.3 .4-.9 .4 .5 .4-1.4 .4 .8 .4-1 .4 1.5 .4-.7 .4-1.4 .4 1.2 .4-1.3 .4 1.9 .4 .1 .4-1.4 .4 .8 .4-.5 .4-1.4 .4 2.5 .4-1.9 .4-.8 .4-.3 .4 1.7 .4-1.2 .4 .7 .4 .7 .4 .2 .4-.4 .4-.2 .4-.4 .4-.1 .4 .6 .4-.2 .4 .9 .4-2.6 .4 2 .4 0 .4-.1 .4 .1 .4-.2 .4-.5 .4 1.4 .4-.9 .4 .2 .4 1.6 .4-1 .4 .2 .4 .3 .4 1 .4 .5 .4-2.3 .4 2.4 .4-.8 .4 .8 .4-.4 .4 1.1 .4 .2 .4 .9 .4-.3 .4-1 .4 .1 .4-.6 .4 1.2 .4 .3 .4-.3 .4 1.4 .4-.6 .4-.1 .4 1.4 .4-.1 .4-.3 .4-.2 .4 .6 .4-1.4 .4 1.9 .4 .5 .4-1.3 .4 .6 .4 0 .4-.5 .4-.5 .4 .6 .4 .9 .4-.1 .4-1.1 .4 2 .4-.7 .4-.2 .4 .4 .4-.5 .4 1.3 .4-1.4 .4 .2 .4-.7 .4 1.7 .4-1.6 .4 1.1 .4-.1 .4-.9 .4 .7 .4 .3 .4 .3 .4-.8 .4 .6 .4-.8 .4 .4 .4-1.3 .4 1.6 .4 .6 .4-.1 .4 .4 .4-2.5 .4 1.5 .4 .6 .4-2 .4-.1 .4 2.2 .4-.9 .4-.2 .4-.2 .4 .2 .4-.1 .4-1.1 .4 1.5 .4-1.8 .4 .6 .4-.5 .4-.2 .4 2.4 .4-.5 .4-.6 .4-2.2 .4 1.4 .4-.3 .4 .1 .4 .4 .4-.2 .4-2 .4 1 .4-.4 .4-.3 .4-.9 .4 .3 .4 1.2 .4-2 .4 1.2 .4-.6 .4-.5 .4 .2 .4-.9 .4 .1 .4-.2 .4 .4 .4 .4 .4-.4 .4 .5 .4 0 .4-1 .4 1.2 .4-1.9 .4 .8 .4 .2 .4-1.5 .4 .8 .4 .8 .4-.4 .4 1.4 .4-.9 .4-.2 .4 1.4 .4-2.7 .4 1.9 .4 .2 .4-1.7 .4-1 .4 1.9 .4-.3 .4-.1 .4-.1 .4 .2 .4 .1 .4-.2 .4-.8 .4 .2 .4-.3 .4 .6 .4-.2 .4 1.2 .4 .6 .4-2 .4 .7 .4-1.6 .4-.2 .4 2 .4-.4 .4 .3 .4 .7 .4-.8 .4-.8 .4-1.2 .4-.1 .4 2.2 .4-1.1 .4-.2 .4 1.6 .4-1.1 .4 .9 .4-1.3 .4 .7 .4 .7 .4-.8 .4-.6 .4-.6 .4 1.4 .4-1.3 .4-.9 .4 .8 .4 1.9 .4-.5 .4 .1 .4 0 .4-.6 .4 .4 .4 .3 .4 .6 .4-1.5 .4-.1 .4 1.1 .4-.9 .4 1.5 .4-2.2 .4 2.6 .4-1.9 .4 .5 .4 1.6 .4-2.6 .4 1.1 .4-.2 .4-.3 .4 .8 .4-.7 .4 0 .4 .5 .4-.2 .4 1.7 .4-.5 .4-.7 .4-1.6 .4 .9 .4 .4 .4 2.2 .4-2.1 .4 1.1 .4-2.4 .4 1.4 .4 .1 .4-.6 .4 .1 .4 1.5 .4 .1 .4-.2 .4 .1 .4-.7 .4 2.3 .4-.8 .4-.7 .4-.3 .4 1.1 .4-1 .4 .2 .4 1.1 .4-1.4 .4 2.3 .4 .4 .4-1.5 .4 0 .4 .6 .4 .9 .4 .1 .4 .9 .4 .1 .4 .5 .4 .4 .4-.1 .4 1.1" fill="none" stroke="#40f040" stroke-width="0.75"/>
<path d="M668.8 395.6l.4 1.3 .4 0 .4 .5 .4-1.2 .4 1.9 .4-.7 .4-.9 .4-.1 .4 .1 .4 .4 .4 1.5 .4-.2 .4-1.1 .4 0 .4 1.8 .4-.8 .4-1.5 .4 .3 .4-.5 .4 .1 .4 .1 .4-1.3 .4 .1 .4-.3 .4-.3 .4-1.5 .4-.1 .4 1.2 .4-2 .4-.2 .4 0 .4-1 .4-.1 .4 1.5 .4-.4 .4-1.8 .4 .9 .4-1 .4-.2 .4 1.2 .4 1.1 .4-1.2 .4 1.2 .4-1.9 .4 .9 .4-.1 .4 0 .4 .7 .4-.3 .4-.8 .4-.6 .4 .6 .4 .4 .4-.4 .4-.8 .4-.2 .4 2 .4-.3 .4-.6 .4 1 .4 .2 .4-.3 .4 0 .4 1.4 .4 .1 .4 .6 .4 0 .4-.3 .4-.3 .4 .3 .4 0 .4 .7 .4 .3 .4 .8 .4 .3 .4-1 .4 .3 .4-1.2 .4 .4 .4-.4 .4 .9 .4-.5 .4-.2 .4 .5 .4-1.5 .4 1.3 .4 .4 .4 .5 .4-1.9 .4 .5 .4-1.3 .4 2.4 .4-1.2 .4 .3 .4-1.4 .4 .9 .4-.4 .4-.5 .4-.1 .4 .2 .4 0 .4-.8 .4 2.3 .4-1.1 .4 .1 .4-.1 .4-.3 .4 0 .4 .4 .4-.6 .4 1.1 .4-1.2 .4 1 .4-1.6 .4 .8 .4 .3 .4 .4 .4 0 .4-1.8 .4 .2 .4 1.6 .4-1.5 .4-.8 .4 1.9 .4-.4 .4-1.4 .4 .5 .4 1.4 .4-1.3 .4-.1 .4 .1 .4 1.3 .4-2.2 .4 1.5 .4-.2 .4 .2 .4 .2 .4-.5 .4 .4 .4-.1 .4 .7 .4-2.7 .4 1.6 .4 .2 .4-1.1 .4 2 .4-.6 .4-1.6 .4 1 .4 .8 .4-.5 .4-.6 .4 1 .4-.2 .4-.9 .4 .5 .4 1.1 .4 0 .4-1.6 .4 .3 .4 1.5 .4-.6 .4-.4 .4-.2 .4 .4 .4 .5 .4-2.3 .4 2.3 .4-1.2 .4-.3 .4 .5 .4-.2 .4 .1 .4 .8 .4-.3 .4 1 .4-1.8 .4 1.8 .4-1.4 .4 1 .4-.3 .4 1 .4-1.5 .4 1 .4 1.1 .4-.1 .4-1 .4 .9 .4 .4 .4-.3 .4 .8 .4 .1 .4-2.2 .4 2.4 .4 2.5 .4-2.6 .4 .3 .4 .5 .4-.3 .4 .6 .4 .4 .4 1.7 .4-1.4 .4 .7 .4-.5 .4-.5 .4 .3 .4-.4 .4 1.9 .4-1.3 .4-.9 .4 1.1 .4 1.5 .4-1.4 .4-.2 .4 .2 .4-.5 .4-.6 .4 1.7 .4-3.5 .4 2.1 .4-.3 .4 .4 .4-.4 .4 1.3 .4 .3 .4-1.1 .4-1.2 .4 .4 .4 .2 .4-.5 .4-.3 .4 2.2 .4-.7 .4-1.6 .4 0 .4 .5 .4-.7 .4 .8 .4 0 .4-.8 .4-.9 .4 .3 .4-1.2 .4 .7 .4 1.5 .4-2 .4 .8 .4 .2 .4 .2 .4-2.3 .4 .7 .4-.3 .4 1.3 .4-.2 .4-1.7 .4 .4 .4 .6 .4 1.2 .4-1.8 .4 1.1 .4-1.5 .4-.4 .4 1.5 .4-1.2 .4-.6 .4 2.1 .4-.5 .4-1.5 .4 1.6 .4-.3 .4 .1 .4-1.3 .4 .5 .4-1.3 .4 0 .4 2.3 .4-1 .4 .6 .4-.3 .4-.2 .4 .1 .4 .9 .4-.5 .4-.9 .4 2.1 .4 .3 .4-.4 .4 .7 .4-.9 .4 0 .4 1 .4-.4 .4-1.1 .4 .8 .4 .4 .4 1.8 .4-1.4 .4-.3 .4 .1 .4 1 .4 0 .4 .7 .4-.3 .4-.2 .4 1.4 .4 .7 .4 .1 .4-1 .4 1 .4 1 .4-.3 .4-.6 .4 .2 .4 0 .4 .6 .4-.3 .4 .6 .4-.1 .4 0 .4 .6 .4 .1 .4-.9 .4 .1 .4 .9 .4-.8 .4-.7 .4 .5 .4-.3 .4 .7 .4 .1 .4 1 .4-.7 .4 .1 .4 .6 .4-.5 .4-1.3 .4 .6 .4-.5 .4 .3 .4 1 .4 1.2 .4-1.5 .4-.5 .4-.8 .4 .7 .4 .9 .4-1.8 .4 .9 .4 .2 .4 .1 .4 1 .4-1.8 .4 .1 .4-1 .4 .4 .4-.4 .4 .7 .4 .2 .4 .1 .4 .1 .4-1 .4-.5 .4 0 .4 .5 .4-.2 .4-.6 .4 1.1 .4-1.1 .4 .7 .4-.4 .4 .6 .4 .1 .4-1.1 .4 .9 .4 1.2 .4-1.2 .4-1.2 .4 2.4 .4-2.3 .4 1.2 .4-1.4 .4 1.4 .4-.7 .4 .5 .4-.2 .4-1.2 .4 0 .4 .7 .4 1.5 .4-.2 .4 .9 .4 .2 .4 .7 .4-1.7 .4 .1 .4 .3 .4 2.2 .4-1.1 .4 .8 .4 1.5 .4-1.5 .4 .1 .4-.1 .4 1.6 .4 .2 .4-.5 .4-.2 .4 .4 .4 .5 .4 .7 .4-1.3 .4 .3 .4 1.4 .4 .1 .4-.4 .4 0 .4 .9 .4-.5 .4-1.3 .4 .6 .4 1.4 .4-.6 .4 .5 .4-1.6 .4 2.1 .4-.7 .4-.3 .4 .2 .4-.4 .4 0 .4-1.6 .4 .9 .4 1.5 .4-1 .4-.6 .4 .9 .4 .7 .4-1.3 .4 .6 .4-1.2 .4-1 .4 2.4 .4-1.8 .4 1 .4 .1 .4 .4 .4-1.8 .4 1.1 .4-1.6 .4-.5 .4-.2 .4 1.3 .4-1.4 .4 3 .4-1.2 .4-.2 .4-.6 .4 .4 .4-1.2 .4-.5 .4 0 .4 1 .4-.5 .4 .1 .4-1.4 .4 1.5 .4 .3 .4-.8 .4-2.1 .4 1.2 .4 .3 .4 .7 .4-.8 .4 .3 .4-1.4 .4 .1 .4-.1 .4 1.4 .4-2.5 .4 .9 .4-1.2 .4 2.4 .4-.8 .4-1.3 .4 1 .4-.2 .4-.9 .4 .3 .4-.6 .4-.1 .4-1.3 .4 .5 .4 1.1 .4-.6 .4 1.4 .4-.7 .4-.8 .4-1.9 .4 1 .4 .5 .4 1.3 .4-1.1 .4-1.4 .4 1.7 .4 .2 .4 .2 .4 .1 .4-1.7 .4 .7 .4 .4 .4 .4 .4-1.1 .4 1.2 .4 0 .4-2.3 .4 2.2 .4-.2 .4-.6 .4 .2 .4 .7 .4 1 .4-.9 .4-1.5 .4 .9 .4 .4 .4-1.8 .4 1.9 .4-.5 .4 .2 .4-.5 .4 1.2 .4-1.1 .4 0 .4 1 .4 .6 .4-1 .4 .2 .4 .9 .4-.2 .4-.3 .4 .8 .4-.1 .4-1.4 .4 0 .4 2.1 .4-1.9 .4-.9 .4 1.2 .4 .4 .4 .5 .4 .8 .4-1.5 .4-1.5 .4 1.1 .4 .9 .4 .6 .4-1.3 .4-.6 .4 .3 .4-.8 .4 .1 .4 2.5 .4-.6 .4-1.8 .4-.5 .4 1.4 .4-.2 .4-.2 .4-2 .4 1.3 .4-.7 .4 1.4 .4-3 .4 2.5 .4-1.1 .4 1 .4-1.2 .4 1.2 .4-1.2 .4-.3 .4 0 .4 1.4 .4-1.7 .4 .7 .4 .4 .4-1.5 .4 .9 .4-.3 .4 1.4 .4-1.6 .4 .9 .4-1.2 .4-.1 .4 1.7 .4 .3 .4 .1 .4-2.5 .4 3.5 .4-.7 .4 .2 .4 1.6 .4-.8 .4-.4 .4-.7 .4 .9 .4 1 .4-2.1 .4 1.9 .4-.5 .4 0 .4 1.4 .4-.7 .4-.9 .4 .5 .4 1.2 .4 .3 .4-1.8 .4 .8 .4 1.1 .4 .9 .4-.5 .4-.8 .4 1.1 .4-1.1 .4 1 .4-.2 .4 1.1 .4 .2 .4 .3 .4-.9 .4-.1 .4 .4 .4 1.5 .4-1.5 .4 .2 .4-.1 .4-.8 .4 1.5 .4-.1 .4-.3 .4-.5 .4 .2 .4 0 .4-.8 .4 .9 .4 1.2 .4-.4 .4-.6 .4 .9 .4-.7 .4-.3 .4 .6 .4 .2 .4 1.2 .4-1.2 .4-.1 .4 .5 .4-1.4 .4 2 .4 .4 .4-1.4 .4-.3 .4 .6 .4 .1 .4-.8 .4-.6 .4 1.1 .4-.4 .4 1.6 .4-1.2 .4 .1 .4 .1 .4-.9 .4 0 .4 2.1 .4-.5 .4-2.1 .4 1 .4-.7 .4 .6 .4 0 .4-1.3 .4 .8 .4-1.3 .4 .4 .4 .7 .4-1 .4-.5 .4 .7 .4-1.7 .4 .7 .4-.8 .4-1.2 .4 1 .4 .2 .4-1.9 .4 0 .4 1.3 .4 .1 .4-.1 .4 1.3 .4 1.1 .4-2.6 .4 .4 .4-.7 .4 1.3 .4-2.4 .4 2.4 .4-2.3 .4 1.7 .4 0 .4-1.1 .4 .9 .4 1 .4-1.2 .4 .2 .4-1.1 .4 .6 .4-.9 .4 2.3 .4-1.3 .4 .9 .4 0 .4-1 .4 .7 .4 .4 .4 .2 .4-3.2 .4 3.3 .4-.1 .4-.8 .4-.2 .4 .3 .4 .7 .4-2 .4 3 .4-2.1 .4 2.9 .4-1.3 .4 .8 .4-.4 .4-.4 .4-.4 .4 .7 .4 1.5 .4-.8 .4 .5 .4 .2 .4-.3 .4 .4 .4 1.7 .4 .2 .4 1.2 .4-2.7 .4 0 .4 1.1 .4-1.1 .4 1.5 .4 1.1 .4-.8 .4-.4 .4-1.1 .4 1.6 .4-.7 .4 1.2 .4 0 .4-1.7 .4 .7 .4 .5 .4 1 .4 .5 .4-1.5 .4 .6 .4 .9 .4-1.5 .4 .6 .4 .1 .4 .1 .4 1.6 .4-.8 .4-1.4 .4 2.2 .4-1.2 .4 0 .4 1.1 .4-1.1 .4-.8 .4-.1 .4 .4 .4 .6 .4-.1 .4-1 .4-.8 .4 1.3 .4-1.9 .4 .9 .4 .6 .4-1.5 .4 .5 .4-.6 .4 0 .4 .1 .4 .7 .4-1 .4-.1 .4 1.6 .4-.1 .4-.2 .4-.9 .4 .1 .4 .3 .4-.2 .4 0 .4 .8 .4 .7 .4-1.3 .4-.4 .4 .5 .4-.4 .4-.4 .4 .8 .4-.5 .4 1.2 .4-.6 .4 0 .4-.7 .4 1.3 .4 .2 .4-.6 .4-.8 .4 .6 .4-2.3 .4 2.5 .4 .4 .4-1.6 .4 1.4 .4-1.1 .4 .6 .4 0 .4 1.7 .4-.6 .4-.3 .4 .2 .4 2 .4-1.8 .4 .4 .4-1.9 .4 2.9 .4-.7 .4-.4 .4 .4 .4 .8 .4-.1 .4-.8 .4 1 .4-.1 .4-.2 .4 2 .4-1 .4-1.4 .4 1.2 .4 0 .4 .4 .4-.8 .4-.8 .4 .5 .4 2.3 .4 .5 .4-2.1 .4-1.7 .4 1.2 .4 1 .4 .6 .4-.3 .4 .3 .4-.3 .4-.5 .4-.2 .4-.5 .4-.7 .4 .8 .4 .3 .4 .9 .4-1.9 .4 2.3 .4-2.1 .4 2.3 .4-1.7 .4 .9 .4-.5 .4 .2 .4-.7 .4 .9 .4-.5 .4 .8 .4-.5 .4-.2 .4-.9 .4 1.2 .4-1.8 .4 1.8 .4-.1 .4 .7 .4-1.9 .4 1.9 .4-.8 .4 .6 .4-.7 .4 .2 .4 1 .4-1.4 .4 .6 .4-.8 .4 .2 .4 .7 .4-1.2 .4 0 .4 .8 .4-.7 .4-.9 .4 .2 .4-.9 .4 .2 .4-.7 .4 1 .4 0 .4-1.8 .4 2 .4-.6 .4-.9 .4-.2 .4-.2 .4 .4 .4 .1 .4 .7 .4 1.1 .4-1.6 .4 .3 .4-1.4 .4 .9 .4 .6 .4-.2 .4-1.3 .4 1.9 .4-.5 .4-1.4 .4 1.6 .4-1.2 .4-.3 .4 .2 .4 .7 .4 1.3 .4-.6 .4-.8 .4 1.5 .4-.8 .4 .5 .4-1.8 .4 1.5 .4-.5 .4-.8 .4 1.5 .4-.4 .4 .1 .4-.5 .4-.5 .4 1.7 .4-.9 .4 .6 .4-.5 .4 .1 .4-.7 .4 .7 .4-.3 .4-.4 .4 .2 .4 .3 .4 .1 .4-.4 .4-.8 .4 1.1 .4-.8 .4-1.5 .4 .7 .4 1.2 .4-.7 .4 .6 .4 0 .4 1 .4-.9 .4-3.3 .4 2 .4-1.1 .4 1.6 .4-.1 .4 .7 .4-.1 .4 .2 .4-1.1 .4-.2 .4 .8 .4-.5 .4-.1 .4 1.5 .4-1.2 .4 .1 .4 .6 .4-.4 .4 1 .4 .3 .4-1.3 .4 1.1 .4 .2 .4-.1 .4-.7 .4 2.5 .4-1.6 .4 .3 .4-.8 .4 2.1 .4-1.8 .4-.3 .4 0 .4 .8 .4-.8 .4 1.1 .4 .3 .4 .9 .4 .2 .4 .1 .4 .2 .4 1.1 .4-1.3 .4 .9 .4-.2 .4-.1 .4-1.4 .4 1.3 .4 1.4 .4-1.8 .4 .4 .4 .6 .4 .5 .4-.1 .4-.2 .4-.9 .4 1.8 .4-.9 .4 0 .4 0 .4 .8 .4-2.3 .4 .8 .4 2 .4-.5 .4-1.2 .4 2.2 .4-2 .4 .6 .4 .5 .4-1.2 .4 1.1 .4-.1 .4-1 .4-.4 .4 2 .4-1.1 .4 1.5 .4-.9 .4-.3 .4-.3 .4-.7 .4 .8 .4-.7 .4 1.5 .4-.2 .4-2.1 .4 .5 .4-.1 .4 1.3 .4-.3 .4 0 .4-.6 .4 .7 .4-1.8 .4 1.7 .4-.5 .4-.1 .4-.5 .4-2 .4 2.8 .4-1.7 .4 1 .4-1.1 .4 1 .4-.6 .4 .5 .4-.9 .4 .4 .4-.3 .4-2.1 .4 2.4 .4-.8 .4-.5 .4-.2 .4 .4 .4-1.3 .4 .4 .4-.1 .4 1.5 .4-2.3 .4-.7 .4 .5 .4 0 .4-.1 .4 .1 .4 .4 .4-.3 .4-.4 .4 1.7 .4-1.2 .4-.4 .4-.8 .4-.8 .4 .7 .4-1.9 .4 .8 .4-.1 .4-.7 .4 2.2 .4-.7 .4-1.4 .4-.8" fill="none" stroke="#ff3838" stroke-width="0.75"/>
</g>
<path d="M668.80 398.50H1122.50" stroke="#222" stroke-width="1.0" stroke-dasharray="4.4 2.3" fill="none"/>
<path d="M685.50 410.95v-3.90M685.50 337.12v3.90M703.50 410.95v-3.90M703.50 337.12v3.90M722.50 410.95v-10.80M722.50 337.12v10.80M740.50 410.95v-3.90M740.50 337.12v3.90M758.50 410.95v-3.90M758.50 337.12v3.90M776.50 410.95v-3.90M776.50 337.12v3.90M795.50 410.95v-3.90M795.50 337.12v3.90M813.50 410.95v-10.80M813.50 337.12v10.80M831.50 410.95v-3.90M831.50 337.12v3.90M850.50 410.95v-3.90M850.50 337.12v3.90M868.50 410.95v-3.90M868.50 337.12v3.90M886.50 410.95v-3.90M886.50 337.12v3.90M904.50 410.95v-10.80M904.50 337.12v10.80M923.50 410.95v-3.90M923.50 337.12v3.90M941.50 410.95v-3.90M941.50 337.12v3.90M959.50 410.95v-3.90M959.50 337.12v3.90M978.50 410.95v-3.90M978.50 337.12v3.90M996.50 410.95v-10.80M996.50 337.12v10.80M1014.50 410.95v-3.90M1014.50 337.12v3.90M1032.50 410.95v-3.90M1032.50 337.12v3.90M1051.50 410.95v-3.90M1051.50 337.12v3.90M1069.50 410.95v-3.90M1069.50 337.12v3.90M1087.50 410.95v-10.80M1087.50 337.12v10.80M1105.50 410.95v-3.90M1105.50 337.12v3.90" stroke="#000" stroke-width="1.0" fill="none"/>
<path d="M668.80 345.50h6.30M1122.50 345.50h-6.30M668.80 358.50h6.30M1122.50 358.50h-6.30M668.80 372.50h6.30M1122.50 372.50h-6.30M668.80 385.50h6.30M1122.50 385.50h-6.30M668.80 398.50h6.30M1122.50 398.50h-6.30M668.80 408.54h2.60M1122.50 408.54h-2.60M668.80 405.93h2.60M1122.50 405.93h-2.60M668.80 403.32h2.60M1122.50 403.32h-2.60M668.80 400.71h2.60M1122.50 400.71h-2.60M668.80 395.49h2.60M1122.50 395.49h-2.60M668.80 392.88h2.60M1122.50 392.88h-2.60M668.80 390.27h2.60M1122.50 390.27h-2.60M668.80 387.66h2.60M1122.50 387.66h-2.60M668.80 382.44h2.60M1122.50 382.44h-2.60M668.80 379.83h2.60M1122.50 379.83h-2.60M668.80 377.22h2.60M1122.50 377.22h-2.60M668.80 374.61h2.60M1122.50 374.61h-2.60M668.80 369.39h2.60M1122.50 369.39h-2.60M668.80 366.78h2.60M1122.50 366.78h-2.60M668.80 364.17h2.60M1122.50 364.17h-2.60M668.80 361.56h2.60M1122.50 361.56h-2.60M668.80 356.34h2.60M1122.50 356.34h-2.60M668.80 353.73h2.60M1122.50 353.73h-2.60M668.80 351.12h2.60M1122.50 351.12h-2.60M668.80 348.51h2.60M1122.50 348.51h-2.60M668.80 343.29h2.60M1122.50 343.29h-2.60M668.80 340.68h2.60M1122.50 340.68h-2.60M668.80 338.07h2.60M1122.50 338.07h-2.60" stroke="#000" stroke-width="1.0" fill="none"/>
<rect x="668.80" y="337.12" width="453.70" height="73.83" fill="none" stroke="#000" stroke-width="1.4"/>
<text x="666.30" y="349.79" font-size="10.8" text-anchor="end">4</text>
<text x="666.30" y="362.84" font-size="10.8" text-anchor="end">3</text>
<text x="666.30" y="375.89" font-size="10.8" text-anchor="end">2</text>
<text x="666.30" y="388.94" font-size="10.8" text-anchor="end">1</text>
<text x="666.30" y="401.99" font-size="10.8" text-anchor="end">0</text>
<text transform="translate(641.20 374.60) rotate(-90)" font-size="11" text-anchor="middle">E<tspan font-size="8.8" dy="3.2">LMN</tspan><tspan dy="-3.2">&#8203;</tspan>&#160; [mV m<tspan font-size="8.6" dy="-4.6">-1</tspan><tspan dy="4.6">&#8203;</tspan>]</text>
<path d="M674.50 343.40h18.00" stroke="#4040ff" stroke-width="0.9" fill="none"/>
<text x="695.60" y="347.00" font-size="9.5" fill="#2828ff">E<tspan font-size="6.9" dy="3.8">L</tspan><tspan dy="-3.8">&#8203;</tspan></text>
<path d="M674.50 352.80h18.00" stroke="#50e850" stroke-width="0.9" fill="none"/>
<text x="695.60" y="356.40" font-size="9.5" fill="#30f030">E<tspan font-size="6.9" dy="3.8">M</tspan><tspan dy="-3.8">&#8203;</tspan></text>
<path d="M674.50 362.60h18.00" stroke="#ff5050" stroke-width="0.9" fill="none"/>
<text x="695.60" y="366.20" font-size="9.5" fill="#ff2828">E<tspan font-size="6.9" dy="3.8">N</tspan><tspan dy="-3.8">&#8203;</tspan></text>
<path d="M751.80 414.95V484.78" stroke="#10a010" stroke-width="1.0" stroke-dasharray="7.1 3.0" fill="none"/>
<path d="M846.60 414.95V484.78" stroke="#10a010" stroke-width="1.0" stroke-dasharray="7.1 3.0" fill="none"/>
<path d="M775.50 414.95V484.78" stroke="#ff2020" stroke-width="1.1" stroke-dasharray="7.1 3.0" fill="none"/>
<path d="M822.70 414.95V484.78" stroke="#ff2020" stroke-width="1.1" stroke-dasharray="7.1 3.0" fill="none"/>
<path d="M825.10 414.95V484.78" stroke="#3030ff" stroke-width="1.3" stroke-dasharray="1.6 1.5" fill="none"/>
<path d="M826.80 414.95V484.78" stroke="#ff10ff" stroke-width="1.3" stroke-dasharray="1.6 1.5" fill="none"/>
<clipPath id="mc6"><rect x="668.80" y="410.95" width="453.70" height="73.83"/></clipPath>
<g clip-path="url(#mc6)">
<path d="M668.8 444.9l.4-.7 .3 .9 .3 .1 .4-1.5 .4 .3 .3 .8 .4-.2 .3 .1 .4-.4 .3 .9 .4 0 .3-.4 .4 .5 .3-.3 .4-.8 .3 .7 .4-.7 .3 1 .4-.5 .3-.1 .4-.3 .3 1.1 .4-.8 .3-.1 .4 0 .3 .5 .4-.1 .3 0 .4 0 .3 1 .4-1.4 .3-.1 .4-.1 .3 .7 .4 .3 .3-.7 .4-.4 .3 0 .4 .9 .3 0 .4-.1 .3-.7 .4 .5 .3 0 .4 0 .3 .4 .4-.4 .3 .3 .4-.4 .3 .1 .4 .2 .3-1.1 .4 .6 .3-.1 .4-.1 .3 .2 .4 1 .3-1.3 .4 1 .3-1.5 .4 .8 .3 .2 .4 .3 .3 0 .4 .1 .3-.6 .4-.1 .3 .7 .4-.6 .3-.6 .4 .1 .3 .1 .4 .8 .3-.2 .4 .3 .3-.6 .4 .3 .3 .3 .4-.5 .3 .4 .4-.6 .3 .1 .4 0 .3-.4 .4 .9 .3-.5 .4 .2 .3 .3 .4-.1 .3 .2 .4-.5 .3-.1 .4 .1 .3-.8 .4 .1 .3 .1 .4 .1 .3 .8 .4-.7 .3 .3 .4 .9 .3-.9 .4 .6 .3-.9 .4 .3 .3-.4 .4 .4 .3 .6 .4-1.4 .3 1.2 .4-.1 .3-.5 .4-.5 .3 .9 .4-.4 .3 .5 .4-.2 .3 .9 .4-1 .3-.4 .4 .6 .3 0 .4 .7 .3-.3 .4-.3 .3 .6 .4-1.5 .3 .3 .4-.1 .3 .3 .4-.6 .3 1.1 .4-.4 .3-.7 .4 .2 .3 .7 .4 .3 .3 .7 .4 .5 .3-1.4 .4-.8 .3-.6 .4 1.3 .3-.6 .4 .2 .3-.1 .4 .3 .3 .6 .4-.5 .3-.2 .4-.4 .3-.4 .4 .7 .3 .2 .4 1 .3-.9 .4 .5 .3-.9 .4-.3 .3 .1 .4 .1 .3 1.6 .4-1.7 .3 1 .4-1 .3 1 .4-.3 .3-.3 .4 .1 .3-.4 .4 .6 .3-.5 .4-.4 .3 0 .4 .8 .3 .7 .4-.8 .3-.1 .4 .2 .3 .6 .4-.6 .3-.4 .4 .8 .3-.3 .4 .6 .3-.8 .4-.8 .3 0 .4 1.6 .3 .1 .4-1.1 .3-.1 .4 1 .3-1.4 .4 .1 .3 .8 .4-.5 .3 .2 .4-.1 .3 .3 .4 .5 .3-.7 .4 .3 .3-1.5 .4 1.1 .3-.4 .4-.2 .3 .1 .4 .3 .3 .7 .4-1.2 .3 .7 .4-.3 .3 .1 .4 .7 .3-.2 .4 .4 .3-.8 .4-.3 .3 .2 .4 .3 .3-.1 .4-.7 .3 .7 .4 0 .3 1.3 .4-.4 .3-1.5 .4 .3 .3-.6 .4 .5 .3 .4 .4 .5 .3-1 .4 0 .3-.8 .4 1 .3-.5 .4 .3 .3-.2 .4 .5 .3-1 .4 .2 .3 2 .4-1.9 .3 .1 .4 1.6 .3 .6 .4-2.3 .3 .4 .4 .4 .3 .8 .4-1.5 .3 .4 .4 .5 .3-.2 .4-.4 .3 .1 .4-.7 .3 .6 .4 0 .3 .3 .4-.5 .3 .6 .4 .3 .3-.5 .4 .1 .3-.1 .4-.1 .3-.4 .4 .6 .3-.3 .4 1.2 .3-.2 .4-.7 .3-.6 .4-.2 .3 1.2 .4-.5 .3 .1 .4-1.2 .3 1.5 .4-.3 .3-.9 .4 .4 .3 .4 .4-.1 .3-.2 .4 .1 .3-.1 .4 .2 .3 .7 .4-2.2 .3 1.3 .4 .2 .3 .1 .4-.4 .3-.8 .4 1.2 .3 .7 .4-1.7 .3 1.3 .4-.7 .3 .2 .4-.6 .3 .4 .4 .9 .3-.4 .4 .6 .3-.3 .4-.4 .3 .8 .4-.8 .3 .3 .4-.7 .3 .2 .4-.4 .3 1 .4-1.2 .3 1.1 .4-.6 .3 .8 .4-.2 .3 .5 .4-.5 .3-1.3 .4 .8 .3-.6 .4 .4 .3 1.1 .4-.5 .3-.7 .4-.1 .3 .5 .4-.6 .3 .3 .4 .5 .3 .5 .4-.3 .3-1.6 .4 1.5 .3-.2 .4 .2 .3 .7 .4-2 .3 .8 .4 .7 .3-1.2 .4 1.7 .3-.6 .4 .3 .3-.8 .4 .8 .3 .1 .4-.4 .3 0 .4 0 .3-.6 .4 .4 .3 0 .4 .3 .3 .4 .4-1.1 .3 .5 .4 .9 .3-1.2 .4 0 .3 .5 .4 .4 .3-.4 .4 .7 .3-.3 .4 .1 .3-.2 .4 1 .3-1.4 .4-1 .3 2 .4-1.1 .3 .3 .4 .7 .3-1.6 .4 .2 .3-.2 .4 .5 .3 .7 .4 .1 .3-.2 .4-.9 .3-.5 .4 1.3 .3-.2 .4 .5 .3 .1 .4-.3 .3 .4 .4-.3 .3 .2 .4-.7 .3 .3 .4 .2 .3 .4 .4-.7 .3 .5 .4-.4 .3 .1 .4 .5 .3-1.5 .4 .4 .3-.1 .4-.5 .3 .9 .4 .8 .3-.6 .4 .3 .3 .5 .4 .1 .3-.7 .4 .8 .3-.7 .4-.5 .3 .1 .4-.5 .3 .3 .4 .3 .3 .7 .4 .5 .3-1.7 .4 .9 .3-.7 .4 .8 .3-.3 .4-1 .3 1.5 .4-.8 .3 0 .4-.3 .3 .3 .4 .5 .3-.3 .4 .3 .3 0 .4 .5 .3-.9 .4-.6 .3 1.4 .4-.8 .3 .8 .4-.4 .3-.3 .4 .3 .3 .8 .4 .1 .3-1.1 .4 0 .3 .5 .4-1 .3 .6 .4-.2 .3 .2 .4-.7 .3-.4 .4-.3 .3 .6 .4 .3 .3 .1 .4 1.2 .3-.4 .4-1.2 .3 .7 .4-.4 .3 .1 .4 .2 .3 .3 .4-.6 .3 .8 .4-1.2 .3 .6 .4 1.4 .3-1.3 .4 .6 .3-.7 .4 .3 .3-.4 .4-.1 .3-.3 .4 .6 .3-.7 .4 .9 .3 .2 .4-.4 .3-.4 .4 .4 .3-.4 .4 .7 .3-1.6 .4 .8 .3-.9 .4 .3 .3 1.6 .4-.3 .3-.9 .4-.4 .3-.9 .4 1.4 .3 1.6 .4-1.1 .3-.6 .4 .6 .3-1.1 .4 .7 .3 .2 .4-.1 .3 .4 .4-.2 .3 .2 .4-.8 .3 .9 .4 .4 .3-1.5 .4 .1 .3 1.2 .4-.8 .3 .8 .4-1 .3 1 .4-.7 .3 .1 .4 .7 .3-1.1 .4-.3 .3 .3 .4 .5 .3-1.1 .4 1.2 .3-.7 .4 .9 .3-1.9 .4 .9 .3-.5 .4 .5 .3 .5 .4-.2 .3 0 .4 0 .3 .2 .4-.6 .3 .9 .4 0 .3-.2 .4 .1 .3-.1 .4 .9 .3-1.1 .4-.2 .3-.2 .4-.2 .3-.1 .4 .2 .3 .5 .4 .2 .3-.1 .4-.5 .3 .9 .4-.1 .3-.4 .4-.3 .3 .6 .4-.1 .3-.9 .4 .7 .3 .2 .4-.6 .3 .6 .4-.9 .3 1.5 .4 0 .3-.9 .4 .4 .3-1.5 .4 .7 .3 .4 .4-.4 .3 1 .4 .7 .3-1.7 .4 .2 .3 .5 .4 .8 .3-1.5 .4 .8 .3 .8 .4-1.9 .3 .2 .4 .5 .3 0 .4 .7 .3-.3 .4-1.1 .3 1.2 .4-.6 .3 1.1 .4-1.1 .3 0 .4 .7 .3 .1 .4-.2 .3-1.1 .4 1.2 .3-.9 .4 .7 .3-.9 .4 1 .3-.6 .4-.3 .3 1.1 .4-.3 .3-.4 .4 1.1 .3-1 .4 .2 .3 .2 .4-.5 .3 .6 .4-.6 .3 .1 .4 1 .3-1.4 .4-.7 .3 2.2 .4 .5 .3-1.6 .4-.9 .3 .9 .4 .1 .3 0 .4-.5 .3 .9 .4 0 .3-1.1 .4 1.2 .3 .7 .4-1 .3-.3 .4 .1 .3 .4 .4-1.2 .3 1 .4-.3 .3 1.2 .4-1.1 .3 1 .4-1.5 .3 .9 .4-.1 .3-.7 .4 .6 .3 .6 .4-.9 .3-.7 .4 .9 .3-.5 .4 .3 .3 .1 .4-.9 .3 .1 .4 1.1 .3-.5 .4-1.1 .3 1.8 .4-.3 .3-.5 .4-.4 .3 1.2 .4-.3 .3 1.2 .4-1.1 .3-.1 .4-.3 .3 .6 .4-.1 .3 .3 .4-1 .3 .1 .4-.1 .3 .7 .4 .4 .3-1.1 .4 .1 .3 .4 .4-.3 .3 .6 .4-1.8 .3 .8 .4 0 .3-.8 .4 .7 .3 .1 .4 .3 .3 .8 .4-.8 .3-.4 .4 .5 .3 .6 .4-1.1 .3 0 .4 .8 .3-.4 .4 .5 .3-.4 .4 .4 .3-1 .4 .6 .3-.1 .4-.6 .3-.2 .4 1.3 .3-.6 .4-.4 .3 .5 .4 .7 .3-1.9 .4 .4 .3 .3 .4 1.3 .3-.6 .4 .3 .3-1.1 .4 0 .3 .9 .4-.2 .3 .2 .4-.4 .3 .3 .4-.1 .3 .3 .4 0 .3-1.3 .4-.4 .3 1.8 .4 .1 .3-1.2 .4-.5 .3 1.1 .4 .5 .3 .4 .4-.7 .3-.5 .4-.3 .3 .5 .4-.1 .3-.4 .4 1.6 .3-.1 .4-.4 .3-1.1 .4 1 .3-.2 .4-.1 .3 .5 .4-.4 .3 .1 .4-.1 .3-.1 .4-1.2 .3 1 .4-.4 .3-.4 .4 1.7 .3 0 .4-.2 .3-.6 .4 .6 .3-.8 .4 .1 .3-.7 .4 .8 .3-.2 .4-.7 .3 .7 .4-.1 .3 1.1 .4-.5 .3-.5 .4 .1 .3-.1 .4-.1 .3-.5 .4 .5 .3-.4 .4-.2 .3 .9 .4 0 .3-1.2 .4 .9 .3 .6 .4 0 .3 0 .4-.6 .3-.4 .4-.2 .3 .8 .4 0 .3 .5 .4-.1 .3-.7 .4-.6 .3 .5 .4 .3 .3-.2 .4-.2 .3 .4 .4-.4 .3-.1 .4 .5 .3-.3 .4 .3 .3 0 .4-.8 .3 .4 .4 1 .3-1.4 .4-.5 .3 .1 .4 1.1 .3 0 .4-.1 .3 .7 .4-2.1 .3 1.6 .4 .7 .3-1.5 .4 .4 .3-.2 .4-.1 .3 .3 .4 1 .3 .2 .4-1.2 .3 1.2 .4-1 .3 1 .4-1.1 .3 .2 .4 .1 .3 1.5 .4-1.3 .3-.8 .4 .9 .3-.7 .4-.1 .3 .8 .4-.5 .3 .1 .4-.1 .3 .1 .4 .1 .3-1.3 .4 1.4 .3-.9 .4-.3 .3 .8 .4 .1 .3-.5 .4 .9 .3-1.2 .4 .5 .3-.1 .4 .3 .3 .2 .4-.8 .3 1 .4-.4 .3-1 .4-.1 .3 1.1 .4-.1 .3 0 .4 .1 .3 .1 .4 .4 .3-1.1 .4-.1 .3 .1 .4 .7 .3 .5 .4-.9 .3-1.1 .4 .4 .3 .5 .4 .1 .3 .1 .4 .3 .3-.2 .4 .7 .3-.9 .4-.1 .3 .7 .4-1.1 .3 1 .4-.1 .3-.2 .4 1 .3-1.2 .4 1.4 .3-1.2 .4-.6 .3 .7 .4-.6 .3 .2 .4 .6 .3 .1 .4-.7 .3 .9 .4 .1 .3 .2 .4-.5 .3 .4 .4-1.8 .3 .9 .4-.3 .3 .5 .4-.4 .3 .3 .4 1.1 .3-1.1 .4 .3 .3-.4 .4 .2 .3-.1 .4 .3 .3 .4 .4 .2 .3-.7 .4 .2 .3-1 .4 .6 .3 .5 .4 0 .3-.4 .4 .4 .3-.2 .4 .4 .3-.5 .4-.4 .3 .4 .4-1.8 .3 1.8 .4-2.2 .3 1.1 .4 1.2 .3 0 .4-.9 .3 .2 .4 1.2 .3-1.1 .4 1.5 .3-1.2 .4 .2 .3 .7 .4-.8 .3-.7 .4 .5 .3 .1 .4-.8 .3 .6 .4-.2 .3 .9 .4-.5 .3-.2 .4 .1 .3 .2 .4 .2 .3-.9 .4 0 .3 1.2 .4-.9 .3-.5 .4 1 .3 0 .4-1.1 .3 1 .4 .3 .3-.2 .4 .1 .3-1.1 .4 1 .3-.4 .4-.1 .3 .8 .4 .3 .3 .2 .4-.3 .3-.8 .4 .3 .3 .2 .4-.3 .3 0 .4 .3 .3-.4 .4-.4 .3 .2 .4 .6 .3-.4 .4 .2 .3 .2 .4-.6 .3 .7 .4-.2 .3-.9 .4 1.5 .3-1.1 .4-.6 .3 .3 .4 0 .3 .6 .4-.1 .3-.1 .4 .6 .3-.2 .4 0 .3 .1 .4 .1 .3-1.5 .4 1 .3-1 .4 1.2 .3 0 .4 .6 .3 .1 .4-.5 .3-.4 .4 .6 .3-.6 .4 .3 .3 .6 .4-.9 .3 .8 .4-.1 .3-.8 .4 1 .3-.1 .4-.3 .3-.5 .4 0 .3 .2 .4 .6 .3-.8 .4 .7 .3-.9 .4 .6 .3 .2 .4 1.3 .3-2.1 .4 1.6 .3-.7 .4 .1 .3-.1 .4 .2 .3-.3 .4 .9 .3-1.1 .4 .9 .3-1 .4 .4 .3-.6 .4 .9 .3 .5 .4-.8 .3 0 .4-.5 .3 .5 .4-.8 .3 .4 .4 .6 .3 .7 .4 .8 .3-1.9 .4 1.2 .3-.7 .4-.2 .3 .3 .4-.2 .3 .1 .4-.3 .3-.5 .4-.1 .3 1.2 .4-.5 .3-.2 .4 .4 .3 .4 .4-.3 .3-.5 .4 1.1 .3 .2 .4-.6 .3 .2 .4 .2 .3-.1 .4-.3 .3 0 .4 0 .3-.9 .4 1 .3-1.1 .4 .3 .3 1.1 .4-.2 .3 .3 .4-.9 .3-.5 .4 .5 .3 .2 .4 0 .3 .5 .4-.8 .3 .4 .4-.7 .3 .8 .4-.3 .3-.4 .4 .3 .3 0 .4 0 .3 1.1 .4-1 .3-.1 .4-1 .3 .6 .4 .4 .3-.3 .4 1.2 .3-.9 .4 .8 .3-.7 .4 0 .3 0 .4 0 .3 1 .4-2.3 .3 .2 .4 .8 .3 .3 .4 .4 .3-.1 .4-.5 .3 .8 .4 0 .3-.5 .4 .4 .3-.3 .4-.5 .3 .7 .4-.3 .3-.1 .4 .8 .3-2.1 .4 .5 .3 .2 .4 .4 .3 .1 .4-.7 .3 .3 .4 0 .3 1.9 .4-.4 .3-1.2 .4 0 .3-.4 .4-.4 .3 .9 .4-.4 .3 .5 .4-.9 .3 .5 .4 .5 .3 .1 .4 0 .3-.9 .4 1.2 .3-.9 .4 .7 .3-.3 .4-.8 .3 .6 .4 .4 .3 .1 .4-.4 .3 .9 .4-.3 .3-.6 .4 .5 .3 .7 .4 0 .3-1.8 .4 .2 .3 1.3 .4-1.4 .3-.1 .4 .4 .3 .5 .4-.3 .3-.3 .4 0 .3 0 .4-.1 .3 1.7 .4-1.1 .3 .4 .4-.8 .3 .2 .4-.3 .3-1.1 .4 .7 .3-.2 .4-.3 .3 .6 .4 1.4 .3-.8 .4 .8 .3-.5 .4 .2 .3-.9 .4 .8 .3 .1 .4-.8 .3 .7 .4 0 .3-.6 .4-.4 .3 0 .4 .7 .3 .1 .4-.6 .3 .5 .4 .3 .3 0 .4 .5 .3-.2 .4-1.2 .3 1.5 .4-1.3 .3 .9 .4-.5 .3-.3 .4-.8 .3 .9 .4-.7 .3 1.4 .4 .3 .3-1.3 .4 .6 .3-.6 .4 .1 .3 .7 .4-.4 .3 1 .4-1.3 .3 .9 .4-.5 .3 .3 .4-.6 .3 .2 .4-.1 .3-.4 .4 .9 .3-.1 .4 0 .3 .5 .4 0 .3-1 .4 .4 .3-.6 .4 .4 .3-.4 .4 1.3 .3-.7 .4-.4 .3 .8 .4-1.8 .3 0 .4 1.6 .3-.4 .4 .1 .3-.9 .4 .7 .3 1.1 .4-.6 .3-.4 .4-.3 .3 0 .4-1 .3 1.4 .4 .3 .3-1.4" fill="none" stroke="#181818" stroke-width="0.85"/>
<path d="M668.8 444.8l.8 .1 .8-.3 .8-.1 .8-.3 .8 .8 .8-.3 .8 .1 .8-.3 .8 .5 .8 0 .8-.3 .8-.1 .8 0 .8-.1 .8 .2 .8-.2 .8 .3 .8-.2 .8 0 .8 .5 .8-.6 .8-.2 .8 .5 .8-.6 .8 .5 .8 .2 .8-.2 .8 0 .8-.6 .8 .7 .8-.1 .8-.4 .8 .8 .8-.8 .8-.1 .8 0 .8 .4 .8 .1 .8 0 .8-.2 .8-.1 .8 .4 .8-.4 .8-.1 .8 .6 .8-.3 .8 .1 .8 0 .8-.3 .8 0 .8 .3 .8-.3 .8 .2 .8-.1 .8-.3 .8 .5 .8-.5 .8 .3 .8 0 .8 .3 .8-.6 .8 .1 .8 .1 .8 .1 .8 .2 .8-.2 .8-.1 .8 .3 .8 .2 .8-.8 .8 .3 .8 .2 .8-.2 .8 .3 .8-.4 .8-.2 .8 .5 .8-.9 .8 .5 .8 .7 .8-.6 .8 .1 .8-.3 .8 .2 .8 0 .8 .4 .8-.7 .8-.4 .8 .8 .8 .2 .8-.5 .8-.3 .8 .1 .8 .4 .8-.3 .8 .2 .8-.6 .8 .4 .8 .3 .8-.3 .8-.2 .8 .5 .8 0 .8-.4 .8-.1 .8 .5 .8-.5 .8 .1 .8 .5 .8-.4 .8-.2 .8-.4 .8 .5 .8-.1 .8-.1 .8 .4 .8-.6 .8-.1 .8 .2 .8 .2 .8-.4 .8 .1 .8 0 .8 .2 .8-.2 .8 .5 .8-.9 .8 .7 .8-.3 .8 .3 .8 .4 .8-.5 .8 0 .8 .2 .8-.6 .8 .5 .8 .1 .8-.3 .8 .3 .8-.2 .8-.2 .8-.1 .8 .6 .8 .2 .8-.6 .8 .3 .8-.4 .8 .2 .8 0 .8-.1 .8 .3 .8 .3 .8-.1 .8-.2 .8 .5 .8-.3 .8 .4 .8-.7 .8 1.1 .8-.8 .8-.2 .8 .1 .8 .5 .8 0 .8 0 .8 0 .8-.4 .8 .3 .8-.5 .8 .3 .8 .5 .8-.7 .8 1.1 .8-.2 .8-.6 .8 .5 .8 0 .8-.2 .8 .2 .8-.2 .8 .1 .8 .1 .8 0 .8 0 .8 0 .8 .2 .8-.1 .8-.5 .8 .1 .8 .6 .8 0 .8-.3 .8-.2 .8 .3 .8 0 .8-.6 .8 .4 .8-.4 .8 .2 .8 .1 .8 .4 .8-.9 .8 .4 .8 .2 .8 0 .8 0 .8-.4 .8 .2 .8-.1 .8 .4 .8-.4 .8 0 .8 .1 .8-.4 .8 .4 .8-.4 .8 .3 .8-.3 .8 .5 .8-.3 .8 .5 .8-1.1 .8 .9 .8-.2 .8-.1 .8 .4 .8-.9 .8 .4 .8 .3 .8-.2 .8-.3 .8 .3 .8-.3 .8 0 .8-.1 .8 .5 .8-.2 .8 .5 .8-.4 .8-.6 .8 .6 .8-.5 .8 .2 .8 .2 .8-.3 .8 .1 .8 0 .8 .2 .8-.1 .8 0 .8 .5 .8-.3 .8 0 .8 .2 .8 .2 .8-.1 .8-.6 .8 .4 .8 0 .8 .1 .8-.3 .8 .1 .8-.3 .8 .2 .8-.2 .8 .6 .8-.4 .8-.1 .8 .3 .8-.1 .8-.2 .8 .3 .8-.2 .8 .2 .8-.1 .8 .1 .8-.2 .8-.1 .8 .3 .8-.5 .8 .8 .8-.5 .8 .6 .8-.3 .8-.2 .8-.2 .8 .3 .8 0 .8 0 .8 .1 .8-.2 .8 .3 .8-.5 .8 .1 .8 .2 .8-.4 .8 .2 .8 .4 .8-.4 .8-.1 .8 .4 .8-.6 .8 .2 .8 .3 .8-.4 .8 .2 .8-.1 .8 .4 .8-.7 .8 .2 .8 0 .8 .2 .8 0 .8 0 .8 .2 .8-.2 .8-.5 .8 0 .8 .2 .8 0 .8 0 .8 .4 .8-.5 .8 .5 .8-.1 .8-.2 .8-.2 .8 .5 .8-.6 .8 .3 .8 0 .8 .2 .8-.2 .8-.1 .8 .2 .8-.3 .8 .2 .8-.1 .8-.1 .8-.4 .8 .4 .8-.3 .8 .4 .8 .5 .8-.7 .8 .3 .8 0 .8-.6 .8 .5 .8-.3 .8 0 .8 .3 .8-.3 .8 0 .8 .3 .8 .1 .8-.3 .8 .1 .8-.5 .8 .3 .8 .2 .8-.4 .8 .4 .8-.1 .8 0 .8 .2 .8 0 .8-.6 .8 .1 .8 .3 .8-.2 .8 .6 .8-.3 .8-.5 .8 .1 .8-.2 .8 .4 .8-.2 .8-.1 .8-.1 .8 .5 .8-.4 .8 0 .8-.3 .8 .6 .8-.1 .8 .1 .8 .2 .8-.3 .8-.1 .8-.4 .8 .5 .8 0 .8 0 .8-.6 .8 .8 .8-.1 .8-.3 .8 0 .8-.4 .8 .6 .8-.2 .8-.2 .8 .8 .8-.2 .8-.2 .8-.2 .8-.3 .8 .3 .8 .1 .8-.1 .8 0 .8 .1 .8-.4 .8 .5 .8 .1 .8-.4 .8-.1 .8 .7 .8-.2 .8-.9 .8 .6 .8-.3 .8 .1 .8 0 .8 .2 .8-.1 .8-.2 .8 0 .8-.2 .8 .5 .8 0 .8 .2 .8 0 .8-.2 .8-.1 .8 .6 .8-.7 .8-.1 .8 .2 .8 .2 .8 .3 .8-.4 .8-.3 .8 .6 .8-.3 .8-.1 .8 .1 .8 .3 .8-.5 .8 .8 .8-.3 .8 0 .8 .3 .8-.4 .8 .2 .8 0 .8 .2 .8 .5 .8-.8 .8 .2 .8 .6 .8-.7 .8 .7 .8-.4 .8 .3 .8-.1 .8-.1 .8-.2 .8 .2 .8 .2 .8-.2 .8-.2 .8 .1 .8 .6 .8 0 .8-.5 .8 .2 .8 .3 .8-.2 .8-.1 .8 .2 .8-.5 .8 .1 .8 .4 .8-.1 .8 0 .8-.1 .8-.3 .8 .4 .8 .2 .8-.2 .8 .1 .8-.4 .8 .2 .8-.1 .8 0 .8 0 .8 .3 .8 0 .8 0 .8 .3 .8-.4 .8 0 .8 0 .8-.5 .8 .1 .8 .4 .8-.2 .8 .1 .8-.3 .8 .4 .8-.2 .8 .2 .8 0 .8-.5 .8 .7 .8-.6 .8 .2 .8 0 .8 .4 .8-.3 .8 .2 .8-.2 .8 0 .8-.2 .8 .1 .8 .1 .8 0 .8-.2 .8 .5 .8-.2 .8-.4 .8 .6 .8-.8 .8 .6 .8-.3 .8 .6 .8-.2 .8-.5 .8 .5 .8-.8 .8 .7 .8-.2 .8-.2 .8 .5 .8-.1 .8-.1 .8 0 .8 0 .8-.2 .8 .2 .8-.6 .8-.4 .8 1 .8 0 .8-.3 .8-.1 .8 .6 .8-.5 .8 0 .8-.1 .8 .4 .8-.7 .8 .5 .8-.2 .8 .2" fill="none" stroke="#20d020" stroke-width="0.9"/>
</g>
<path d="M668.80 448.30H1122.50" stroke="#8c8c8c" stroke-width="1.6" stroke-dasharray="4.6 2.6" fill="none"/>
<path d="M685.50 484.78v-3.90M685.50 410.95v3.90M703.50 484.78v-3.90M703.50 410.95v3.90M722.50 484.78v-10.80M722.50 410.95v10.80M740.50 484.78v-3.90M740.50 410.95v3.90M758.50 484.78v-3.90M758.50 410.95v3.90M776.50 484.78v-3.90M776.50 410.95v3.90M795.50 484.78v-3.90M795.50 410.95v3.90M813.50 484.78v-10.80M813.50 410.95v10.80M831.50 484.78v-3.90M831.50 410.95v3.90M850.50 484.78v-3.90M850.50 410.95v3.90M868.50 484.78v-3.90M868.50 410.95v3.90M886.50 484.78v-3.90M886.50 410.95v3.90M904.50 484.78v-10.80M904.50 410.95v10.80M923.50 484.78v-3.90M923.50 410.95v3.90M941.50 484.78v-3.90M941.50 410.95v3.90M959.50 484.78v-3.90M959.50 410.95v3.90M978.50 484.78v-3.90M978.50 410.95v3.90M996.50 484.78v-10.80M996.50 410.95v10.80M1014.50 484.78v-3.90M1014.50 410.95v3.90M1032.50 484.78v-3.90M1032.50 410.95v3.90M1051.50 484.78v-3.90M1051.50 410.95v3.90M1069.50 484.78v-3.90M1069.50 410.95v3.90M1087.50 484.78v-10.80M1087.50 410.95v10.80M1105.50 484.78v-3.90M1105.50 410.95v3.90" stroke="#000" stroke-width="1.0" fill="none"/>
<path d="M668.80 423.50h6.30M1122.50 423.50h-6.30M668.80 448.50h6.30M1122.50 448.50h-6.30M668.80 473.50h6.30M1122.50 473.50h-6.30M668.80 483.30h2.60M1122.50 483.30h-2.60M668.80 478.30h2.60M1122.50 478.30h-2.60M668.80 468.30h2.60M1122.50 468.30h-2.60M668.80 463.30h2.60M1122.50 463.30h-2.60M668.80 458.30h2.60M1122.50 458.30h-2.60M668.80 453.30h2.60M1122.50 453.30h-2.60M668.80 443.30h2.60M1122.50 443.30h-2.60M668.80 438.30h2.60M1122.50 438.30h-2.60M668.80 433.30h2.60M1122.50 433.30h-2.60M668.80 428.30h2.60M1122.50 428.30h-2.60M668.80 418.30h2.60M1122.50 418.30h-2.60M668.80 413.30h2.60M1122.50 413.30h-2.60" stroke="#000" stroke-width="1.0" fill="none"/>
<rect x="668.80" y="410.95" width="453.70" height="73.83" fill="none" stroke="#000" stroke-width="1.4"/>
<text x="1125.00" y="427.19" font-size="10.8">10</text>
<text x="1125.00" y="452.19" font-size="10.8">0</text>
<text x="1125.00" y="477.19" font-size="10.8">-10</text>
<text transform="translate(1154.20 448.90) rotate(-90)" font-size="11" text-anchor="middle">E<tspan font-size="8.8" dy="3.2">M</tspan><tspan dy="-3.2">&#8203;</tspan> [mW m<tspan font-size="8.6" dy="-4.6">-2</tspan><tspan dy="4.6">&#8203;</tspan>]</text>
<path d="M674.50 417.70h18.00" stroke="#555" stroke-width="0.9" fill="none"/>
<text x="693.60" y="421.30" font-size="9.4" fill="#333">-(VexB)<tspan font-size="7" dy="3.0">M</tspan><tspan dy="-3.0">&#8203;</tspan></text>
<path d="M674.50 428.10h18.00" stroke="#40f040" stroke-width="0.9" fill="none"/>
<text x="693.60" y="431.70" font-size="9.5" fill="#30f030">E<tspan font-size="6.9" dy="3.8">M</tspan><tspan dy="-3.8">&#8203;</tspan></text>
<path d="M751.80 488.78V558.61" stroke="#10a010" stroke-width="1.0" stroke-dasharray="7.1 3.0" fill="none"/>
<path d="M846.60 488.78V558.61" stroke="#10a010" stroke-width="1.0" stroke-dasharray="7.1 3.0" fill="none"/>
<path d="M775.50 488.78V558.61" stroke="#ff2020" stroke-width="1.1" stroke-dasharray="7.1 3.0" fill="none"/>
<path d="M822.70 488.78V558.61" stroke="#ff2020" stroke-width="1.1" stroke-dasharray="7.1 3.0" fill="none"/>
<path d="M825.10 488.78V558.61" stroke="#3030ff" stroke-width="1.3" stroke-dasharray="1.6 1.5" fill="none"/>
<path d="M826.80 488.78V558.61" stroke="#ff10ff" stroke-width="1.3" stroke-dasharray="1.6 1.5" fill="none"/>
<clipPath id="mc7"><rect x="668.80" y="484.78" width="453.70" height="73.83"/></clipPath>
<g clip-path="url(#mc7)">
<path d="M668.8 539.9l.3-10.1 .3 1.7 .3 6.1 .3-2.3 .3-1.9 .3-7.3 .3-5 .3 10.8 .3-6.9 .3 10.3 .3-4.7 .3-7.5 .3 7.9 .3 3.4 .3-4.1 .3-7.5 .3 8.1 .3 .8 .3 3.6 .3-.8 .3-12.9 .3 3.3 .3 8.7 .3-18.3 .3 19.6 .3-12.9 .3 3.3 .3 14.9 .3-12.1 .3-1.9 .3 4.7 .3-3.1 .3-4.3 .3 7.1 .3 15.3 .3-9.9 .3-4 .3-1.5 .3 4.4 .3-1.4 .3-12.2 .3 11.2 .3-3.8 .3 13.7 .3-15.9 .3 12.1 .3-20 .3 12.2 .3-8.6 .3-1.4 .3 13.8 .3-14.8 .3 7 .3-4.7 .3 9.2 .3-1.1 .3-20.6 .3 24.2 .3-11.2 .3 22.2 .3-9.7 .3 .7 .3-28.2 .3 35 .3-14.5 .3-11.7 .3 14 .3 8.3 .3-24.6 .3 22.5 .3-11.8 .3-2.1 .3 1.2 .3 5.6 .3-.4 .3 .4 .3 .7 .3 9.1 .3-14.9 .3 12 .3-19.3 .3 15.5 .3-15.3 .3 4.6 .3 10.5 .3-12.4 .3 11.3 .3-18.4 .3 6.9 .3 11.8 .3 9.4 .3-26.3 .3 27.2 .3-13.3 .3 20.4 .3-26.5 .3-2.3 .3 8.7 .3-15.3 .3 12.9 .3-2.2 .3 15.2 .3-11 .3-18.3 .3-.9 .3 3.7 .3-13.2 .3-1.5 .3 50.8 .3-35.7 .3 25.7 .3-25.1 .3 3.9 .3-16.7 .3 37.6 .3-21.4 .3 26.5 .3-30.8 .3 25.6 .3 2.4 .3-38.9 .3 25.2 .3-19.4 .3-1.8 .3 16.4 .3 8.8 .3 6.8 .3-22.1 .3 17.2 .3-5.7 .3-7.6 .3-12.4 .3 12.7 .3 37.2 .3-50.1 .3 9.8 .3-10.8 .3 30.8 .3 5.5 .3-6.2 .3 8.3 .3-26.9 .3 22.8 .3-32.8 .3 31.1 .3-.9 .3-27.7 .3 20.5 .3-26.5 .3-4.3 .3 .1 .3 3.8 .3-.5 .3 13.5 .3 24.3 .3-26.2 .3-7.8 .3 20.1 .3-12.2 .3 4.5 .3 4 .3 .6 .3-14.8 .3 5.8 .3 15.6 .3-17.2 .3 1.8 .3 7.3 .3 1.5 .3-9.7 .3 11.7 .3-7.5 .3-17.1 .3 25.9 .3-20 .3 49.9 .3-34.4 .3-7.5 .3 15 .3 8.2 .3 .8 .3-16 .3 10.3 .3-4.8 .3-8 .3-21.2 .3 20.4 .3-34.2 .3 22.3 .3 29.9 .3-15.6 .3-2.9 .3-10.9 .3 .4 .3 2.3 .3 .6 .3-21.5 .3 43.8 .3 8.3 .3-30.2 .3 18.6 .3-26.3 .3 21 .3-22.9 .3 30.4 .3-11.2 .3-17.5 .3 24.2 .3 14.7 .3-21.7 .3-.6 .3 .8 .3 1.6 .3 14.9 .3 .7 .3-45 .3 44 .3-18.6 .3 24.8 .3-15.9 .3 6.7 .3-19.3 .3-10.6 .3 20.5 .3 9.4 .3-2.9 .3 .6 .3-7 .3 6.2 .3-19.1 .3 8.5 .3-17.1 .3 18.4 .3-3 .3 4.5 .3 11.8 .3-11.5 .3-34.4 .3 49.6 .3-13.9 .3 7.1 .3-17.6 .3 18.3 .3 7.8 .3-34.7 .3 31.3 .3-23.4 .3 2 .3 8.3 .3 22.1 .3-40.8 .3 12.4 .3 7.1 .3 6.3 .3-7.6 .3 5.5 .3-18.5 .3 22.2 .3 3 .3-21.7 .3 3.2 .3 12.1 .3-.5 .3 2.1 .3-17.7 .3 8.5 .3-.9 .3 18.9 .3-14.7 .3-4 .3-4 .3 9.3 .3 12.2 .3-27.8 .3 17 .3 4.1 .3 15.2 .3-13.3 .3 7 .3-13.2 .3-14.5 .3-.3 .3 7.2 .3 8.8 .3-4.2 .3-1.8 .3 23.3 .3-42.7 .3 13.7 .3 35.1 .3-21.1 .3-9.9 .3-4.5 .3 19.6 .3-1 .3 1.2 .3-21.3 .3 14.6 .3-3.6 .3 6.9 .3-20.9 .3 22.5 .3 9.7 .3-29.5 .3 22.9 .3 14.1 .3-13.9 .3-9.4 .3 1.9 .3-6.7 .3 7.8 .3-12.8 .3 11.2 .3-9.1 .3-6.1 .3 30.1 .3-34.1 .3 37.2 .3-40.4 .3 31.8 .3-7.5 .3-18.4 .3 11.4 .3-21.1 .3 16.7 .3 18.7 .3-20.9 .3-7.6 .3 31.1 .3-7.3 .3-4 .3-2.8 .3 10.1 .3-3.3 .3-4.9 .3-4.8 .3 17.1 .3 3.9 .3-10 .3 20.7 .3-23.1 .3-.3 .3 13.7 .3-12.5 .3-6.1 .3-.4 .3 8.6 .3-22.1 .3 9.8 .3-3.5 .3-23.9 .3 46.2 .3-14.5 .3-5.6 .3 13 .3-16.6 .3 22 .3 5.3 .3-29 .3 26.9 .3-10 .3 9.6 .3-9.5 .3-10.7 .3-7.6 .3 5 .3 6.4 .3 16 .3-4.2 .3-3.4 .3 12 .3-33.8 .3 6.9 .3 .4 .3 12.5 .3-17.6 .3 11.1 .3 20.1 .3-3.7 .3 5.7 .3-21.6 .3-4.6 .3 13.4 .3-12.2 .3 8.7 .3-.4 .3 6.9 .3 9.3 .3-.4 .3-4.5 .3-11.6 .3 8.9 .3-10.5 .3-5.4 .3-6.2 .3 9.8 .3 11.1 .3 2 .3-6.5 .3 5.6 .3-11.7 .3 22.9 .3-15.4 .3-4.8 .3 10.2 .3-8.3 .3 5 .3 11.9 .3-23.4 .3 5.5 .3 1.1 .3 2.4 .3 18.9 .3-10 .3 4.2 .3-39.5 .3 31.4 .3-2.2 .3 2.7 .3-5.3 .3-6.9 .3 14.1 .3-9.3 .3 2 .3-6.1 .3 4.1 .3 7.4 .3 3 .3-8.7 .3 1.2 .3-3 .3 11.2 .3-13.6 .3 1.4 .3 4.1 .3-5.5 .3 7.3 .3 13.7 .3-16.9 .3 15 .3-5.5 .3-7.7 .3 5.2 .3 7.6 .3-23.4 .3 15.7 .3 5.4 .3-20.2 .3 21.1 .3-7.1 .3-15 .3 12.8 .3-19.2 .3 1.8 .3-3.1 .3 17.9 .3-6.7 .3-4.1 .3 2.2 .3 4.3 .3-2.6 .3-1.9 .3 6.6 .3-11.5 .3 4 .3 17.2 .3-8.4 .3-22.1 .3 34 .3-24.6 .3 25.3 .3-15.9 .3 8.6 .3-28 .3 9.9 .3 1.2 .3 .6 .3-2.4 .3 1.3 .3 5 .3-5.1 .3 4.5 .3 4.7 .3-21.5 .3 15.3 .3-7.6 .3 8.7 .3 7 .3-20.5 .3 10 .3 13.1 .3 1.1 .3-16.1 .3 14.2 .3-6.2 .3-2.6 .3-5.8 .3 7.7 .3 4.1 .3-14.3 .3 11.9 .3-18 .3-.8 .3 19.3 .3-9.1 .3-7.3 .3 13.5 .3 4.3 .3-8.4 .3 17.8 .3-27.8 .3 0 .3 20.6 .3-26.2 .3 23.2 .3-32.6 .3 8.2 .3 11.3 .3-3.5 .3 27.6 .3-35.9 .3 13.1 .3 2.6 .3-3.9 .3 17.7 .3-24.6 .3 .7 .3-6.8 .3 26.7 .3-9 .3 .2 .3-1 .3-19 .3 22.9 .3-2.6 .3 15.8 .3-14.5 .3-17.2 .3 6.7 .3 29.9 .3-42.7 .3-2.3 .3 22.7 .3 17 .3-19.5 .3-17.7 .3 47.6 .3-41.9 .3 22.4 .3 8.8 .3-19.2 .3 7.2 .3 12.3 .3-39 .3 29.2 .3 5.5 .3 1 .3-23.6 .3 12.2 .3-14.5 .3-.3 .3-4.7 .3 21.9 .3-6.1 .3 13.2 .3-49.4 .3 21 .3 17.1 .3 19.7 .3-34.3 .3-14.7 .3 16.7 .3 7.1 .3 12.6 .3 8.9 .3-10.2 .3-11.2 .3 30.6 .3-38.8 .3 9.7 .3 8.4 .3-15.4 .3 4.1 .3 12.2 .3-21.4 .3 10 .3 .6 .3 33.8 .3-20 .3-20.8 .3 20.1 .3-25 .3 20.7 .3-28.5 .3 32.9 .3-12.2 .3-16 .3 19.5 .3 10.7 .3-6.2 .3-2.8 .3-20.4 .3 29.3 .3-40.8 .3 22 .3 35 .3-46 .3-5.3 .3 11.7 .3 17.9 .3-6.2 .3 14.8 .3-12.9 .3-14.9 .3 27 .3-20.3 .3 16.9 .3 9.9 .3-12 .3 10.9 .3-34 .3 10.7 .3 8.4 .3-18.4 .3 34 .3-1.2 .3-10.2 .3 1.8 .3-9.8 .3-12.6 .3 15.9 .3-4.9 .3 6.6 .3-4.9 .3 5.6 .3-21.6 .3 7.7 .3 12.4 .3 10.7 .3-34.9 .3 26.4 .3 5.3 .3-10.7 .3 1.9 .3-6.5 .3 4.8 .3-4.5 .3-15.3 .3 38.3 .3-13.9 .3-11.4 .3 24.6 .3-21.4 .3 12.1 .3-30.8 .3 14.2 .3 22.2 .3 5.1 .3 5.4 .3-6.1 .3 4.9 .3-33.3 .3-9.6 .3-13.5 .3 33.4 .3-4.7 .3 23.5 .3-23.6 .3 24.7 .3-42.9 .3 44.5 .3-24.6 .3 19.2 .3-5.3 .3-24.9 .3 23.6 .3-20.2 .3 28.5 .3-12.8 .3-2.3 .3-7.9 .3-1.2 .3 3.9 .3-33.1 .3 45.2 .3-14.3 .3 3.9 .3-15.5 .3 16.4 .3-10.4 .3 27.3 .3-40.2 .3 35.4 .3-27.5 .3 15.5 .3-8.4 .3-9.6 .3-14.7 .3 37.3 .3-33 .3 16.7 .3 23.6 .3 .3 .3-14.1 .3-25.5 .3 19.8 .3 2.6 .3-11.8 .3 28.5 .3-14.8 .3 1 .3-5.7 .3-16.7 .3 5.6 .3-.7 .3 29.1 .3-15.6 .3 5.4 .3-.6 .3-.2 .3 16.8 .3-10.9 .3-7.3 .3-2 .3 17.2 .3-43.1 .3 41.5 .3-24.6 .3 13.4 .3-10.1 .3 4.1 .3-3.6 .3-43.6 .3 32.4 .3 4.1 .3-6.4 .3-6.7 .3 30.3 .3-19.4 .3 14.3 .3 13.7 .3-28.4 .3 11.4 .3 16.5 .3-18 .3-.7 .3-21.8 .3 43.4 .3-19.8 .3-13.6 .3 27.3 .3-15.7 .3 4.4 .3-7.1 .3 17.3 .3-.7 .3-13.9 .3 6.1 .3 18.9 .3-17.1 .3-7.3 .3 22.9 .3-25 .3 8.9 .3-15.6 .3 4.2 .3 4.1 .3 13.6 .3 6.1 .3-17.9 .3 14.6 .3-10.1 .3 9.8 .3-17.9 .3 13 .3-5 .3 3.7 .3 28.6 .3-26.4 .3 13.6 .3-3.8 .3-31 .3 23.4 .3 8.2 .3-31.2 .3 9.1 .3 41.8 .3-30.7 .3-6.1 .3 5.9 .3-10.4 .3 11.6 .3 1.6 .3-5.8 .3 20.3 .3 3.6 .3-7.7 .3-21.2 .3 3.2 .3-9.5 .3 20.6 .3-10 .3-.8 .3-1.3 .3 10.9 .3-.8 .3-15.1 .3 31.4 .3-15.6 .3-17.7 .3 25.9 .3-19.6 .3 31.2 .3-5.4 .3-9.1 .3 20.6 .3-36.8 .3 5.5 .3 2 .3-7.1 .3-.7 .3 24.1 .3-15.5 .3-8 .3 5.1 .3 31.4 .3-24.8 .3-8.2 .3 5.6 .3 16.2 .3-14.7 .3-.7 .3 1.5 .3-5 .3 3.2 .3 18.6 .3-17.9 .3 1.6 .3-31.4 .3 40.5 .3 6.2 .3-21.4 .3 13.1 .3-17.3 .3 15.8 .3 .6 .3-28.8 .3 37.1 .3 2.7 .3-16.1 .3-10.4 .3 12.1 .3-1.4 .3 12.1 .3-10.8 .3-.7 .3 12.6 .3-3.7 .3-6 .3-8.5 .3-.6 .3 1 .3-1.3 .3 4.8 .3 17 .3-16.5 .3 1.1 .3-19.5 .3 33.6 .3-15.2 .3 10.9 .3-1.4 .3-11 .3 10.9 .3-21.2 .3 8.5 .3 23.6 .3-26.2 .3 14.7 .3-4.4 .3-8.8 .3 24.5 .3-17.4 .3 9.6 .3 11.6 .3-36.1 .3 15.2 .3 10.7 .3-11 .3 13.7 .3-5.9 .3-4.4 .3 2.6 .3-13.8 .3-8.3 .3-3 .3 22.6 .3-13.9 .3 25.4 .3-27.8 .3-5.9 .3-3 .3 37 .3-14.7 .3 5.4 .3-19.5 .3 30 .3-33.1 .3 15.7 .3-4.5 .3 16.1 .3-23.8 .3 7.8 .3 1 .3 2.6 .3 .8 .3 7 .3 3.1 .3-13.9 .3 1.9 .3 3.4 .3 2.3 .3-5.4 .3 6.9 .3-2.7 .3 5.5 .3-15.6 .3 9 .3-8.6 .3-13.1 .3 11.5 .3 9.3 .3-7.3 .3-5.3 .3 18 .3 5.9 .3-6 .3 .1 .3-21.9 .3 20.1 .3 11.9 .3-3.6 .3-13.3 .3 11.7 .3-15.4 .3-3.5 .3 11.1 .3-.5 .3-11.4 .3 4.6 .3 13.6 .3-17 .3 7 .3 1.7 .3 7 .3-11.4 .3 5.7 .3 7.9 .3-18.1 .3-1.9 .3-8.3 .3 23.1 .3-13.2 .3-.9 .3-13.5 .3 14.5 .3-5.7 .3 6.9 .3-.4 .3 3.9 .3 17.2 .3-29.4 .3 10.8 .3-5.2 .3 2.8 .3 5 .3 7.7 .3-8.4 .3 1.2 .3 4.7 .3-5.5 .3-6.2 .3 4.5 .3 1.5 .3-18.4 .3 25.2 .3-6.4 .3 5.7 .3-5.2 .3-15.6 .3 .4 .3 12.6 .3-12.9 .3 25.6 .3-25.5 .3 30.2 .3-14.5 .3 3 .3-18.7 .3 9.5 .3-.9 .3 18.7 .3 6.4 .3-1.8 .3-45.1 .3 26.5 .3-14 .3 12.6 .3-3.9 .3-12.8 .3 4.8 .3 19.3 .3-8.3 .3-5.2 .3 7.8 .3-12.5 .3 17.7 .3-10.4 .3 15 .3-32.2 .3 24.5 .3-8.1 .3-10.1 .3 4.2 .3 10.9 .3 5.6 .3-10.9 .3 2.5 .3-3.1 .3-.4 .3 25.5 .3-12.6 .3 8.9 .3-20.7 .3 8.4 .3-5.6 .3 12.3 .3-8.3 .3 14.2 .3-15.1 .3-6 .3-6.4 .3 4 .3 14.3 .3-13.4 .3 6.1 .3 7.2 .3 5 .3-24.7 .3 8.4 .3-10.3 .3 14.7 .3-2.5 .3 2.6 .3-15.5 .3 8.6 .3-13.3 .3 24.4 .3-12 .3-1.7 .3 9.9 .3 4.1 .3-12.9 .3 5.9 .3 2.6 .3-6.2 .3-6.8 .3 2.5 .3 15.1 .3-5.8 .3-14.2 .3 6.7 .3 12.2 .3-7 .3-8.5 .3-4 .3 14.1 .3 15.6 .3-19.3 .3-7.2 .3-.4 .3 19.6 .3-31.2 .3 15.4 .3 4.3 .3-5.8 .3 28.1 .3-19.4 .3-.6 .3 9.3 .3-11.3 .3-17.4 .3 20.4 .3-7.7 .3 .1 .3 18.1 .3-22.1 .3 9.4 .3-.3 .3 3.1 .3 18.6 .3-31 .3 8.8 .3 12.1 .3-11.3 .3-7.8 .3 2.6 .3 17 .3-25.3 .3 31.2 .3 1.2 .3-17.9 .3 3 .3 .9 .3-8.3 .3 7.1 .3-25.5 .3 4.4 .3 7.7 .3 2.2 .3 12.6 .3-3.2 .3 6.2 .3-8.2 .3 .1 .3 4.6 .3-13.3 .3-.8 .3 2.9 .3-8.2 .3 9.1 .3 2.9 .3-8.4 .3 1.9 .3 2.7 .3 17.8 .3 1.2 .3-21.2 .3 19.6 .3-11.9 .3-10 .3 8.1 .3-4.9 .3-.5 .3-6.7 .3 15.8 .3-17.7 .3 9.3 .3 12.3 .3 12.7 .3-19.6 .3 2.2 .3 6.7 .3-9.5 .3 15.3 .3-37.3 .3 27 .3-11 .3 9 .3 11.8 .3-13.1 .3-4.9 .3 5.3 .3-5.6 .3 5.5 .3-5 .3-3.9 .3-6.6 .3 20.3 .3-9.4 .3-10.2 .3 .7 .3 13.3 .3-9.9 .3 10.9 .3 9.4 .3 21.5 .3-29.3 .3 12.7 .3-32.4 .3 9.4 .3 8.6 .3 2.6 .3-20.6 .3 26.7 .3-5 .3-2.1 .3 1.2 .3-10.2 .3 8.2 .3-1 .3-5.6 .3 9.1 .3-16.5 .3 6.5 .3-.1 .3 6.7 .3-6 .3 5.7 .3-16 .3 1.3 .3 17.2 .3-5 .3-7.5 .3 10.6 .3 .6 .3 7 .3-5.9 .3-12 .3 8.4 .3 10.2 .3-4.8 .3-12.5 .3 18.7 .3-19.6 .3 5.3 .3-16.7 .3 19.5 .3 2.4 .3-5.5 .3 2.1 .3-7.4 .3 12.8 .3-10.8 .3 11.4 .3-1.5 .3-3.4 .3 2.6 .3-.2 .3-2.3 .3-16.1 .3 32.5 .3 6.8 .3-20.4 .3-10.4 .3 10.3 .3-16.3 .3 19.7 .3 11.2 .3-11.6 .3 .6 .3-25.7 .3 16.8 .3-9.8 .3 30.7 .3-18.2 .3-2.1 .3 8.9 .3 5.5 .3-4.3 .3-14.1 .3 11.5 .3 1.9 .3-8.7 .3 10.6 .3-14.9 .3 13.6 .3 6.1 .3-7.1 .3-13.7 .3 14.3 .3 4.1 .3-1.4 .3-17.1 .3 9.4 .3 1.3 .3 29.1 .3-22.4 .3-9.6 .3 14.8 .3-14.5 .3 2.4 .3 17.1 .3-3.4 .3-10.1 .3-11.2 .3-23.6 .3 32.8 .3-11.3 .3 21.3 .3 .8 .3-25.5 .3-.4 .3 9.2 .3 5.6 .3 8.8 .3-23.9 .3-8.8 .3 18.9 .3-2.3 .3 3.9 .3 16.4 .3-20.8 .3 16.4 .3-13.2 .3 7.4 .3 4.1 .3-10.4 .3-16.1 .3 6.3 .3 8.8 .3-14.5 .3 1.7 .3 8.8 .3-5.2 .3 18.8 .3-.4 .3-35 .3 33.7 .3-14.3 .3 5.8 .3 17.2 .3-8.8 .3-9 .3-6.3 .3 10.8 .3 4.8 .3 2.9 .3-14.2 .3 26.5 .3-22.1 .3 20.7 .3-18.4 .3 17.3 .3-.5 .3-26.3 .3 7 .3-.2 .3 9.9 .3-17.4 .3-3 .3 42.2 .3-21.5 .3 4.9 .3-10.5 .3 1.6 .3 4.6 .3-5 .3-5.6 .3-.9 .3 18.7 .3-23.1 .3 1.8 .3 6.8 .3-3.5 .3 11.7 .3-14.1 .3-18.6 .3 32.8 .3-7.7 .3 2.2 .3 8.1 .3-13.4 .3 15.2 .3-17.1 .3 27.1 .3-37.8 .3 12.9 .3-3.2 .3-10.9 .3 2.8 .3 10.9 .3-19.5 .3 18.8 .3 8.4 .3-20.8 .3 3.5 .3-7.4 .3 10.8 .3 3.2 .3-7.1 .3-5.4 .3 16.3 .3 2.3 .3-17.3 .3 7.5 .3-2 .3-10 .3 17.3 .3 5.3 .3-2 .3-12.3 .3 21.9 .3-2.9 .3-16.8 .3 4.1 .3 13.4 .3-15.1 .3 18.2 .3 4.3 .3-17.5 .3 1.5 .3-.2 .3 14.3 .3-5 .3-20.7 .3-3.7 .3 8.1 .3 3.3 .3-7.5 .3 21 .3-8.8 .3 9.2 .3 1.1 .3-21 .3 32.6 .3-4.6 .3-20.1 .3-7.2 .3 .5 .3 14.8 .3-11.7 .3 9.3 .3 16.5 .3-20.6 .3-3 .3 8.6 .3-1.3 .3-14.7 .3-8.4 .3 17.5 .3-2.5 .3-.9 .3 5.9 .3 4.8 .3-14.5 .3 17.6 .3-17.6 .3 7.6 .3 4.2 .3 4.2 .3 7.5 .3-9 .3-9.5 .3 9.3 .3-.2 .3-11.6 .3 7.3 .3-3.5 .3 6.6 .3-21.8 .3 2.8 .3-8.7 .3 33.4 .3-13.5 .3 4.5 .3-21.6 .3 27.8 .3-3.4 .3 12.3 .3 2 .3-12.4 .3-3.1 .3 2.3 .3-4.7 .3-2.1 .3 3.1 .3 2.4 .3-10.9 .3 4.9 .3 24.5 .3-26.6 .3 1.1 .3 9.7 .3-15.4 .3 5.9 .3-12 .3 15.5 .3-9.8 .3-12.6 .3 27.5 .3 4 .3-10.9 .3 23.5 .3-29.9 .3-8.5 .3 18.4 .3 9.7 .3-12.2 .3-3.4 .3-7.3 .3 33 .3-24.3 .3 10.8 .3-4.6 .3-18.8 .3 25.8 .3-17 .3 12.1 .3 1.4 .3-8.2 .3 21.7 .3-3.7 .3-16.5 .3 10.3 .3 4.9 .3 6.2 .3-24 .3 27 .3-33.7" fill="none" stroke="#0a0a0a" stroke-width="0.85" stroke-linejoin="bevel"/>
</g>
<path d="M685.50 558.61v-3.90M685.50 484.78v3.90M703.50 558.61v-3.90M703.50 484.78v3.90M722.50 558.61v-10.80M722.50 484.78v10.80M740.50 558.61v-3.90M740.50 484.78v3.90M758.50 558.61v-3.90M758.50 484.78v3.90M776.50 558.61v-3.90M776.50 484.78v3.90M795.50 558.61v-3.90M795.50 484.78v3.90M813.50 558.61v-10.80M813.50 484.78v10.80M831.50 558.61v-3.90M831.50 484.78v3.90M850.50 558.61v-3.90M850.50 484.78v3.90M868.50 558.61v-3.90M868.50 484.78v3.90M886.50 558.61v-3.90M886.50 484.78v3.90M904.50 558.61v-10.80M904.50 484.78v10.80M923.50 558.61v-3.90M923.50 484.78v3.90M941.50 558.61v-3.90M941.50 484.78v3.90M959.50 558.61v-3.90M959.50 484.78v3.90M978.50 558.61v-3.90M978.50 484.78v3.90M996.50 558.61v-10.80M996.50 484.78v10.80M1014.50 558.61v-3.90M1014.50 484.78v3.90M1032.50 558.61v-3.90M1032.50 484.78v3.90M1051.50 558.61v-3.90M1051.50 484.78v3.90M1069.50 558.61v-3.90M1069.50 484.78v3.90M1087.50 558.61v-10.80M1087.50 484.78v10.80M1105.50 558.61v-3.90M1105.50 484.78v3.90" stroke="#000" stroke-width="1.0" fill="none"/>
<path d="M668.80 502.50h6.30M1122.50 502.50h-6.30M668.80 521.50h6.30M1122.50 521.50h-6.30M668.80 541.50h6.30M1122.50 541.50h-6.30M668.80 556.36h2.60M1122.50 556.36h-2.60M668.80 552.52h2.60M1122.50 552.52h-2.60M668.80 548.68h2.60M1122.50 548.68h-2.60M668.80 544.84h2.60M1122.50 544.84h-2.60M668.80 537.16h2.60M1122.50 537.16h-2.60M668.80 533.32h2.60M1122.50 533.32h-2.60M668.80 529.48h2.60M1122.50 529.48h-2.60M668.80 525.64h2.60M1122.50 525.64h-2.60M668.80 517.96h2.60M1122.50 517.96h-2.60M668.80 514.12h2.60M1122.50 514.12h-2.60M668.80 510.28h2.60M1122.50 510.28h-2.60M668.80 506.44h2.60M1122.50 506.44h-2.60M668.80 498.76h2.60M1122.50 498.76h-2.60M668.80 494.92h2.60M1122.50 494.92h-2.60M668.80 491.08h2.60M1122.50 491.08h-2.60M668.80 487.24h2.60M1122.50 487.24h-2.60" stroke="#000" stroke-width="1.0" fill="none"/>
<rect x="668.80" y="484.78" width="453.70" height="73.83" fill="none" stroke="#000" stroke-width="1.4"/>
<text x="666.30" y="506.49" font-size="10.8" text-anchor="end">0.15</text>
<text x="666.30" y="525.69" font-size="10.8" text-anchor="end">0.10</text>
<text x="666.30" y="544.89" font-size="10.8" text-anchor="end">0.05</text>
<text transform="translate(644.30 521.70) rotate(-90)" font-size="11" text-anchor="middle">|J| [&#181;A m<tspan font-size="8.6" dy="-4.6">-2</tspan><tspan dy="4.6">&#8203;</tspan>]</text>
<path d="M674.50 500.50h18.00" stroke="#555" stroke-width="0.9" fill="none"/>
<text x="693.60" y="504.20" font-size="10.5" fill="#333">|J|</text>
<path d="M751.80 562.61V632.44" stroke="#10a010" stroke-width="1.0" stroke-dasharray="7.1 3.0" fill="none"/>
<path d="M846.60 562.61V632.44" stroke="#10a010" stroke-width="1.0" stroke-dasharray="7.1 3.0" fill="none"/>
<path d="M775.50 562.61V632.44" stroke="#ff2020" stroke-width="1.1" stroke-dasharray="7.1 3.0" fill="none"/>
<path d="M822.70 562.61V632.44" stroke="#ff2020" stroke-width="1.1" stroke-dasharray="7.1 3.0" fill="none"/>
<path d="M825.10 562.61V632.44" stroke="#3030ff" stroke-width="1.3" stroke-dasharray="1.6 1.5" fill="none"/>
<path d="M826.80 562.61V632.44" stroke="#ff10ff" stroke-width="1.3" stroke-dasharray="1.6 1.5" fill="none"/>
<clipPath id="mc8"><rect x="668.80" y="558.61" width="453.70" height="73.83"/></clipPath>
<g clip-path="url(#mc8)">
<path d="M668.8 597.7l.3-1.2 .3 5.8 .3 5.4 .3-7.5 .3 3.2 .3 2.1 .3 1.3 .3-12 .3 10.4 .3-3.7 .3-4.4 .3-.5 .3 3.5 .3-5.8 .3-3.5 .3 11.6 .3 5.5 .3-7.7 .3 7.5 .3-8.6 .3-2.1 .3-6.3 .3 5.4 .3 17.3 .3-12.8 .3-12 .3 13.9 .3-2.9 .3-.6 .3-12 .3 9.3 .3 3.6 .3-10.9 .3 5.1 .3 6.3 .3 8.3 .3-2.2 .3 10.6 .3-4.8 .3-23.3 .3 18.2 .3 3.5 .3-5.7 .3-15.8 .3 11.4 .3-3.4 .3 9.1 .3 6 .3-3.8 .3-12.7 .3 13.9 .3-5.9 .3 7.5 .3-9.7 .3 3.8 .3-2 .3-1.2 .3 13.2 .3-4.6 .3-3.6 .3-13.7 .3 5.3 .3 5.5 .3 4.3 .3-17.4 .3 19.3 .3-14.8 .3-.7 .3 17.2 .3-12.5 .3 7.2 .3 5 .3-2.9 .3-12.9 .3 3.8 .3-.1 .3 7.6 .3-.4 .3 6 .3-4.5 .3 3.5 .3-8.7 .3-.9 .3-9.2 .3 6.7 .3-7.7 .3 6.6 .3 17.8 .3-9.5 .3-1.3 .3-1.1 .3-2.9 .3 3.2 .3 8.5 .3-15.7 .3 3.1 .3-2 .3 4.5 .3 22.6 .3-5.5 .3 .9 .3-25 .3-.7 .3 18 .3-14.1 .3 9.5 .3-12.9 .3 19.4 .3-9.6 .3-2 .3 24.8 .3-12.6 .3-17.1 .3 1.1 .3 16.5 .3-16.7 .3 19.2 .3-21.2 .3 10.7 .3-10.7 .3 17 .3 1.2 .3-6.1 .3-5.2 .3-2.8 .3 3.4 .3-8.4 .3 3.9 .3 15.9 .3-13.6 .3 4 .3 10.9 .3-7.9 .3-2.3 .3 8.1 .3-4.4 .3-.6 .3-1.4 .3 9.7 .3 1.9 .3-31 .3 33.2 .3-8.8 .3-8.5 .3 4.7 .3-13.2 .3 13.5 .3 7 .3-11.5 .3-15.6 .3 19 .3-2.6 .3 13 .3-4 .3 8.4 .3-14.4 .3 4.9 .3-.5 .3-9.7 .3 7.2 .3 17.6 .3-24.1 .3 8.8 .3-5.1 .3 7 .3-12.6 .3 17.2 .3-11.5 .3-1.1 .3-2 .3 7.2 .3-10.2 .3 13.6 .3-11.6 .3 3.8 .3 10.9 .3 1.5 .3-9.5 .3-5.7 .3 4.4 .3 6 .3-5 .3 11.6 .3-3.5 .3-23 .3 14.4 .3 .4 .3-5 .3 8.1 .3-10.2 .3 3.3 .3 .4 .3 17 .3-22.9 .3 7.6 .3 8.7 .3-3 .3-14.3 .3 10.3 .3-14.7 .3 20.1 .3-1.2 .3-9.1 .3-3.9 .3 8.8 .3-6.2 .3-2.1 .3 8.6 .3 7.2 .3-11.7 .3-3.4 .3 .4 .3 16.1 .3-17.1 .3-.4 .3 13 .3-3.6 .3 7.4 .3-6.4 .3-8 .3 14.9 .3-19.3 .3 14.6 .3-7 .3 11.2 .3-10.4 .3 4.8 .3-5.1 .3 3.5 .3 2.1 .3-7 .3 1.5 .3 12.9 .3-11.6 .3 18.5 .3-18.2 .3 1.3 .3-15.5 .3 24.6 .3-13.9 .3-5 .3 20.9 .3-14.6 .3-2 .3 9.4 .3-6 .3 2.8 .3-1.8 .3-6.9 .3-2.2 .3 14.1 .3-3.4 .3-4.5 .3-19.8 .3 15.4 .3 4.6 .3 10.4 .3-5.9 .3 10 .3-29.7 .3 10.2 .3 7.1 .3-10.1 .3 8.6 .3 2.8 .3-.8 .3 4.6 .3-20.1 .3 3.6 .3 7.6 .3 2.9 .3-9.2 .3 2.5 .3 1.8 .3 4.4 .3 1.6 .3 4.4 .3-4.7 .3 17.9 .3-22.9 .3 2.5 .3 .6 .3 10.1 .3 7.7 .3-16.7 .3 0 .3 7.5 .3-13.7 .3 1.2 .3-19.3 .3 24.3 .3-7.8 .3 11.7 .3-6.8 .3-9 .3 8 .3-.4 .3-.6 .3 .6 .3 2.5 .3-.6 .3-1.9 .3 3.9 .3-3.2 .3 1 .3-.9 .3-4.4 .3-2 .3 5.3 .3-3.5 .3 12.8 .3-5.8 .3-13.8 .3 15.2 .3-6.3 .3 1 .3-3.7 .3 5.2 .3 1 .3-11.6 .3 14.5 .3-10 .3-2.9 .3 5.4 .3 3.9 .3-13.9 .3 24.3 .3-6.2 .3-11.5 .3 5.4 .3 2.6 .3-6.7 .3 1.8 .3 13 .3-3.7 .3-16.3 .3 9.5 .3 5.6 .3-16.7 .3 16 .3-12.6 .3 22 .3-19.2 .3-4.3 .3 7.8 .3-13.7 .3 6.2 .3-2.7 .3 15.1 .3 7.2 .3-9.3 .3 3.4 .3-13.1 .3 10.5 .3-5.7 .3 19.4 .3-8.6 .3-14.1 .3 3.6 .3-14.7 .3 22.2 .3 7.4 .3-12.5 .3 3.9 .3-17.3 .3 15.5 .3-7.4 .3 9.6 .3-14.8 .3 5 .3-2.8 .3 12.4 .3-25.7 .3 33.5 .3 1.5 .3-19.4 .3-10.3 .3 28.8 .3-13.4 .3-4.7 .3 7.5 .3-5.9 .3 11.2 .3-11.2 .3 .8 .3 3 .3-1.5 .3-10.6 .3 10.3 .3-11.5 .3 15.3 .3-11.7 .3 5.1 .3 3.5 .3-18.8 .3 7.8 .3 4 .3 2.6 .3 3.7 .3 1.6 .3 5.5 .3-6.2 .3-1.2 .3-7.8 .3 7.3 .3 4.6 .3-5.9 .3 5.1 .3 12.2 .3-32.9 .3 11.6 .3 6.2 .3 16.7 .3-30.1 .3 7.6 .3 7.3 .3 2.1 .3-22.5 .3 9.6 .3 5.2 .3-10.2 .3 2.7 .3 24.6 .3-17 .3 4.4 .3-5.8 .3 7.4 .3-12.7 .3 8.9 .3 21.7 .3-28 .3 17.3 .3-22.6 .3 23.5 .3-18 .3 6.8 .3-3.8 .3 9.6 .3-9.1 .3-9.4 .3-7.9 .3 24.4 .3-21.3 .3 4.4 .3 2.2 .3-.7 .3 4.7 .3 3.3 .3-7.6 .3 15.7 .3-8.2 .3 4.7 .3-9.5 .3 2.9 .3-3.8 .3-8.2 .3 1.8 .3 3.1 .3 9 .3-2.3 .3-3.4 .3 9.2 .3-11 .3-2.8 .3 9.4 .3 6 .3-5.9 .3-7 .3 8.5 .3 11.7 .3-26.9 .3 12.5 .3-18.8 .3 11.6 .3 4.4 .3 3.6 .3-2 .3 4.6 .3-22.7 .3 16.9 .3 8 .3-9.7 .3-6.9 .3-5.1 .3 2.7 .3 11.5 .3-7.8 .3 1.6 .3 11.4 .3-19.6 .3 20 .3-4 .3-5 .3-11.9 .3 11.5 .3 6.6 .3-18 .3 12.6 .3 .5 .3-19.2 .3 11.7 .3 12.1 .3-6.5 .3 14.7 .3-1.1 .3-20.9 .3-2.8 .3 19.6 .3-5.3 .3 5.1 .3-1.7 .3-2.7 .3-8.1 .3 12.1 .3 8.4 .3-21.1 .3 20.1 .3-14.7 .3 4.1 .3-6.7 .3-2.5 .3 16 .3-10.4 .3 3.9 .3-5 .3 18.3 .3-19 .3-.3 .3 15.5 .3-14 .3-2.9 .3 11.2 .3-1 .3-3.5 .3-5.8 .3 6.1 .3 6.1 .3-6.7 .3 12.6 .3-18.9 .3-15.7 .3 29 .3 3.7 .3-10.4 .3 10.5 .3-21.7 .3 14.5 .3-5.7 .3-.9 .3 16 .3-9.3 .3-20.2 .3 21.8 .3 11.3 .3-29.3 .3 .3 .3 8.2 .3-6.3 .3 10.8 .3 1.1 .3 12.9 .3 5.3 .3-25.4 .3 17.3 .3-5.1 .3-3.9 .3 7.5 .3-14.5 .3 8.1 .3-5.9 .3 3.3 .3 14.5 .3-8.7 .3-6.8 .3-4.7 .3 14.2 .3-7.3 .3-8.4 .3 15.9 .3-15.2 .3 12 .3 1 .3-3.2 .3 9.1 .3-13.9 .3-.3 .3 8.9 .3-.3 .3 4.6 .3-7.7 .3 3.1 .3 8.5 .3-18.7 .3 3.5 .3 10.4 .3-11.2 .3-3.7 .3 2.5 .3 6.6 .3 7.5 .3-4.5 .3 3.7 .3 1.9 .3-9.5 .3 4.1 .3-5.9 .3 5.2 .3 8.9 .3 .6 .3-6.1 .3-1 .3-5.7 .3 1.7 .3 10.1 .3 6 .3-5.6 .3-30.1 .3 22.5 .3-1.4 .3-3.2 .3 13 .3-13.9 .3-3.6 .3 3.6 .3 18 .3-3.9 .3-5 .3-.4 .3-6.3 .3-8.4 .3 10.9 .3 2.1 .3-12.3 .3 4.8 .3 16.1 .3-5.1 .3-11.9 .3 7.2 .3-7.1 .3 9.2 .3-14.3 .3 7.5 .3-3.1 .3 9.2 .3 7.5 .3 7.1 .3-19.4 .3-7.7 .3 8.9 .3 14.1 .3-17.4 .3 14.1 .3-13.5 .3-2.2 .3 2.1 .3 7 .3 .5 .3 1.1 .3-2.4 .3 4.5 .3-6.6 .3 8.5 .3 1.1 .3-5.3 .3-6.3 .3-1.7 .3 10 .3-2.5 .3-19.8 .3 10.2 .3 5.7 .3-3.2 .3 10.8 .3-8.5 .3-1.3 .3 22 .3-22.2 .3 6.9 .3-5.2 .3 2.9 .3-2.2 .3 5.5 .3 1 .3 6.9 .3-13.2 .3 13.9 .3-26.3 .3 26.2 .3-18.2 .3 6.1 .3 13.4 .3 4.1 .3-9.1 .3 3.3 .3-9.7 .3 21.3 .3-33.5 .3 24.8 .3-17.3 .3 10.1 .3 6.1 .3-14 .3 8.5 .3 2.4 .3-6.8 .3 9.7 .3 3.6 .3-5.9 .3-10.9 .3 10.4 .3-4.7 .3-12 .3 12.3 .3 .6 .3-9.6 .3 5.6 .3-10.9 .3 12.4 .3-5.3 .3-5.1 .3 17.2 .3-9.7 .3-11.5 .3 17.6 .3-19.1 .3 4.6 .3 12.1 .3-3.7 .3 5.8 .3-3.4 .3-1.5 .3 7.1 .3-8.2 .3-3.4 .3 4.7 .3 7.9 .3 4.7 .3-13.8 .3-5.4 .3 11.3 .3 11.7 .3-6.8 .3 4.8 .3-9.1 .3 7.4 .3-1.4 .3-2.5 .3 2.6 .3-11.5 .3 11.7 .3-19.2 .3 4 .3 3.6 .3 5.8 .3 1.4 .3 .7 .3-10.2 .3 5.2 .3 1.6 .3-10.6 .3 23.1 .3-14.8 .3 3.7 .3-9.6 .3 8.5 .3-9.5 .3 15.5 .3-10 .3-14.5 .3 9.3 .3 11 .3 3.5 .3-9.3 .3-3.2 .3 7.2 .3-3.1 .3-9.9 .3 11 .3-16 .3 11.1 .3-10 .3 13.6 .3-7.6 .3 7.1 .3 6 .3-16.6 .3 8.8 .3-11.8 .3 18.8 .3-6.7 .3-4.1 .3 14.4 .3-8.1 .3-1.2 .3 2.1 .3-2.5 .3 9.8 .3-8 .3-5.8 .3 10.1 .3-1.2 .3-4 .3 2.7 .3-11.2 .3 18.2 .3-1.5 .3-5.9 .3 4 .3 12.6 .3-28.4 .3 9.6 .3 .8 .3-4 .3-12.5 .3 22.2 .3-16 .3 3.6 .3 0 .3 16.3 .3-16.5 .3 9.2 .3-14.3 .3 10.3 .3-8.4 .3-3.6 .3 11.4 .3 .8 .3 11.4 .3-12.3 .3-7.1 .3-2.1 .3 23.4 .3-20.7 .3 7 .3 3.6 .3-8.8 .3-2.9 .3-7.8 .3 13.3 .3 15.8 .3-20.6 .3 11.8 .3-13.8 .3 12.1 .3-8.2 .3 14.2 .3-5.4 .3-22.4 .3 35.3 .3-26 .3-10.1 .3 14.3 .3-7.5 .3 9.4 .3-6.7 .3 2.9 .3 9.6 .3-9.8 .3-5.1 .3 6.5 .3 3.4 .3-7.3 .3-.4 .3 5.8 .3-13 .3 5.4 .3 10.2 .3-7.1 .3-.2 .3 22.5 .3-20.5 .3 8.2 .3-14.9 .3 6.3 .3-23.9 .3 8.1 .3 21 .3-5.6 .3 8.3 .3-12.8 .3 11.4 .3-5.7 .3 17.3 .3-25 .3 10.5 .3-1.7 .3-12.7 .3 15.9 .3 2.5 .3-4.5 .3 3.3 .3-11 .3 15.6 .3-18.7 .3 5.1 .3-4.4 .3 .9 .3 .9 .3-4.6 .3 4.3 .3 3.9 .3-5.2 .3 10.5 .3-12.5 .3-.4 .3 8.6 .3 .9 .3-16.6 .3 5 .3 11.7 .3-12.5 .3 3.4 .3-12.4 .3 25 .3-19 .3 13.8 .3 9.4 .3-12.1 .3 10.2 .3-11.5 .3-7.2 .3 0 .3 6.1 .3 14.5 .3 1 .3-11.4 .3 5.4 .3-1.7 .3-12.9 .3 15.4 .3-19.6 .3 5.5 .3 7.2 .3 23.8 .3-26.8 .3 7.8 .3-16.3 .3 15.6 .3-5.1 .3 0 .3-9.1 .3 5.5 .3-7.3 .3 4.8 .3 .8 .3-2 .3 8.3 .3 6 .3 4.8 .3 6.2 .3-17.6 .3-7.7 .3 6.5 .3-3.9 .3 10.9 .3-2.7 .3-9.2 .3 8.5 .3-6.6 .3-15.7 .3 18.7 .3-.9 .3 6.8 .3-6.8 .3-4.2 .3 12.7 .3 3.5 .3-22.8 .3 15.4 .3 .6 .3-8.7 .3-5.8 .3 3.9 .3-4 .3 17.7 .3-7.5 .3-4.8 .3-14.4 .3 8.8 .3 4.8 .3 7.1 .3-3 .3-1 .3-2.2 .3 6.1 .3-1 .3 5.9 .3 1.4 .3-14.6 .3 7.1 .3 .1 .3-7.4 .3 10.6 .3 0 .3 6.8 .3-25.6 .3 14 .3 13.8 .3-12.9 .3-5.8 .3 14.6 .3-5.4 .3 7.4 .3-8.8 .3 4.3 .3-1.3 .3-16 .3 20.5 .3-15.1 .3 3.2 .3 2 .3 5.6 .3-.6 .3-14.1 .3 10 .3-3.6 .3-.5 .3-4.7 .3 4.5 .3 2.7 .3 11.4 .3-13 .3-.8 .3-6.9 .3 10.3 .3 14 .3-21.1 .3 4.4 .3-10.9 .3 7.8 .3-1.3 .3 9.8 .3 1.2 .3-6.2 .3-2.1 .3 3.1 .3 4.1 .3-1.4 .3-9.1 .3 9.6 .3-8.3 .3 15.8 .3-9 .3 2.8 .3 2.7 .3-19.6 .3 35.1 .3-20.2 .3-6.1 .3-.5 .3 17.2 .3 1.4 .3 1.3 .3-11.6 .3-4.6 .3 15.6 .3-8.1 .3-8.9 .3-1.9 .3 12.8 .3 2 .3-19.5 .3 12.3 .3 7.7 .3-17.5 .3 16.8 .3-4.6 .3-5.8 .3 11.9 .3-4.4 .3-16.8 .3 12.3 .3 8.4 .3-12.4 .3 9.4 .3-1.6 .3-5 .3 7.6 .3-5.4 .3-16 .3 8.5 .3 3.2 .3 19.5 .3-19.1 .3 10.6 .3 6.1 .3-14.4 .3 3.3 .3-6.3 .3 5.9 .3-2 .3-4.7 .3 13.6 .3-7.2 .3 7.9 .3-12.4 .3 2.5 .3-.8 .3 2 .3-2.5 .3 6.8 .3 10.7 .3-20.7 .3 22.5 .3-8.2 .3-16.5 .3 9.7 .3 12.4 .3-13.8 .3 5 .3 1.6 .3-8.2 .3 6.1 .3-3.1 .3-3.8 .3 4.2 .3 7.4 .3-6.1 .3-3.4 .3 1.7 .3-14.1 .3 24.9 .3-19.6 .3 8.4 .3 2.8 .3 3.1 .3 5 .3-5.8 .3 8.3 .3-8.4 .3-2.6 .3-3.8 .3-6.4 .3 17.5 .3-6.1 .3-13.1 .3 13.1 .3 .6 .3-10.7 .3 6 .3-.8 .3 11 .3-9.9 .3 4.4 .3-6.8 .3 8.2 .3 7 .3 4.8 .3-22.7 .3 18.3 .3-8.9 .3 8.3 .3-17.2 .3 9.8 .3-2.8 .3 .8 .3-3.1 .3-3 .3 6.1 .3-3.6 .3-.8 .3 .8 .3 10.8 .3-2 .3 3.8 .3 6.2 .3-7.1 .3-7.4 .3-1.5 .3 12.3 .3-16.5 .3 28.5 .3-7.1 .3-7.7 .3-4.8 .3-6.7 .3-8.9 .3 16.7 .3-7.5 .3 7.7 .3-5.1 .3-2 .3 12.9 .3-5 .3 2.2 .3 1 .3-12.3 .3 19.8 .3-14.2 .3-1 .3-7.7 .3 9.8 .3-3.1 .3 5.1 .3-8.5 .3 14.7 .3-11.2 .3 6.6 .3-10.6 .3 4.4 .3 3.6 .3-9.3 .3 15 .3-11.1 .3-5.2 .3 12 .3-1.5 .3 16.2 .3-13.4 .3 12.4 .3-38.7 .3 16.2 .3 17.4 .3-14.7 .3-8.8 .3 5.6 .3 4.1 .3 1.1 .3 .5 .3-6.3 .3 5.8 .3-7 .3 9.6 .3-9.2 .3-1.7 .3 3.2 .3-1 .3 1.7 .3 9.6 .3-3.8 .3 2.4 .3 8 .3 2.1 .3 2.9 .3-23.8 .3 7.3 .3-2.6 .3 3.1 .3-6.6 .3 18.3 .3-20.3 .3 4 .3-1.7 .3-6.5 .3 9.7 .3-5.5 .3 3.4 .3 10.3 .3 5.8 .3-14.3 .3 17.5 .3-13 .3-16.2 .3 23.5 .3-4.5 .3 .6 .3-10.2 .3 1.8 .3-6.3 .3 11 .3 2.5 .3-4.3 .3-7.5 .3 10 .3 5.4 .3-4.3 .3-7.9 .3-.7 .3-3.4 .3 16.5 .3-1.2 .3-.3 .3-3 .3-4.5 .3 7.9 .3-10.9 .3-8.8 .3 15.9 .3 3.3 .3-3.9 .3 5.3 .3 2 .3-10.6 .3 1.8 .3-.1 .3-2.5 .3 .6 .3 11 .3-9.9 .3 5.4 .3-2.4 .3-7.6 .3-7 .3 15.3 .3-2.7 .3-7.5 .3 17.5 .3-8.6 .3 7.9 .3-15.8 .3 .1 .3 6.8 .3-8.1 .3 9.4 .3-4.9 .3 3.8 .3-.4 .3-5.2 .3 4 .3 6.1 .3-6.7 .3-3 .3 13.1 .3-12 .3 9.9 .3-8.6 .3 5.3 .3-7.9 .3-.6 .3 6.7 .3-1.5 .3-6 .3-3.6 .3-8.8 .3 12.5 .3 11.8 .3-10.6 .3 10.5 .3-1.5 .3-10.2 .3 6 .3 3 .3-9.8 .3 5.6 .3 11.1 .3-8 .3 9.8 .3-12.4 .3-.5 .3 4.6 .3-.4 .3 17.6 .3-7.9 .3-9.4 .3-8.4 .3 6 .3 3.4 .3-4.9 .3-6.2 .3 4.7 .3-.5 .3 13.7 .3 4.6 .3-10.6 .3 2.8 .3-8 .3 13 .3-7.9 .3-2.5 .3-.8 .3-5.8 .3 11.2 .3-13.9 .3 7.4 .3 2.8 .3 5 .3-.2 .3-12 .3 10.4 .3 1.8 .3-.5 .3-9.5 .3-1.5 .3 11.2 .3-9.2 .3 8.6 .3-4.3 .3 1.2 .3-4.9 .3 11.1 .3-7.1 .3-.1 .3 4.9 .3 4.3 .3-7.6 .3 6.1 .3-.6 .3-12 .3-4.4 .3 3 .3 5.1 .3-12.6 .3 5.1 .3 7 .3 2.1 .3-13.2 .3 8.1 .3-9.7 .3 21.3 .3-6.5 .3-5.3 .3 .7 .3 7.5 .3-18.1 .3 3.9 .3 8.8 .3 2.3 .3-4.6 .3-14.1 .3 11.5 .3-1.1 .3-8 .3-2.2 .3 12.7 .3-7.8 .3 8.1 .3 3.8 .3-12.5 .3 13.8 .3-3.3 .3-5.3 .3 11.3 .3 1.7 .3-9.5 .3-1 .3 1.4 .3-19.1 .3 16.1 .3 .3 .3 .5 .3-.4 .3-1.2 .3 15.4 .3-9.1 .3 1.9 .3 1.7 .3 2.6 .3-2.2 .3-4.4 .3-13.6 .3 10.2 .3 7 .3-8.6 .3-1.7 .3-7.5 .3 14.1 .3-6.3 .3-.8 .3 8.2 .3-12.9 .3 8.3 .3 1.4 .3 5.7 .3-.1 .3-2.7 .3-14.7 .3 20.4 .3-8.6 .3-6.3 .3-2.3 .3 9.3 .3-4.1 .3 12.5 .3-5.3 .3 4.2 .3-11.2 .3 6 .3 3.4 .3-8 .3-7.7 .3 8.3 .3 4.8 .3-11.4 .3 7.6 .3-3.7 .3 4.1 .3-7.6 .3 2.1 .3 5.6 .3-7.7 .3-.6 .3-3.2 .3 12.7 .3 5.4 .3-9.8 .3-3.7 .3 8.2 .3 5.8 .3-30.8 .3 28.6 .3-13 .3 10.5 .3-3.8 .3-8.9 .3-4.1 .3 .5 .3 22.5 .3-10.7 .3-5.5 .3 6.4" fill="none" stroke="#1010ff" stroke-width="0.85" stroke-linejoin="bevel"/>
<path d="M668.8 585.7l.3 13.6 .3-12 .3 7.9 .3-15.3 .3-2.2 .3 11.1 .3-2.3 .3 3 .3 3.4 .3-1.8 .3-5.5 .3-4.7 .3-1.1 .3 10.2 .3 11.8 .3-13.9 .3-9.6 .3 8 .3 7.7 .3-4.9 .3-11.7 .3 10 .3 4.2 .3 2.2 .3-22.8 .3 12.6 .3 7.3 .3 11.3 .3-6.2 .3-18.3 .3 16.5 .3-11.4 .3 2.4 .3-1.7 .3 5 .3 11 .3-21.5 .3 14.6 .3-6.3 .3 9.7 .3-3.7 .3-7.8 .3 6.2 .3 4.4 .3-18.9 .3 19.3 .3-7.8 .3 9.5 .3-28.9 .3 16.1 .3-3.6 .3-1.5 .3-10.3 .3 13.4 .3-.3 .3-7 .3 1.7 .3 13.4 .3-7.5 .3 9.4 .3 8.9 .3-17.2 .3-.4 .3-12.6 .3-3.6 .3 14.1 .3-3.9 .3 10.9 .3 2.7 .3-9.9 .3 4.6 .3-9.9 .3 9.6 .3-16.2 .3 16.2 .3 5.3 .3-25.7 .3 9.6 .3 12.1 .3-1.8 .3-.4 .3-11.4 .3 20.4 .3-8.7 .3-1.4 .3 4.9 .3-1.3 .3-.3 .3-5.8 .3-1.6 .3-12.3 .3 21.3 .3 6.3 .3-24 .3 13.9 .3-4.2 .3-5.7 .3 2.2 .3-9.9 .3 19.9 .3-7.4 .3 5.3 .3 6.8 .3-8.5 .3-10.5 .3 17.7 .3-10.1 .3-.1 .3-6.1 .3 6.5 .3-4.3 .3-2.8 .3 1.3 .3 14.6 .3-.7 .3-15.2 .3 .6 .3 7.5 .3-9.8 .3 2 .3 11.1 .3 9.7 .3-10.5 .3-3.6 .3 1.4 .3-.5 .3-5.3 .3 6.5 .3-3.3 .3 4.7 .3-3.4 .3 8 .3 .7 .3-7.2 .3-5.9 .3 17 .3 .7 .3-4 .3-2.7 .3-10.7 .3 4 .3 23.1 .3-29.3 .3-2.2 .3 9.5 .3-20.9 .3 21 .3-1.5 .3-6.2 .3 16.5 .3-17.8 .3 8.3 .3-9.6 .3 5.2 .3 9.2 .3-19.9 .3 27.2 .3-20.3 .3 11.8 .3 7.8 .3-5.3 .3-18.1 .3 29.7 .3-6.2 .3 .8 .3-20.6 .3 3.6 .3-2.4 .3 10.1 .3 2 .3-9.4 .3 14.3 .3-2.5 .3-6.6 .3-4.9 .3-19.5 .3 17.6 .3 13.3 .3-32 .3 21 .3-6.6 .3 8 .3 3 .3 .3 .3-18.8 .3 14.6 .3 2.6 .3 7.3 .3 2 .3-13.1 .3 16.1 .3-12.1 .3 6.7 .3-4.3 .3-6.8 .3 7.5 .3 0 .3-3.7 .3 4.6 .3-10.6 .3 9.2 .3 4.3 .3-17.3 .3 11.9 .3 3.6 .3 9.5 .3-17.6 .3-1.3 .3 16.7 .3-21 .3 12.8 .3-3.7 .3 14.5 .3-7.1 .3-6.3 .3 8.5 .3-13 .3 0 .3-7.7 .3 11.4 .3-.1 .3 .8 .3-9.8 .3 20.5 .3-21.6 .3 26 .3-18.8 .3 4.7 .3-3.7 .3-3.6 .3 16.4 .3-8.7 .3 16 .3-23.2 .3 .7 .3 17 .3-23.2 .3 27 .3-1.3 .3-24 .3 22.9 .3-6.4 .3-6.4 .3 4.6 .3 5.8 .3-6.4 .3 .9 .3-2.9 .3 .3 .3-7.5 .3 6.6 .3-1 .3 3.3 .3-11 .3 9.1 .3-7.5 .3 4.4 .3 3.2 .3-5.6 .3 18.9 .3-4.5 .3 2.8 .3 2.9 .3-20.1 .3 7 .3 2.8 .3-.3 .3 1.4 .3-7.6 .3-6.4 .3 5.7 .3 .8 .3 2.6 .3 4.4 .3-9 .3-2.2 .3 6.4 .3-1.9 .3 6.5 .3-13.9 .3 11.3 .3 .1 .3-2 .3 7.2 .3 3.6 .3-8.9 .3 5.3 .3-8.4 .3 3.8 .3 6.7 .3-16.1 .3 7.5 .3-.3 .3-14.9 .3 26 .3 10.7 .3 4.6 .3-12.1 .3-8.1 .3 .6 .3-4 .3-6.3 .3-5.7 .3 19 .3-4.6 .3-10.2 .3-1.5 .3 11 .3-5.9 .3-.3 .3 10.3 .3-4.8 .3-12.1 .3 5.8 .3 6.6 .3-3.5 .3 2.2 .3-2.4 .3-2 .3 21.5 .3-25.6 .3 12.9 .3-3.4 .3-2.7 .3 6.6 .3 3.9 .3-5 .3-.9 .3-1.4 .3-11.9 .3 8.3 .3 6.8 .3 13 .3-24.4 .3-.7 .3-.7 .3 11.6 .3-5.9 .3 11.4 .3-2.6 .3-1.3 .3-10.6 .3 10.1 .3-6.8 .3 2 .3-10.4 .3 12.7 .3 2.9 .3-8.1 .3 3.2 .3-14.3 .3 21.8 .3 4.4 .3-3.9 .3-13.2 .3 4.9 .3-18.2 .3 19.2 .3 17 .3-22 .3 14.8 .3-8.9 .3-5.5 .3-1.6 .3 10.4 .3-.6 .3-4.7 .3-1.6 .3 3.6 .3-5.4 .3-6 .3 6.2 .3-.5 .3-2.1 .3 11.3 .3 4.9 .3-4.1 .3 4.1 .3-26.1 .3 17.3 .3-.1 .3 10.6 .3-17.1 .3-.2 .3 18.5 .3-13 .3 8.1 .3 2 .3-17.7 .3 18.7 .3-13.2 .3 21.5 .3-22.9 .3 3.7 .3-13.9 .3 17.2 .3-14 .3 10 .3-15.3 .3 12.4 .3 .1 .3 12.2 .3-1.9 .3-3.2 .3-9.3 .3 10.7 .3-.8 .3 .8 .3-11.8 .3 14 .3-.4 .3-2.4 .3-12.5 .3-1.5 .3 5.2 .3 2.8 .3-5.9 .3 13.7 .3-9.6 .3-3.6 .3 4.1 .3 14.8 .3-25 .3 18.3 .3-.9 .3 3.3 .3-10.6 .3-14.6 .3 14.6 .3-13.6 .3 22.3 .3-1.5 .3-8.5 .3 .9 .3 11.9 .3-23 .3 12.1 .3 3.2 .3 6.5 .3-2 .3 3.9 .3-9.4 .3 9 .3-16.1 .3 14.8 .3-8.2 .3-9.3 .3 10.4 .3-9.8 .3 4.8 .3-.2 .3 16 .3-15.3 .3-3.1 .3-1 .3 7.7 .3 2.3 .3 4.4 .3-5.6 .3 2.1 .3-19.4 .3 16.9 .3-6.6 .3 3.9 .3-27.3 .3 31.5 .3-9.6 .3 9.7 .3-12.9 .3 19.2 .3-17.3 .3 11.6 .3 3.9 .3-8.3 .3 2.8 .3-1.4 .3-.7 .3-4.8 .3 .7 .3 2.6 .3-7.6 .3 5.6 .3-8.5 .3 3.9 .3-1.7 .3 14.2 .3-6.9 .3-5 .3 6.9 .3 4.5 .3-10 .3 4.5 .3-11.6 .3 1.5 .3 5.2 .3 4 .3-7 .3 12.9 .3-21.1 .3 13.7 .3 2 .3 .1 .3-10.5 .3-2.3 .3 7.9 .3 13.3 .3-11.4 .3 8.1 .3-15.8 .3 16.3 .3-25.6 .3 29.1 .3-12.4 .3 10.5 .3-1.4 .3 .3 .3-.4 .3-4.4 .3-10.3 .3 5.8 .3-6 .3-3.3 .3-4 .3 16.2 .3-8.5 .3-1.5 .3 6 .3-16.9 .3 21.7 .3-.4 .3 3.8 .3-13.8 .3 12.8 .3-4.2 .3 1.4 .3-4.9 .3 15.2 .3-12.7 .3-.5 .3-4.1 .3 1.5 .3-.8 .3 4.8 .3-2.7 .3-8.4 .3 10.4 .3 5.8 .3-22.1 .3 16.5 .3-9.3 .3-.1 .3-.4 .3 8 .3 4.9 .3-8.9 .3-3 .3 2.9 .3 2.1 .3-12.5 .3 17.9 .3-14.1 .3 2.8 .3 16.9 .3-28.3 .3 10.5 .3 7.8 .3-5.8 .3-3.1 .3 28.6 .3-21.1 .3 3.2 .3 15.5 .3-18.9 .3 2.8 .3 3.8 .3-19.1 .3 12.6 .3 3.9 .3 .4 .3-7.3 .3-2.7 .3-4 .3 15.3 .3 2.8 .3-8.9 .3 7.7 .3-14.8 .3-5.6 .3 12.4 .3 .5 .3 14.5 .3-8.7 .3-17.5 .3 2.2 .3 8.4 .3-2 .3-10.6 .3 14.8 .3-2.2 .3 4.8 .3-6.3 .3 10.6 .3-1.5 .3-6.7 .3-8.7 .3 6.5 .3 14.9 .3-17.2 .3 5.8 .3-3.8 .3-2.6 .3 13.1 .3-.4 .3 .6 .3-23.7 .3 10.1 .3 17.3 .3-12 .3-.5 .3-10 .3 5.1 .3 9.3 .3-2.3 .3 13.5 .3-12.6 .3-1.8 .3-11.8 .3 30.3 .3-26.4 .3 17.4 .3-19.1 .3 21.7 .3-18.1 .3-3.6 .3-8.4 .3 28.2 .3-1.1 .3-2.1 .3 13.8 .3-12.6 .3-2.1 .3-14.1 .3 10.7 .3-3.6 .3-4.6 .3 9 .3 2.8 .3-2.3 .3-12.6 .3 7.8 .3-13.4 .3 6.3 .3-4.1 .3 15 .3 11.9 .3-24.2 .3 2.2 .3-1.4 .3 5.8 .3 10.4 .3-1.4 .3 18.1 .3-18.4 .3-7.4 .3 1.1 .3-4.2 .3-1.3 .3-7.7 .3 8.6 .3-.3 .3 4.8 .3-7.1 .3 9.6 .3-8.2 .3-2.4 .3 8.2 .3-2.9 .3 25.3 .3-31.5 .3 14.3 .3-8 .3 20.9 .3-14.7 .3-12.3 .3 10.3 .3-19.7 .3 12.5 .3 8.2 .3 3.3 .3-6 .3-.4 .3 4.1 .3-16.6 .3 5.8 .3 8.3 .3-6.9 .3 .6 .3 9.4 .3-4.9 .3-1.2 .3 7.8 .3 4.3 .3-5.1 .3-14.3 .3 1.4 .3-1.6 .3 13.2 .3 1.5 .3-6 .3-5.5 .3 4.1 .3-13.3 .3 10.7 .3-15 .3 16.1 .3-6.3 .3 9.2 .3-3.3 .3 2 .3 2.8 .3-7.9 .3-8.7 .3 10.6 .3-2.3 .3 14.5 .3-21.8 .3-4.2 .3 9.3 .3 10.9 .3 .9 .3-5.6 .3 3.8 .3-11.4 .3 19.5 .3-9.2 .3 8.6 .3-13 .3 6.9 .3 2.3 .3-16.5 .3 16.2 .3-3.4 .3 1.5 .3 7.9 .3-10.3 .3 4.9 .3-7.7 .3 11.6 .3-9.7 .3 8.3 .3-4.5 .3 11.6 .3-12 .3 8.7 .3 2.8 .3-12.3 .3-2.4 .3 4.7 .3-.1 .3 11.6 .3 4.4 .3-16.2 .3-3 .3-12.8 .3 11.2 .3 2.6 .3 1.9 .3 2.3 .3-11.6 .3 9 .3-.2 .3 10.4 .3-1.2 .3-8.1 .3 13.7 .3 9.7 .3-13.1 .3-.7 .3-4.3 .3-17.9 .3 12.5 .3-.8 .3-1.6 .3 5.4 .3 4.3 .3-.4 .3 8.7 .3 2.3 .3-29.9 .3 13.4 .3-.1 .3-10.6 .3 0 .3 10.7 .3-1.2 .3 14.4 .3 7.8 .3-17.8 .3 7 .3-5.5 .3-2 .3-1.1 .3-3.8 .3 19.5 .3-3.5 .3 5.1 .3-15 .3 3.1 .3 4.7 .3-13.3 .3 11.6 .3-10.1 .3-9.7 .3 27.8 .3-15.5 .3 21.9 .3-14.1 .3 .1 .3 7.8 .3-1.6 .3-17.3 .3 3.9 .3-3.9 .3 3.8 .3 10.5 .3-11.6 .3 1.1 .3-7 .3 12.5 .3-1.7 .3 6.6 .3 0 .3-16.4 .3 9.1 .3-.8 .3 4 .3-3.2 .3-5.5 .3 4.2 .3 4.6 .3 13.6 .3-4.2 .3-9 .3-17.3 .3 15.2 .3-1.3 .3 5.6 .3-1.7 .3-5.1 .3 3.7 .3 .1 .3 7.9 .3-1.6 .3-11.1 .3-5.9 .3 15.8 .3-19 .3 20.6 .3-6.2 .3 16.1 .3-26.1 .3 15.1 .3-20 .3 19.4 .3-14.4 .3 7.5 .3-4.5 .3 13.2 .3-12 .3 10.7 .3-8 .3 4.8 .3 6.8 .3-19 .3 9.3 .3-9.7 .3 2.9 .3 6.2 .3 6.1 .3-6 .3-7.7 .3 5.7 .3 5.1 .3 .6 .3-4.4 .3 14.2 .3-25.6 .3 11.1 .3 3.9 .3 10.1 .3 2.2 .3-16.5 .3-.4 .3 9.2 .3-6.8 .3-4.1 .3 11.2 .3-4.4 .3-10 .3-1.1 .3 8.5 .3-8.2 .3 8.5 .3 7.9 .3-14.7 .3 11.1 .3 8.7 .3-27.6 .3 4.8 .3 4.2 .3-.3 .3 11 .3-1.4 .3-4.1 .3-13 .3 10 .3 1.8 .3 5.8 .3-7.1 .3 9.7 .3-16.3 .3 8.5 .3-13.2 .3 7.4 .3 2.2 .3-2.4 .3-2.5 .3 7.9 .3-7.2 .3 4.5 .3 9 .3-3.4 .3 3.1 .3-3.4 .3 7 .3-21.2 .3 9.7 .3 8.7 .3-10.4 .3 1.6 .3 6.1 .3-8.3 .3 11.8 .3 5.2 .3-26.2 .3 6.2 .3-5.5 .3 12.7 .3 2.5 .3-24.5 .3 10.9 .3 5.4 .3-1.1 .3-1.9 .3 13 .3-10.6 .3 6.2 .3 3.8 .3-12.8 .3 4.8 .3 2.6 .3 3.6 .3-13.6 .3 9.9 .3 2.9 .3 2.3 .3-5.1 .3-14.2 .3 14.2 .3-8 .3 3.7 .3-1.6 .3-.1 .3-1.8 .3 20 .3-16.9 .3 1.8 .3-3.5 .3 4.8 .3 2.2 .3-8 .3 12 .3-4.2 .3-5.4 .3-9.2 .3 17.7 .3-11.9 .3-1 .3 4.6 .3 5.4 .3-9.7 .3 3.6 .3 14.4 .3-23.5 .3 1.2 .3 8 .3 8.7 .3-4.9 .3 11.1 .3-.3 .3-16 .3-10.4 .3 6 .3 11.3 .3-9.1 .3-3.3 .3 11.7 .3-11 .3 1.1 .3 16.6 .3-1.1 .3-12.9 .3-1 .3 3.5 .3-7.3 .3 7.3 .3-4.9 .3-1.5 .3-2.1 .3 2.8 .3 22.2 .3-28.6 .3 13.4 .3-1.1 .3-4.5 .3 13.4 .3-8.7 .3 1.3 .3 2.3 .3 3.6 .3-.5 .3-8 .3 10.1 .3-9.8 .3 1.3 .3-8.7 .3 4 .3-.6 .3 8.2 .3-.4 .3 17.5 .3-35.1 .3 4.8 .3 10.3 .3-8 .3 13.1 .3-18.4 .3 4.8 .3 17.9 .3-4.6 .3-6.4 .3-6.7 .3 12.3 .3 5.7 .3-19.8 .3 10.8 .3 13.3 .3-15.5 .3 1.5 .3 3.3 .3-12.7 .3-5.8 .3 10.8 .3 13.4 .3-4 .3-2.3 .3-8 .3 5.6 .3-4.3 .3 7.2 .3-11.4 .3 28 .3-18.7 .3-1.6 .3-10.3 .3-3.1 .3-.5 .3 16.2 .3-1.1 .3 .1 .3-.4 .3 3.9 .3-13.1 .3 3.6 .3-1 .3 13.5 .3-4.2 .3 8 .3-25.4 .3 5.4 .3 4.7 .3-5 .3 5.7 .3 11.8 .3-2.3 .3-20.3 .3 14.3 .3 2.5 .3 9.1 .3-17.4 .3-5.7 .3 10.8 .3-11.9 .3-2.5 .3 12.2 .3-6.4 .3 8.9 .3-6.2 .3-6.3 .3 19.5 .3 4.5 .3-20.9 .3-.6 .3 7 .3-8 .3 14.1 .3-3.8 .3 1.5 .3-12.3 .3 4.4 .3-2.4 .3 19.6 .3-21.1 .3 11.6 .3-7.3 .3-3.5 .3 7.6 .3 10.2 .3-.8 .3-9.2 .3-22.6 .3 21.1 .3-5.1 .3 2 .3 16.6 .3-16 .3 1.2 .3-1.9 .3 15.6 .3-29.7 .3 27.8 .3 2.1 .3-6.9 .3-6.2 .3 1 .3 11.9 .3-9.4 .3 2.1 .3-9.8 .3 10.9 .3-9 .3-23.4 .3 35.8 .3-13.4 .3 12.2 .3-14.6 .3 16.9 .3 5.6 .3-18.2 .3 9.5 .3-18.3 .3 11.7 .3 6.6 .3 6.9 .3-2.4 .3-10.4 .3 7.3 .3-3.8 .3-6.5 .3-5.8 .3 6.1 .3-4.7 .3 15.3 .3-9.9 .3 6.6 .3-6.9 .3 .4 .3 9.3 .3-17.4 .3 20.8 .3-17.9 .3 .7 .3 4.6 .3 16.1 .3-3.5 .3 4.9 .3-19.5 .3 6.3 .3 21.3 .3-21.4 .3-3.5 .3-.1 .3 7 .3-6.5 .3-13.9 .3 14.4 .3-8.7 .3-1.4 .3 21.2 .3-18.8 .3 .7 .3 13.2 .3 12.5 .3-11.2 .3 .9 .3-5.3 .3-3.8 .3-3 .3 8.8 .3-.7 .3-1.2 .3 4.1 .3 .6 .3-16.7 .3 19.6 .3-3 .3-6.8 .3 12.1 .3 5.3 .3-9.4 .3-14.9 .3 13.9 .3-2 .3-15.4 .3 16.2 .3-10.6 .3 15.6 .3-16.5 .3 9.3 .3-.6 .3 .4 .3-5.5 .3-2.1 .3 6.3 .3 5.3 .3-8 .3-6 .3 4.8 .3 .7 .3 3.5 .3-5.6 .3 9.8 .3-2.6 .3 8.8 .3-18.4 .3 19.5 .3-1 .3-10.7 .3 9.1 .3-11.9 .3-3.9 .3 9.8 .3 1.5 .3-.5 .3 .2 .3-17.4 .3 9 .3-5.3 .3 4.6 .3 4.7 .3-1.8 .3 23 .3-16.8 .3-4.1 .3-12 .3 10.3 .3 4.4 .3-10.3 .3 8.6 .3-.4 .3-2.9 .3 1.2 .3 2.5 .3 2.9 .3-6.6 .3-8.9 .3 19.6 .3 .3 .3-6.8 .3 7.5 .3-15.5 .3 2.7 .3 14.6 .3-8.2 .3-3.1 .3 15.5 .3-6.1 .3-15.2 .3 5.7 .3-3 .3-5.9 .3 8.5 .3-8.4 .3 10.7 .3-2.3 .3 5.2 .3-12 .3 3.1 .3 0 .3-13.1 .3 19.3 .3-6.2 .3 18.3 .3-9 .3-6.4 .3-6 .3 3.7 .3 5.5 .3 9.1 .3-15.8 .3 4.3 .3 5.9 .3 5.2 .3-19.5 .3 17.1 .3-10.2 .3 1.8 .3 17.4 .3-22.2 .3 3.8 .3 .7 .3-10.4 .3 9 .3 7 .3-12.3 .3 10.9 .3-7 .3-1.5 .3 9.7 .3-11.9 .3 7.2 .3 9.2 .3-25 .3 22 .3-7 .3-10.1 .3 15.5 .3-2.6 .3 7 .3-19.5 .3 1.9 .3 9.4 .3-.9 .3 4.6 .3-18.6 .3 22 .3-6.8 .3-.6 .3 5.7 .3-5.6 .3 17.8 .3-18.8 .3 3.4 .3-.5 .3-8.8 .3 17.9 .3-11.5 .3-8 .3-2.6 .3 19.9 .3 5.1 .3-7.6 .3 .3 .3-7.2 .3-6.5 .3 13.3 .3 2.5 .3-6.5 .3 11.6 .3-26.2 .3 11.1 .3 4.3 .3 7.6 .3-16.6 .3 17.6 .3-12.3 .3 13.6 .3-15.5 .3 8.3 .3-6.5 .3 23.9 .3-30.3 .3-4.5 .3 13.6 .3 3.6 .3-9.9 .3 11 .3-.1 .3-.9 .3-9 .3 7.3 .3 1.7 .3-2.4 .3-9.2 .3 19.2 .3-12.4 .3 14.4 .3 11.6 .3-33.5 .3 .3 .3 3.9 .3 13.1 .3-4.7 .3-6.1 .3 10.7 .3 17.6 .3-18.1 .3 3.3 .3-19 .3-5.2 .3 23.5 .3-7.8 .3 17.4 .3-14 .3-14.4 .3 10.4 .3-17.4 .3 19.6 .3 1.8 .3-3.4 .3 11.8 .3-8.7 .3-7.3 .3 16.5 .3-7.4 .3-1.4 .3-15.7 .3 21.9 .3-4.4 .3-11.7 .3 18 .3-8.5 .3 10 .3-9 .3 5.7 .3-15.1 .3-4.2 .3 23.5 .3-23.1 .3 17.9 .3-6.9 .3 12.3 .3-7 .3 3 .3 3.4 .3-12.1 .3 7.9 .3 5.4 .3-23.6 .3 5.4 .3 15.3 .3 6.5 .3-22.8 .3 5.7 .3-5.7 .3-5.6 .3 10.7 .3 4.7 .3-4.9 .3 16.1 .3-19.3 .3 12.9 .3-5.7 .3 3.8 .3 5.2 .3-9.5 .3 8.1 .3 7.2 .3-6 .3-8.8 .3-3.8 .3 3.4 .3 14.1 .3-9.5 .3-2.5 .3 3.3 .3 2.3 .3-15 .3 20.2 .3 2.8 .3-14.2 .3-1.4 .3 9.2 .3-8.2 .3 8.9 .3 .5 .3-6 .3 3.5 .3 9 .3 4.4 .3-9.7 .3-27 .3 24.9 .3-17.9 .3 18 .3 3.9 .3 6 .3-13 .3-7.3 .3 9.2" fill="none" stroke="#20f020" stroke-width="0.85" stroke-linejoin="bevel"/>
<path d="M668.8 596.7l.3 5.2 .3-13.6 .3-.2 .3 3.6 .3 4.2 .3 .5 .3 1.9 .3 1.9 .3-4.6 .3 6 .3 4 .3-2.1 .3 4.1 .3 6.5 .3-16.7 .3 15.2 .3-18 .3 6.8 .3 7.3 .3 2.5 .3-4 .3-.4 .3 4.2 .3-8.3 .3 4.1 .3-9.4 .3-5.8 .3-4 .3 24.9 .3-5.7 .3-8.1 .3-.8 .3 .5 .3-4.3 .3 2.2 .3 3 .3 10.2 .3-4.9 .3-12.8 .3 18.5 .3-1.8 .3-4.8 .3-.7 .3 3 .3-2.2 .3-6.1 .3 17.7 .3-6.4 .3-3.4 .3-8.2 .3-1.9 .3 13.9 .3-4.2 .3 1.5 .3-10.5 .3 7.3 .3-8.5 .3 5.5 .3 2.5 .3 9.7 .3-14.3 .3-2.5 .3 11.4 .3 1.3 .3-15.2 .3 14.3 .3 3.5 .3-9.7 .3 3.5 .3 4.5 .3-1 .3-5.3 .3-1.1 .3 3.6 .3 1.9 .3-5.3 .3-3.4 .3 9.2 .3 1.3 .3 1.3 .3-9.3 .3 13.3 .3 5.4 .3-21 .3 7.2 .3 2 .3-17.4 .3 10.8 .3-5.5 .3 11.7 .3-12.6 .3 5.4 .3 2.5 .3-1.2 .3 10.1 .3-8.7 .3 5.4 .3-1.2 .3-3.8 .3-.2 .3 6.8 .3-.9 .3 3.4 .3-13.2 .3 8.2 .3-3.4 .3 1.5 .3 4.5 .3 5.8 .3-20.7 .3 4.5 .3 12.2 .3-3.8 .3 8.2 .3-4.8 .3-4.7 .3 2.5 .3 10.5 .3-16.8 .3 3 .3-9.8 .3 7.1 .3 4.1 .3-2.9 .3 3 .3-10.5 .3 6.9 .3 2 .3 .1 .3 10.2 .3-21.8 .3 18.3 .3-1.8 .3-17.3 .3 5.9 .3 10.2 .3 8 .3-16.7 .3 3.9 .3 2.4 .3-8.3 .3 10.2 .3 7.1 .3-12.9 .3-5.4 .3 10.7 .3-1.9 .3-12.3 .3 19.6 .3-.6 .3-5.2 .3-.1 .3-.5 .3-1 .3 2.4 .3-9.5 .3 6.5 .3-.6 .3 6.8 .3-2.7 .3-2.8 .3 0 .3 11.4 .3-7.9 .3-2.8 .3-15.9 .3 19.4 .3-11.3 .3 11.3 .3 2.2 .3-24 .3 22.3 .3 9.8 .3-14.7 .3 12.8 .3-20.3 .3 2.4 .3 10 .3-9 .3 16.4 .3-2.6 .3-12.9 .3 7.7 .3 5.1 .3-2.3 .3 1.5 .3-7.9 .3-2.8 .3 8.7 .3-14.2 .3 10.4 .3 3.4 .3-9.9 .3 2.1 .3 13.2 .3-14.8 .3 5.6 .3-.2 .3 2.7 .3-7.4 .3 7.5 .3-11.6 .3-2.5 .3 27.1 .3-3.3 .3-22.8 .3 9.1 .3-4.1 .3 5.1 .3 1.4 .3-4 .3 12.7 .3-16.6 .3-2.4 .3 10.4 .3 7.4 .3-27.8 .3 23.5 .3-3.9 .3 5 .3 2 .3-10.9 .3 9.7 .3-5.2 .3-1.5 .3-3.5 .3-2.6 .3 16.8 .3-15.4 .3-4 .3 13.1 .3-13.4 .3 5.8 .3-1.8 .3 6.7 .3-4.7 .3 0 .3-4.9 .3 6.3 .3 1.7 .3 1.6 .3-7.1 .3 2.9 .3 5.3 .3-2.2 .3-11 .3 5 .3 6.5 .3-.3 .3 9.5 .3-4.5 .3-13.3 .3 2.4 .3 6 .3-6.2 .3 3.6 .3-2.3 .3 4.4 .3 1.8 .3-2.3 .3 8.7 .3-21.1 .3 13.6 .3-.9 .3-.1 .3-7.2 .3 2.2 .3 15.4 .3-5.3 .3-2.1 .3 3 .3-15.5 .3 16.8 .3-16.9 .3 1.4 .3 5.5 .3 8.5 .3-13.4 .3 12.8 .3 5.5 .3-3.8 .3-5.2 .3-10.5 .3 4.3 .3-2.7 .3 4.8 .3 .3 .3-2.7 .3 14.9 .3-.1 .3-8.7 .3-1.7 .3 4.5 .3-4.1 .3-16.9 .3 14.1 .3 2.3 .3 5.4 .3 0 .3-15.3 .3 .5 .3 2.8 .3 6.1 .3-16.9 .3 21.5 .3-9.8 .3-4.1 .3 3.1 .3 12.3 .3-12.3 .3 .7 .3-1.5 .3 7.3 .3 1.3 .3-5.2 .3 8.1 .3 2.3 .3-2.8 .3-2 .3-4.4 .3-1.8 .3 13 .3-12 .3 1.6 .3 15 .3-15.7 .3 2.8 .3-3 .3 8.7 .3-12.5 .3 4.8 .3 5.8 .3-17 .3 15.8 .3-13.7 .3 10.3 .3 8.9 .3-13.6 .3 11.5 .3 3.6 .3-13.3 .3 9.3 .3-7.6 .3 1.8 .3-6.9 .3-1.6 .3 5.3 .3 5.5 .3-13.3 .3 1.3 .3 11.6 .3-.5 .3-2.8 .3-7.4 .3 10.2 .3-2.5 .3-12.6 .3 1.9 .3 14 .3-9.2 .3 12.1 .3 3.7 .3-18.6 .3 19.8 .3-17.1 .3 3.8 .3 6 .3 4.4 .3-9.7 .3 1.2 .3-7.5 .3 13.1 .3-1.6 .3 .1 .3-16.2 .3 8.3 .3 6.2 .3 3.5 .3-23.7 .3 20.7 .3-10.9 .3 5.5 .3-1.2 .3-7.5 .3 12.9 .3 11 .3-4.8 .3-3.5 .3-2.2 .3-4.7 .3-4.3 .3 1.4 .3 3.7 .3-8.2 .3-1.5 .3-2.8 .3 5.2 .3 8.5 .3 8.1 .3-17.4 .3-4.2 .3 10.5 .3-.2 .3 9.2 .3-4.7 .3 2.6 .3-1.9 .3-1.2 .3-2 .3 6.1 .3-13.4 .3 14.6 .3-10.2 .3 .9 .3-.8 .3-5.7 .3 8.2 .3-12.6 .3 6.2 .3-2.4 .3 8.6 .3 2.2 .3-9.6 .3 20.9 .3-25.6 .3 10.2 .3-4.5 .3 7.6 .3-1.1 .3-4.4 .3-8.5 .3 7.4 .3 4.8 .3-4.7 .3 1.6 .3-15.6 .3 17.9 .3 5.1 .3-13.6 .3 2.1 .3 5.8 .3-6.7 .3 10 .3 2.4 .3-5.7 .3 1.2 .3 2.8 .3-4 .3-16.7 .3 17.8 .3-10.2 .3 4.9 .3 7.7 .3 3 .3-1 .3-6.4 .3-2.3 .3 1.1 .3 2.2 .3 6.1 .3-4.3 .3 1.8 .3-2.2 .3-.5 .3-6.6 .3 9.8 .3-8.5 .3 3.6 .3-3.5 .3-12.1 .3 13.7 .3 4.3 .3-13 .3 14.2 .3 6 .3-14.1 .3 14.8 .3-.1 .3-14.2 .3-4.4 .3 1.3 .3 8.6 .3-15.6 .3 16.2 .3 1.4 .3-19.5 .3 7.1 .3 13.1 .3-.9 .3-15.2 .3 7.3 .3 5.8 .3-2.9 .3-5.3 .3-2.7 .3 11.4 .3-6.9 .3 3.9 .3 2.7 .3 2 .3-15.6 .3 16.7 .3 1.5 .3-10.7 .3 8.8 .3-11.3 .3 7.1 .3-.2 .3 2.1 .3-15.3 .3 11.9 .3-6.5 .3-2.1 .3-3.6 .3 11.1 .3-9.3 .3 14 .3-6.3 .3 2 .3-.1 .3-8.8 .3 14 .3-12.2 .3 1.4 .3 6.3 .3 .4 .3-11.3 .3 14.9 .3-2.6 .3-.9 .3-11.1 .3 6.1 .3 5.1 .3-1 .3-26.6 .3 24.5 .3 3.2 .3-14.6 .3 8.4 .3-.2 .3-5.9 .3 17.5 .3-21.4 .3 9.6 .3 6.9 .3 1.7 .3 .5 .3-2.5 .3-2.3 .3-1.8 .3 6.8 .3 6.8 .3-18.8 .3 2.2 .3 1.3 .3 3 .3 9.5 .3-5.8 .3 13.8 .3-16.8 .3-.2 .3 7.4 .3-15.2 .3 16.2 .3-9.1 .3-5.4 .3 2.8 .3 1.4 .3 3.4 .3-11.5 .3 21 .3-10.6 .3-6.9 .3 8.2 .3-12.1 .3 16.5 .3-9.8 .3-1.7 .3 6.1 .3-1.3 .3 2.1 .3 8.9 .3-11.6 .3 5.1 .3-7.8 .3-3.1 .3 11 .3-13.8 .3 7.9 .3 2 .3 1.3 .3 4.9 .3-5.3 .3-4 .3-2.3 .3 7.6 .3 6.8 .3 4.3 .3-26.4 .3 23.6 .3-11.3 .3 3.1 .3-13.5 .3 10.3 .3-3.1 .3 6.3 .3-7.6 .3 7.7 .3 2.9 .3-10 .3 7.8 .3 14.4 .3-21.8 .3 14.9 .3-11.8 .3 4.8 .3 6.8 .3 2.1 .3-14.2 .3 5.7 .3 1.1 .3-2.9 .3-8 .3-4.7 .3-.1 .3 21.1 .3-12.7 .3 3.7 .3-9.8 .3 16.3 .3 12.9 .3-18.8 .3 1 .3-6.5 .3 7.8 .3 2 .3 .1 .3-10.3 .3 6.6 .3-7.5 .3 10.7 .3-6.2 .3-.4 .3 2.1 .3 4.9 .3-6.9 .3 6.2 .3-8.6 .3-5.6 .3 11.4 .3-1.7 .3 8 .3-2.3 .3 13.5 .3-11.8 .3-10 .3-.4 .3-8.2 .3 16.3 .3-6.2 .3 3.7 .3 2.8 .3-7.8 .3 .6 .3 2.2 .3 5.4 .3-2 .3-3.6 .3 .7 .3 6.9 .3-5 .3-4.3 .3-8.4 .3 14.7 .3-2.2 .3-12 .3 20.1 .3-3.7 .3-2.4 .3-6.8 .3 5 .3 8 .3-6.5 .3 1.7 .3-1.7 .3 10 .3-28.8 .3 25.9 .3-14.5 .3 5.9 .3-5.3 .3-8.2 .3 22.2 .3-24 .3 14.3 .3-9.3 .3 10.3 .3-.1 .3 12.5 .3-16.5 .3 2.5 .3 4.3 .3-12.2 .3 2.6 .3 4.6 .3 15 .3-16 .3 2.4 .3-8.5 .3 9.2 .3 3.3 .3 10.2 .3-30.6 .3 11.6 .3-6.4 .3-3.6 .3 8.9 .3 13.7 .3-11.2 .3-10.4 .3 10.7 .3 11.8 .3-7.1 .3 3.5 .3-2.3 .3 7.7 .3-4.2 .3-9.1 .3 3.7 .3 7.2 .3-16.3 .3 4.6 .3 4.7 .3 9.3 .3-11 .3 2.7 .3 .4 .3 6.2 .3-11.5 .3 3.7 .3-2.2 .3 7.3 .3-1.2 .3-3 .3 4.5 .3-9.1 .3 10.3 .3 3.7 .3-11.3 .3-1.7 .3 14.8 .3-16.7 .3-4.7 .3 10.5 .3 4.1 .3-1.1 .3-4.2 .3 1.5 .3 1.4 .3 3.1 .3-4.7 .3 10.6 .3-8.5 .3-2.5 .3 7.4 .3-13.5 .3 7.6 .3-8.1 .3 2.6 .3-4.8 .3 13.8 .3-2 .3-5.2 .3 1.7 .3 4.7 .3 3.3 .3-15 .3-5.9 .3 14.5 .3-6.9 .3 5.9 .3-4.9 .3 14 .3-21 .3 10.6 .3 2 .3-4.4 .3 1.5 .3 8.8 .3-1.7 .3-5.2 .3 5.4 .3-15 .3 9.7 .3 2.1 .3-9.4 .3 .7 .3 6.2 .3 2.5 .3-1.5 .3 1.9 .3-.1 .3-1.2 .3-2.2 .3-3.9 .3 1 .3 3.7 .3 .1 .3-3.4 .3-5.2 .3 2 .3 1.6 .3 2.4 .3-1.6 .3 5.8 .3-3.3 .3-9.5 .3 8.9 .3 2.8 .3-1.5 .3 4.1 .3-.2 .3 2.7 .3-14.8 .3 20.3 .3-19.6 .3 11.3 .3-11.3 .3 13.7 .3 9.4 .3 2.3 .3-3 .3-23.6 .3-.9 .3 19.3 .3-16.4 .3 8 .3 6.3 .3 9.4 .3-15.4 .3-6.4 .3 8.4 .3-.5 .3 1.2 .3-2.2 .3-13.5 .3-4.3 .3 16.1 .3-.6 .3 1.1 .3 6.7 .3-1.7 .3-8.7 .3 6.4 .3-4.7 .3-6.2 .3 11.3 .3 3 .3-15.7 .3 3.3 .3-7.2 .3 6.3 .3-.2 .3 .9 .3 5.2 .3-2.4 .3-11.8 .3-.6 .3 9.4 .3-7.5 .3 14.5 .3 1.8 .3-4.8 .3-3.7 .3 6.5 .3-5.8 .3 4.4 .3-7.1 .3 9.3 .3 3 .3-19.1 .3 23.4 .3-7.8 .3-3.6 .3 1.5 .3 .5 .3 6.8 .3-1.8 .3-3.6 .3-11.6 .3 12.7 .3-11.4 .3 7.4 .3-8.8 .3-1.6 .3-3.2 .3 12.1 .3-4 .3 6.5 .3 .5 .3-7.4 .3 15.7 .3-11.3 .3 1.3 .3 2.4 .3-19.1 .3 11.8 .3 10.2 .3-14.4 .3 9.2 .3 1.7 .3 1.2 .3-14.6 .3 6.5 .3 3.2 .3-1.5 .3 13.6 .3-7.1 .3-4.1 .3 4.8 .3-5.7 .3-5 .3 21 .3-9 .3-3.2 .3-1.8 .3 6.5 .3-17 .3 6.1 .3 1.6 .3 5.3 .3-8.3 .3 2.2 .3 9.5 .3 2.9 .3-8.8 .3 2.2 .3-4.3 .3-14.1 .3 11.4 .3 12.8 .3 1.9 .3-15.3 .3 7.9 .3 2.2 .3-2.4 .3-8.2 .3-1 .3 8.2 .3 .1 .3 13.5 .3-17.8 .3 10.9 .3-11.7 .3-4 .3 10.4 .3-8.3 .3 9.7 .3 2.9 .3-.1 .3 3.5 .3-9.6 .3-.8 .3 1.9 .3 13.6 .3-12 .3 2.5 .3-13 .3 13.6 .3-7.1 .3 6 .3 1.2 .3 .3 .3-6.9 .3 5.2 .3-12.2 .3 10 .3 5.2 .3-9.5 .3 .2 .3 2.7 .3-8.7 .3 9.6 .3-12.2 .3 7.2 .3 5.8 .3-11.8 .3 14.9 .3-4.8 .3-12.9 .3 11.5 .3-3.7 .3 7.1 .3 1.8 .3-2.2 .3-7.6 .3 .9 .3 .1 .3 2.5 .3 7.4 .3 2.3 .3-12.6 .3 3.4 .3-16.2 .3 19.2 .3-12.4 .3 6.4 .3-2.3 .3 2.2 .3 1.1 .3-1.8 .3 6.1 .3 2.7 .3-6.7 .3 4.4 .3-14.2 .3 4.4 .3 14.2 .3-6.8 .3-1.8 .3 2 .3 7 .3-9.8 .3-11.2 .3 16.8 .3 4.1 .3-14.7 .3 8.6 .3-12.4 .3 15.7 .3-7.4 .3 3.1 .3-2.1 .3 5.2 .3-14.1 .3 11.9 .3 2 .3-9.2 .3 16.8 .3-8.5 .3-1.9 .3 2.2 .3-5.5 .3 .6 .3-.6 .3 14.1 .3-4.8 .3-4.2 .3-.3 .3 4.9 .3-7.2 .3 5 .3-5.2 .3 4.8 .3-6.9 .3 10.7 .3-7.9 .3-1.1 .3 21.9 .3-15.3 .3-.3 .3-5.1 .3 8.2 .3-11.8 .3 2.3 .3-6.5 .3 7 .3 8 .3 .8 .3-10.3 .3-9.3 .3 6.5 .3 5.1 .3 2.2 .3 0 .3-3.8 .3 5.9 .3 13.7 .3-22.1 .3 9.8 .3-2.1 .3 1.6 .3-4.7 .3 7.5 .3-13.2 .3 2.1 .3 1.6 .3 13.7 .3-18.3 .3 9.6 .3 3 .3-14.6 .3 1.8 .3 3.6 .3-5.2 .3 12.2 .3 6.9 .3-10.2 .3-.1 .3-2 .3-8.4 .3 11.3 .3-3 .3 .4 .3-.6 .3-4.9 .3 .8 .3 10.7 .3-6.4 .3 8.7 .3-13.6 .3 4.1 .3 2 .3 4.6 .3-9.5 .3-1.7 .3 8.9 .3-2.3 .3 6.5 .3 9.2 .3-3.6 .3 4.5 .3-24.4 .3 18.1 .3-7.1 .3 8.3 .3-13.3 .3 1.9 .3-2 .3 6.8 .3 6.2 .3-18.6 .3 10.9 .3-5 .3 16.3 .3-6 .3 19.4 .3-36.3 .3 11.3 .3 2.1 .3-4.2 .3 13.2 .3-24.3 .3 12 .3 11 .3-3.4 .3-7.3 .3 8.5 .3-16.4 .3 19.5 .3-2.2 .3-.6 .3-3.4 .3-7.4 .3 10.3 .3-11 .3 4.1 .3-1.1 .3 8.3 .3-8.5 .3-2.8 .3 13.4 .3-3 .3 3.5 .3-15 .3-1 .3 10 .3-.7 .3-3.3 .3-6.8 .3 15 .3-2.4 .3 .1 .3-13.1 .3 15.6 .3-16.3 .3 11.7 .3 3.2 .3-7.4 .3 1.9 .3-10.4 .3 19.6 .3-13.9 .3-12 .3 18.7 .3 1.4 .3-1.6 .3-2.6 .3-6.7 .3-5.6 .3 8.4 .3 5 .3 5 .3-8.8 .3 9.3 .3-6.2 .3 8.6 .3-9.9 .3-.6 .3 6.1 .3-12.5 .3 .2 .3 13.2 .3 5.7 .3-21.4 .3 17.9 .3-17.7 .3 1.8 .3 10.9 .3 14 .3-7.4 .3-12.1 .3 7.3 .3 7.9 .3-3.7 .3-14.6 .3-2.1 .3 6.1 .3 7.3 .3-13.1 .3 5.2 .3 3.2 .3 .2 .3 3.7 .3-12.6 .3 10.5 .3-.4 .3 .1 .3-5.7 .3 8.3 .3-13.1 .3 10.3 .3-5.5 .3 5.8 .3-10.4 .3 18.3 .3-1.9 .3-11.1 .3 9.3 .3-6.5 .3-9.9 .3 4.5 .3 4.8 .3 2.7 .3-12 .3 6.4 .3-3.4 .3 8.6 .3 .3 .3-1.7 .3-2.7 .3 3.9 .3 2.8 .3-2.7 .3-1.6 .3-7.7 .3 15.5 .3-12.8 .3 12.5 .3-3.3 .3-13.4 .3 13.9 .3-2.8 .3-.4 .3-3.6 .3-3.1 .3 4.6 .3-.6 .3 4.2 .3-.5 .3-4.2 .3 2.9 .3-1.8 .3 2.6 .3-.6 .3 3.9 .3-15.9 .3 9.8 .3 2.8 .3-5.3 .3 24.4 .3-30.8 .3 .4 .3 23 .3-9.7 .3-4 .3-4.5 .3 18 .3-18.6 .3-2.6 .3 7.2 .3 5.3 .3-4.6 .3 4.8 .3-11.7 .3 4 .3 3.9 .3-.6 .3-9.9 .3 1.8 .3 5.2 .3-6.9 .3 4.2 .3 16.4 .3-8.7 .3-9 .3-1.6 .3 25.3 .3-6.5 .3-13.8 .3 2.1 .3 2.4 .3 .9 .3 3.4 .3-6.4 .3 2.3 .3 9.1 .3-11.9 .3-5 .3 5.6 .3 5.1 .3-.8 .3-9 .3-3.3 .3 6.7 .3 7.8 .3-7.1 .3 9.3 .3-13.5 .3 14.7 .3-7.8 .3-9.4 .3 7.8 .3 6.3 .3-4.9 .3-8.9 .3 2.2 .3-1.2 .3 8.3 .3 10.8 .3-15.5 .3 7.2 .3-.5 .3-13.8 .3 9.7 .3-4 .3-8.7 .3 18.5 .3 1 .3-8.5 .3 3.4 .3-3.7 .3 1.5 .3-3.5 .3 22.6 .3-13.1 .3-8.8 .3 6.8 .3 .4 .3 3.3 .3-3.8 .3-9.1 .3 6.1 .3 2 .3-4.4 .3 1 .3 3 .3 6.1 .3 6.6 .3-11.6 .3-1.8 .3-20.1 .3 8.9 .3 28.2 .3-13.8 .3-5.1 .3 24.7 .3-21.4 .3 3.1 .3-16.2 .3 20.2 .3-14.3 .3-1.2 .3 13.5 .3 3.9 .3-13.9 .3 4 .3-6 .3 3.5 .3 5.7 .3 3.2 .3-15.5 .3 17.9 .3-9.6 .3 5.1 .3-6.8 .3-5.5 .3 13.1 .3 4.6 .3-9.5 .3-11.9 .3 0 .3 7.3 .3 8 .3-12.8 .3 3 .3 13.1 .3-13.4 .3 13 .3-9.3 .3-15.2 .3 3.9 .3 14.2 .3 4.4 .3-7.3 .3 8.9 .3-1.7 .3-1.6 .3-1.8 .3 1.4 .3-3 .3-1.4 .3 2.8 .3-12.4 .3 10 .3 6.4 .3-17.2 .3-1.1 .3 4.6 .3 2.1 .3 5.7 .3-2.8 .3 2 .3 2.3 .3 16.1 .3-5.2 .3-19.7 .3 .1 .3 17.4 .3-6.5 .3-11.8 .3-3 .3 4.2 .3 14.4 .3-14.7 .3-.3 .3 8.5 .3-12.2 .3-6.6 .3 14.3 .3 6.3 .3-.7 .3-7 .3 .5 .3 5.3 .3 1.6 .3-2.2 .3 1.2 .3-8.4 .3 9.1 .3-8.5 .3 1.9 .3 1.9 .3-.2 .3 0 .3-8.6 .3 12.4 .3 1.6 .3-10.7 .3 11.4 .3-.5 .3-5.6 .3-13.6 .3 14.4 .3-7.9 .3 13.4 .3-6 .3-1.7 .3-2.9 .3-9 .3 20.6 .3-11.8 .3 3.1 .3 11.8 .3-1.7 .3-18 .3 6.7 .3 1.9 .3-1 .3 4.5 .3-1.9 .3-4.8 .3-3.7 .3 14.3 .3-2.2 .3-4.8 .3-14.4 .3 8.4 .3 3.5 .3-6.3" fill="none" stroke="#ff1010" stroke-width="0.85" stroke-linejoin="bevel"/>
</g>
<path d="M668.80 599.50H1122.50" stroke="#222" stroke-width="1.0" stroke-dasharray="4.4 2.3" fill="none"/>
<path d="M685.50 632.44v-3.90M685.50 558.61v3.90M703.50 632.44v-3.90M703.50 558.61v3.90M722.50 632.44v-10.80M722.50 558.61v10.80M740.50 632.44v-3.90M740.50 558.61v3.90M758.50 632.44v-3.90M758.50 558.61v3.90M776.50 632.44v-3.90M776.50 558.61v3.90M795.50 632.44v-3.90M795.50 558.61v3.90M813.50 632.44v-10.80M813.50 558.61v10.80M831.50 632.44v-3.90M831.50 558.61v3.90M850.50 632.44v-3.90M850.50 558.61v3.90M868.50 632.44v-3.90M868.50 558.61v3.90M886.50 632.44v-3.90M886.50 558.61v3.90M904.50 632.44v-10.80M904.50 558.61v10.80M923.50 632.44v-3.90M923.50 558.61v3.90M941.50 632.44v-3.90M941.50 558.61v3.90M959.50 632.44v-3.90M959.50 558.61v3.90M978.50 632.44v-3.90M978.50 558.61v3.90M996.50 632.44v-10.80M996.50 558.61v10.80M1014.50 632.44v-3.90M1014.50 558.61v3.90M1032.50 632.44v-3.90M1032.50 558.61v3.90M1051.50 632.44v-3.90M1051.50 558.61v3.90M1069.50 632.44v-3.90M1069.50 558.61v3.90M1087.50 632.44v-10.80M1087.50 558.61v10.80M1105.50 632.44v-3.90M1105.50 558.61v3.90" stroke="#000" stroke-width="1.0" fill="none"/>
<path d="M668.80 576.50h6.30M1122.50 576.50h-6.30M668.80 599.50h6.30M1122.50 599.50h-6.30M668.80 622.50h6.30M1122.50 622.50h-6.30M668.80 631.16h2.60M1122.50 631.16h-2.60M668.80 626.58h2.60M1122.50 626.58h-2.60M668.80 617.42h2.60M1122.50 617.42h-2.60M668.80 612.84h2.60M1122.50 612.84h-2.60M668.80 608.26h2.60M1122.50 608.26h-2.60M668.80 603.68h2.60M1122.50 603.68h-2.60M668.80 594.52h2.60M1122.50 594.52h-2.60M668.80 589.94h2.60M1122.50 589.94h-2.60M668.80 585.36h2.60M1122.50 585.36h-2.60M668.80 580.78h2.60M1122.50 580.78h-2.60M668.80 571.62h2.60M1122.50 571.62h-2.60M668.80 567.04h2.60M1122.50 567.04h-2.60M668.80 562.46h2.60M1122.50 562.46h-2.60" stroke="#000" stroke-width="1.0" fill="none"/>
<rect x="668.80" y="558.61" width="453.70" height="73.83" fill="none" stroke="#000" stroke-width="1.4"/>
<text x="1125.00" y="580.09" font-size="10.8">0.1</text>
<text x="1125.00" y="602.99" font-size="10.8">0.0</text>
<text x="1125.00" y="625.89" font-size="10.8">-0.1</text>
<text transform="translate(1159.40 594.90) rotate(-90)" font-size="11" text-anchor="middle">J [&#181;A m<tspan font-size="8.6" dy="-4.6">-2</tspan><tspan dy="4.6">&#8203;</tspan>]</text>
<path d="M674.50 563.10h18.00" stroke="#ff20ff" stroke-width="1.3" stroke-dasharray="1.5 1.5" fill="none"/>
<text x="693.60" y="566.60" font-size="9.8" fill="#ff20ff">t&#160;&#160;maxJ</text>
<path d="M674.50 570.40h18.00" stroke="#2828ff" stroke-width="0.9" fill="none"/>
<text x="693.60" y="574.00" font-size="9.5" fill="#2828ff">J<tspan font-size="6.5" dy="3.2">L</tspan><tspan dy="-3.2">&#8203;</tspan></text>
<path d="M674.50 577.40h18.00" stroke="#30f030" stroke-width="0.9" fill="none"/>
<text x="693.60" y="581.00" font-size="9.5" fill="#30f030">J<tspan font-size="6.5" dy="3.2">M</tspan><tspan dy="-3.2">&#8203;</tspan></text>
<path d="M674.50 584.50h18.00" stroke="#ff2828" stroke-width="0.9" fill="none"/>
<text x="693.60" y="588.10" font-size="9.5" fill="#ff2828">J<tspan font-size="6.5" dy="3.2">N</tspan><tspan dy="-3.2">&#8203;</tspan></text>
<path d="M751.80 636.44V706.27" stroke="#10a010" stroke-width="1.0" stroke-dasharray="7.1 3.0" fill="none"/>
<path d="M846.60 636.44V706.27" stroke="#10a010" stroke-width="1.0" stroke-dasharray="7.1 3.0" fill="none"/>
<path d="M775.50 636.44V706.27" stroke="#ff2020" stroke-width="1.1" stroke-dasharray="7.1 3.0" fill="none"/>
<path d="M822.70 636.44V706.27" stroke="#ff2020" stroke-width="1.1" stroke-dasharray="7.1 3.0" fill="none"/>
<path d="M825.10 636.44V706.27" stroke="#3030ff" stroke-width="1.3" stroke-dasharray="1.6 1.5" fill="none"/>
<path d="M826.80 636.44V706.27" stroke="#ff10ff" stroke-width="1.3" stroke-dasharray="1.6 1.5" fill="none"/>
<clipPath id="mc9"><rect x="668.80" y="632.44" width="453.70" height="73.83"/></clipPath>
<g clip-path="url(#mc9)">
<path d="M668.8 664l.3 9.2 .3-6.3 .3 6.7 .3-6.7 .3-6.5 .3 10.5 .3-8.2 .3 5.8 .3 4.3 .3-2.4 .3-1.3 .3-8.5 .3 5.7 .3-3.8 .3 11.6 .3-4.3 .3 1.7 .3 1.5 .3-3.8 .3-4.8 .3 2 .3 .1 .3-3.3 .3 4.6 .3-5.3 .3 5.3 .3-2.2 .3 1.5 .3 13.6 .3-22.3 .3 13.8 .3-7 .3 4.8 .3 2.2 .3-3.3 .3-1.9 .3 3.4 .3 3.2 .3 7.9 .3-20.7 .3 8.9 .3 5.3 .3-3 .3 4.3 .3-1.4 .3-6.7 .3-.1 .3-7.2 .3 3 .3 .1 .3 13 .3-4.1 .3-10 .3 5.8 .3-.9 .3-2 .3-2.3 .3 0 .3 15.2 .3-21.3 .3 .1 .3 20 .3-8.6 .3-2.7 .3 5.4 .3-7.7 .3 2.6 .3-8.9 .3 .6 .3 17.5 .3-1.4 .3-7.4 .3-2.1 .3 8.1 .3-1.5 .3-3.2 .3-.4 .3-5.3 .3 4.7 .3-.6 .3-.9 .3-3.7 .3 10.6 .3-10.4 .3 3.9 .3 5.5 .3-3 .3 5.3 .3 1.5 .3 1.9 .3-8.9 .3-3 .3 .4 .3-1.6 .3-2.7 .3 14.8 .3-7 .3 4.9 .3 .8 .3-11.7 .3 1.3 .3-5.4 .3 5.5 .3-4.9 .3 22.4 .3-16.7 .3-8.7 .3 7.2 .3 7.9 .3-5.1 .3-20.9 .3 38.5 .3-17 .3-9.2 .3-2.5 .3 .7 .3 3.7 .3 8.7 .3 .2 .3-4.5 .3-9.2 .3 18.2 .3-10 .3-4.7 .3-26.4 .3 30.7 .3 4.5 .3 2.2 .3-25.6 .3 17.6 .3-4.6 .3 1.2 .3-1.2 .3 .6 .3-5.8 .3 .3 .3-10.2 .3 14.8 .3 .9 .3-12.4 .3 11.6 .3 12.2 .3-22.7 .3-6.1 .3 37.5 .3-29.6 .3-12.9 .3 11.2 .3 17.6 .3-19.6 .3 2.9 .3-11 .3 26.6 .3-19.6 .3-1.5 .3 17.9 .3-22 .3 33 .3-14.3 .3-3.6 .3 9.2 .3-19.4 .3 2 .3 22.4 .3-11 .3-22.5 .3 38.1 .3-20.7 .3 5.9 .3 6.1 .3-.3 .3-6.2 .3-16.7 .3 22.4 .3-24.8 .3 19.6 .3-4.9 .3-5 .3 1 .3-.3 .3-6.2 .3 19.9 .3 .4 .3-4.6 .3-16.9 .3 22.9 .3-30.7 .3 30.6 .3 5.2 .3-17.4 .3 6.9 .3 5.7 .3-1.1 .3-21 .3 19.9 .3-6.7 .3 3.7 .3-14.1 .3 17.4 .3 12.6 .3 8.7 .3-23.7 .3-5.3 .3 11.7 .3 6.2 .3-16.4 .3-10.9 .3 18.7 .3-3.2 .3-3.3 .3 10.1 .3-1.1 .3-1.6 .3-8.3 .3 3.9 .3 16.8 .3-21.1 .3 6.7 .3-1.8 .3 4.4 .3-11.7 .3 12.2 .3 .3 .3 7 .3 1.4 .3-20.3 .3-5.5 .3 15.4 .3-4.3 .3-2.8 .3-2.4 .3 3.4 .3 15.2 .3-12.8 .3 19 .3-23.2 .3 10.5 .3-2.9 .3 3.8 .3 9.1 .3-10.5 .3 5.8 .3-6.9 .3-5.1 .3 3.2 .3-7.3 .3 6.8 .3 6.5 .3-12 .3 19.4 .3-34.3 .3 23.8 .3-5.3 .3 2 .3-6.2 .3 10.4 .3-4.9 .3 4.9 .3 6.2 .3-29 .3-2.4 .3 10.7 .3 8.5 .3-2.6 .3-9.5 .3 6.4 .3 1.9 .3 .9 .3-5 .3 22.4 .3-33.5 .3 15.5 .3-2.8 .3-3.5 .3-3.4 .3-3 .3 12.4 .3-7.9 .3-5.7 .3 1.8 .3 7.9 .3-4.2 .3 18.4 .3-14.3 .3-1.3 .3 7.5 .3-11.4 .3 11.6 .3-.6 .3-5.1 .3-1.5 .3 3.3 .3 5.6 .3 4.4 .3-19.2 .3 10.8 .3 2.9 .3-5.5 .3 10.7 .3-10.9 .3-2.3 .3-1.3 .3-8.2 .3 19.8 .3-8.7 .3 15.8 .3-2.9 .3-11.3 .3 10.3 .3-16 .3-.6 .3 18.5 .3-10 .3 5.8 .3-5.4 .3 9.5 .3-9 .3 10.2 .3 8.4 .3-7.6 .3 .4 .3-7.9 .3-8 .3 7 .3-6.4 .3 8.8 .3 15.8 .3-1.1 .3-9.1 .3-2 .3-1.1 .3 3.5 .3 .3 .3 4.2 .3 9.1 .3-28.1 .3-8 .3 22.8 .3-14.2 .3 8.6 .3 10.6 .3-5.5 .3 6.2 .3-6.2 .3-13 .3 14.6 .3 9 .3-7.4 .3-19.2 .3 25.4 .3-1.6 .3-2.4 .3 .3 .3-12.4 .3 8.6 .3 4.2 .3 1.3 .3-.9 .3-1.1 .3-11 .3-2.6 .3 12.9 .3-6.4 .3 5.6 .3-15.3 .3 5.1 .3 15.9 .3 4.2 .3-12.7 .3-2.4 .3-9.8 .3 15.8 .3 10.5 .3-18.1 .3 19 .3-14.4 .3-8 .3 6.3 .3 4.7 .3-14.1 .3 5.6 .3 2.4 .3 4.1 .3-1.1 .3 .3 .3-1 .3 2.7 .3-2.6 .3 2 .3-2 .3 1.3 .3-4.3 .3 2.4 .3-4.5 .3 6.4 .3-2 .3-1.8 .3 1.5 .3 2.8 .3-1.5 .3-2.2 .3 8.8 .3-9 .3-.3 .3-6.1 .3 7.7 .3-4.1 .3 2.8 .3 2.9 .3-4.7 .3 2.4 .3 .5 .3-.3 .3 10.4 .3-16 .3 9.7 .3 1.1 .3-5.3 .3 1.1 .3 2.4 .3-5.3 .3 9.6 .3-16.2 .3 5.6 .3 2.5 .3 2.7 .3 2.5 .3-8.3 .3 9.3 .3-12.2 .3-6.7 .3 16.3 .3-3 .3 1.7 .3-3.6 .3-2.3 .3 5.2 .3 1.2 .3 3.1 .3-2.5 .3-2.8 .3-10 .3 14.9 .3-4.4 .3-7.1 .3-1.1 .3 21.2 .3-12 .3-1.4 .3 4.7 .3-10.3 .3 8.6 .3-3.2 .3-10.6 .3 11.8 .3-7 .3 1.9 .3 6.2 .3 .3 .3-8.7 .3 1.8 .3 4.5 .3 1.7 .3-4.5 .3-6.3 .3 10.6 .3 1.6 .3 2.4 .3-4.7 .3-3.6 .3-1.8 .3 5.3 .3 9.1 .3-9.2 .3 2.4 .3-5.6 .3 16.9 .3-12.9 .3 6.1 .3-9.1 .3-4.2 .3 12.4 .3-3 .3-4.5 .3 1.1 .3 4.7 .3-2.9 .3 11 .3-8.1 .3-1.9 .3-9.4 .3 8 .3-1.9 .3 3.1 .3-3.4 .3 6.2 .3 .2 .3 2.6 .3-7 .3 11.4 .3-12.8 .3 9.4 .3-9.4 .3-5.2 .3 10.1 .3-8.7 .3 4.1 .3 1.2 .3-.6 .3 6.5 .3-8.6 .3-.6 .3 5.4 .3 5.3 .3-11 .3 7.1 .3-9.3 .3-3.6 .3 10.9 .3-2.5 .3 1.8 .3-5.3 .3 6.8 .3-3.8 .3 4.6 .3-2 .3-15.1 .3 9 .3-3.7 .3 4.7 .3 6.7 .3-6.7 .3 6.1 .3-2.8 .3-10.8 .3 10.7 .3-2.7 .3 6.2 .3-9.4 .3-10.6 .3 15.2 .3-6.1 .3 2.2 .3 .7 .3-6.3 .3 7.8 .3-14.6 .3 9.3 .3-3.2 .3 3 .3 7.7 .3-4.5 .3-9.7 .3 10.8 .3 4.6 .3-5.8 .3-7 .3 21.3 .3-11 .3-1.7 .3 1.1 .3-14.5 .3 15.2 .3-12.6 .3 11.5 .3 .5 .3 6.7 .3-9.1 .3 4.7 .3-13.2 .3 11.3 .3-4.5 .3-1.3 .3 8.3 .3-12.9 .3 2.4 .3-7 .3-5 .3 11.2 .3-.4 .3 11.2 .3-3.1 .3-6.1 .3 1.1 .3 6.4 .3 1.4 .3-9.5 .3 14.2 .3-9.4 .3 7.7 .3-1.2 .3-7.8 .3 .6 .3 1.5 .3 19.7 .3-17.9 .3-2.2 .3-3.4 .3-7.1 .3 9.6 .3-6.7 .3 20.3 .3-9 .3-1.9 .3-2 .3-.9 .3-4.9 .3 6.6 .3-5.8 .3 14.1 .3-5.4 .3-4.9 .3 4.1 .3-6.9 .3-.6 .3 11.3 .3-19.1 .3 11.1 .3 11.5 .3-8.7 .3 1.3 .3 4.8 .3 .1 .3-5.6 .3-6.5 .3 19.3 .3-11.9 .3-5.9 .3 3.4 .3 3 .3 13 .3-15.8 .3 5.1 .3-3.8 .3 6.9 .3-2.7 .3-6.3 .3 5.3 .3-15.7 .3 28.2 .3-12.5 .3 .5 .3 5.2 .3-9.6 .3-1.8 .3 4.6 .3-.8 .3-18.5 .3 18.1 .3 4.3 .3-2 .3 1.6 .3-1.3 .3 2.9 .3-6.2 .3 22.9 .3-29.2 .3 24.4 .3-4.3 .3-20.8 .3 4.6 .3 10.3 .3-9.3 .3-12.8 .3 14.9 .3-9.9 .3 9.4 .3-18.7 .3 26.2 .3-23.8 .3 23.6 .3-3.8 .3-8.2 .3 5.9 .3 13.5 .3-19.3 .3 16.6 .3-13.1 .3-1.5 .3 12.2 .3-24.4 .3 10.4 .3 6 .3 14.9 .3-11.7 .3 4.1 .3-15.9 .3-9.4 .3 21.9 .3-8.1 .3-7.3 .3 1 .3-.7 .3-4.5 .3 24.9 .3-11.7 .3-8.2 .3 6.7 .3 .5 .3 15.9 .3-21.8 .3 14.9 .3-4 .3-23.5 .3 17.9 .3-1.7 .3-11.2 .3-4.9 .3 32.1 .3-25.6 .3-13.1 .3 11.8 .3 6.6 .3 .4 .3 27.7 .3-24.3 .3 9.2 .3-12.9 .3 17 .3-11.7 .3 14.2 .3-24.8 .3 16 .3-1.2 .3-4.3 .3-10.9 .3-5 .3 18.2 .3-13 .3 6.8 .3 3.1 .3-.2 .3-9.8 .3 15.3 .3-9.4 .3 .5 .3 8.7 .3-13.7 .3 7.6 .3 6.5 .3-7.9 .3-.2 .3 18.7 .3-15.1 .3 8.5 .3-27.3 .3 27.5 .3-8.3 .3 2.2 .3-17 .3 15.6 .3-10.8 .3 9.5 .3-2.4 .3-6.6 .3 6.8 .3 8.4 .3-5.2 .3-7.4 .3 16.1 .3-21 .3 18.8 .3-8.5 .3-.9 .3 19 .3-10.9 .3-10.8 .3-5.9 .3 12.6 .3 3 .3-12 .3 4.4 .3-5.7 .3 6.8 .3-5.7 .3 17.3 .3-5.2 .3 10.6 .3-9.1 .3-6.1 .3 4.2 .3-13.9 .3 8.9 .3-7 .3 17.8 .3-10.6 .3-5.3 .3 7.9 .3-20.4 .3 18.5 .3 6 .3-12.1 .3 3 .3 20.9 .3-28.3 .3 16.1 .3-3.5 .3 13 .3-20.9 .3 11.1 .3-22.3 .3 9.2 .3 6.8 .3 0 .3 11.8 .3-13.7 .3 12.1 .3 4.9 .3-14.9 .3-9.5 .3 1.2 .3 10.7 .3-9.6 .3 11.9 .3-2.4 .3-4.1 .3-2.8 .3 7.6 .3 .2 .3-10 .3 16.4 .3-8.8 .3 9.2 .3-8.1 .3-4.5 .3 6.9 .3-10.4 .3 1.8 .3 2.5 .3-1.9 .3 10.7 .3-10.9 .3-.4 .3 0 .3 13.4 .3-20.3 .3 6.2 .3 7.9 .3 1.8 .3-14.1 .3 10.7 .3-5.9 .3 5.3 .3 .5 .3 6.6 .3-1.7 .3-1.3 .3-.8 .3-7.5 .3 3.9 .3 10.6 .3 2.6 .3 5.8 .3-23 .3 2.8 .3 1.1 .3 5.4 .3 9.2 .3-11.2 .3 5.2 .3-6.1 .3 1.6 .3-11.8 .3 4.5 .3 16.2 .3-13.7 .3 3.6 .3-3 .3 1.7 .3 3.2 .3-1.8 .3-6.4 .3-1.5 .3 5.1 .3-.1 .3-2.2 .3 1.1 .3-4.7 .3 2.3 .3 7.3 .3-7.5 .3 8.6 .3-3 .3-3.3 .3 5.5 .3-1.7 .3-.3 .3 4.4 .3 1 .3-4.1 .3 3.3 .3-6.7 .3 4.5 .3-8.2 .3 2.1 .3 3.2 .3 7.8 .3-9.2 .3 5 .3 1.9 .3-1.4 .3-2.3 .3-1.7 .3 9.4 .3-3.9 .3-4.5 .3-2.4 .3 4.7 .3-.3 .3-1.2 .3-3.9 .3 10.5 .3 5.6 .3-9.1 .3-.3 .3-3.6 .3 4.2 .3-3.6 .3-5.4 .3 8.6 .3 10.8 .3-7.1 .3 5.4 .3-12.8 .3-3.4 .3-11.5 .3 10.8 .3 4.4 .3-1.1 .3-6.3 .3 1.3 .3 4.5 .3 16.1 .3-15.7 .3 3.3 .3 7.6 .3-7.6 .3 1.6 .3 4.3 .3-13.4 .3 16.1 .3 1.6 .3-18.1 .3 9 .3 4.3 .3-2.7 .3-5 .3-2.6 .3 16.1 .3-10.4 .3-11.2 .3 14.7 .3 4 .3-13 .3 1.2 .3 10.3 .3 1.6 .3-13.5 .3 1.5 .3 8.8 .3-8.4 .3 2 .3-3.2 .3 1 .3 9.1 .3 12.9 .3-15.9 .3-2.3 .3 4.5 .3-7.1 .3 1.9 .3-11.4 .3-.7 .3 15.7 .3-5.2 .3 12.5 .3-29.9 .3 2.8 .3 20.8 .3-6.2 .3 4.1 .3-3.6 .3-13.6 .3 11.1 .3 .6 .3 7 .3-1.6 .3 4 .3 2.2 .3-17.7 .3 16.8 .3-9.2 .3-1.7 .3 9.2 .3-18.8 .3 15 .3 2.2 .3-2.6 .3-20.1 .3 26.5 .3-14 .3 6.4 .3 1.9 .3-17.4 .3 15 .3 8.6 .3-7 .3-20.4 .3 4 .3 15.9 .3-9.1 .3-3.5 .3 13.9 .3 1.4 .3 4.8 .3-3.4 .3-5.6 .3-16 .3 4.9 .3 12.8 .3 4.2 .3-24 .3 17.7 .3-13.9 .3 6.4 .3 14.9 .3-5.6 .3-7.2 .3 .5 .3-1.2 .3-.7 .3-4 .3 17.3 .3 2 .3 2.8 .3-13.5 .3 2.6 .3-2.4 .3-2.9 .3 11.4 .3-8 .3 5.7 .3-8 .3 6.3 .3-.4 .3 6.1 .3-15.6 .3 17.8 .3-16.1 .3-5.3 .3 12.3 .3-5 .3 17.6 .3-23 .3 8.5 .3 8 .3-4.5 .3-7.9 .3 3.4 .3 13.8 .3-8.6 .3 6.3 .3-5.4 .3-2.3 .3-2.7 .3-1.7 .3 12.7 .3-9 .3 7.1 .3-15.1 .3 20.6 .3-16.8 .3 10.2 .3-2.7 .3-8.3 .3 12.6 .3-20 .3 8.8 .3 7.1 .3-7.4 .3-4.8 .3 13.6 .3-7.2 .3 16.1 .3-20.1 .3 17.4 .3-14.9 .3 9.6 .3-.8 .3 3.1 .3-7.2 .3 1.6 .3-3.2 .3 1.8 .3 4.8 .3-3.3 .3 1.4 .3 .5 .3 2.8 .3-7.2 .3-9.9 .3 18.2 .3-12.9 .3 8.6 .3-5.2 .3 4.6 .3-4.1 .3 14.3 .3-8.8 .3-4.7 .3 20.5 .3-9.5 .3-20.8 .3 23.4 .3-16.8 .3 3 .3-4.4 .3 8.1 .3-2.5 .3-.4 .3 .7 .3-2.3 .3 9.1 .3-7.9 .3-9.3 .3 .5 .3 17 .3-1.3 .3-1.9 .3 2.4 .3-9.1 .3-9.4 .3 12.8 .3-7.3 .3 16.5 .3-13.4 .3 1.3 .3-6.2 .3 9.2 .3 3.3 .3-9.6 .3 13.2 .3-4.3 .3-7.4 .3-8.6 .3 11.6 .3-.8 .3 .4 .3 1.2 .3-3.5 .3-1.3 .3 4.7 .3 1.9 .3-1.3 .3-9 .3 4 .3-9.8 .3 10.9 .3 .2 .3 2.3 .3-3.8 .3 4 .3-2.9 .3 2.9 .3-6.5 .3 3.9 .3 6.7 .3-7.4 .3 .6 .3-8.5 .3 .7 .3 3.2 .3 3.8 .3 3.9 .3 3.2 .3-6.4 .3-1.5 .3 .7 .3-5.8 .3-.5 .3-1.6 .3 3.5 .3 2.6 .3-.5 .3-5 .3 3 .3 2 .3 7.9 .3 2 .3-9 .3 4.9 .3-3.7 .3-9.5 .3 18.3 .3-15.6 .3 4 .3 3.1 .3-6.7 .3 6.9 .3-11.3 .3 6.8 .3 1.4 .3 1.6 .3-3.8 .3-.3 .3 4.3 .3-3.9 .3 4.3 .3 3 .3 .7 .3-4.4 .3 10.1 .3-16 .3 .2 .3 3.2 .3-4.1 .3-3.2 .3 3.8 .3 14.2 .3 .5 .3-20.5 .3 11.4 .3-5 .3 3.2 .3-.9 .3-7.9 .3 5.3 .3-11.8 .3 8.3 .3 16.9 .3-4 .3 7.8 .3-23.4 .3 4.8 .3 5.7 .3-3.6 .3-1 .3 12.2 .3-1.7 .3-1.2 .3-9.9 .3 6.8 .3-7.9 .3 16.3 .3-4.2 .3-1.1 .3 5.9 .3-.7 .3-3.2 .3-8.9 .3-6 .3 4.7 .3-6.4 .3 15.3 .3-9.4 .3 14.6 .3 9.7 .3-16.7 .3-3.2 .3 9.2 .3 13.2 .3-20 .3 16.5 .3-26.9 .3 6.7 .3 8.6 .3-2 .3 9.4 .3-12.2 .3-2.8 .3 15.7 .3-9.7 .3 10.7 .3-11.6 .3-15.9 .3 17.5 .3-6.1 .3 2.9 .3 9.7 .3-14.8 .3 20.8 .3-12.1 .3 5.2 .3-16.4 .3 4.9 .3-3.5 .3 14.7 .3-3.9 .3-22.5 .3 10.6 .3 6.4 .3 2.7 .3-7.2 .3 4.7 .3 2.7 .3-11.3 .3 16.2 .3-12.5 .3 12.4 .3-3.6 .3 2.9 .3-8.7 .3 3.6 .3-4.9 .3 8.8 .3-21.6 .3 18.9 .3-12.9 .3 8.6 .3-18 .3 18 .3-9.4 .3-.2 .3 8.7 .3-6 .3-7 .3 11.5 .3 10.4 .3-1 .3-17.2 .3-2.2 .3 3.6 .3 15.3 .3-18.8 .3 8.3 .3-4.7 .3-13.9 .3 18.2 .3-1.4 .3-19.4 .3 22.3 .3-5.8 .3-.3 .3 7.2 .3-27.5 .3 21.7 .3 6.2 .3-20.4 .3 3.2 .3 15.7 .3 7.8 .3-16.6 .3 15.3 .3-12.5 .3 17.3 .3-15.6 .3 14.9 .3-19.4 .3 3.1 .3 8.5 .3-5.3 .3 19 .3-27.8 .3 18.7 .3-5.1 .3 3.9 .3-16.7 .3 11.3 .3 2.1 .3-6.2 .3 13.6 .3-19.5 .3 6.3 .3 1.5 .3 11 .3-9.9 .3-2.4 .3 3.9 .3-6.1 .3 1 .3 3.2 .3-2.6 .3-12.2 .3 13.5 .3 .2 .3-.5 .3 2.7 .3-9.8 .3-3 .3 8.1 .3 2 .3 3.2 .3-.3 .3 6.3 .3 5.9 .3-9 .3-3.9 .3-1 .3 12.1 .3-7 .3-2.9 .3-1.1 .3 20.7 .3-17.9 .3 10.6 .3-6.6 .3-6.8 .3 5.8 .3 2.7 .3-17.1 .3 9.2 .3-4.7 .3 4.3 .3 5.3 .3 1 .3-8.7 .3 15.2 .3-15.5 .3 3.4 .3-.1 .3 9.2 .3-9.7 .3 9 .3-6.4 .3 1.4 .3-1.5 .3-13.4 .3 3.7 .3 17.5 .3-2.6 .3-4 .3 6.6 .3-10.8 .3 11.4 .3-7.6 .3-2.6 .3 6.4 .3-9 .3-.7 .3 .1 .3 18.4 .3-12 .3 1.1 .3 4.1 .3-12.3 .3 4.8 .3 4.5 .3-6.7 .3 3.1 .3 1.5 .3-5.4 .3-2.7 .3 16 .3-5 .3-7 .3 13.5 .3-2.5 .3-10.1 .3 9.5 .3-8.4 .3 2 .3-1 .3 10 .3-13.2 .3 13.3 .3-2.6 .3-14.8 .3 9.6 .3 .7 .3 3.4 .3-1.1 .3-1.8 .3-1.5 .3-9 .3 10.2 .3 6.2 .3-5.8 .3-1.4 .3-.5 .3-7.3 .3 8.5 .3-2.6 .3 .2 .3 .3 .3 .1 .3-5.2 .3 9.1 .3-6.6 .3 2.7 .3-.8 .3 14.6 .3-17.3 .3 8.5 .3-2.7 .3 6.2 .3-3.1 .3-13 .3 10.8 .3-10.9 .3 12.2 .3-4.7 .3-.1 .3 6.1 .3-9.6 .3 8.7 .3 4.7 .3-12.1 .3-1.4 .3 5.4 .3-3.3" fill="none" stroke="#0a0a0a" stroke-width="0.85" stroke-linejoin="bevel"/>
</g>
<path d="M685.50 706.27v-3.90M685.50 632.44v3.90M703.50 706.27v-3.90M703.50 632.44v3.90M722.50 706.27v-10.80M722.50 632.44v10.80M740.50 706.27v-3.90M740.50 632.44v3.90M758.50 706.27v-3.90M758.50 632.44v3.90M776.50 706.27v-3.90M776.50 632.44v3.90M795.50 706.27v-3.90M795.50 632.44v3.90M813.50 706.27v-10.80M813.50 632.44v10.80M831.50 706.27v-3.90M831.50 632.44v3.90M850.50 706.27v-3.90M850.50 632.44v3.90M868.50 706.27v-3.90M868.50 632.44v3.90M886.50 706.27v-3.90M886.50 632.44v3.90M904.50 706.27v-10.80M904.50 632.44v10.80M923.50 706.27v-3.90M923.50 632.44v3.90M941.50 706.27v-3.90M941.50 632.44v3.90M959.50 706.27v-3.90M959.50 632.44v3.90M978.50 706.27v-3.90M978.50 632.44v3.90M996.50 706.27v-10.80M996.50 632.44v10.80M1014.50 706.27v-3.90M1014.50 632.44v3.90M1032.50 706.27v-3.90M1032.50 632.44v3.90M1051.50 706.27v-3.90M1051.50 632.44v3.90M1069.50 706.27v-3.90M1069.50 632.44v3.90M1087.50 706.27v-10.80M1087.50 632.44v10.80M1105.50 706.27v-3.90M1105.50 632.44v3.90" stroke="#000" stroke-width="1.0" fill="none"/>
<path d="M668.80 648.50h6.30M1122.50 648.50h-6.30M668.80 666.50h6.30M1122.50 666.50h-6.30M668.80 685.50h6.30M1122.50 685.50h-6.30M668.80 703.50h6.30M1122.50 703.50h-6.30M668.80 699.64h2.60M1122.50 699.64h-2.60M668.80 695.98h2.60M1122.50 695.98h-2.60M668.80 692.32h2.60M1122.50 692.32h-2.60M668.80 688.66h2.60M1122.50 688.66h-2.60M668.80 681.34h2.60M1122.50 681.34h-2.60M668.80 677.68h2.60M1122.50 677.68h-2.60M668.80 674.02h2.60M1122.50 674.02h-2.60M668.80 670.36h2.60M1122.50 670.36h-2.60M668.80 663.04h2.60M1122.50 663.04h-2.60M668.80 659.38h2.60M1122.50 659.38h-2.60M668.80 655.72h2.60M1122.50 655.72h-2.60M668.80 652.06h2.60M1122.50 652.06h-2.60M668.80 644.74h2.60M1122.50 644.74h-2.60M668.80 641.08h2.60M1122.50 641.08h-2.60M668.80 637.42h2.60M1122.50 637.42h-2.60" stroke="#000" stroke-width="1.0" fill="none"/>
<rect x="668.80" y="632.44" width="453.70" height="73.83" fill="none" stroke="#000" stroke-width="1.4"/>
<text x="666.30" y="652.29" font-size="10.8" text-anchor="end">0.05</text>
<text x="666.30" y="670.59" font-size="10.8" text-anchor="end">0.00</text>
<text x="666.30" y="688.89" font-size="10.8" text-anchor="end">-0.05</text>
<text x="666.30" y="707.19" font-size="10.8" text-anchor="end">-0.10</text>
<text transform="translate(642.20 670.90) rotate(-90)" font-size="11" text-anchor="middle">J*E' [nW m<tspan font-size="8.6" dy="-4.6">-3</tspan><tspan dy="4.6">&#8203;</tspan>]</text>
<path d="M674.50 647.60h18.00" stroke="#555" stroke-width="0.9" fill="none"/>
<text x="695.60" y="651.20" font-size="10" fill="#333">J*E'</text>
<text x="722.10" y="724.00" font-size="10.8" fill="#000" text-anchor="middle">12:26:20</text>
<text x="722.10" y="745.70" font-size="10.8" fill="#000" text-anchor="middle">7.71</text>
<text x="722.10" y="763.60" font-size="10.8" fill="#000" text-anchor="middle">8.31</text>
<text x="722.10" y="780.50" font-size="10.8" fill="#000" text-anchor="middle">-0.288</text>
<text x="813.50" y="724.00" font-size="10.8" fill="#000" text-anchor="middle">12:26:30</text>
<text x="813.50" y="745.70" font-size="10.8" fill="#000" text-anchor="middle">7.71</text>
<text x="813.50" y="763.60" font-size="10.8" fill="#000" text-anchor="middle">8.31</text>
<text x="813.50" y="780.50" font-size="10.8" fill="#000" text-anchor="middle">-0.287</text>
<text x="904.90" y="724.00" font-size="10.8" fill="#000" text-anchor="middle">12:26:40</text>
<text x="904.90" y="745.70" font-size="10.8" fill="#000" text-anchor="middle">7.71</text>
<text x="904.90" y="763.60" font-size="10.8" fill="#000" text-anchor="middle">8.31</text>
<text x="904.90" y="780.50" font-size="10.8" fill="#000" text-anchor="middle">-0.287</text>
<text x="996.30" y="724.00" font-size="10.8" fill="#000" text-anchor="middle">12:26:50</text>
<text x="996.30" y="745.70" font-size="10.8" fill="#000" text-anchor="middle">7.71</text>
<text x="996.30" y="763.60" font-size="10.8" fill="#000" text-anchor="middle">8.31</text>
<text x="996.30" y="780.50" font-size="10.8" fill="#000" text-anchor="middle">-0.287</text>
<text x="1087.70" y="724.00" font-size="10.8" fill="#000" text-anchor="middle">12:27:00</text>
<text x="1087.70" y="745.70" font-size="10.8" fill="#000" text-anchor="middle">7.71</text>
<text x="1087.70" y="763.60" font-size="10.8" fill="#000" text-anchor="middle">8.32</text>
<text x="1087.70" y="780.50" font-size="10.8" fill="#000" text-anchor="middle">-0.286</text>
<text x="646.50" y="745.70" font-size="10.5" fill="#000">X</text>
<text x="1135.50" y="745.70" font-size="10.5" fill="#000">Re</text>
<text x="646.50" y="763.60" font-size="10.5" fill="#000">Y</text>
<text x="1135.50" y="763.60" font-size="10.5" fill="#000">Re</text>
<text x="646.50" y="780.50" font-size="10.5" fill="#000">Z</text>
<text x="1135.50" y="780.50" font-size="10.5" fill="#000">Re</text>
<text x="1020.30" y="838.00" font-size="12" fill="#000">paschmann 21-Nov-2018 13:25</text>
<text x="626.50" y="11.80" font-size="10.93" fill="#000">Plot layout GP 19/10/2018</text>
<text x="868.60" y="35.00" font-size="17.6" fill="#000">MMS2</text>
<text x="995.90" y="24.40" font-size="18.0" fill="#900000" font-weight="bold">20161101_122614</text>
</g>
</svg>
<pre>:
 Event ID         : 20161101_122614
 FlagStr          : msh,udef,nmon,bf,mult,part,keep
 GSEpos [Re]      : [ 7.72, 8.30, -0.29 ]
                  :
 LMN coords       :
    L             : [  0.973,  0.198,  0.115 ]
    M             : [ -0.209,  0.973,  0.099 ]
    N             : [  0.093,  0.121, -0.988 ]
                  :
  Times           : (as indicated by red, green lines in plots)
    t_0           : 12:26:28  (red dotted line)
    t_MVAB1       : 12:26:23  (leftmost green line)
    t_MVAB2       : 12:26:33  (rightmost green line)
                  :
|Bmin|, |Vmax|    :
    Bmin          : 25.72 [nT]  at 12:26:31
    Vmax_tht      : 183.29 [km/s]  at 12:26:31
    Vmax_tburst   : 185.61 [km/s]  at 12:26:33
                  :
 Normals          :
    N MVAB        : [  0.256,  0.740, -0.622 ]   (L2/L1 = 15.44)
    N MVAB0       : [  0.023,  0.805,  0.593 ]   (L3/L2 = 9.26)
    N MFR         : [  0.097,  0.992,  0.084 ]   (L2/L1 = 1.33)
                  :
 Durations [s]    : (between red, resp green lines)
    T_CS          : 5.19
    T_MFR/HT      : 10.38
                  :
 Velocity [km/s]  : (based on FPI ion data)
    VnMFR         : 57.9
    VHT.Nmvab     : 27.0  (HTcc = 0.991)
    VHT.Nmvab0    : 129.5
                  :
 CS thickness [km]: (D=T_CS * Vs from above)
    D1=TCS*Vnmfr  : 300
    D2=TCS*VHTn   : 140
    D3=TCS*VHTn0  : 672
                  :
 Currents [uA/m2] :
    Jave_CS       : 0.035
    Jmax_THT      : 0.197  at 12:26:31
    Jmax_brst     : 0.197  at 12:26:31
                  :
 HPCA mom [1/cm3] :   Min   -  Max    (  Ave   )  within full brst int
    H+            :  17.212 - 22.028  ( 22.028 )
    He+           :   0.000 -  0.002  (  0.000 )
    He++          :   0.480 -  0.718  (  0.718 )
    O+            :   0.000 -  0.003  (  0.000 )
                  :
 SEH date         : 2019-11-29 10:03:05
                  :</pre>
</body></html>
